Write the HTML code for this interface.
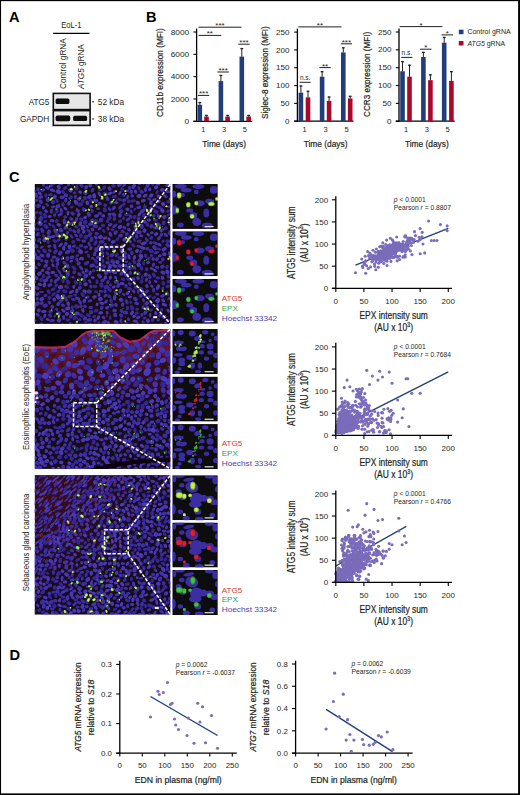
<!DOCTYPE html>
<html><head><meta charset="utf-8"><title>Figure</title><style>
html,body{margin:0;padding:0;background:#fff}
body{width:520px;height:795px;overflow:hidden;position:relative}
svg{position:absolute;left:0;top:0;display:block}
text{font-family:"Liberation Sans",sans-serif}
.hv,.hv text{stroke:#231f20;stroke-width:0.22px}
</style></head><body>
<svg width="520" height="795" viewBox="0 0 520 795">
<g fill="#231f20">
<rect x="0" y="0" width="520" height="1.15" fill="#000" />
<rect x="0" y="0" width="1.05" height="795" fill="#000" />
<rect x="518.1" y="0" width="1.9" height="795" fill="#000" />
<rect x="0" y="793.4" width="520" height="1.6" fill="#000" />
<text x="9" y="21.7" font-size="14.6" fill="#000" font-weight="bold">A</text>
<text x="146" y="21.6" font-size="14.6" fill="#000" font-weight="bold">B</text>
<text x="9" y="182.3" font-size="14.6" fill="#000" font-weight="bold">C</text>
<text x="9.6" y="660.2" font-size="14.6" fill="#000" font-weight="bold">D</text>
<text x="71.3" y="27.8" font-size="9.1" text-anchor="middle" textLength="20.3" lengthAdjust="spacingAndGlyphs">EoL-1</text>
<line x1="53.2" y1="33.3" x2="89.5" y2="33.3" stroke="#000" stroke-width="1.2" />
<text transform="translate(66.1,63.6) rotate(-90)" font-size="9.4" text-anchor="middle" textLength="50.8" lengthAdjust="spacingAndGlyphs">Control gRNA</text>
<text transform="translate(83.6,66.6) rotate(-90)" font-size="9.4" text-anchor="middle" textLength="44.8" lengthAdjust="spacingAndGlyphs"><tspan font-style="italic">ATG5</tspan> gRNA</text>
<rect x="53.3" y="93.4" width="36.8" height="16.2" fill="#e6e6e6" stroke="#111" stroke-width="1.6"/>
<rect x="53.3" y="110.6" width="36.8" height="14.8" fill="#e8e8e8" stroke="#111" stroke-width="1.6"/>
<defs><filter id="bl" x="-20%" y="-50%" width="140%" height="200%"><feGaussianBlur stdDeviation="0.7"/></filter><filter id="bl2" x="-5%" y="-5%" width="110%" height="110%"><feGaussianBlur stdDeviation="0.35"/></filter></defs>
<g filter="url(#bl)">
<rect x="55.6" y="98.4" width="13.8" height="5.6" rx="1.6" fill="#0a0a0a"/>
<rect x="55.6" y="115.6" width="14.6" height="5.6" rx="1.6" fill="#0a0a0a"/>
<rect x="73.1" y="115.8" width="14.0" height="5.2" rx="1.6" fill="#111"/>
</g>
<text x="49.3" y="105.2" font-size="9.3" text-anchor="end" textLength="20.6" lengthAdjust="spacingAndGlyphs">ATG5</text>
<text x="49.3" y="122.3" font-size="9.3" text-anchor="end" textLength="29.4" lengthAdjust="spacingAndGlyphs">GAPDH</text>
<rect x="92.2" y="101.2" width="1.6" height="1.2" fill="#231f20" />
<rect x="92.2" y="118.4" width="1.6" height="1.2" fill="#231f20" />
<text x="97.8" y="105.2" font-size="9.3" textLength="26.2" lengthAdjust="spacingAndGlyphs">52 kDa</text>
<text x="97.8" y="122.3" font-size="9.3" textLength="26.2" lengthAdjust="spacingAndGlyphs">38 kDa</text>
<line x1="196.6" y1="28.6" x2="196.6" y2="121.95" stroke="#000" stroke-width="1.3" />
<line x1="193.4" y1="121.3" x2="252.3" y2="121.3" stroke="#000" stroke-width="1.3" />
<line x1="193.4" y1="121.3" x2="196.6" y2="121.3" stroke="#000" stroke-width="1.1" />
<text x="189.2" y="123.9" font-size="7.4" text-anchor="end" textLength="4.63" lengthAdjust="spacingAndGlyphs">0</text>
<line x1="193.4" y1="98.97" x2="196.6" y2="98.97" stroke="#000" stroke-width="1.1" />
<text x="189.2" y="101.57" font-size="7.4" text-anchor="end" textLength="18.52" lengthAdjust="spacingAndGlyphs">2000</text>
<line x1="193.4" y1="76.65" x2="196.6" y2="76.65" stroke="#000" stroke-width="1.1" />
<text x="189.2" y="79.25" font-size="7.4" text-anchor="end" textLength="18.52" lengthAdjust="spacingAndGlyphs">4000</text>
<line x1="193.4" y1="54.33" x2="196.6" y2="54.33" stroke="#000" stroke-width="1.1" />
<text x="189.2" y="56.93" font-size="7.4" text-anchor="end" textLength="18.52" lengthAdjust="spacingAndGlyphs">6000</text>
<line x1="193.4" y1="32" x2="196.6" y2="32" stroke="#000" stroke-width="1.1" />
<text x="189.2" y="34.6" font-size="7.4" text-anchor="end" textLength="18.52" lengthAdjust="spacingAndGlyphs">8000</text>
<rect x="197.5" y="104.73" width="4.6" height="16.57" fill="#213e79" />
<line x1="199.8" y1="104.73" x2="199.8" y2="102.15" stroke="#231f20" stroke-width="1" />
<line x1="198.4" y1="102.55" x2="201.2" y2="102.55" stroke="#231f20" stroke-width="1.3" />
<rect x="204.2" y="116.61" width="4.6" height="4.69" fill="#a8092b" />
<line x1="206.5" y1="116.61" x2="206.5" y2="115.05" stroke="#231f20" stroke-width="1" />
<line x1="205.1" y1="115.45" x2="207.9" y2="115.45" stroke="#231f20" stroke-width="1.3" />
<rect x="218.6" y="81.1" width="4.6" height="40.2" fill="#213e79" />
<line x1="220.9" y1="81.1" x2="220.9" y2="75.01" stroke="#231f20" stroke-width="1" />
<line x1="219.5" y1="75.41" x2="222.3" y2="75.41" stroke="#231f20" stroke-width="1.3" />
<rect x="225.3" y="116.61" width="4.6" height="4.69" fill="#a8092b" />
<line x1="227.6" y1="116.61" x2="227.6" y2="115.05" stroke="#231f20" stroke-width="1" />
<line x1="226.2" y1="115.45" x2="229" y2="115.45" stroke="#231f20" stroke-width="1.3" />
<rect x="239.5" y="56.56" width="4.6" height="64.74" fill="#213e79" />
<line x1="241.8" y1="56.56" x2="241.8" y2="48.19" stroke="#231f20" stroke-width="1" />
<line x1="240.4" y1="48.59" x2="243.2" y2="48.59" stroke="#231f20" stroke-width="1.3" />
<rect x="246.4" y="116.5" width="4.6" height="4.8" fill="#a8092b" />
<line x1="248.7" y1="116.5" x2="248.7" y2="115.05" stroke="#231f20" stroke-width="1" />
<line x1="247.3" y1="115.45" x2="250.1" y2="115.45" stroke="#231f20" stroke-width="1.3" />
<line x1="198" y1="95.4" x2="209.2" y2="95.4" stroke="#231f20" stroke-width="1" />
<text x="200.5" y="96.4" font-size="8" text-anchor="middle">*</text>
<text x="203.6" y="96.4" font-size="8" text-anchor="middle">*</text>
<text x="206.7" y="96.4" font-size="8" text-anchor="middle">*</text>
<line x1="217.4" y1="72" x2="228.8" y2="72" stroke="#231f20" stroke-width="1" />
<text x="220" y="73" font-size="8" text-anchor="middle">*</text>
<text x="223.1" y="73" font-size="8" text-anchor="middle">*</text>
<text x="226.2" y="73" font-size="8" text-anchor="middle">*</text>
<line x1="238.3" y1="44.2" x2="249.7" y2="44.2" stroke="#231f20" stroke-width="1" />
<text x="240.9" y="45.2" font-size="8" text-anchor="middle">*</text>
<text x="244" y="45.2" font-size="8" text-anchor="middle">*</text>
<text x="247.1" y="45.2" font-size="8" text-anchor="middle">*</text>
<line x1="198.5" y1="35.4" x2="221.2" y2="35.4" stroke="#231f20" stroke-width="1" />
<text x="208.3" y="36.4" font-size="8" text-anchor="middle">*</text>
<text x="211.4" y="36.4" font-size="8" text-anchor="middle">*</text>
<line x1="198.5" y1="27.2" x2="241.5" y2="27.2" stroke="#231f20" stroke-width="1" />
<text x="216.9" y="28.2" font-size="8" text-anchor="middle">*</text>
<text x="220" y="28.2" font-size="8" text-anchor="middle">*</text>
<text x="223.1" y="28.2" font-size="8" text-anchor="middle">*</text>
<text x="203.4" y="132.3" font-size="7.5" text-anchor="middle">1</text>
<text x="224.1" y="132.3" font-size="7.5" text-anchor="middle">3</text>
<text x="244.9" y="132.3" font-size="7.5" text-anchor="middle">5</text>
<text class="hv" x="224.15" y="147.4" font-size="9.9" text-anchor="middle" textLength="43.8" lengthAdjust="spacingAndGlyphs">Time (days)</text>
<text class="hv" transform="translate(162.9,72.6) rotate(-90)" font-size="9.9" text-anchor="middle" textLength="88.7" lengthAdjust="spacingAndGlyphs">CD11b expression (MFI)</text>
<line x1="297.4" y1="28.6" x2="297.4" y2="121.85" stroke="#000" stroke-width="1.3" />
<line x1="294.2" y1="121.2" x2="353.5" y2="121.2" stroke="#000" stroke-width="1.3" />
<line x1="294.2" y1="121.2" x2="297.4" y2="121.2" stroke="#000" stroke-width="1.1" />
<text x="289.4" y="123.8" font-size="7.4" text-anchor="end" textLength="4.5" lengthAdjust="spacingAndGlyphs">0</text>
<line x1="294.2" y1="103.38" x2="297.4" y2="103.38" stroke="#000" stroke-width="1.1" />
<text x="289.4" y="105.98" font-size="7.4" text-anchor="end" textLength="9" lengthAdjust="spacingAndGlyphs">50</text>
<line x1="294.2" y1="85.56" x2="297.4" y2="85.56" stroke="#000" stroke-width="1.1" />
<text x="289.4" y="88.16" font-size="7.4" text-anchor="end" textLength="13.5" lengthAdjust="spacingAndGlyphs">100</text>
<line x1="294.2" y1="67.74" x2="297.4" y2="67.74" stroke="#000" stroke-width="1.1" />
<text x="289.4" y="70.34" font-size="7.4" text-anchor="end" textLength="13.5" lengthAdjust="spacingAndGlyphs">150</text>
<line x1="294.2" y1="49.92" x2="297.4" y2="49.92" stroke="#000" stroke-width="1.1" />
<text x="289.4" y="52.52" font-size="7.4" text-anchor="end" textLength="13.5" lengthAdjust="spacingAndGlyphs">200</text>
<line x1="294.2" y1="32.1" x2="297.4" y2="32.1" stroke="#000" stroke-width="1.1" />
<text x="289.4" y="34.7" font-size="7.4" text-anchor="end" textLength="13.5" lengthAdjust="spacingAndGlyphs">250</text>
<rect x="298.6" y="92.69" width="4.6" height="28.51" fill="#213e79" />
<line x1="300.9" y1="92.69" x2="300.9" y2="85.56" stroke="#231f20" stroke-width="1" />
<line x1="299.5" y1="85.96" x2="302.3" y2="85.96" stroke="#231f20" stroke-width="1.3" />
<rect x="305.7" y="97.32" width="4.6" height="23.88" fill="#a8092b" />
<line x1="308" y1="97.32" x2="308" y2="90.91" stroke="#231f20" stroke-width="1" />
<line x1="306.6" y1="91.31" x2="309.4" y2="91.31" stroke="#231f20" stroke-width="1.3" />
<rect x="319.8" y="76.65" width="4.6" height="44.55" fill="#213e79" />
<line x1="322.1" y1="76.65" x2="322.1" y2="71.3" stroke="#231f20" stroke-width="1" />
<line x1="320.7" y1="71.7" x2="323.5" y2="71.7" stroke="#231f20" stroke-width="1.3" />
<rect x="326.8" y="100.89" width="4.6" height="20.31" fill="#a8092b" />
<line x1="329.1" y1="100.89" x2="329.1" y2="96.61" stroke="#231f20" stroke-width="1" />
<line x1="327.7" y1="97.01" x2="330.5" y2="97.01" stroke="#231f20" stroke-width="1.3" />
<rect x="341" y="52.41" width="4.6" height="68.79" fill="#213e79" />
<line x1="343.3" y1="52.41" x2="343.3" y2="47.43" stroke="#231f20" stroke-width="1" />
<line x1="341.9" y1="47.83" x2="344.7" y2="47.83" stroke="#231f20" stroke-width="1.3" />
<rect x="347.9" y="98.39" width="4.6" height="22.81" fill="#a8092b" />
<line x1="350.2" y1="98.39" x2="350.2" y2="95.9" stroke="#231f20" stroke-width="1" />
<line x1="348.8" y1="96.3" x2="351.6" y2="96.3" stroke="#231f20" stroke-width="1.3" />
<line x1="299.6" y1="82.3" x2="310.7" y2="82.3" stroke="#231f20" stroke-width="1" />
<text x="305.15" y="80.1" font-size="6.8" text-anchor="middle" textLength="10.5" lengthAdjust="spacingAndGlyphs">n.s.</text>
<line x1="319.4" y1="67.6" x2="330.8" y2="67.6" stroke="#231f20" stroke-width="1" />
<text x="323.55" y="68.6" font-size="8" text-anchor="middle">*</text>
<text x="326.65" y="68.6" font-size="8" text-anchor="middle">*</text>
<line x1="340.8" y1="43.8" x2="352" y2="43.8" stroke="#231f20" stroke-width="1" />
<text x="343.3" y="44.8" font-size="8" text-anchor="middle">*</text>
<text x="346.4" y="44.8" font-size="8" text-anchor="middle">*</text>
<text x="349.5" y="44.8" font-size="8" text-anchor="middle">*</text>
<line x1="298.3" y1="26.9" x2="341.5" y2="26.9" stroke="#231f20" stroke-width="1" />
<text x="318.35" y="27.9" font-size="8" text-anchor="middle">*</text>
<text x="321.45" y="27.9" font-size="8" text-anchor="middle">*</text>
<text x="304.6" y="132.3" font-size="7.5" text-anchor="middle">1</text>
<text x="325.6" y="132.3" font-size="7.5" text-anchor="middle">3</text>
<text x="346.6" y="132.3" font-size="7.5" text-anchor="middle">5</text>
<text class="hv" x="325.6" y="147.4" font-size="9.9" text-anchor="middle" textLength="43.8" lengthAdjust="spacingAndGlyphs">Time (days)</text>
<text class="hv" transform="translate(268,72.6) rotate(-90)" font-size="9.9" text-anchor="middle" textLength="92.8" lengthAdjust="spacingAndGlyphs">Siglec-8 expression (MFI)</text>
<line x1="399" y1="28.6" x2="399" y2="121.85" stroke="#000" stroke-width="1.3" />
<line x1="395.8" y1="121.2" x2="454.7" y2="121.2" stroke="#000" stroke-width="1.3" />
<line x1="395.8" y1="121.2" x2="399" y2="121.2" stroke="#000" stroke-width="1.1" />
<text x="391.4" y="123.8" font-size="7.4" text-anchor="end" textLength="4.5" lengthAdjust="spacingAndGlyphs">0</text>
<line x1="395.8" y1="103.36" x2="399" y2="103.36" stroke="#000" stroke-width="1.1" />
<text x="391.4" y="105.96" font-size="7.4" text-anchor="end" textLength="9" lengthAdjust="spacingAndGlyphs">50</text>
<line x1="395.8" y1="85.52" x2="399" y2="85.52" stroke="#000" stroke-width="1.1" />
<text x="391.4" y="88.12" font-size="7.4" text-anchor="end" textLength="13.5" lengthAdjust="spacingAndGlyphs">100</text>
<line x1="395.8" y1="67.68" x2="399" y2="67.68" stroke="#000" stroke-width="1.1" />
<text x="391.4" y="70.28" font-size="7.4" text-anchor="end" textLength="13.5" lengthAdjust="spacingAndGlyphs">150</text>
<line x1="395.8" y1="49.84" x2="399" y2="49.84" stroke="#000" stroke-width="1.1" />
<text x="391.4" y="52.44" font-size="7.4" text-anchor="end" textLength="13.5" lengthAdjust="spacingAndGlyphs">200</text>
<line x1="395.8" y1="32" x2="399" y2="32" stroke="#000" stroke-width="1.1" />
<text x="391.4" y="34.6" font-size="7.4" text-anchor="end" textLength="13.5" lengthAdjust="spacingAndGlyphs">250</text>
<rect x="400.2" y="71.25" width="4.6" height="49.95" fill="#213e79" />
<line x1="402.5" y1="71.25" x2="402.5" y2="61.26" stroke="#231f20" stroke-width="1" />
<line x1="401.1" y1="61.66" x2="403.9" y2="61.66" stroke="#231f20" stroke-width="1.3" />
<rect x="407.2" y="76.6" width="4.6" height="44.6" fill="#a8092b" />
<line x1="409.5" y1="76.6" x2="409.5" y2="64.83" stroke="#231f20" stroke-width="1" />
<line x1="408.1" y1="65.23" x2="410.9" y2="65.23" stroke="#231f20" stroke-width="1.3" />
<rect x="421.1" y="56.98" width="4.6" height="64.22" fill="#213e79" />
<line x1="423.4" y1="56.98" x2="423.4" y2="51.98" stroke="#231f20" stroke-width="1" />
<line x1="422" y1="52.38" x2="424.8" y2="52.38" stroke="#231f20" stroke-width="1.3" />
<rect x="428.1" y="80.17" width="4.6" height="41.03" fill="#a8092b" />
<line x1="430.4" y1="80.17" x2="430.4" y2="74.46" stroke="#231f20" stroke-width="1" />
<line x1="429" y1="74.86" x2="431.8" y2="74.86" stroke="#231f20" stroke-width="1.3" />
<rect x="441.9" y="42.7" width="4.6" height="78.5" fill="#213e79" />
<line x1="444.2" y1="42.7" x2="444.2" y2="37" stroke="#231f20" stroke-width="1" />
<line x1="442.8" y1="37.4" x2="445.6" y2="37.4" stroke="#231f20" stroke-width="1.3" />
<rect x="449.1" y="80.88" width="4.6" height="40.32" fill="#a8092b" />
<line x1="451.4" y1="80.88" x2="451.4" y2="71.25" stroke="#231f20" stroke-width="1" />
<line x1="450" y1="71.65" x2="452.8" y2="71.65" stroke="#231f20" stroke-width="1.3" />
<line x1="401.2" y1="57.4" x2="412.4" y2="57.4" stroke="#231f20" stroke-width="1" />
<text x="406.8" y="55.2" font-size="6.8" text-anchor="middle" textLength="10.5" lengthAdjust="spacingAndGlyphs">n.s.</text>
<line x1="420" y1="49.2" x2="431.5" y2="49.2" stroke="#231f20" stroke-width="1" />
<text x="425.75" y="50.2" font-size="8" text-anchor="middle">*</text>
<line x1="441.5" y1="34.9" x2="453" y2="34.9" stroke="#231f20" stroke-width="1" />
<text x="447.25" y="35.9" font-size="8" text-anchor="middle">*</text>
<line x1="399.6" y1="26.6" x2="442.4" y2="26.6" stroke="#231f20" stroke-width="1" />
<text x="421" y="27.6" font-size="8" text-anchor="middle">*</text>
<text x="406" y="132.3" font-size="7.5" text-anchor="middle">1</text>
<text x="426.9" y="132.3" font-size="7.5" text-anchor="middle">3</text>
<text x="447.6" y="132.3" font-size="7.5" text-anchor="middle">5</text>
<text class="hv" x="426.8" y="147.4" font-size="9.9" text-anchor="middle" textLength="43.8" lengthAdjust="spacingAndGlyphs">Time (days)</text>
<text class="hv" transform="translate(369.9,74.4) rotate(-90)" font-size="9.9" text-anchor="middle" textLength="85" lengthAdjust="spacingAndGlyphs">CCR3 expression (MFI)</text>
<rect x="458.8" y="29.7" width="4.7" height="4.5" fill="#213e79" />
<rect x="458.8" y="41" width="4.7" height="4.5" fill="#a8092b" />
<text x="467.4" y="34.2" font-size="7.1" textLength="43.3" lengthAdjust="spacingAndGlyphs">Control gRNA</text>
<text x="467.4" y="45.6" font-size="7.1" textLength="37.7" lengthAdjust="spacingAndGlyphs"><tspan font-style="italic">ATG5</tspan> gRNA</text>
<line x1="355.48" y1="265.2" x2="448.28" y2="228.3" stroke="#1f3f78" stroke-width="1.3" />
<g fill="#7a6cbb"><circle cx="386.06" cy="250.2" r="1.55"/><circle cx="386.43" cy="254.07" r="1.55"/><circle cx="377.72" cy="257.14" r="1.55"/><circle cx="402.99" cy="243.7" r="1.55"/><circle cx="402.06" cy="244.94" r="1.55"/><circle cx="394.11" cy="248.5" r="1.55"/><circle cx="368.61" cy="255.67" r="1.55"/><circle cx="395.49" cy="246.4" r="1.55"/><circle cx="368.3" cy="268.45" r="1.55"/><circle cx="378.22" cy="258.18" r="1.55"/><circle cx="393.01" cy="250.07" r="1.55"/><circle cx="395.67" cy="251.88" r="1.55"/><circle cx="393.05" cy="247.91" r="1.55"/><circle cx="381.05" cy="246.38" r="1.55"/><circle cx="396.11" cy="242.75" r="1.55"/><circle cx="381.55" cy="258.14" r="1.55"/><circle cx="384.97" cy="253.66" r="1.55"/><circle cx="397.05" cy="246.99" r="1.55"/><circle cx="383.69" cy="258.32" r="1.55"/><circle cx="382.79" cy="248.09" r="1.55"/><circle cx="379.23" cy="254.29" r="1.55"/><circle cx="394.51" cy="256.49" r="1.55"/><circle cx="389.83" cy="244.79" r="1.55"/><circle cx="364.3" cy="263.16" r="1.55"/><circle cx="387.91" cy="255.91" r="1.55"/><circle cx="395.38" cy="249.18" r="1.55"/><circle cx="371.11" cy="254.78" r="1.55"/><circle cx="397.51" cy="243.4" r="1.55"/><circle cx="407.05" cy="242.34" r="1.55"/><circle cx="390.7" cy="257.12" r="1.55"/><circle cx="396.84" cy="251.26" r="1.55"/><circle cx="383.63" cy="259.84" r="1.55"/><circle cx="377.26" cy="258.88" r="1.55"/><circle cx="405.17" cy="254.76" r="1.55"/><circle cx="371.19" cy="257.61" r="1.55"/><circle cx="407.09" cy="241.27" r="1.55"/><circle cx="365.72" cy="273.27" r="1.55"/><circle cx="393.65" cy="253.17" r="1.55"/><circle cx="375.37" cy="252.31" r="1.55"/><circle cx="402.86" cy="245.05" r="1.55"/><circle cx="392.27" cy="248.04" r="1.55"/><circle cx="408.95" cy="240.31" r="1.55"/><circle cx="395.65" cy="246.1" r="1.55"/><circle cx="369.82" cy="253.1" r="1.55"/><circle cx="401.05" cy="243.98" r="1.55"/><circle cx="364.81" cy="264.47" r="1.55"/><circle cx="399.65" cy="255.95" r="1.55"/><circle cx="386.95" cy="247.36" r="1.55"/><circle cx="373" cy="250.2" r="1.55"/><circle cx="396.06" cy="249.33" r="1.55"/><circle cx="393.25" cy="246.59" r="1.55"/><circle cx="390.72" cy="245.21" r="1.55"/><circle cx="381.04" cy="256.76" r="1.55"/><circle cx="402.12" cy="245.99" r="1.55"/><circle cx="378.33" cy="251.25" r="1.55"/><circle cx="407.36" cy="246.14" r="1.55"/><circle cx="372.15" cy="259.04" r="1.55"/><circle cx="387.38" cy="253.6" r="1.55"/><circle cx="406.61" cy="249.28" r="1.55"/><circle cx="404.82" cy="251.19" r="1.55"/><circle cx="379.49" cy="252.31" r="1.55"/><circle cx="403.19" cy="241.5" r="1.55"/><circle cx="393.5" cy="248.95" r="1.55"/><circle cx="391.11" cy="247.82" r="1.55"/><circle cx="387.05" cy="250.94" r="1.55"/><circle cx="396.31" cy="248.49" r="1.55"/><circle cx="398.68" cy="244.77" r="1.55"/><circle cx="414.11" cy="239.64" r="1.55"/><circle cx="383.94" cy="255.37" r="1.55"/><circle cx="389.07" cy="246.97" r="1.55"/><circle cx="385.06" cy="251.22" r="1.55"/><circle cx="411.96" cy="254.58" r="1.55"/><circle cx="375.32" cy="255.9" r="1.55"/><circle cx="394.16" cy="248.22" r="1.55"/><circle cx="383.89" cy="250.39" r="1.55"/><circle cx="392.72" cy="252.51" r="1.55"/><circle cx="419.29" cy="237.37" r="1.55"/><circle cx="382.37" cy="254.69" r="1.55"/><circle cx="386.44" cy="252.84" r="1.55"/><circle cx="408" cy="246.08" r="1.55"/><circle cx="386.04" cy="256.27" r="1.55"/><circle cx="384.22" cy="251.26" r="1.55"/><circle cx="391.32" cy="256.48" r="1.55"/><circle cx="391.24" cy="254.85" r="1.55"/><circle cx="393.04" cy="241.07" r="1.55"/><circle cx="413.33" cy="242.43" r="1.55"/><circle cx="397.11" cy="256.61" r="1.55"/><circle cx="388.66" cy="255.11" r="1.55"/><circle cx="377.7" cy="256.62" r="1.55"/><circle cx="392.12" cy="250" r="1.55"/><circle cx="387.47" cy="248.41" r="1.55"/><circle cx="378.28" cy="267.28" r="1.55"/><circle cx="361.72" cy="258.93" r="1.55"/><circle cx="419.95" cy="239.73" r="1.55"/><circle cx="383.47" cy="251.17" r="1.55"/><circle cx="390.42" cy="247.72" r="1.55"/><circle cx="394.12" cy="242.86" r="1.55"/><circle cx="408.43" cy="249" r="1.55"/><circle cx="371.38" cy="257.79" r="1.55"/><circle cx="390.83" cy="252.69" r="1.55"/><circle cx="374.77" cy="266.35" r="1.55"/><circle cx="393.38" cy="257.64" r="1.55"/><circle cx="381.54" cy="254.12" r="1.55"/><circle cx="391.94" cy="254.53" r="1.55"/><circle cx="399.6" cy="259.49" r="1.55"/><circle cx="379.28" cy="252.46" r="1.55"/><circle cx="408" cy="246.28" r="1.55"/><circle cx="392.34" cy="247.9" r="1.55"/><circle cx="404.84" cy="236.42" r="1.55"/><circle cx="391.65" cy="252.97" r="1.55"/><circle cx="405.26" cy="256.93" r="1.55"/><circle cx="382.9" cy="257.76" r="1.55"/><circle cx="382.98" cy="254.73" r="1.55"/><circle cx="422" cy="236.83" r="1.55"/><circle cx="380.31" cy="259.85" r="1.55"/><circle cx="401.29" cy="248.56" r="1.55"/><circle cx="405.26" cy="251.41" r="1.55"/><circle cx="391.51" cy="246.86" r="1.55"/><circle cx="386.78" cy="248.92" r="1.55"/><circle cx="381.02" cy="256.7" r="1.55"/><circle cx="383.5" cy="252.48" r="1.55"/><circle cx="398.99" cy="249.84" r="1.55"/><circle cx="373.42" cy="256.19" r="1.55"/><circle cx="399.89" cy="249.91" r="1.55"/><circle cx="401.92" cy="249.04" r="1.55"/><circle cx="374.46" cy="258.61" r="1.55"/><circle cx="402.46" cy="245.37" r="1.55"/><circle cx="389.68" cy="250.82" r="1.55"/><circle cx="391.54" cy="253.3" r="1.55"/><circle cx="369.62" cy="258.12" r="1.55"/><circle cx="378.92" cy="257.11" r="1.55"/><circle cx="373.58" cy="258.51" r="1.55"/><circle cx="390.48" cy="253.14" r="1.55"/><circle cx="380.54" cy="256.31" r="1.55"/><circle cx="385.65" cy="244.61" r="1.55"/><circle cx="373.35" cy="258.19" r="1.55"/><circle cx="390.94" cy="261.42" r="1.55"/><circle cx="373.26" cy="255.59" r="1.55"/><circle cx="374.41" cy="257.66" r="1.55"/><circle cx="384.45" cy="258.35" r="1.55"/><circle cx="375.43" cy="258.19" r="1.55"/><circle cx="407.13" cy="246.78" r="1.55"/><circle cx="410.32" cy="250.91" r="1.55"/><circle cx="388.27" cy="245.56" r="1.55"/><circle cx="411.43" cy="245.57" r="1.55"/><circle cx="393.33" cy="247.84" r="1.55"/><circle cx="384.74" cy="252.56" r="1.55"/><circle cx="389.51" cy="249.39" r="1.55"/><circle cx="378.73" cy="263.14" r="1.55"/><circle cx="394.95" cy="250.76" r="1.55"/><circle cx="385.39" cy="259.96" r="1.55"/><circle cx="405.19" cy="236.98" r="1.55"/><circle cx="397.76" cy="248.6" r="1.55"/><circle cx="401.15" cy="247.96" r="1.55"/><circle cx="406.53" cy="243.14" r="1.55"/><circle cx="396.17" cy="244.16" r="1.55"/><circle cx="378.02" cy="256.41" r="1.55"/><circle cx="392.85" cy="245.9" r="1.55"/><circle cx="388.8" cy="252.52" r="1.55"/><circle cx="376.66" cy="258.29" r="1.55"/><circle cx="400.26" cy="246.39" r="1.55"/><circle cx="378.67" cy="259.81" r="1.55"/><circle cx="422.22" cy="232.35" r="1.55"/><circle cx="397.11" cy="260.79" r="1.55"/><circle cx="396.92" cy="245.91" r="1.55"/><circle cx="410.06" cy="240.79" r="1.55"/><circle cx="388.39" cy="249.19" r="1.55"/><circle cx="365.17" cy="256.21" r="1.55"/><circle cx="393.25" cy="253.17" r="1.55"/><circle cx="405.63" cy="235.88" r="1.55"/><circle cx="371.88" cy="261.74" r="1.55"/><circle cx="392.83" cy="249.03" r="1.55"/><circle cx="384.3" cy="258.15" r="1.55"/><circle cx="415.46" cy="235.61" r="1.55"/><circle cx="374.45" cy="263.99" r="1.55"/><circle cx="410.3" cy="237.96" r="1.55"/><circle cx="411.76" cy="238.23" r="1.55"/><circle cx="378.44" cy="254.54" r="1.55"/><circle cx="362.5" cy="265.97" r="1.55"/><circle cx="388.5" cy="249.15" r="1.55"/><circle cx="380.23" cy="255.68" r="1.55"/><circle cx="394.9" cy="247.24" r="1.55"/><circle cx="397.12" cy="247.15" r="1.55"/><circle cx="385.22" cy="249.19" r="1.55"/><circle cx="389.84" cy="255.17" r="1.55"/><circle cx="381.48" cy="254.57" r="1.55"/><circle cx="387.87" cy="251.19" r="1.55"/><circle cx="389.22" cy="250.54" r="1.55"/><circle cx="387.57" cy="258.2" r="1.55"/><circle cx="394.44" cy="244.13" r="1.55"/><circle cx="394.61" cy="250.12" r="1.55"/><circle cx="394.75" cy="253.84" r="1.55"/><circle cx="365.77" cy="260.7" r="1.55"/><circle cx="377.72" cy="252.5" r="1.55"/><circle cx="375.81" cy="269.68" r="1.55"/><circle cx="376.37" cy="248.98" r="1.55"/><circle cx="384.5" cy="259.99" r="1.55"/><circle cx="379.78" cy="252.72" r="1.55"/><circle cx="395.38" cy="248.02" r="1.55"/><circle cx="407.59" cy="240.44" r="1.55"/><circle cx="388.97" cy="248.6" r="1.55"/><circle cx="409.7" cy="238.29" r="1.55"/><circle cx="401.89" cy="251.48" r="1.55"/><circle cx="387.39" cy="248.59" r="1.55"/><circle cx="385.56" cy="247.69" r="1.55"/><circle cx="396.61" cy="243.96" r="1.55"/><circle cx="386.6" cy="240.08" r="1.55"/><circle cx="404.57" cy="246.17" r="1.55"/><circle cx="390.35" cy="238.3" r="1.55"/><circle cx="384.98" cy="248.88" r="1.55"/><circle cx="401.36" cy="246.4" r="1.55"/><circle cx="374.79" cy="256.39" r="1.55"/><circle cx="393.67" cy="244.08" r="1.55"/><circle cx="398.91" cy="247.31" r="1.55"/><circle cx="399.79" cy="244.45" r="1.55"/><circle cx="391.78" cy="250.08" r="1.55"/><circle cx="386.22" cy="249.29" r="1.55"/><circle cx="376.18" cy="259.79" r="1.55"/><circle cx="389.29" cy="258.5" r="1.55"/><circle cx="383.83" cy="263.38" r="1.55"/><circle cx="380.78" cy="252.09" r="1.55"/><circle cx="396.24" cy="248.79" r="1.55"/><circle cx="386.36" cy="259.47" r="1.55"/><circle cx="411.84" cy="239.63" r="1.55"/><circle cx="402.76" cy="250.15" r="1.55"/><circle cx="386.94" cy="261.19" r="1.55"/><circle cx="398.88" cy="242.89" r="1.55"/><circle cx="365.75" cy="261.25" r="1.55"/><circle cx="397.03" cy="256.78" r="1.55"/><circle cx="366.64" cy="265.82" r="1.55"/><circle cx="381.44" cy="261.41" r="1.55"/><circle cx="389.62" cy="250.02" r="1.55"/><circle cx="397.07" cy="244.77" r="1.55"/><circle cx="407.82" cy="238.12" r="1.55"/><circle cx="373" cy="260.5" r="1.55"/><circle cx="376.11" cy="262" r="1.55"/><circle cx="388.22" cy="251.78" r="1.55"/><circle cx="395.3" cy="256.64" r="1.55"/><circle cx="373.91" cy="257.77" r="1.55"/><circle cx="386.76" cy="253.92" r="1.55"/><circle cx="388.45" cy="255.41" r="1.55"/><circle cx="397.9" cy="246.12" r="1.55"/><circle cx="388.14" cy="255.11" r="1.55"/><circle cx="387.07" cy="265.52" r="1.55"/><circle cx="377.09" cy="256.18" r="1.55"/><circle cx="370.62" cy="258.04" r="1.55"/><circle cx="391.05" cy="257.35" r="1.55"/><circle cx="386.13" cy="254.19" r="1.55"/><circle cx="394.92" cy="246.09" r="1.55"/><circle cx="388.78" cy="255.72" r="1.55"/><circle cx="387.44" cy="252.44" r="1.55"/><circle cx="398.32" cy="246.24" r="1.55"/><circle cx="380.29" cy="261.65" r="1.55"/><circle cx="384.61" cy="256.89" r="1.55"/><circle cx="375.47" cy="257.59" r="1.55"/><circle cx="383.15" cy="253.37" r="1.55"/><circle cx="395.7" cy="250.76" r="1.55"/><circle cx="417.99" cy="241.19" r="1.55"/><circle cx="402.86" cy="245.23" r="1.55"/><circle cx="403.04" cy="257.31" r="1.55"/><circle cx="379.93" cy="254" r="1.55"/><circle cx="396.68" cy="236.97" r="1.55"/><circle cx="393.22" cy="243.53" r="1.55"/><circle cx="398.71" cy="242.9" r="1.55"/><circle cx="395.54" cy="249.57" r="1.55"/><circle cx="395.53" cy="254.07" r="1.55"/><circle cx="403.84" cy="250.37" r="1.55"/><circle cx="392.31" cy="239.81" r="1.55"/><circle cx="386.46" cy="252.43" r="1.55"/><circle cx="403.62" cy="245.38" r="1.55"/><circle cx="379.24" cy="254.23" r="1.55"/><circle cx="396.43" cy="244.99" r="1.55"/><circle cx="379.67" cy="246.78" r="1.55"/><circle cx="409.85" cy="242.87" r="1.55"/><circle cx="392.55" cy="252.12" r="1.55"/><circle cx="406.72" cy="247.67" r="1.55"/><circle cx="397.57" cy="250.32" r="1.55"/><circle cx="380.64" cy="251.41" r="1.55"/><circle cx="405.73" cy="244.69" r="1.55"/><circle cx="380.85" cy="250.87" r="1.55"/><circle cx="388.62" cy="250.13" r="1.55"/><circle cx="408.07" cy="238.18" r="1.55"/><circle cx="382.8" cy="242.91" r="1.55"/><circle cx="389.27" cy="247.55" r="1.55"/><circle cx="381.22" cy="254.89" r="1.55"/><circle cx="367.58" cy="251.56" r="1.55"/><circle cx="406.13" cy="250.4" r="1.55"/><circle cx="370.6" cy="266.91" r="1.55"/><circle cx="403.78" cy="247.68" r="1.55"/><circle cx="388.48" cy="253.22" r="1.55"/><circle cx="387.73" cy="257.31" r="1.55"/><circle cx="389.53" cy="258.27" r="1.55"/><circle cx="388.34" cy="250.25" r="1.55"/><circle cx="395.01" cy="250.16" r="1.55"/><circle cx="378.05" cy="255.19" r="1.55"/><circle cx="383.23" cy="246.23" r="1.55"/><circle cx="398.73" cy="248.07" r="1.55"/><circle cx="383.4" cy="257.2" r="1.55"/><circle cx="377.63" cy="257.86" r="1.55"/><circle cx="392.88" cy="247.39" r="1.55"/><circle cx="355.48" cy="272.81" r="1.55"/><circle cx="362.8" cy="267.5" r="1.55"/><circle cx="428.6" cy="221.04" r="1.55"/><circle cx="440.41" cy="224.58" r="1.55"/><circle cx="447.16" cy="225.91" r="1.55"/><circle cx="447.16" cy="230.78" r="1.55"/><circle cx="434.22" cy="240.51" r="1.55"/><circle cx="437.03" cy="240.51" r="1.55"/><circle cx="431.41" cy="240.51" r="1.55"/><circle cx="420.16" cy="228.56" r="1.55"/><circle cx="414.54" cy="231.66" r="1.55"/><circle cx="422.97" cy="244.05" r="1.55"/><circle cx="424.66" cy="252.9" r="1.55"/><circle cx="420.16" cy="253.79" r="1.55"/><circle cx="403.29" cy="256.44" r="1.55"/><circle cx="397.66" cy="257.32" r="1.55"/></g>
<line x1="335.8" y1="196.2" x2="335.8" y2="288.9" stroke="#000" stroke-width="1.3" />
<line x1="331.9" y1="288.3" x2="452" y2="288.3" stroke="#000" stroke-width="1.3" />
<line x1="331.9" y1="288.3" x2="335.8" y2="288.3" stroke="#000" stroke-width="1.1" />
<text x="328.2" y="291.05" font-size="8" text-anchor="end">0</text>
<line x1="335.8" y1="288.3" x2="335.8" y2="291.9" stroke="#000" stroke-width="1.1" />
<text x="335.8" y="303.6" font-size="8" text-anchor="middle">0</text>
<line x1="331.9" y1="266.18" x2="335.8" y2="266.18" stroke="#000" stroke-width="1.1" />
<text x="328.2" y="268.93" font-size="8" text-anchor="end">50</text>
<line x1="363.92" y1="288.3" x2="363.92" y2="291.9" stroke="#000" stroke-width="1.1" />
<text x="363.92" y="303.6" font-size="8" text-anchor="middle">50</text>
<line x1="331.9" y1="244.05" x2="335.8" y2="244.05" stroke="#000" stroke-width="1.1" />
<text x="328.2" y="246.8" font-size="8" text-anchor="end">100</text>
<line x1="392.04" y1="288.3" x2="392.04" y2="291.9" stroke="#000" stroke-width="1.1" />
<text x="392.04" y="303.6" font-size="8" text-anchor="middle">100</text>
<line x1="331.9" y1="221.93" x2="335.8" y2="221.93" stroke="#000" stroke-width="1.1" />
<text x="328.2" y="224.68" font-size="8" text-anchor="end">150</text>
<line x1="420.16" y1="288.3" x2="420.16" y2="291.9" stroke="#000" stroke-width="1.1" />
<text x="420.16" y="303.6" font-size="8" text-anchor="middle">150</text>
<line x1="331.9" y1="199.8" x2="335.8" y2="199.8" stroke="#000" stroke-width="1.1" />
<text x="328.2" y="202.55" font-size="8" text-anchor="end">200</text>
<line x1="448.28" y1="288.3" x2="448.28" y2="291.9" stroke="#000" stroke-width="1.1" />
<text x="448.28" y="303.6" font-size="8" text-anchor="middle">200</text>
<text class="hv" x="393.7" y="318.6" font-size="10.6" text-anchor="middle" textLength="68.4" lengthAdjust="spacingAndGlyphs">EPX intensity sum</text>
<g transform="translate(393.7,330.9) scale(0.80,1)" class="hv"><text x="-24.3" y="0" font-size="10.6">(AU x 10</text><text x="16.9" y="-4.2" font-size="6.6">3</text><text x="20.6" y="0" font-size="10.6">)</text></g>
<text class="hv" transform="translate(294.6,242.75) rotate(-90)" font-size="11.4" text-anchor="middle" textLength="72.7" lengthAdjust="spacingAndGlyphs">ATG5 intensity sum</text>
<g transform="translate(307.6,242.75) rotate(-90) scale(0.80,1)" class="hv"><text x="-24.3" y="0" font-size="10.6">(AU x 10</text><text x="16.9" y="-4.2" font-size="6.6">3</text><text x="20.6" y="0" font-size="10.6">)</text></g>
<text x="393.8" y="202" font-size="6.7"><tspan font-style="italic">p</tspan> &lt; 0.0001</text>
<text x="393.8" y="209.5" font-size="6.7">Pearson <tspan font-style="italic">r</tspan> = 0.8807</text>
<line x1="335.8" y1="428.9" x2="448.28" y2="371.86" stroke="#1f3f78" stroke-width="1.3" />
<g fill="#7a6cbb"><circle cx="343.75" cy="414.05" r="1.55"/><circle cx="364.8" cy="410.52" r="1.55"/><circle cx="339.01" cy="430.67" r="1.55"/><circle cx="339.19" cy="425.28" r="1.55"/><circle cx="337.92" cy="424.29" r="1.55"/><circle cx="342.33" cy="427.25" r="1.55"/><circle cx="343.21" cy="430.76" r="1.55"/><circle cx="341.51" cy="428.48" r="1.55"/><circle cx="349.02" cy="423.84" r="1.55"/><circle cx="337.36" cy="431.75" r="1.55"/><circle cx="347.36" cy="426.11" r="1.55"/><circle cx="356.96" cy="414.55" r="1.55"/><circle cx="343.47" cy="431.72" r="1.55"/><circle cx="354.9" cy="426.35" r="1.55"/><circle cx="347.89" cy="418.57" r="1.55"/><circle cx="353.16" cy="424.38" r="1.55"/><circle cx="341.41" cy="427.22" r="1.55"/><circle cx="346.07" cy="422.03" r="1.55"/><circle cx="350.26" cy="429.03" r="1.55"/><circle cx="338.44" cy="432.69" r="1.55"/><circle cx="353.57" cy="426" r="1.55"/><circle cx="341.35" cy="425.36" r="1.55"/><circle cx="339.03" cy="430.98" r="1.55"/><circle cx="345.64" cy="426.95" r="1.55"/><circle cx="337.88" cy="431.41" r="1.55"/><circle cx="342.45" cy="426.25" r="1.55"/><circle cx="347.19" cy="431.25" r="1.55"/><circle cx="339.87" cy="426.46" r="1.55"/><circle cx="344.87" cy="411.46" r="1.55"/><circle cx="340.82" cy="422.43" r="1.55"/><circle cx="342.67" cy="423.88" r="1.55"/><circle cx="338.06" cy="431.49" r="1.55"/><circle cx="355.41" cy="416.39" r="1.55"/><circle cx="344.51" cy="427.22" r="1.55"/><circle cx="339.22" cy="431.2" r="1.55"/><circle cx="342.68" cy="427.84" r="1.55"/><circle cx="342.29" cy="425.19" r="1.55"/><circle cx="343.96" cy="429.63" r="1.55"/><circle cx="340.5" cy="424.38" r="1.55"/><circle cx="351.73" cy="415.8" r="1.55"/><circle cx="339.77" cy="430.83" r="1.55"/><circle cx="336.26" cy="432.57" r="1.55"/><circle cx="346.04" cy="426.91" r="1.55"/><circle cx="344.69" cy="425.33" r="1.55"/><circle cx="338.56" cy="419.89" r="1.55"/><circle cx="356.48" cy="427.67" r="1.55"/><circle cx="338.97" cy="432.58" r="1.55"/><circle cx="360.61" cy="422.01" r="1.55"/><circle cx="350.59" cy="426.44" r="1.55"/><circle cx="345.04" cy="417.09" r="1.55"/><circle cx="344.08" cy="427.24" r="1.55"/><circle cx="337.58" cy="429.39" r="1.55"/><circle cx="336.03" cy="430.63" r="1.55"/><circle cx="352.55" cy="406.13" r="1.55"/><circle cx="336.66" cy="430.15" r="1.55"/><circle cx="339.59" cy="423.92" r="1.55"/><circle cx="350" cy="420.15" r="1.55"/><circle cx="342.54" cy="428.9" r="1.55"/><circle cx="347.97" cy="428.03" r="1.55"/><circle cx="336.69" cy="426.17" r="1.55"/><circle cx="345.3" cy="426.44" r="1.55"/><circle cx="346.82" cy="430.34" r="1.55"/><circle cx="342.64" cy="431.11" r="1.55"/><circle cx="347.42" cy="414.89" r="1.55"/><circle cx="345.26" cy="427.34" r="1.55"/><circle cx="348.54" cy="427.07" r="1.55"/><circle cx="341.62" cy="418.2" r="1.55"/><circle cx="347.85" cy="424.11" r="1.55"/><circle cx="341.16" cy="427.69" r="1.55"/><circle cx="339.59" cy="428.62" r="1.55"/><circle cx="340.04" cy="428.59" r="1.55"/><circle cx="339.5" cy="423.41" r="1.55"/><circle cx="348.6" cy="424.79" r="1.55"/><circle cx="345.48" cy="420.29" r="1.55"/><circle cx="345.76" cy="410.67" r="1.55"/><circle cx="346.36" cy="422.66" r="1.55"/><circle cx="343.64" cy="428.27" r="1.55"/><circle cx="358.52" cy="426.26" r="1.55"/><circle cx="354.59" cy="419.61" r="1.55"/><circle cx="351.1" cy="427.73" r="1.55"/><circle cx="348.98" cy="423.88" r="1.55"/><circle cx="343.19" cy="425.18" r="1.55"/><circle cx="348.48" cy="422.85" r="1.55"/><circle cx="342.19" cy="426.69" r="1.55"/><circle cx="343.64" cy="431.89" r="1.55"/><circle cx="350.94" cy="423.83" r="1.55"/><circle cx="339.36" cy="426.06" r="1.55"/><circle cx="339.81" cy="428.29" r="1.55"/><circle cx="345.77" cy="431.02" r="1.55"/><circle cx="339.21" cy="414.32" r="1.55"/><circle cx="340.17" cy="431.42" r="1.55"/><circle cx="348.77" cy="424.47" r="1.55"/><circle cx="349.03" cy="424.38" r="1.55"/><circle cx="345.62" cy="427.93" r="1.55"/><circle cx="346.65" cy="429.91" r="1.55"/><circle cx="344.01" cy="431.41" r="1.55"/><circle cx="343.28" cy="425.38" r="1.55"/><circle cx="341.77" cy="433.37" r="1.55"/><circle cx="340.11" cy="418.81" r="1.55"/><circle cx="349.92" cy="430.94" r="1.55"/><circle cx="359.36" cy="403.68" r="1.55"/><circle cx="347.66" cy="406.11" r="1.55"/><circle cx="344.75" cy="427.79" r="1.55"/><circle cx="347.77" cy="428.39" r="1.55"/><circle cx="346.03" cy="427.91" r="1.55"/><circle cx="358.34" cy="428.22" r="1.55"/><circle cx="344.36" cy="432.27" r="1.55"/><circle cx="351.12" cy="411.18" r="1.55"/><circle cx="344.57" cy="418.04" r="1.55"/><circle cx="346.13" cy="424.77" r="1.55"/><circle cx="353.67" cy="419.02" r="1.55"/><circle cx="346.4" cy="425.33" r="1.55"/><circle cx="350.15" cy="428.73" r="1.55"/><circle cx="345.14" cy="430.74" r="1.55"/><circle cx="342.14" cy="424.91" r="1.55"/><circle cx="349.49" cy="424.91" r="1.55"/><circle cx="344.23" cy="430.87" r="1.55"/><circle cx="356.73" cy="427.54" r="1.55"/><circle cx="336.97" cy="432.59" r="1.55"/><circle cx="343.99" cy="426.44" r="1.55"/><circle cx="344.43" cy="428.59" r="1.55"/><circle cx="351.91" cy="415" r="1.55"/><circle cx="351.45" cy="421.87" r="1.55"/><circle cx="341.97" cy="427.98" r="1.55"/><circle cx="347.28" cy="427.92" r="1.55"/><circle cx="351.41" cy="423.17" r="1.55"/><circle cx="349.18" cy="428.11" r="1.55"/><circle cx="351.37" cy="424.14" r="1.55"/><circle cx="341.75" cy="430.37" r="1.55"/><circle cx="353.6" cy="429.48" r="1.55"/><circle cx="338.99" cy="425.2" r="1.55"/><circle cx="338.95" cy="418.56" r="1.55"/><circle cx="339.88" cy="423.18" r="1.55"/><circle cx="337.65" cy="430.66" r="1.55"/><circle cx="347.46" cy="417.29" r="1.55"/><circle cx="340.4" cy="426.22" r="1.55"/><circle cx="339.93" cy="422.1" r="1.55"/><circle cx="346.78" cy="430.99" r="1.55"/><circle cx="340.02" cy="425.25" r="1.55"/><circle cx="340.46" cy="425.37" r="1.55"/><circle cx="340.41" cy="413.02" r="1.55"/><circle cx="351.67" cy="407.61" r="1.55"/><circle cx="344.11" cy="414.65" r="1.55"/><circle cx="344.29" cy="428.16" r="1.55"/><circle cx="355.09" cy="420.88" r="1.55"/><circle cx="354.78" cy="417.15" r="1.55"/><circle cx="342.05" cy="431.53" r="1.55"/><circle cx="341.24" cy="418.67" r="1.55"/><circle cx="351.48" cy="416.36" r="1.55"/><circle cx="358.03" cy="419.6" r="1.55"/><circle cx="341.44" cy="430.01" r="1.55"/><circle cx="349.08" cy="416.33" r="1.55"/><circle cx="341.64" cy="428.17" r="1.55"/><circle cx="337.71" cy="427.76" r="1.55"/><circle cx="344.53" cy="430.2" r="1.55"/><circle cx="346.36" cy="425.41" r="1.55"/><circle cx="343.85" cy="422.21" r="1.55"/><circle cx="352.73" cy="422.94" r="1.55"/><circle cx="346.66" cy="430.71" r="1.55"/><circle cx="338.29" cy="429.28" r="1.55"/><circle cx="337.84" cy="409.17" r="1.55"/><circle cx="353.78" cy="428.29" r="1.55"/><circle cx="347.47" cy="415.99" r="1.55"/><circle cx="340.74" cy="426.7" r="1.55"/><circle cx="346.69" cy="422.29" r="1.55"/><circle cx="344.46" cy="417.36" r="1.55"/><circle cx="348.1" cy="426.63" r="1.55"/><circle cx="338.49" cy="432.67" r="1.55"/><circle cx="346.89" cy="423.93" r="1.55"/><circle cx="339.59" cy="422.57" r="1.55"/><circle cx="337.82" cy="421.22" r="1.55"/><circle cx="349.46" cy="415.56" r="1.55"/><circle cx="344.69" cy="423.09" r="1.55"/><circle cx="347.76" cy="424.46" r="1.55"/><circle cx="342.27" cy="424.38" r="1.55"/><circle cx="340.19" cy="429.07" r="1.55"/><circle cx="343.07" cy="432.17" r="1.55"/><circle cx="351.57" cy="426.28" r="1.55"/><circle cx="348.34" cy="424.64" r="1.55"/><circle cx="337.86" cy="423.73" r="1.55"/><circle cx="342.86" cy="429.62" r="1.55"/><circle cx="352.93" cy="420.07" r="1.55"/><circle cx="343.7" cy="424.32" r="1.55"/><circle cx="353.38" cy="421.22" r="1.55"/><circle cx="352.14" cy="423.7" r="1.55"/><circle cx="343.14" cy="413.57" r="1.55"/><circle cx="347.7" cy="420.24" r="1.55"/><circle cx="341.48" cy="421.23" r="1.55"/><circle cx="342.04" cy="419.32" r="1.55"/><circle cx="348.29" cy="426.37" r="1.55"/><circle cx="346.71" cy="412.45" r="1.55"/><circle cx="339.95" cy="423.03" r="1.55"/><circle cx="348.24" cy="427.27" r="1.55"/><circle cx="347.09" cy="426.86" r="1.55"/><circle cx="353.09" cy="425.36" r="1.55"/><circle cx="343.41" cy="421.34" r="1.55"/><circle cx="341.39" cy="418.82" r="1.55"/><circle cx="357.43" cy="411.53" r="1.55"/><circle cx="337.34" cy="425.03" r="1.55"/><circle cx="350.58" cy="424.07" r="1.55"/><circle cx="343.07" cy="417.63" r="1.55"/><circle cx="341.12" cy="417.76" r="1.55"/><circle cx="351.28" cy="418.33" r="1.55"/><circle cx="349" cy="427.02" r="1.55"/><circle cx="348.18" cy="419.75" r="1.55"/><circle cx="346.4" cy="430.68" r="1.55"/><circle cx="344.6" cy="425.1" r="1.55"/><circle cx="343.16" cy="428.13" r="1.55"/><circle cx="352.51" cy="429.91" r="1.55"/><circle cx="341.46" cy="422.57" r="1.55"/><circle cx="345.4" cy="423.42" r="1.55"/><circle cx="357.18" cy="421.6" r="1.55"/><circle cx="350.47" cy="418.43" r="1.55"/><circle cx="362.6" cy="425.79" r="1.55"/><circle cx="341.25" cy="428.91" r="1.55"/><circle cx="343.51" cy="426.99" r="1.55"/><circle cx="348.81" cy="413.53" r="1.55"/><circle cx="349.72" cy="413" r="1.55"/><circle cx="343.26" cy="418.52" r="1.55"/><circle cx="356.95" cy="421.98" r="1.55"/><circle cx="338.82" cy="429.59" r="1.55"/><circle cx="343.51" cy="430.94" r="1.55"/><circle cx="354.31" cy="423.73" r="1.55"/><circle cx="351.21" cy="426.65" r="1.55"/><circle cx="347.7" cy="425.4" r="1.55"/><circle cx="344.8" cy="421.76" r="1.55"/><circle cx="346.57" cy="411.15" r="1.55"/><circle cx="351.33" cy="430.35" r="1.55"/><circle cx="340.17" cy="419.75" r="1.55"/><circle cx="345.69" cy="423.15" r="1.55"/><circle cx="340.43" cy="423.48" r="1.55"/><circle cx="343.68" cy="425.63" r="1.55"/><circle cx="345.97" cy="429.84" r="1.55"/><circle cx="347.04" cy="418.52" r="1.55"/><circle cx="342.88" cy="420.17" r="1.55"/><circle cx="355.11" cy="425.1" r="1.55"/><circle cx="343.52" cy="430.47" r="1.55"/><circle cx="350.66" cy="423.47" r="1.55"/><circle cx="350.02" cy="423.29" r="1.55"/><circle cx="343.5" cy="421.46" r="1.55"/><circle cx="344.93" cy="424.12" r="1.55"/><circle cx="340.82" cy="429.38" r="1.55"/><circle cx="345.09" cy="423.71" r="1.55"/><circle cx="344.16" cy="429.38" r="1.55"/><circle cx="343.28" cy="422.32" r="1.55"/><circle cx="347.66" cy="427.96" r="1.55"/><circle cx="345.08" cy="420.9" r="1.55"/><circle cx="348.22" cy="428.71" r="1.55"/><circle cx="348.67" cy="430.37" r="1.55"/><circle cx="340.63" cy="429.21" r="1.55"/><circle cx="350.92" cy="428.27" r="1.55"/><circle cx="352.87" cy="421.26" r="1.55"/><circle cx="340.88" cy="427.03" r="1.55"/><circle cx="355.09" cy="423.09" r="1.55"/><circle cx="339.49" cy="428.82" r="1.55"/><circle cx="358.6" cy="421.53" r="1.55"/><circle cx="336.17" cy="432.26" r="1.55"/><circle cx="338.97" cy="429.3" r="1.55"/><circle cx="347.83" cy="416.74" r="1.55"/><circle cx="346.44" cy="422.11" r="1.55"/><circle cx="348.12" cy="417.81" r="1.55"/><circle cx="344.58" cy="424.2" r="1.55"/><circle cx="354.43" cy="424.23" r="1.55"/><circle cx="363.33" cy="416.73" r="1.55"/><circle cx="347.18" cy="419.55" r="1.55"/><circle cx="344.58" cy="426.11" r="1.55"/><circle cx="349.23" cy="419.91" r="1.55"/><circle cx="338.57" cy="427.18" r="1.55"/><circle cx="351.16" cy="423.31" r="1.55"/><circle cx="357.37" cy="422.76" r="1.55"/><circle cx="346.99" cy="427.08" r="1.55"/><circle cx="346.01" cy="414.4" r="1.55"/><circle cx="352.94" cy="423.46" r="1.55"/><circle cx="345.22" cy="428.32" r="1.55"/><circle cx="343.44" cy="430" r="1.55"/><circle cx="338.99" cy="422.89" r="1.55"/><circle cx="339.7" cy="425.56" r="1.55"/><circle cx="346.93" cy="423.67" r="1.55"/><circle cx="339.05" cy="427.28" r="1.55"/><circle cx="345.86" cy="422.59" r="1.55"/><circle cx="342.56" cy="430.39" r="1.55"/><circle cx="350.42" cy="423.21" r="1.55"/><circle cx="345.63" cy="427.97" r="1.55"/><circle cx="368.68" cy="419.4" r="1.55"/><circle cx="346.54" cy="428.49" r="1.55"/><circle cx="355.36" cy="422.47" r="1.55"/><circle cx="336.88" cy="432.16" r="1.55"/><circle cx="341.3" cy="430.14" r="1.55"/><circle cx="362.8" cy="422.23" r="1.55"/><circle cx="344.26" cy="425.38" r="1.55"/><circle cx="339.6" cy="420.42" r="1.55"/><circle cx="342.69" cy="425.34" r="1.55"/><circle cx="365.84" cy="421.18" r="1.55"/><circle cx="340.7" cy="423.41" r="1.55"/><circle cx="341.33" cy="429.65" r="1.55"/><circle cx="352.89" cy="409.81" r="1.55"/><circle cx="339.93" cy="412.52" r="1.55"/><circle cx="349.85" cy="422.57" r="1.55"/><circle cx="338.45" cy="429.67" r="1.55"/><circle cx="339.62" cy="429.41" r="1.55"/><circle cx="337.27" cy="426.82" r="1.55"/><circle cx="344.29" cy="410.42" r="1.55"/><circle cx="342.94" cy="423.55" r="1.55"/><circle cx="345.46" cy="421.42" r="1.55"/><circle cx="343.81" cy="423.78" r="1.55"/><circle cx="339.99" cy="429.8" r="1.55"/><circle cx="349.03" cy="416.54" r="1.55"/><circle cx="344.3" cy="426.33" r="1.55"/><circle cx="342.9" cy="422.1" r="1.55"/><circle cx="356.07" cy="411.31" r="1.55"/><circle cx="341.45" cy="427.77" r="1.55"/><circle cx="337.96" cy="426.24" r="1.55"/><circle cx="358.06" cy="428.26" r="1.55"/><circle cx="342.09" cy="431.04" r="1.55"/><circle cx="341.59" cy="432.69" r="1.55"/><circle cx="340.39" cy="432.31" r="1.55"/><circle cx="344.43" cy="423.74" r="1.55"/><circle cx="341.41" cy="429.72" r="1.55"/><circle cx="337.71" cy="428.95" r="1.55"/><circle cx="345.87" cy="425.55" r="1.55"/><circle cx="351.32" cy="420.57" r="1.55"/><circle cx="340.55" cy="429.89" r="1.55"/><circle cx="340.47" cy="430.28" r="1.55"/><circle cx="348.73" cy="416.97" r="1.55"/><circle cx="349.41" cy="425.56" r="1.55"/><circle cx="344.72" cy="417.14" r="1.55"/><circle cx="344.69" cy="422.96" r="1.55"/><circle cx="347.26" cy="426.79" r="1.55"/><circle cx="345.2" cy="414.72" r="1.55"/><circle cx="347.83" cy="419.76" r="1.55"/><circle cx="349.11" cy="427.38" r="1.55"/><circle cx="342.6" cy="432.51" r="1.55"/><circle cx="338.9" cy="428.62" r="1.55"/><circle cx="343.57" cy="431.99" r="1.55"/><circle cx="351.57" cy="428.34" r="1.55"/><circle cx="341.51" cy="427.98" r="1.55"/><circle cx="343" cy="430.82" r="1.55"/><circle cx="338.76" cy="429.79" r="1.55"/><circle cx="352.47" cy="419.7" r="1.55"/><circle cx="340.1" cy="426.42" r="1.55"/><circle cx="347.69" cy="424.78" r="1.55"/><circle cx="357.78" cy="415.6" r="1.55"/><circle cx="338.53" cy="424.06" r="1.55"/><circle cx="347" cy="411.65" r="1.55"/><circle cx="351.54" cy="425.06" r="1.55"/><circle cx="339.05" cy="424.27" r="1.55"/><circle cx="341.55" cy="431.83" r="1.55"/><circle cx="345.9" cy="429.92" r="1.55"/><circle cx="352.39" cy="423.65" r="1.55"/><circle cx="340.94" cy="431.73" r="1.55"/><circle cx="341.87" cy="424.9" r="1.55"/><circle cx="343.69" cy="427.44" r="1.55"/><circle cx="344.85" cy="428.98" r="1.55"/><circle cx="349.98" cy="421.97" r="1.55"/><circle cx="339.74" cy="424.07" r="1.55"/><circle cx="340.9" cy="429.62" r="1.55"/><circle cx="337.95" cy="426.94" r="1.55"/><circle cx="345.7" cy="420.68" r="1.55"/><circle cx="342.68" cy="418.77" r="1.55"/><circle cx="345.54" cy="425.59" r="1.55"/><circle cx="339.77" cy="422.31" r="1.55"/><circle cx="349.05" cy="430.5" r="1.55"/><circle cx="347.66" cy="425.93" r="1.55"/><circle cx="341.24" cy="419.12" r="1.55"/><circle cx="343.22" cy="425.43" r="1.55"/><circle cx="350.85" cy="425.34" r="1.55"/><circle cx="351.74" cy="426.45" r="1.55"/><circle cx="347.53" cy="419.3" r="1.55"/><circle cx="344.53" cy="421.38" r="1.55"/><circle cx="340.43" cy="422.21" r="1.55"/><circle cx="344.5" cy="430.64" r="1.55"/><circle cx="339.57" cy="420.11" r="1.55"/><circle cx="348.71" cy="425.5" r="1.55"/><circle cx="345.39" cy="426.15" r="1.55"/><circle cx="339.12" cy="425.75" r="1.55"/><circle cx="346.09" cy="425.13" r="1.55"/><circle cx="347.09" cy="431.46" r="1.55"/><circle cx="346.41" cy="423.09" r="1.55"/><circle cx="347.49" cy="426.19" r="1.55"/><circle cx="344.21" cy="429.13" r="1.55"/><circle cx="341.63" cy="432.29" r="1.55"/><circle cx="352.98" cy="420.7" r="1.55"/><circle cx="350.74" cy="429.08" r="1.55"/><circle cx="345.62" cy="420.9" r="1.55"/><circle cx="341.5" cy="423.17" r="1.55"/><circle cx="348.68" cy="422.89" r="1.55"/><circle cx="348.8" cy="427.9" r="1.55"/><circle cx="347.25" cy="429.88" r="1.55"/><circle cx="344.75" cy="423.94" r="1.55"/><circle cx="344.94" cy="430.71" r="1.55"/><circle cx="352.78" cy="405.28" r="1.55"/><circle cx="342.78" cy="426.04" r="1.55"/><circle cx="341.29" cy="427.09" r="1.55"/><circle cx="357.41" cy="406.86" r="1.55"/><circle cx="351.64" cy="420.97" r="1.55"/><circle cx="348.21" cy="430.24" r="1.55"/><circle cx="341.43" cy="427.28" r="1.55"/><circle cx="339.88" cy="418.93" r="1.55"/><circle cx="345.2" cy="428.29" r="1.55"/><circle cx="336.58" cy="430.54" r="1.55"/><circle cx="356.52" cy="425.23" r="1.55"/><circle cx="341.1" cy="432.55" r="1.55"/><circle cx="338.58" cy="425.85" r="1.55"/><circle cx="355.53" cy="417.84" r="1.55"/><circle cx="345.05" cy="427.78" r="1.55"/><circle cx="359.05" cy="416.22" r="1.55"/><circle cx="340.52" cy="429.18" r="1.55"/><circle cx="348.03" cy="413.83" r="1.55"/><circle cx="357.7" cy="413.36" r="1.55"/><circle cx="339.86" cy="424.91" r="1.55"/><circle cx="345.34" cy="413.84" r="1.55"/><circle cx="337.86" cy="428.88" r="1.55"/><circle cx="346.44" cy="430.86" r="1.55"/><circle cx="347.07" cy="430.29" r="1.55"/><circle cx="350.35" cy="419.17" r="1.55"/><circle cx="339.82" cy="427.46" r="1.55"/><circle cx="341.07" cy="425.13" r="1.55"/><circle cx="346.36" cy="428.3" r="1.55"/><circle cx="356.92" cy="423.29" r="1.55"/><circle cx="346.93" cy="418.48" r="1.55"/><circle cx="345.05" cy="401.09" r="1.55"/><circle cx="354.23" cy="417.1" r="1.55"/><circle cx="352.61" cy="419.23" r="1.55"/><circle cx="360.46" cy="416.36" r="1.55"/><circle cx="366.44" cy="409.13" r="1.55"/><circle cx="349.99" cy="416.68" r="1.55"/><circle cx="357.42" cy="417.42" r="1.55"/><circle cx="365.6" cy="419.41" r="1.55"/><circle cx="354.48" cy="410.12" r="1.55"/><circle cx="346.98" cy="405.05" r="1.55"/><circle cx="350.52" cy="407.58" r="1.55"/><circle cx="356.17" cy="415.25" r="1.55"/><circle cx="350.67" cy="420.22" r="1.55"/><circle cx="344.09" cy="403.3" r="1.55"/><circle cx="348.54" cy="407.46" r="1.55"/><circle cx="341.98" cy="409.69" r="1.55"/><circle cx="349.79" cy="411.05" r="1.55"/><circle cx="347.8" cy="420.67" r="1.55"/><circle cx="348.24" cy="417.12" r="1.55"/><circle cx="342.51" cy="406.27" r="1.55"/><circle cx="347.35" cy="413.2" r="1.55"/><circle cx="366.73" cy="404.98" r="1.55"/><circle cx="365.92" cy="403.07" r="1.55"/><circle cx="342.7" cy="416.01" r="1.55"/><circle cx="339.53" cy="407.09" r="1.55"/><circle cx="359.14" cy="414.35" r="1.55"/><circle cx="351.37" cy="407.54" r="1.55"/><circle cx="360.24" cy="416.63" r="1.55"/><circle cx="364.8" cy="414.33" r="1.55"/><circle cx="358.06" cy="418.11" r="1.55"/><circle cx="342.18" cy="401.93" r="1.55"/><circle cx="361.32" cy="406.36" r="1.55"/><circle cx="339.86" cy="421.24" r="1.55"/><circle cx="343.62" cy="417.74" r="1.55"/><circle cx="347.99" cy="413.7" r="1.55"/><circle cx="339.83" cy="415.25" r="1.55"/><circle cx="358.36" cy="418.15" r="1.55"/><circle cx="364.58" cy="409.51" r="1.55"/><circle cx="360.78" cy="416.49" r="1.55"/><circle cx="352.07" cy="406.98" r="1.55"/><circle cx="349.41" cy="422.1" r="1.55"/><circle cx="364.42" cy="404.95" r="1.55"/><circle cx="347.47" cy="421.17" r="1.55"/><circle cx="365.03" cy="408.69" r="1.55"/><circle cx="340.08" cy="416.72" r="1.55"/><circle cx="342.05" cy="404.61" r="1.55"/><circle cx="345.11" cy="401.89" r="1.55"/><circle cx="361.8" cy="420.22" r="1.55"/><circle cx="360.1" cy="413.42" r="1.55"/><circle cx="361.74" cy="403.79" r="1.55"/><circle cx="347.31" cy="420.14" r="1.55"/><circle cx="367.88" cy="412.74" r="1.55"/><circle cx="367.39" cy="406.82" r="1.55"/><circle cx="361.46" cy="403.76" r="1.55"/><circle cx="358.04" cy="412.11" r="1.55"/><circle cx="340.29" cy="406.68" r="1.55"/><circle cx="351.86" cy="410.8" r="1.55"/><circle cx="367.32" cy="419.3" r="1.55"/><circle cx="362.18" cy="421.16" r="1.55"/><circle cx="360.35" cy="404.3" r="1.55"/><circle cx="346.69" cy="410.04" r="1.55"/><circle cx="368.6" cy="408.02" r="1.55"/><circle cx="355.44" cy="416.6" r="1.55"/><circle cx="340.45" cy="414.21" r="1.55"/><circle cx="351.34" cy="417.67" r="1.55"/><circle cx="348.22" cy="419.1" r="1.55"/><circle cx="360.48" cy="407.29" r="1.55"/><circle cx="345.97" cy="416.78" r="1.55"/><circle cx="354.55" cy="412.28" r="1.55"/><circle cx="367.56" cy="414.35" r="1.55"/><circle cx="347.87" cy="402.55" r="1.55"/><circle cx="343" cy="409.66" r="1.55"/><circle cx="348.93" cy="404.08" r="1.55"/><circle cx="355.57" cy="405.3" r="1.55"/><circle cx="343.85" cy="407.38" r="1.55"/><circle cx="357.13" cy="411.92" r="1.55"/><circle cx="362.31" cy="403.74" r="1.55"/><circle cx="342.15" cy="415.72" r="1.55"/><circle cx="349.76" cy="417.56" r="1.55"/><circle cx="340.48" cy="415.91" r="1.55"/><circle cx="344.71" cy="406.6" r="1.55"/><circle cx="352.47" cy="419.63" r="1.55"/><circle cx="348.65" cy="411.76" r="1.55"/><circle cx="349.84" cy="418.41" r="1.55"/><circle cx="340.83" cy="421.89" r="1.55"/><circle cx="369.3" cy="405.52" r="1.55"/><circle cx="341.21" cy="406.26" r="1.55"/><circle cx="368.93" cy="409.65" r="1.55"/><circle cx="341.98" cy="411.31" r="1.55"/><circle cx="352.04" cy="417.93" r="1.55"/><circle cx="359.63" cy="394.83" r="1.55"/><circle cx="363.52" cy="397.46" r="1.55"/><circle cx="355.41" cy="401.39" r="1.55"/><circle cx="358.75" cy="397.17" r="1.55"/><circle cx="360.02" cy="392.51" r="1.55"/><circle cx="364.76" cy="393.5" r="1.55"/><circle cx="361.24" cy="397.51" r="1.55"/><circle cx="361.56" cy="389.47" r="1.55"/><circle cx="363.62" cy="402.2" r="1.55"/><circle cx="362.4" cy="388.61" r="1.55"/><circle cx="362.22" cy="400.43" r="1.55"/><circle cx="359.15" cy="392.44" r="1.55"/><circle cx="361.11" cy="397.8" r="1.55"/><circle cx="357.57" cy="390.98" r="1.55"/><circle cx="356.37" cy="389.19" r="1.55"/><circle cx="360.04" cy="393.54" r="1.55"/><circle cx="356.37" cy="396.98" r="1.55"/><circle cx="361.85" cy="400.33" r="1.55"/><circle cx="365.59" cy="400.07" r="1.55"/><circle cx="356.68" cy="394.52" r="1.55"/><circle cx="361.29" cy="391.88" r="1.55"/><circle cx="358.98" cy="395.48" r="1.55"/><circle cx="359.34" cy="396.89" r="1.55"/><circle cx="353.01" cy="391.01" r="1.55"/><circle cx="360.66" cy="394.08" r="1.55"/><circle cx="358.28" cy="393.73" r="1.55"/><circle cx="359.95" cy="394.98" r="1.55"/><circle cx="362.97" cy="401.28" r="1.55"/><circle cx="360.66" cy="398.77" r="1.55"/><circle cx="359.12" cy="388.95" r="1.55"/><circle cx="377.03" cy="423.08" r="1.55"/><circle cx="371.58" cy="422.62" r="1.55"/><circle cx="381.71" cy="412.51" r="1.55"/><circle cx="389.07" cy="429.78" r="1.55"/><circle cx="370.26" cy="422.5" r="1.55"/><circle cx="378.53" cy="424.98" r="1.55"/><circle cx="367.15" cy="431.85" r="1.55"/><circle cx="371.12" cy="422.05" r="1.55"/><circle cx="391.15" cy="410.35" r="1.55"/><circle cx="387.88" cy="408.63" r="1.55"/><circle cx="390.86" cy="417.89" r="1.55"/><circle cx="386.2" cy="432.51" r="1.55"/><circle cx="382.03" cy="418.17" r="1.55"/><circle cx="370.3" cy="419.16" r="1.55"/><circle cx="390.58" cy="421.52" r="1.55"/><circle cx="381.13" cy="426.26" r="1.55"/><circle cx="371.73" cy="410.96" r="1.55"/><circle cx="361.97" cy="429.14" r="1.55"/><circle cx="382.1" cy="422.39" r="1.55"/><circle cx="363.74" cy="416.83" r="1.55"/><circle cx="372.62" cy="418.91" r="1.55"/><circle cx="373.99" cy="420.24" r="1.55"/><circle cx="378.58" cy="423.72" r="1.55"/><circle cx="364.64" cy="429.36" r="1.55"/><circle cx="388.64" cy="419.76" r="1.55"/><circle cx="364.58" cy="411.56" r="1.55"/><circle cx="368.95" cy="431.59" r="1.55"/><circle cx="377.53" cy="427.51" r="1.55"/><circle cx="376.24" cy="419.61" r="1.55"/><circle cx="368.12" cy="419.12" r="1.55"/><circle cx="364.6" cy="420.67" r="1.55"/><circle cx="379.31" cy="431.98" r="1.55"/><circle cx="373.73" cy="432.15" r="1.55"/><circle cx="374.7" cy="411.53" r="1.55"/><circle cx="378.14" cy="415.42" r="1.55"/><circle cx="384.52" cy="431.08" r="1.55"/><circle cx="391.75" cy="415.23" r="1.55"/><circle cx="364.27" cy="412.4" r="1.55"/><circle cx="373.23" cy="429.6" r="1.55"/><circle cx="390.8" cy="419.37" r="1.55"/><circle cx="385.08" cy="430.5" r="1.55"/><circle cx="385.12" cy="432.57" r="1.55"/><circle cx="368.44" cy="424.35" r="1.55"/><circle cx="361.58" cy="418.56" r="1.55"/><circle cx="367.7" cy="426.24" r="1.55"/><circle cx="382.99" cy="422.95" r="1.55"/><circle cx="388.6" cy="417.86" r="1.55"/><circle cx="388.08" cy="419.38" r="1.55"/><circle cx="389.49" cy="411.34" r="1.55"/><circle cx="366.3" cy="414.61" r="1.55"/><circle cx="371.67" cy="414.14" r="1.55"/><circle cx="382.16" cy="412.52" r="1.55"/><circle cx="364.9" cy="424.33" r="1.55"/><circle cx="383.91" cy="409.32" r="1.55"/><circle cx="383.43" cy="432.94" r="1.55"/><circle cx="379.78" cy="431.47" r="1.55"/><circle cx="378.08" cy="413.11" r="1.55"/><circle cx="364.6" cy="409.91" r="1.55"/><circle cx="381.99" cy="427.43" r="1.55"/><circle cx="367.08" cy="422.41" r="1.55"/><circle cx="387.03" cy="418.89" r="1.55"/><circle cx="364.62" cy="433.53" r="1.55"/><circle cx="364.52" cy="413.17" r="1.55"/><circle cx="366.84" cy="419.6" r="1.55"/><circle cx="370.08" cy="416.13" r="1.55"/><circle cx="372.89" cy="430.31" r="1.55"/><circle cx="388.19" cy="420.02" r="1.55"/><circle cx="382.44" cy="412.97" r="1.55"/><circle cx="390.46" cy="433.71" r="1.55"/><circle cx="371.7" cy="430.13" r="1.55"/><circle cx="366.73" cy="370.35" r="1.55"/><circle cx="379.67" cy="371.24" r="1.55"/><circle cx="389.23" cy="372.12" r="1.55"/><circle cx="377.98" cy="380.09" r="1.55"/><circle cx="372.36" cy="376.1" r="1.55"/><circle cx="382.48" cy="376.99" r="1.55"/><circle cx="392.04" cy="383.18" r="1.55"/><circle cx="369.54" cy="384.51" r="1.55"/><circle cx="411.72" cy="393.36" r="1.55"/><circle cx="420.16" cy="393.36" r="1.55"/><circle cx="406.1" cy="378.76" r="1.55"/><circle cx="407.79" cy="378.76" r="1.55"/><circle cx="347.05" cy="380.09" r="1.55"/><circle cx="349.86" cy="386.72" r="1.55"/><circle cx="344.24" cy="387.61" r="1.55"/><circle cx="341.42" cy="398.23" r="1.55"/><circle cx="397.66" cy="400" r="1.55"/><circle cx="403.29" cy="408.85" r="1.55"/><circle cx="408.91" cy="426.55" r="1.55"/><circle cx="397.66" cy="422.12" r="1.55"/><circle cx="383.6" cy="426.55" r="1.55"/><circle cx="386.42" cy="430.97" r="1.55"/><circle cx="402.16" cy="417.7" r="1.55"/><circle cx="393.16" cy="413.27" r="1.55"/></g>
<line x1="335.8" y1="342.7" x2="335.8" y2="436" stroke="#000" stroke-width="1.3" />
<line x1="331.9" y1="435.4" x2="452" y2="435.4" stroke="#000" stroke-width="1.3" />
<line x1="331.9" y1="435.4" x2="335.8" y2="435.4" stroke="#000" stroke-width="1.1" />
<text x="328.2" y="438.15" font-size="8" text-anchor="end">0</text>
<line x1="335.8" y1="435.4" x2="335.8" y2="439" stroke="#000" stroke-width="1.1" />
<text x="335.8" y="450.7" font-size="8" text-anchor="middle">0</text>
<line x1="331.9" y1="413.27" x2="335.8" y2="413.27" stroke="#000" stroke-width="1.1" />
<text x="328.2" y="416.02" font-size="8" text-anchor="end">50</text>
<line x1="363.92" y1="435.4" x2="363.92" y2="439" stroke="#000" stroke-width="1.1" />
<text x="363.92" y="450.7" font-size="8" text-anchor="middle">50</text>
<line x1="331.9" y1="391.15" x2="335.8" y2="391.15" stroke="#000" stroke-width="1.1" />
<text x="328.2" y="393.9" font-size="8" text-anchor="end">100</text>
<line x1="392.04" y1="435.4" x2="392.04" y2="439" stroke="#000" stroke-width="1.1" />
<text x="392.04" y="450.7" font-size="8" text-anchor="middle">100</text>
<line x1="331.9" y1="369.02" x2="335.8" y2="369.02" stroke="#000" stroke-width="1.1" />
<text x="328.2" y="371.77" font-size="8" text-anchor="end">150</text>
<line x1="420.16" y1="435.4" x2="420.16" y2="439" stroke="#000" stroke-width="1.1" />
<text x="420.16" y="450.7" font-size="8" text-anchor="middle">150</text>
<line x1="331.9" y1="346.9" x2="335.8" y2="346.9" stroke="#000" stroke-width="1.1" />
<text x="328.2" y="349.65" font-size="8" text-anchor="end">200</text>
<line x1="448.28" y1="435.4" x2="448.28" y2="439" stroke="#000" stroke-width="1.1" />
<text x="448.28" y="450.7" font-size="8" text-anchor="middle">200</text>
<text class="hv" x="393.7" y="465.7" font-size="10.6" text-anchor="middle" textLength="68.4" lengthAdjust="spacingAndGlyphs">EPX intensity sum</text>
<g transform="translate(393.7,478) scale(0.80,1)" class="hv"><text x="-24.3" y="0" font-size="10.6">(AU x 10</text><text x="16.9" y="-4.2" font-size="6.6">3</text><text x="20.6" y="0" font-size="10.6">)</text></g>
<text class="hv" transform="translate(294.6,389.55) rotate(-90)" font-size="11.4" text-anchor="middle" textLength="72.7" lengthAdjust="spacingAndGlyphs">ATG5 intensity sum</text>
<g transform="translate(307.6,389.55) rotate(-90) scale(0.80,1)" class="hv"><text x="-24.3" y="0" font-size="10.6">(AU x 10</text><text x="16.9" y="-4.2" font-size="6.6">3</text><text x="20.6" y="0" font-size="10.6">)</text></g>
<text x="393.8" y="348.8" font-size="6.7"><tspan font-style="italic">p</tspan> &lt; 0.0001</text>
<text x="393.8" y="356.5" font-size="6.7">Pearson <tspan font-style="italic">r</tspan> = 0.7684</text>
<line x1="335.8" y1="566.03" x2="406.27" y2="526.34" stroke="#1f3f78" stroke-width="1.3" />
<g fill="#7a6cbb"><circle cx="352.16" cy="555.71" r="1.55"/><circle cx="339.96" cy="581.51" r="1.55"/><circle cx="345.22" cy="566.77" r="1.55"/><circle cx="349.76" cy="577.48" r="1.55"/><circle cx="351.56" cy="557.82" r="1.55"/><circle cx="349.78" cy="555.32" r="1.55"/><circle cx="363.55" cy="558.68" r="1.55"/><circle cx="348.47" cy="570.24" r="1.55"/><circle cx="346.06" cy="563.08" r="1.55"/><circle cx="340.41" cy="580.24" r="1.55"/><circle cx="344.89" cy="576.27" r="1.55"/><circle cx="353.97" cy="557.05" r="1.55"/><circle cx="349.66" cy="567.9" r="1.55"/><circle cx="354.02" cy="563.12" r="1.55"/><circle cx="348.56" cy="560.34" r="1.55"/><circle cx="371.37" cy="548.06" r="1.55"/><circle cx="340.5" cy="569.25" r="1.55"/><circle cx="347.32" cy="560.93" r="1.55"/><circle cx="347.34" cy="574.87" r="1.55"/><circle cx="353.77" cy="564.02" r="1.55"/><circle cx="352.77" cy="541.56" r="1.55"/><circle cx="339.88" cy="580.68" r="1.55"/><circle cx="353.56" cy="562.1" r="1.55"/><circle cx="359.68" cy="576.37" r="1.55"/><circle cx="355.42" cy="567.73" r="1.55"/><circle cx="347.51" cy="574.26" r="1.55"/><circle cx="360.42" cy="544.26" r="1.55"/><circle cx="356.77" cy="575.47" r="1.55"/><circle cx="347.97" cy="567.82" r="1.55"/><circle cx="352.32" cy="577.8" r="1.55"/><circle cx="355.48" cy="568.63" r="1.55"/><circle cx="350.04" cy="559.5" r="1.55"/><circle cx="341.23" cy="577.32" r="1.55"/><circle cx="371.66" cy="541.7" r="1.55"/><circle cx="351.69" cy="569.56" r="1.55"/><circle cx="346.49" cy="566.14" r="1.55"/><circle cx="348.87" cy="567.48" r="1.55"/><circle cx="363.46" cy="555.19" r="1.55"/><circle cx="351.06" cy="575.48" r="1.55"/><circle cx="347.94" cy="565.71" r="1.55"/><circle cx="344.87" cy="566.08" r="1.55"/><circle cx="348.06" cy="566.26" r="1.55"/><circle cx="358.12" cy="579.15" r="1.55"/><circle cx="348.69" cy="573.63" r="1.55"/><circle cx="366.02" cy="557.19" r="1.55"/><circle cx="345.13" cy="572.55" r="1.55"/><circle cx="354.05" cy="556.37" r="1.55"/><circle cx="359.69" cy="559.76" r="1.55"/><circle cx="350.52" cy="564.8" r="1.55"/><circle cx="351.76" cy="567.78" r="1.55"/><circle cx="364.81" cy="556.04" r="1.55"/><circle cx="339.15" cy="571.41" r="1.55"/><circle cx="344.75" cy="572.67" r="1.55"/><circle cx="346.11" cy="559.53" r="1.55"/><circle cx="349.91" cy="564.11" r="1.55"/><circle cx="363.15" cy="544.65" r="1.55"/><circle cx="355.83" cy="557.97" r="1.55"/><circle cx="368.91" cy="536.66" r="1.55"/><circle cx="354.58" cy="550.6" r="1.55"/><circle cx="363.67" cy="547.97" r="1.55"/><circle cx="348.71" cy="565.13" r="1.55"/><circle cx="352.98" cy="560.86" r="1.55"/><circle cx="363.66" cy="568.9" r="1.55"/><circle cx="345.97" cy="581.51" r="1.55"/><circle cx="348.42" cy="568.48" r="1.55"/><circle cx="350.03" cy="577.86" r="1.55"/><circle cx="356.7" cy="563.08" r="1.55"/><circle cx="350.22" cy="564.76" r="1.55"/><circle cx="340.51" cy="578.96" r="1.55"/><circle cx="351.99" cy="570.42" r="1.55"/><circle cx="354.49" cy="563.81" r="1.55"/><circle cx="338.37" cy="569.98" r="1.55"/><circle cx="366.26" cy="579.16" r="1.55"/><circle cx="341.02" cy="581.51" r="1.55"/><circle cx="354.91" cy="564.23" r="1.55"/><circle cx="342.55" cy="579.06" r="1.55"/><circle cx="344.52" cy="564.42" r="1.55"/><circle cx="342.42" cy="564.68" r="1.55"/><circle cx="361.11" cy="567.58" r="1.55"/><circle cx="354.26" cy="559.04" r="1.55"/><circle cx="353.42" cy="570.14" r="1.55"/><circle cx="348.5" cy="576.58" r="1.55"/><circle cx="358.58" cy="560.69" r="1.55"/><circle cx="359.31" cy="546.01" r="1.55"/><circle cx="359.74" cy="564.45" r="1.55"/><circle cx="370.27" cy="534.64" r="1.55"/><circle cx="351.06" cy="567.88" r="1.55"/><circle cx="367.25" cy="541.54" r="1.55"/><circle cx="343.81" cy="564.64" r="1.55"/><circle cx="356.03" cy="561.62" r="1.55"/><circle cx="359.68" cy="575.94" r="1.55"/><circle cx="346.34" cy="554.09" r="1.55"/><circle cx="359.08" cy="557.91" r="1.55"/><circle cx="343.88" cy="571.33" r="1.55"/><circle cx="341.21" cy="581.51" r="1.55"/><circle cx="345.21" cy="571.19" r="1.55"/><circle cx="367.17" cy="556.52" r="1.55"/><circle cx="345.1" cy="568.27" r="1.55"/><circle cx="358.47" cy="555.71" r="1.55"/><circle cx="339.56" cy="577.5" r="1.55"/><circle cx="359.81" cy="557.89" r="1.55"/><circle cx="352.09" cy="543.62" r="1.55"/><circle cx="355.5" cy="570.68" r="1.55"/><circle cx="351.21" cy="554.84" r="1.55"/><circle cx="348.36" cy="565.64" r="1.55"/><circle cx="358.34" cy="562.53" r="1.55"/><circle cx="341.45" cy="578.17" r="1.55"/><circle cx="363.15" cy="563.48" r="1.55"/><circle cx="341.21" cy="580.43" r="1.55"/><circle cx="365.9" cy="557.75" r="1.55"/><circle cx="367.52" cy="557.37" r="1.55"/><circle cx="346.88" cy="573.31" r="1.55"/><circle cx="347.1" cy="574.22" r="1.55"/><circle cx="345.75" cy="568.61" r="1.55"/><circle cx="359.17" cy="564.03" r="1.55"/><circle cx="372.71" cy="555.02" r="1.55"/><circle cx="346.07" cy="574.06" r="1.55"/><circle cx="363.1" cy="558.52" r="1.55"/><circle cx="363.38" cy="557.7" r="1.55"/><circle cx="361.45" cy="543.11" r="1.55"/><circle cx="347.53" cy="573.2" r="1.55"/><circle cx="364.4" cy="546.06" r="1.55"/><circle cx="344.67" cy="575.29" r="1.55"/><circle cx="351.06" cy="575.55" r="1.55"/><circle cx="354.02" cy="559.79" r="1.55"/><circle cx="364.04" cy="559.71" r="1.55"/><circle cx="349.1" cy="565.16" r="1.55"/><circle cx="345.22" cy="581.51" r="1.55"/><circle cx="363.14" cy="548.73" r="1.55"/><circle cx="339.25" cy="576.18" r="1.55"/><circle cx="343.17" cy="571.87" r="1.55"/><circle cx="365.48" cy="554.55" r="1.55"/><circle cx="344.37" cy="572.05" r="1.55"/><circle cx="344.87" cy="574.45" r="1.55"/><circle cx="356.81" cy="555.18" r="1.55"/><circle cx="365.86" cy="549.48" r="1.55"/><circle cx="357.81" cy="543.5" r="1.55"/><circle cx="339.8" cy="581.51" r="1.55"/><circle cx="346.49" cy="567.22" r="1.55"/><circle cx="340.1" cy="581.51" r="1.55"/><circle cx="352.23" cy="564.35" r="1.55"/><circle cx="342.95" cy="566" r="1.55"/><circle cx="338.92" cy="570.96" r="1.55"/><circle cx="363.81" cy="556.18" r="1.55"/><circle cx="343.46" cy="576.12" r="1.55"/><circle cx="350.52" cy="566.38" r="1.55"/><circle cx="345.14" cy="572.68" r="1.55"/><circle cx="358.49" cy="564.5" r="1.55"/><circle cx="352.13" cy="559.91" r="1.55"/><circle cx="352.03" cy="560.8" r="1.55"/><circle cx="365.87" cy="557.8" r="1.55"/><circle cx="369.29" cy="545.71" r="1.55"/><circle cx="364.02" cy="556.39" r="1.55"/><circle cx="345.09" cy="576.62" r="1.55"/><circle cx="347.15" cy="567.57" r="1.55"/><circle cx="352.32" cy="564.25" r="1.55"/><circle cx="350.09" cy="573.67" r="1.55"/><circle cx="338.07" cy="578.97" r="1.55"/><circle cx="356.96" cy="567.29" r="1.55"/><circle cx="353.27" cy="572.46" r="1.55"/><circle cx="357.03" cy="544.62" r="1.55"/><circle cx="357.85" cy="562.53" r="1.55"/><circle cx="349.9" cy="570.43" r="1.55"/><circle cx="369.8" cy="541.51" r="1.55"/><circle cx="349.65" cy="573.13" r="1.55"/><circle cx="344.15" cy="567.4" r="1.55"/><circle cx="373.85" cy="533.42" r="1.55"/><circle cx="366.32" cy="553.23" r="1.55"/><circle cx="346.94" cy="574.93" r="1.55"/><circle cx="346.63" cy="574.3" r="1.55"/><circle cx="345.63" cy="560.82" r="1.55"/><circle cx="360.02" cy="547.8" r="1.55"/><circle cx="365.31" cy="540.95" r="1.55"/><circle cx="348.37" cy="565.06" r="1.55"/><circle cx="355.78" cy="569.09" r="1.55"/><circle cx="369.68" cy="553.44" r="1.55"/><circle cx="336.47" cy="578.58" r="1.55"/><circle cx="352.35" cy="580.28" r="1.55"/><circle cx="354.35" cy="557.73" r="1.55"/><circle cx="355.33" cy="562.92" r="1.55"/><circle cx="358.65" cy="569.64" r="1.55"/><circle cx="349.78" cy="559.25" r="1.55"/><circle cx="352.73" cy="573.72" r="1.55"/><circle cx="348.33" cy="575.59" r="1.55"/><circle cx="355.31" cy="568.26" r="1.55"/><circle cx="354.88" cy="564.62" r="1.55"/><circle cx="347.16" cy="562.73" r="1.55"/><circle cx="357.97" cy="565.69" r="1.55"/><circle cx="352.63" cy="570.37" r="1.55"/><circle cx="344.12" cy="571.29" r="1.55"/><circle cx="366.38" cy="564.82" r="1.55"/><circle cx="352.76" cy="566.55" r="1.55"/><circle cx="361.08" cy="557.59" r="1.55"/><circle cx="361.41" cy="552.32" r="1.55"/><circle cx="351.22" cy="575.13" r="1.55"/><circle cx="364.56" cy="568.35" r="1.55"/><circle cx="363.31" cy="547.63" r="1.55"/><circle cx="361.81" cy="555.05" r="1.55"/><circle cx="361.25" cy="554.21" r="1.55"/><circle cx="346.87" cy="566.87" r="1.55"/><circle cx="342.88" cy="580.39" r="1.55"/><circle cx="352.61" cy="554.04" r="1.55"/><circle cx="351.05" cy="559.81" r="1.55"/><circle cx="373.37" cy="542.45" r="1.55"/><circle cx="357.16" cy="570.17" r="1.55"/><circle cx="360.53" cy="555.34" r="1.55"/><circle cx="359.16" cy="552" r="1.55"/><circle cx="349.23" cy="558.81" r="1.55"/><circle cx="352.6" cy="564.4" r="1.55"/><circle cx="348.69" cy="561.23" r="1.55"/><circle cx="349.52" cy="562.62" r="1.55"/><circle cx="353.8" cy="563.4" r="1.55"/><circle cx="341.1" cy="570.07" r="1.55"/><circle cx="347.37" cy="559.1" r="1.55"/><circle cx="348.36" cy="567.78" r="1.55"/><circle cx="342.47" cy="560.97" r="1.55"/><circle cx="355.5" cy="559.16" r="1.55"/><circle cx="350.41" cy="570.68" r="1.55"/><circle cx="360.31" cy="564.76" r="1.55"/><circle cx="340.42" cy="579.14" r="1.55"/><circle cx="350.83" cy="574.42" r="1.55"/><circle cx="347.79" cy="560.57" r="1.55"/><circle cx="350.08" cy="575.16" r="1.55"/><circle cx="348.93" cy="578.7" r="1.55"/><circle cx="349.61" cy="581.51" r="1.55"/><circle cx="345.46" cy="578.32" r="1.55"/><circle cx="369.65" cy="553.12" r="1.55"/><circle cx="356.32" cy="569.57" r="1.55"/><circle cx="348.47" cy="557.4" r="1.55"/><circle cx="349.49" cy="562.23" r="1.55"/><circle cx="352.72" cy="581.51" r="1.55"/><circle cx="359.1" cy="559.22" r="1.55"/><circle cx="339.33" cy="581.51" r="1.55"/><circle cx="351.26" cy="570.74" r="1.55"/><circle cx="362.11" cy="565.76" r="1.55"/><circle cx="364.37" cy="549.99" r="1.55"/><circle cx="350.77" cy="575.48" r="1.55"/><circle cx="361.52" cy="557.04" r="1.55"/><circle cx="356.45" cy="562.3" r="1.55"/><circle cx="340.25" cy="581.51" r="1.55"/><circle cx="356.72" cy="574.86" r="1.55"/><circle cx="359.53" cy="564.12" r="1.55"/><circle cx="343.39" cy="572.11" r="1.55"/><circle cx="361.24" cy="554.39" r="1.55"/><circle cx="342.84" cy="563.68" r="1.55"/><circle cx="353.65" cy="557.19" r="1.55"/><circle cx="340.98" cy="578.8" r="1.55"/><circle cx="351.72" cy="576.62" r="1.55"/><circle cx="340.97" cy="576.99" r="1.55"/><circle cx="354.14" cy="571.39" r="1.55"/><circle cx="373.74" cy="539.05" r="1.55"/><circle cx="344.22" cy="581.51" r="1.55"/><circle cx="348.57" cy="569.1" r="1.55"/><circle cx="371.7" cy="549.33" r="1.55"/><circle cx="347.37" cy="569.78" r="1.55"/><circle cx="346.95" cy="563.55" r="1.55"/><circle cx="362.92" cy="566.51" r="1.55"/><circle cx="350.35" cy="569.91" r="1.55"/><circle cx="340.79" cy="579.01" r="1.55"/><circle cx="360.66" cy="541.89" r="1.55"/><circle cx="362.82" cy="556.8" r="1.55"/><circle cx="340.84" cy="570.44" r="1.55"/><circle cx="352.98" cy="570.76" r="1.55"/><circle cx="351.86" cy="559.5" r="1.55"/><circle cx="354.14" cy="573.17" r="1.55"/><circle cx="345.68" cy="561.41" r="1.55"/><circle cx="365.91" cy="556.81" r="1.55"/><circle cx="348.17" cy="569.45" r="1.55"/><circle cx="352.89" cy="573.17" r="1.55"/><circle cx="348.36" cy="563.43" r="1.55"/><circle cx="347.34" cy="567.64" r="1.55"/><circle cx="357.63" cy="567.45" r="1.55"/><circle cx="360.68" cy="566.32" r="1.55"/><circle cx="366.85" cy="558.88" r="1.55"/><circle cx="350.88" cy="564.53" r="1.55"/><circle cx="350.64" cy="568.4" r="1.55"/><circle cx="355.59" cy="547.15" r="1.55"/><circle cx="341.72" cy="570.08" r="1.55"/><circle cx="354.45" cy="555.81" r="1.55"/><circle cx="353.57" cy="548.11" r="1.55"/><circle cx="360.61" cy="571.35" r="1.55"/><circle cx="356.58" cy="561.55" r="1.55"/><circle cx="347.78" cy="565.64" r="1.55"/><circle cx="344.23" cy="559.4" r="1.55"/><circle cx="365.82" cy="552.91" r="1.55"/><circle cx="342.61" cy="570.32" r="1.55"/><circle cx="360.03" cy="550.35" r="1.55"/><circle cx="356.13" cy="564.63" r="1.55"/><circle cx="347" cy="560.67" r="1.55"/><circle cx="344.48" cy="577.44" r="1.55"/><circle cx="341.05" cy="575.14" r="1.55"/><circle cx="361.97" cy="559.67" r="1.55"/><circle cx="347.76" cy="567.95" r="1.55"/><circle cx="348.26" cy="559.08" r="1.55"/><circle cx="353.56" cy="554.37" r="1.55"/><circle cx="348.37" cy="555.34" r="1.55"/><circle cx="362.18" cy="547.88" r="1.55"/><circle cx="370.57" cy="535.72" r="1.55"/><circle cx="349.74" cy="560.27" r="1.55"/><circle cx="355.63" cy="560.85" r="1.55"/><circle cx="346.23" cy="573.21" r="1.55"/><circle cx="351.31" cy="567" r="1.55"/><circle cx="358.17" cy="571.82" r="1.55"/><circle cx="343.26" cy="568.43" r="1.55"/><circle cx="361.67" cy="543.13" r="1.55"/><circle cx="373.14" cy="532.03" r="1.55"/><circle cx="367.14" cy="560.69" r="1.55"/><circle cx="348.84" cy="569.08" r="1.55"/><circle cx="358.88" cy="579.33" r="1.55"/><circle cx="342.53" cy="572.97" r="1.55"/><circle cx="351.77" cy="558.9" r="1.55"/><circle cx="353.07" cy="572.52" r="1.55"/><circle cx="342.36" cy="570.12" r="1.55"/><circle cx="364.51" cy="549.55" r="1.55"/><circle cx="362.35" cy="554.04" r="1.55"/><circle cx="339.77" cy="561.58" r="1.55"/><circle cx="354.52" cy="556.23" r="1.55"/><circle cx="367.48" cy="554.46" r="1.55"/><circle cx="356.06" cy="555.15" r="1.55"/><circle cx="350.98" cy="564.22" r="1.55"/><circle cx="346.78" cy="570" r="1.55"/><circle cx="360.15" cy="564.15" r="1.55"/><circle cx="347.85" cy="560.58" r="1.55"/><circle cx="342.63" cy="569.67" r="1.55"/><circle cx="353.34" cy="561.88" r="1.55"/><circle cx="351.24" cy="576.01" r="1.55"/><circle cx="339.85" cy="578.32" r="1.55"/><circle cx="355.79" cy="562.65" r="1.55"/><circle cx="343.82" cy="577.75" r="1.55"/><circle cx="349.39" cy="570.86" r="1.55"/><circle cx="356.25" cy="559.4" r="1.55"/><circle cx="367.29" cy="547.9" r="1.55"/><circle cx="348.52" cy="560.27" r="1.55"/><circle cx="351.67" cy="578.72" r="1.55"/><circle cx="344.32" cy="560.28" r="1.55"/><circle cx="343.35" cy="565.02" r="1.55"/><circle cx="352.03" cy="569.19" r="1.55"/><circle cx="351.39" cy="566.83" r="1.55"/><circle cx="344.74" cy="579.37" r="1.55"/><circle cx="349.23" cy="569.69" r="1.55"/><circle cx="345.61" cy="574.59" r="1.55"/><circle cx="343.67" cy="569.8" r="1.55"/><circle cx="346.61" cy="564.19" r="1.55"/><circle cx="364.39" cy="563.03" r="1.55"/><circle cx="338.51" cy="570.03" r="1.55"/><circle cx="360.27" cy="562.14" r="1.55"/><circle cx="353.8" cy="566.12" r="1.55"/><circle cx="358.87" cy="565.47" r="1.55"/><circle cx="344.45" cy="571.86" r="1.55"/><circle cx="349.78" cy="565.47" r="1.55"/><circle cx="352.54" cy="569.27" r="1.55"/><circle cx="342.21" cy="560.35" r="1.55"/><circle cx="354" cy="562.75" r="1.55"/><circle cx="360.02" cy="547.33" r="1.55"/><circle cx="357.64" cy="555.03" r="1.55"/><circle cx="354.53" cy="561.11" r="1.55"/><circle cx="370.91" cy="536.58" r="1.55"/><circle cx="357.07" cy="558.35" r="1.55"/><circle cx="361.13" cy="566.65" r="1.55"/><circle cx="351.25" cy="554.52" r="1.55"/><circle cx="366" cy="531.84" r="1.55"/><circle cx="350.17" cy="565.79" r="1.55"/><circle cx="350.07" cy="562.33" r="1.55"/><circle cx="358.35" cy="556.92" r="1.55"/><circle cx="356.69" cy="557.21" r="1.55"/><circle cx="344.07" cy="567" r="1.55"/><circle cx="345.63" cy="569.57" r="1.55"/><circle cx="370.12" cy="541.88" r="1.55"/><circle cx="373.47" cy="544.73" r="1.55"/><circle cx="352.05" cy="573.9" r="1.55"/><circle cx="359.85" cy="546.98" r="1.55"/><circle cx="355.51" cy="569.94" r="1.55"/><circle cx="345.65" cy="580.17" r="1.55"/><circle cx="360.11" cy="570.58" r="1.55"/><circle cx="342.51" cy="574.55" r="1.55"/><circle cx="344.69" cy="577.69" r="1.55"/><circle cx="369.13" cy="558.8" r="1.55"/><circle cx="343.91" cy="581.51" r="1.55"/><circle cx="361.66" cy="539.87" r="1.55"/><circle cx="358.7" cy="566.99" r="1.55"/><circle cx="361.82" cy="553.56" r="1.55"/><circle cx="350.67" cy="576.07" r="1.55"/><circle cx="361.54" cy="553.78" r="1.55"/><circle cx="347.87" cy="581.51" r="1.55"/><circle cx="368.72" cy="574.48" r="1.55"/><circle cx="343.31" cy="575.82" r="1.55"/><circle cx="369.38" cy="549.39" r="1.55"/><circle cx="362.06" cy="563.72" r="1.55"/><circle cx="346.43" cy="567.59" r="1.55"/><circle cx="346.54" cy="562.63" r="1.55"/><circle cx="351.95" cy="555.76" r="1.55"/><circle cx="357.62" cy="567.74" r="1.55"/><circle cx="349.75" cy="564.56" r="1.55"/><circle cx="356.81" cy="575.8" r="1.55"/><circle cx="367.3" cy="548.41" r="1.55"/><circle cx="342.31" cy="579.4" r="1.55"/><circle cx="355.95" cy="558.39" r="1.55"/><circle cx="354.42" cy="569.68" r="1.55"/><circle cx="361.98" cy="557.01" r="1.55"/><circle cx="351.87" cy="566.29" r="1.55"/><circle cx="338.62" cy="567.98" r="1.55"/><circle cx="350.31" cy="558.13" r="1.55"/><circle cx="354.67" cy="570.23" r="1.55"/><circle cx="346" cy="568.77" r="1.55"/><circle cx="348.96" cy="562.31" r="1.55"/><circle cx="347.73" cy="577.25" r="1.55"/><circle cx="342.35" cy="574.79" r="1.55"/><circle cx="350.82" cy="554.86" r="1.55"/><circle cx="356.19" cy="560.56" r="1.55"/><circle cx="356.81" cy="565.41" r="1.55"/><circle cx="340.3" cy="573.37" r="1.55"/><circle cx="347.3" cy="573.43" r="1.55"/><circle cx="368.46" cy="556.32" r="1.55"/><circle cx="364.35" cy="550.33" r="1.55"/><circle cx="354.82" cy="556.86" r="1.55"/><circle cx="352.11" cy="570.14" r="1.55"/><circle cx="368.31" cy="580.65" r="1.55"/><circle cx="345.41" cy="571.8" r="1.55"/><circle cx="361.75" cy="551.77" r="1.55"/><circle cx="336.21" cy="572.47" r="1.55"/><circle cx="345.04" cy="564.14" r="1.55"/><circle cx="360.94" cy="561.35" r="1.55"/><circle cx="346.85" cy="571.68" r="1.55"/><circle cx="353.36" cy="561.46" r="1.55"/><circle cx="363.07" cy="565.02" r="1.55"/><circle cx="366.46" cy="554.33" r="1.55"/><circle cx="364.54" cy="556.94" r="1.55"/><circle cx="355.18" cy="565.61" r="1.55"/><circle cx="350.86" cy="559.53" r="1.55"/><circle cx="356.19" cy="564.04" r="1.55"/><circle cx="353.86" cy="552.01" r="1.55"/><circle cx="351.7" cy="543.63" r="1.55"/><circle cx="359.28" cy="548.6" r="1.55"/><circle cx="348.58" cy="535.27" r="1.55"/><circle cx="342.55" cy="539.21" r="1.55"/><circle cx="354.88" cy="546.95" r="1.55"/><circle cx="350.24" cy="541.55" r="1.55"/><circle cx="358.96" cy="542.17" r="1.55"/><circle cx="356.18" cy="561.51" r="1.55"/><circle cx="347.83" cy="558.67" r="1.55"/><circle cx="360.18" cy="537.64" r="1.55"/><circle cx="344.27" cy="546.11" r="1.55"/><circle cx="352.78" cy="561.19" r="1.55"/><circle cx="349.14" cy="541.65" r="1.55"/><circle cx="354.05" cy="554.66" r="1.55"/><circle cx="356.43" cy="554.37" r="1.55"/><circle cx="352.14" cy="550.76" r="1.55"/><circle cx="360.68" cy="544.4" r="1.55"/><circle cx="357.27" cy="543.63" r="1.55"/><circle cx="348.91" cy="535.64" r="1.55"/><circle cx="355.39" cy="543.23" r="1.55"/><circle cx="346.89" cy="557.97" r="1.55"/><circle cx="352.75" cy="539.46" r="1.55"/><circle cx="357.05" cy="552.81" r="1.55"/><circle cx="344.18" cy="548.1" r="1.55"/><circle cx="358.69" cy="557.97" r="1.55"/><circle cx="355.96" cy="557.73" r="1.55"/><circle cx="347.56" cy="561" r="1.55"/><circle cx="347.28" cy="551.81" r="1.55"/><circle cx="360.46" cy="535.67" r="1.55"/><circle cx="345.11" cy="553.86" r="1.55"/><circle cx="360" cy="556.99" r="1.55"/><circle cx="347.74" cy="550.27" r="1.55"/><circle cx="343.56" cy="555.23" r="1.55"/><circle cx="349.18" cy="551.74" r="1.55"/><circle cx="360.39" cy="555.05" r="1.55"/><circle cx="345.44" cy="537.15" r="1.55"/><circle cx="350.29" cy="539.15" r="1.55"/><circle cx="353.96" cy="540.78" r="1.55"/><circle cx="347.62" cy="558.25" r="1.55"/><circle cx="356.33" cy="549.38" r="1.55"/><circle cx="352.42" cy="543.79" r="1.55"/><circle cx="356.24" cy="554.81" r="1.55"/><circle cx="348.56" cy="536.91" r="1.55"/><circle cx="351.84" cy="554.45" r="1.55"/><circle cx="353.83" cy="555.25" r="1.55"/><circle cx="356.61" cy="561.34" r="1.55"/><circle cx="357.7" cy="546.7" r="1.55"/><circle cx="348.39" cy="536.28" r="1.55"/><circle cx="346.65" cy="555.7" r="1.55"/><circle cx="342.8" cy="547.2" r="1.55"/><circle cx="356.26" cy="543.58" r="1.55"/><circle cx="349.55" cy="539.97" r="1.55"/><circle cx="343.61" cy="553.93" r="1.55"/><circle cx="354.12" cy="535.52" r="1.55"/><circle cx="353.9" cy="543.2" r="1.55"/><circle cx="356.67" cy="551.49" r="1.55"/><circle cx="359.93" cy="541.79" r="1.55"/><circle cx="348.15" cy="551.54" r="1.55"/><circle cx="357.28" cy="552.74" r="1.55"/><circle cx="345.08" cy="538.19" r="1.55"/><circle cx="351.89" cy="547.96" r="1.55"/><circle cx="354.6" cy="537.36" r="1.55"/><circle cx="344.05" cy="553.04" r="1.55"/><circle cx="342.72" cy="550.97" r="1.55"/><circle cx="351.31" cy="538.74" r="1.55"/><circle cx="354.57" cy="546.38" r="1.55"/><circle cx="349.37" cy="546.49" r="1.55"/><circle cx="346.81" cy="538.94" r="1.55"/><circle cx="356.94" cy="539.11" r="1.55"/><circle cx="344.4" cy="543.77" r="1.55"/><circle cx="356.27" cy="548.53" r="1.55"/><circle cx="359.11" cy="537.43" r="1.55"/><circle cx="356.05" cy="539.6" r="1.55"/><circle cx="354.2" cy="537.99" r="1.55"/><circle cx="344.01" cy="542.86" r="1.55"/><circle cx="355.28" cy="545.42" r="1.55"/><circle cx="346.84" cy="560.61" r="1.55"/><circle cx="353.3" cy="539.51" r="1.55"/><circle cx="346.8" cy="556.55" r="1.55"/><circle cx="345.83" cy="559.87" r="1.55"/><circle cx="354.73" cy="535.31" r="1.55"/><circle cx="357.21" cy="552.46" r="1.55"/><circle cx="355.19" cy="560.48" r="1.55"/><circle cx="357.93" cy="553.42" r="1.55"/><circle cx="341.49" cy="544.95" r="1.55"/><circle cx="344.16" cy="554.82" r="1.55"/><circle cx="342.59" cy="550.06" r="1.55"/><circle cx="352.35" cy="539.98" r="1.55"/><circle cx="342.2" cy="539.42" r="1.55"/><circle cx="343.6" cy="556.23" r="1.55"/><circle cx="353.81" cy="553.01" r="1.55"/><circle cx="347.94" cy="546.64" r="1.55"/><circle cx="345.71" cy="540.37" r="1.55"/><circle cx="345.54" cy="539.09" r="1.55"/><circle cx="357.34" cy="547.52" r="1.55"/><circle cx="342.02" cy="540.8" r="1.55"/><circle cx="341.98" cy="548.42" r="1.55"/><circle cx="349.77" cy="560.73" r="1.55"/><circle cx="353.83" cy="542.29" r="1.55"/><circle cx="352.94" cy="551.33" r="1.55"/><circle cx="351.5" cy="546.07" r="1.55"/><circle cx="345.88" cy="538.3" r="1.55"/><circle cx="361.02" cy="540.07" r="1.55"/><circle cx="360.35" cy="553.3" r="1.55"/><circle cx="360.84" cy="560.5" r="1.55"/><circle cx="350.83" cy="558.76" r="1.55"/><circle cx="350.36" cy="543.46" r="1.55"/><circle cx="355.37" cy="549.81" r="1.55"/><circle cx="348.15" cy="557.19" r="1.55"/><circle cx="368.49" cy="561.19" r="1.55"/><circle cx="376.92" cy="551.77" r="1.55"/><circle cx="371.36" cy="561.61" r="1.55"/><circle cx="376.11" cy="554.23" r="1.55"/><circle cx="363.27" cy="564.64" r="1.55"/><circle cx="376.04" cy="549.28" r="1.55"/><circle cx="382.92" cy="551.06" r="1.55"/><circle cx="381.58" cy="563.63" r="1.55"/><circle cx="376.58" cy="555.46" r="1.55"/><circle cx="363.5" cy="565.59" r="1.55"/><circle cx="358.63" cy="562.04" r="1.55"/><circle cx="374.24" cy="562.58" r="1.55"/><circle cx="364.97" cy="564.68" r="1.55"/><circle cx="374.3" cy="554.36" r="1.55"/><circle cx="383.39" cy="551.08" r="1.55"/><circle cx="362.73" cy="563.01" r="1.55"/><circle cx="367.29" cy="554.26" r="1.55"/><circle cx="369.81" cy="564.87" r="1.55"/><circle cx="360.88" cy="563.42" r="1.55"/><circle cx="377.97" cy="552.45" r="1.55"/><circle cx="370.22" cy="548.67" r="1.55"/><circle cx="378.41" cy="554.54" r="1.55"/><circle cx="370.35" cy="558.18" r="1.55"/><circle cx="361.05" cy="567.81" r="1.55"/><circle cx="372.55" cy="561.15" r="1.55"/><circle cx="364.67" cy="563.26" r="1.55"/><circle cx="358.83" cy="560.56" r="1.55"/><circle cx="382.22" cy="555.51" r="1.55"/><circle cx="383.11" cy="558.05" r="1.55"/><circle cx="368.02" cy="557.79" r="1.55"/><circle cx="378.84" cy="552.2" r="1.55"/><circle cx="358.62" cy="569.33" r="1.55"/><circle cx="363.71" cy="567.82" r="1.55"/><circle cx="358.53" cy="569.63" r="1.55"/><circle cx="379.31" cy="552.08" r="1.55"/><circle cx="359.39" cy="571.92" r="1.55"/><circle cx="380.8" cy="554.13" r="1.55"/><circle cx="366.48" cy="562.28" r="1.55"/><circle cx="374.1" cy="552.57" r="1.55"/><circle cx="374.48" cy="560.23" r="1.55"/><circle cx="363.5" cy="563.44" r="1.55"/><circle cx="367.98" cy="550.31" r="1.55"/><circle cx="360.93" cy="567.72" r="1.55"/><circle cx="363.36" cy="565.34" r="1.55"/><circle cx="369.85" cy="565.58" r="1.55"/><circle cx="376.19" cy="558.93" r="1.55"/><circle cx="369.42" cy="552.79" r="1.55"/><circle cx="359.66" cy="563.23" r="1.55"/><circle cx="370.21" cy="565.28" r="1.55"/><circle cx="376.36" cy="551.01" r="1.55"/><circle cx="364.36" cy="567.71" r="1.55"/><circle cx="370.23" cy="565.4" r="1.55"/><circle cx="361.88" cy="559.42" r="1.55"/><circle cx="359.88" cy="569.85" r="1.55"/><circle cx="364.33" cy="559.82" r="1.55"/><circle cx="368.22" cy="561" r="1.55"/><circle cx="378.24" cy="550.93" r="1.55"/><circle cx="377.06" cy="560.97" r="1.55"/><circle cx="359.27" cy="555.65" r="1.55"/><circle cx="378.61" cy="546.37" r="1.55"/><circle cx="335.97" cy="581.08" r="1.55"/><circle cx="336.88" cy="573.28" r="1.55"/><circle cx="336.79" cy="575.57" r="1.55"/><circle cx="339.99" cy="575.86" r="1.55"/><circle cx="339.94" cy="579.19" r="1.55"/><circle cx="336.49" cy="581.35" r="1.55"/><circle cx="339.21" cy="580.6" r="1.55"/><circle cx="340.18" cy="575.23" r="1.55"/><circle cx="336.64" cy="574.37" r="1.55"/><circle cx="336.53" cy="576.98" r="1.55"/><circle cx="336.28" cy="574.55" r="1.55"/><circle cx="339.8" cy="573.41" r="1.55"/><circle cx="335.81" cy="573.98" r="1.55"/><circle cx="338.3" cy="574.25" r="1.55"/><circle cx="338.06" cy="576.03" r="1.55"/><circle cx="338.48" cy="574.44" r="1.55"/><circle cx="336.15" cy="581.03" r="1.55"/><circle cx="338.25" cy="578.94" r="1.55"/><circle cx="337.59" cy="581.45" r="1.55"/><circle cx="339.15" cy="581.3" r="1.55"/><circle cx="339.53" cy="574.33" r="1.55"/><circle cx="337.86" cy="580.43" r="1.55"/><circle cx="338.72" cy="579.68" r="1.55"/><circle cx="337.73" cy="580.54" r="1.55"/><circle cx="340.19" cy="576.68" r="1.55"/><circle cx="337.39" cy="580.68" r="1.55"/><circle cx="339.09" cy="573.99" r="1.55"/><circle cx="339.62" cy="580.62" r="1.55"/><circle cx="337.45" cy="578.84" r="1.55"/><circle cx="339.23" cy="580.21" r="1.55"/><circle cx="338.53" cy="572.85" r="1.55"/><circle cx="339.26" cy="581.45" r="1.55"/><circle cx="336.14" cy="580.51" r="1.55"/><circle cx="338.92" cy="576.22" r="1.55"/><circle cx="338.14" cy="577.48" r="1.55"/><circle cx="366.73" cy="503.63" r="1.55"/><circle cx="348.17" cy="510.27" r="1.55"/><circle cx="374.04" cy="509.39" r="1.55"/><circle cx="365.04" cy="515.14" r="1.55"/><circle cx="382.48" cy="519.56" r="1.55"/><circle cx="377.98" cy="520.45" r="1.55"/><circle cx="358.3" cy="524.88" r="1.55"/><circle cx="357.17" cy="526.64" r="1.55"/><circle cx="352.67" cy="527.09" r="1.55"/><circle cx="362.8" cy="529.3" r="1.55"/><circle cx="369.54" cy="530.18" r="1.55"/><circle cx="377.98" cy="531.51" r="1.55"/><circle cx="363.92" cy="532.84" r="1.55"/><circle cx="398.79" cy="531.07" r="1.55"/><circle cx="402.16" cy="544.79" r="1.55"/><circle cx="406.1" cy="542.57" r="1.55"/><circle cx="389.23" cy="543.46" r="1.55"/><circle cx="392.04" cy="544.79" r="1.55"/><circle cx="386.42" cy="551.42" r="1.55"/><circle cx="376.29" cy="560.27" r="1.55"/><circle cx="383.6" cy="558.06" r="1.55"/><circle cx="404.41" cy="535.94" r="1.55"/><circle cx="398.79" cy="518.24" r="1.55"/><circle cx="389.23" cy="549.21" r="1.55"/><circle cx="385.29" cy="555.85" r="1.55"/></g>
<line x1="335.8" y1="490.4" x2="335.8" y2="583" stroke="#000" stroke-width="1.3" />
<line x1="331.9" y1="582.4" x2="452" y2="582.4" stroke="#000" stroke-width="1.3" />
<line x1="331.9" y1="582.4" x2="335.8" y2="582.4" stroke="#000" stroke-width="1.1" />
<text x="328.2" y="585.15" font-size="8" text-anchor="end">0</text>
<line x1="335.8" y1="582.4" x2="335.8" y2="586" stroke="#000" stroke-width="1.1" />
<text x="335.8" y="597.7" font-size="8" text-anchor="middle">0</text>
<line x1="331.9" y1="560.27" x2="335.8" y2="560.27" stroke="#000" stroke-width="1.1" />
<text x="328.2" y="563.02" font-size="8" text-anchor="end">50</text>
<line x1="363.92" y1="582.4" x2="363.92" y2="586" stroke="#000" stroke-width="1.1" />
<text x="363.92" y="597.7" font-size="8" text-anchor="middle">50</text>
<line x1="331.9" y1="538.15" x2="335.8" y2="538.15" stroke="#000" stroke-width="1.1" />
<text x="328.2" y="540.9" font-size="8" text-anchor="end">100</text>
<line x1="392.04" y1="582.4" x2="392.04" y2="586" stroke="#000" stroke-width="1.1" />
<text x="392.04" y="597.7" font-size="8" text-anchor="middle">100</text>
<line x1="331.9" y1="516.02" x2="335.8" y2="516.02" stroke="#000" stroke-width="1.1" />
<text x="328.2" y="518.77" font-size="8" text-anchor="end">150</text>
<line x1="420.16" y1="582.4" x2="420.16" y2="586" stroke="#000" stroke-width="1.1" />
<text x="420.16" y="597.7" font-size="8" text-anchor="middle">150</text>
<line x1="331.9" y1="493.9" x2="335.8" y2="493.9" stroke="#000" stroke-width="1.1" />
<text x="328.2" y="496.65" font-size="8" text-anchor="end">200</text>
<line x1="448.28" y1="582.4" x2="448.28" y2="586" stroke="#000" stroke-width="1.1" />
<text x="448.28" y="597.7" font-size="8" text-anchor="middle">200</text>
<text class="hv" x="393.7" y="612.7" font-size="10.6" text-anchor="middle" textLength="68.4" lengthAdjust="spacingAndGlyphs">EPX intensity sum</text>
<g transform="translate(393.7,625) scale(0.80,1)" class="hv"><text x="-24.3" y="0" font-size="10.6">(AU x 10</text><text x="16.9" y="-4.2" font-size="6.6">3</text><text x="20.6" y="0" font-size="10.6">)</text></g>
<text class="hv" transform="translate(294.6,536.9) rotate(-90)" font-size="11.4" text-anchor="middle" textLength="72.7" lengthAdjust="spacingAndGlyphs">ATG5 intensity sum</text>
<g transform="translate(307.6,536.9) rotate(-90) scale(0.80,1)" class="hv"><text x="-24.3" y="0" font-size="10.6">(AU x 10</text><text x="16.9" y="-4.2" font-size="6.6">3</text><text x="20.6" y="0" font-size="10.6">)</text></g>
<text x="393.8" y="495.7" font-size="6.7"><tspan font-style="italic">p</tspan> &lt; 0.0001</text>
<text x="393.8" y="503.8" font-size="6.7">Pearson <tspan font-style="italic">r</tspan> = 0.4766</text>
<line x1="119.8" y1="660.7" x2="119.8" y2="753.8" stroke="#000" stroke-width="1.3" />
<line x1="116.2" y1="753.2" x2="236.8" y2="753.2" stroke="#000" stroke-width="1.3" />
<line x1="116.2" y1="753.2" x2="119.8" y2="753.2" stroke="#000" stroke-width="1.1" />
<text x="112" y="756" font-size="7.9" text-anchor="end">0.0</text>
<line x1="116.2" y1="723.6" x2="119.8" y2="723.6" stroke="#000" stroke-width="1.1" />
<text x="112" y="726.4" font-size="7.9" text-anchor="end">0.1</text>
<line x1="116.2" y1="694" x2="119.8" y2="694" stroke="#000" stroke-width="1.1" />
<text x="112" y="696.8" font-size="7.9" text-anchor="end">0.2</text>
<line x1="116.2" y1="664.4" x2="119.8" y2="664.4" stroke="#000" stroke-width="1.1" />
<text x="112" y="667.2" font-size="7.9" text-anchor="end">0.3</text>
<line x1="119.8" y1="753.2" x2="119.8" y2="756.6" stroke="#000" stroke-width="1.1" />
<text x="119.8" y="767.8" font-size="7.9" text-anchor="middle">0</text>
<line x1="142.3" y1="753.2" x2="142.3" y2="756.6" stroke="#000" stroke-width="1.1" />
<text x="142.3" y="767.8" font-size="7.9" text-anchor="middle">50</text>
<line x1="164.8" y1="753.2" x2="164.8" y2="756.6" stroke="#000" stroke-width="1.1" />
<text x="164.8" y="767.8" font-size="7.9" text-anchor="middle">100</text>
<line x1="187.3" y1="753.2" x2="187.3" y2="756.6" stroke="#000" stroke-width="1.1" />
<text x="187.3" y="767.8" font-size="7.9" text-anchor="middle">150</text>
<line x1="209.8" y1="753.2" x2="209.8" y2="756.6" stroke="#000" stroke-width="1.1" />
<text x="209.8" y="767.8" font-size="7.9" text-anchor="middle">200</text>
<line x1="232.3" y1="753.2" x2="232.3" y2="756.6" stroke="#000" stroke-width="1.1" />
<text x="232.3" y="767.8" font-size="7.9" text-anchor="middle">250</text>
<line x1="150.5" y1="696.5" x2="217.5" y2="735.5" stroke="#1f3f78" stroke-width="1.4" />
<g fill="#7a6cbb"><circle cx="150.5" cy="717" r="1.6"/><circle cx="158" cy="691.25" r="1.6"/><circle cx="159.25" cy="694.5" r="1.6"/><circle cx="163.25" cy="692.5" r="1.6"/><circle cx="167.5" cy="682.5" r="1.6"/><circle cx="170.5" cy="704.5" r="1.6"/><circle cx="172" cy="703.25" r="1.6"/><circle cx="174.5" cy="719" r="1.6"/><circle cx="175.75" cy="725" r="1.6"/><circle cx="178.5" cy="729.5" r="1.6"/><circle cx="187" cy="735.5" r="1.6"/><circle cx="188.25" cy="718" r="1.6"/><circle cx="194" cy="743.25" r="1.6"/><circle cx="197.75" cy="703.25" r="1.6"/><circle cx="200" cy="722" r="1.6"/><circle cx="202.5" cy="706.75" r="1.6"/><circle cx="205.5" cy="742.75" r="1.6"/><circle cx="211.5" cy="715.5" r="1.6"/><circle cx="217.5" cy="748.25" r="1.6"/></g>
<text x="175.7" y="666.8" font-size="6.7"><tspan font-style="italic">p</tspan> = 0.0062</text>
<text x="175.7" y="675.2" font-size="6.7">Pearson <tspan font-style="italic">r</tspan> = -0.6037</text>
<text class="hv" transform="translate(80.7,707) rotate(-90)" font-size="9.9" text-anchor="middle" textLength="89.2" lengthAdjust="spacingAndGlyphs"><tspan font-style="italic">ATG5</tspan> mRNA expression</text>
<text class="hv" transform="translate(94.2,707.5) rotate(-90)" font-size="9.9" text-anchor="middle" textLength="55.7" lengthAdjust="spacingAndGlyphs">relative to <tspan font-style="italic">S18</tspan></text>
<text class="hv" x="134.8" y="782.7" font-size="9.3" textLength="86.9" lengthAdjust="spacingAndGlyphs">EDN in plasma (ng/ml)</text>
<line x1="295.6" y1="660.7" x2="295.6" y2="753.7" stroke="#000" stroke-width="1.3" />
<line x1="292" y1="753.1" x2="412.6" y2="753.1" stroke="#000" stroke-width="1.3" />
<line x1="292" y1="753.1" x2="295.6" y2="753.1" stroke="#000" stroke-width="1.1" />
<text x="287.8" y="755.9" font-size="7.9" text-anchor="end">0.0</text>
<line x1="292" y1="730.83" x2="295.6" y2="730.83" stroke="#000" stroke-width="1.1" />
<text x="287.8" y="733.62" font-size="7.9" text-anchor="end">0.2</text>
<line x1="292" y1="708.55" x2="295.6" y2="708.55" stroke="#000" stroke-width="1.1" />
<text x="287.8" y="711.35" font-size="7.9" text-anchor="end">0.4</text>
<line x1="292" y1="686.27" x2="295.6" y2="686.27" stroke="#000" stroke-width="1.1" />
<text x="287.8" y="689.07" font-size="7.9" text-anchor="end">0.6</text>
<line x1="292" y1="664" x2="295.6" y2="664" stroke="#000" stroke-width="1.1" />
<text x="287.8" y="666.8" font-size="7.9" text-anchor="end">0.8</text>
<line x1="295.6" y1="753.1" x2="295.6" y2="756.5" stroke="#000" stroke-width="1.1" />
<text x="295.6" y="767.7" font-size="7.9" text-anchor="middle">0</text>
<line x1="318.1" y1="753.1" x2="318.1" y2="756.5" stroke="#000" stroke-width="1.1" />
<text x="318.1" y="767.7" font-size="7.9" text-anchor="middle">50</text>
<line x1="340.6" y1="753.1" x2="340.6" y2="756.5" stroke="#000" stroke-width="1.1" />
<text x="340.6" y="767.7" font-size="7.9" text-anchor="middle">100</text>
<line x1="363.1" y1="753.1" x2="363.1" y2="756.5" stroke="#000" stroke-width="1.1" />
<text x="363.1" y="767.7" font-size="7.9" text-anchor="middle">150</text>
<line x1="385.6" y1="753.1" x2="385.6" y2="756.5" stroke="#000" stroke-width="1.1" />
<text x="385.6" y="767.7" font-size="7.9" text-anchor="middle">200</text>
<line x1="408.1" y1="753.1" x2="408.1" y2="756.5" stroke="#000" stroke-width="1.1" />
<text x="408.1" y="767.7" font-size="7.9" text-anchor="middle">250</text>
<line x1="326.1" y1="709.3" x2="392.5" y2="751.6" stroke="#1f3f78" stroke-width="1.4" />
<g fill="#7a6cbb"><circle cx="334.6" cy="673.2" r="1.6"/><circle cx="343.3" cy="694.2" r="1.6"/><circle cx="333.4" cy="701.5" r="1.6"/><circle cx="339.2" cy="716.5" r="1.6"/><circle cx="347.6" cy="719.7" r="1.6"/><circle cx="326.1" cy="729" r="1.6"/><circle cx="349.9" cy="734.5" r="1.6"/><circle cx="346.2" cy="740.1" r="1.6"/><circle cx="353.9" cy="740.1" r="1.6"/><circle cx="362.4" cy="739.5" r="1.6"/><circle cx="363.7" cy="744.6" r="1.6"/><circle cx="369.2" cy="745.2" r="1.6"/><circle cx="373.3" cy="744.3" r="1.6"/><circle cx="375.2" cy="742.3" r="1.6"/><circle cx="378.5" cy="735.6" r="1.6"/><circle cx="381.3" cy="736.9" r="1.6"/><circle cx="387.2" cy="732" r="1.6"/><circle cx="351.3" cy="751.3" r="1.6"/><circle cx="392.9" cy="749.7" r="1.6"/></g>
<text x="351.5" y="665.7" font-size="6.7"><tspan font-style="italic">p</tspan> = 0.0062</text>
<text x="351.5" y="674.1" font-size="6.7">Pearson <tspan font-style="italic">r</tspan> = -0.6039</text>
<text class="hv" transform="translate(256.3,707) rotate(-90)" font-size="9.9" text-anchor="middle" textLength="89.2" lengthAdjust="spacingAndGlyphs"><tspan font-style="italic">ATG7</tspan> mRNA expression</text>
<text class="hv" transform="translate(269.4,707.5) rotate(-90)" font-size="9.9" text-anchor="middle" textLength="55.7" lengthAdjust="spacingAndGlyphs">relative to <tspan font-style="italic">S18</tspan></text>
<text class="hv" x="310.4" y="782.7" font-size="9.3" textLength="86.5" lengthAdjust="spacingAndGlyphs">EDN in plasma (ng/ml)</text>
<defs>
<filter id="soft" x="0" y="0" width="100%" height="100%"><feGaussianBlur stdDeviation="0.4"/></filter>
<filter id="soft3" x="-5%" y="-5%" width="110%" height="110%"><feGaussianBlur stdDeviation="0.8"/></filter>
<filter id="soft2" x="0" y="0" width="100%" height="100%"><feGaussianBlur stdDeviation="0.55"/></filter>
<clipPath id="cm0"><rect x="34.6" y="183.9" width="135.9" height="140"/></clipPath>
<clipPath id="ci00"><rect x="172.3" y="183.9" width="45.5" height="45"/></clipPath>
<clipPath id="ci01"><rect x="172.3" y="231.2" width="45.5" height="45"/></clipPath>
<clipPath id="ci02"><rect x="172.3" y="278.8" width="45.5" height="45"/></clipPath>
<clipPath id="cm1"><rect x="34.6" y="328.9" width="135.9" height="140"/></clipPath>
<clipPath id="ci10"><rect x="172.3" y="329" width="45.5" height="45"/></clipPath>
<clipPath id="ci11"><rect x="172.3" y="376.6" width="45.5" height="45"/></clipPath>
<clipPath id="ci12"><rect x="172.3" y="424.1" width="45.5" height="45"/></clipPath>
<clipPath id="cm2"><rect x="34.6" y="475.1" width="135.9" height="139.6"/></clipPath>
<clipPath id="ci20"><rect x="172.3" y="475.2" width="45.5" height="45"/></clipPath>
<clipPath id="ci21"><rect x="172.3" y="522.5" width="45.5" height="45"/></clipPath>
<clipPath id="ci22"><rect x="172.3" y="570" width="45.5" height="45"/></clipPath>
</defs>
<g clip-path="url(#cm0)"><g filter="url(#soft)">
<rect x="34.6" y="183.9" width="135.9" height="140" fill="#170812" />
<path fill="#4232ae" d="M56.7 279.1a2.4 1.4 115 1 0 -2.1 4.3a2.4 1.4 115 1 0 2.1 -4.3zM120.6 248.4a2.6 1.5 71 1 0 1.6 4.9a2.6 1.5 71 1 0 -1.6 -4.9zM164 233.3a2.5 1.5 42 1 0 3.7 3.4a2.5 1.5 42 1 0 -3.7 -3.4zM94 236a2.3 1.5 40 1 0 3.5 3a2.3 1.5 40 1 0 -3.5 -3zM36.2 192.6a2.7 1.6 86 1 0 0.3 5.4a2.7 1.6 86 1 0 -0.3 -5.4zM100.1 251.2a2.4 1.7 37 1 0 3.8 3a2.4 1.7 37 1 0 -3.8 -3zM60.1 205.2a2.6 1.7 152 1 0 -4.5 2.3a2.6 1.7 152 1 0 4.5 -2.3zM79.4 265.7a2.8 1.5 52 1 0 3.4 4.5a2.8 1.5 52 1 0 -3.4 -4.5zM71.2 223.5a2.5 1.8 176 1 0 -5.1 0.3a2.5 1.8 176 1 0 5.1 -0.3zM94.7 264.6a2.7 1.6 159 1 0 -5 1.9a2.7 1.6 159 1 0 5 -1.9zM34.4 265.9a2.1 1.3 44 1 0 3 3a2.1 1.3 44 1 0 -3 -3zM123.5 302.5a2.2 1.7 112 1 0 -1.7 4.1a2.2 1.7 112 1 0 1.7 -4.1zM91.8 319.4a2.6 1.4 167 1 0 -5 1.1a2.6 1.4 167 1 0 5 -1.1zM53.9 306a1.8 1.6 154 1 0 -3.2 1.5a1.8 1.6 154 1 0 3.2 -1.5zM126.2 199.5a2 1.7 162 1 0 -3.9 1.2a2 1.7 162 1 0 3.9 -1.2zM108.4 186.5a2.4 1.5 61 1 0 2.3 4.1a2.4 1.5 61 1 0 -2.3 -4.1zM142.4 294.6a1.9 1.6 143 1 0 -3 2.3a1.9 1.6 143 1 0 3 -2.3zM156.2 222.7a2.9 1.6 35 1 0 4.8 3.4a2.9 1.6 35 1 0 -4.8 -3.4zM163.1 194.8a2.5 1.5 30 1 0 4.4 2.6a2.5 1.5 30 1 0 -4.4 -2.6zM122 183.4a2.8 1.6 150 1 0 -4.8 2.7a2.8 1.6 150 1 0 4.8 -2.7zM107.6 237.7a2.6 1.6 173 1 0 -5.2 0.6a2.6 1.6 173 1 0 5.2 -0.6zM88 211.9a2.6 1.7 71 1 0 1.6 4.9a2.6 1.7 71 1 0 -1.6 -4.9zM145.8 284.3a2.1 1.5 58 1 0 2.2 3.6a2.1 1.5 58 1 0 -2.2 -3.6zM98.9 215.6a2.5 1.8 171 1 0 -5 0.7a2.5 1.8 171 1 0 5 -0.7zM155.4 293.9a1.8 1.4 7 1 0 3.6 0.5a1.8 1.4 7 1 0 -3.6 -0.5zM121.2 288.5a2.7 1.6 110 1 0 -1.9 5.2a2.7 1.6 110 1 0 1.9 -5.2zM129.9 209.7a2.2 1.2 56 1 0 2.5 3.7a2.2 1.2 56 1 0 -2.5 -3.7zM77.9 272.6a2.4 1.6 46 1 0 3.3 3.5a2.4 1.6 46 1 0 -3.3 -3.5zM129.9 218a2.4 1.3 142 1 0 -3.8 2.9a2.4 1.3 142 1 0 3.8 -2.9zM37.2 296.7a1.9 1.4 84 1 0 0.3 3.8a1.9 1.4 84 1 0 -0.3 -3.8zM33.8 252.3a2.3 1.3 51 1 0 2.8 3.6a2.3 1.3 51 1 0 -2.8 -3.6zM39.6 254.3a2.7 1.6 27 1 0 4.9 2.5a2.7 1.6 27 1 0 -4.9 -2.5zM88.5 279.4a2.3 1.4 58 1 0 2.4 4a2.3 1.4 58 1 0 -2.4 -4zM146.9 310.3a2.6 1.7 124 1 0 -2.9 4.3a2.6 1.7 124 1 0 2.9 -4.3zM106.9 310.7a2 1.3 81 1 0 0.6 4a2 1.3 81 1 0 -0.6 -4zM58.7 257.6a2.4 1.7 120 1 0 -2.4 4.1a2.4 1.7 120 1 0 2.4 -4.1zM52.9 185.1a2.1 1.6 161 1 0 -4 1.3a2.1 1.6 161 1 0 4 -1.3zM34.7 275.6a2.7 1.5 53 1 0 3.2 4.3a2.7 1.5 53 1 0 -3.2 -4.3zM64.7 197a2.6 1.5 172 1 0 -5.1 0.6a2.6 1.5 172 1 0 5.1 -0.6zM62.5 213.2a2.8 1.6 148 1 0 -4.8 2.9a2.8 1.6 148 1 0 4.8 -2.9zM133.4 297.2a2.6 1.8 41 1 0 3.9 3.4a2.6 1.8 41 1 0 -3.9 -3.4zM101.1 246.7a2.2 1.6 49 1 0 2.9 3.3a2.2 1.6 49 1 0 -2.9 -3.3zM118.6 281.1a2.4 1.7 166 1 0 -4.6 1.1a2.4 1.7 166 1 0 4.6 -1.1zM128.8 222.5a2.1 1.5 109 1 0 -1.4 4a2.1 1.5 109 1 0 1.4 -4zM95.1 251.9a2.2 1.4 101 1 0 -0.9 4.2a2.2 1.4 101 1 0 0.9 -4.2zM123.3 271.9a2.3 1.6 136 1 0 -3.4 3.2a2.3 1.6 136 1 0 3.4 -3.2zM115.5 206.3a2.5 1.6 133 1 0 -3.5 3.7a2.5 1.6 133 1 0 3.5 -3.7zM54.3 228.5a2.8 1.8 63 1 0 2.5 5a2.8 1.8 63 1 0 -2.5 -5zM109.4 231.9a2.6 1.7 66 1 0 2 4.8a2.6 1.7 66 1 0 -2 -4.8zM61.9 251a2.6 1.9 126 1 0 -3.2 4.2a2.6 1.9 126 1 0 3.2 -4.2zM143.4 305.6a1.9 1.3 100 1 0 -0.7 3.7a1.9 1.3 100 1 0 0.7 -3.7zM48.4 253a2.4 1.7 94 1 0 -0.4 4.7a2.4 1.7 94 1 0 0.4 -4.7zM75.9 245.5a2 1.4 161 1 0 -3.9 1.3a2 1.4 161 1 0 3.9 -1.3zM49.9 229.5a2.9 1.9 112 1 0 -2.2 5.4a2.9 1.9 112 1 0 2.2 -5.4zM173.3 191.7a2.6 1.8 120 1 0 -2.7 4.5a2.6 1.8 120 1 0 2.7 -4.5zM108.5 280.3a2 1.6 109 1 0 -1.3 3.8a2 1.6 109 1 0 1.3 -3.8zM66.6 242.1a2 1.6 116 1 0 -1.7 3.6a2 1.6 116 1 0 1.7 -3.6zM160.4 271.7a2.7 1.9 18 1 0 5.1 1.8a2.7 1.9 18 1 0 -5.1 -1.8zM112.5 310.3a2.2 1.6 7 1 0 4.3 0.6a2.2 1.6 7 1 0 -4.3 -0.6zM131.6 278.9a1.9 1.5 2 1 0 3.7 0.2a1.9 1.5 2 1 0 -3.7 -0.2zM81.1 196.4a2.5 1.6 123 1 0 -2.8 4.2a2.5 1.6 123 1 0 2.8 -4.2zM88.1 274.8a2.5 1.7 154 1 0 -4.4 2.1a2.5 1.7 154 1 0 4.4 -2.1zM95.6 318.4a2.1 1.6 106 1 0 -1.2 4a2.1 1.6 106 1 0 1.2 -4zM64.1 218.8a2.9 1.6 84 1 0 0.6 5.7a2.9 1.6 84 1 0 -0.6 -5.7zM47.6 264.3a2.5 1.7 143 1 0 -4 3a2.5 1.7 143 1 0 4 -3zM70.3 321.9a2.3 1.6 90 1 0 0 4.6a2.3 1.6 90 1 0 0 -4.6zM97.6 274a2.8 1.8 47 1 0 3.8 4.1a2.8 1.8 47 1 0 -3.8 -4.1zM70.2 250.3a2.9 1.8 148 1 0 -5 3.1a2.9 1.8 148 1 0 5 -3.1zM107.5 299.9a2.3 1.5 129 1 0 -3 3.6a2.3 1.5 129 1 0 3 -3.6zM106.6 243.2a2 1.3 133 1 0 -2.7 2.9a2 1.3 133 1 0 2.7 -2.9zM106.4 320.6a2.8 1.7 140 1 0 -4.3 3.5a2.8 1.7 140 1 0 4.3 -3.5zM107.2 294.2a2.3 1.5 139 1 0 -3.5 3a2.3 1.5 139 1 0 3.5 -3zM51.3 278.7a2 1.4 91 1 0 -0.1 4a2 1.4 91 1 0 0.1 -4zM51.3 245.7a2.1 1.6 165 1 0 -4.1 1.1a2.1 1.6 165 1 0 4.1 -1.1zM101.4 227.3a2.2 1.5 142 1 0 -3.5 2.7a2.2 1.5 142 1 0 3.5 -2.7zM92.2 300a2.3 1.4 158 1 0 -4.3 1.7a2.3 1.4 158 1 0 4.3 -1.7zM34.8 305a2.2 1.5 117 1 0 -2 3.8a2.2 1.5 117 1 0 2 -3.8zM107.5 321.1a2.1 1.6 62 1 0 1.9 3.8a2.1 1.6 62 1 0 -1.9 -3.8zM132.1 248.7a2.4 1.5 169 1 0 -4.7 0.9a2.4 1.5 169 1 0 4.7 -0.9zM172 297.5a2.2 1.6 161 1 0 -4.3 1.4a2.2 1.6 161 1 0 4.3 -1.4zM68.1 230.9a2 1.4 108 1 0 -1.3 3.8a2 1.4 108 1 0 1.3 -3.8zM73.7 309.6a2.4 1.7 132 1 0 -3.2 3.5a2.4 1.7 132 1 0 3.2 -3.5zM114.8 312.9a2.2 1.8 81 1 0 0.6 4.3a2.2 1.8 81 1 0 -0.6 -4.3zM59 229a2.4 1.8 30 1 0 4.1 2.4a2.4 1.8 30 1 0 -4.1 -2.4zM148.8 182.7a2.7 1.6 115 1 0 -2.3 4.8a2.7 1.6 115 1 0 2.3 -4.8zM39.4 200.1a2.2 1.7 48 1 0 3 3.3a2.2 1.7 48 1 0 -3 -3.3zM130.9 194.6a1.8 1.6 43 1 0 2.7 2.5a1.8 1.6 43 1 0 -2.7 -2.5zM93.1 200a2.7 1.9 11 1 0 5.3 1.1a2.7 1.9 11 1 0 -5.3 -1.1zM154.9 266.8a2.2 1.3 14 1 0 4.4 1.1a2.2 1.3 14 1 0 -4.4 -1.1zM153.3 257.3a1.8 1.4 94 1 0 -0.3 3.5a1.8 1.4 94 1 0 0.3 -3.5zM154 262.8a2 1.6 106 1 0 -1.1 3.9a2 1.6 106 1 0 1.1 -3.9zM130.8 204.5a1.9 1.6 68 1 0 1.4 3.5a1.9 1.6 68 1 0 -1.4 -3.5zM57.8 269.8a2.5 1.3 53 1 0 3 4a2.5 1.3 53 1 0 -3 -4zM74.7 182.2a2.4 1.4 23 1 0 4.4 1.9a2.4 1.4 23 1 0 -4.4 -1.9zM37.2 309.4a1.9 1.6 32 1 0 3.1 2a1.9 1.6 32 1 0 -3.1 -2zM149.5 280a2.1 1.3 82 1 0 0.5 4.2a2.1 1.3 82 1 0 -0.5 -4.2zM56.5 257a2.3 1.6 176 1 0 -4.7 0.3a2.3 1.6 176 1 0 4.7 -0.3zM121.2 190.8a2.4 1.3 121 1 0 -2.5 4.1a2.4 1.3 121 1 0 2.5 -4.1zM170.5 185.7a2.6 1.7 62 1 0 2.4 4.6a2.6 1.7 62 1 0 -2.4 -4.6zM148.4 301.7a2.4 1.7 134 1 0 -3.3 3.4a2.4 1.7 134 1 0 3.3 -3.4zM117.1 268.3a2.1 1.4 64 1 0 1.8 3.8a2.1 1.4 64 1 0 -1.8 -3.8zM133.3 289.3a2.1 1.5 76 1 0 1 4.1a2.1 1.5 76 1 0 -1 -4.1zM162 275.8a2.1 1.8 77 1 0 0.9 4.1a2.1 1.8 77 1 0 -0.9 -4.1zM169.9 317.5a2.2 1.5 1 1 0 4.4 0.1a2.2 1.5 1 1 0 -4.4 -0.1zM165.4 191.6a2.4 1.5 2 1 0 4.9 0.2a2.4 1.5 2 1 0 -4.9 -0.2zM35.2 237.9a2.1 1.8 114 1 0 -1.8 3.9a2.1 1.8 114 1 0 1.8 -3.9zM124.7 190.8a2.2 1.5 0 1 0 4.4 0a2.2 1.5 0 1 0 -4.4 0zM52.2 284a2.5 1.6 155 1 0 -4.6 2.1a2.5 1.6 155 1 0 4.6 -2.1zM54.2 244a2.6 1.4 75 1 0 1.3 5a2.6 1.4 75 1 0 -1.3 -5zM75.7 209.4a2.2 1.5 28 1 0 3.8 2.1a2.2 1.5 28 1 0 -3.8 -2.1zM150.6 312.9a2.3 1.3 101 1 0 -0.9 4.6a2.3 1.3 101 1 0 0.9 -4.6zM74.3 256.9a2.4 1.5 170 1 0 -4.7 0.8a2.4 1.5 170 1 0 4.7 -0.8zM69.2 181.9a2.3 1.6 105 1 0 -1.2 4.5a2.3 1.6 105 1 0 1.2 -4.5zM35.1 311.8a2.1 1.4 175 1 0 -4.3 0.3a2.1 1.4 175 1 0 4.3 -0.3zM160 189.4a2.4 1.9 12 1 0 4.7 1.1a2.4 1.9 12 1 0 -4.7 -1.1zM76.6 257.6a2.1 1.5 83 1 0 0.5 4.2a2.1 1.5 83 1 0 -0.5 -4.2zM62.6 261.5a2 1.6 35 1 0 3.3 2.3a2 1.6 35 1 0 -3.3 -2.3zM160 236.5a2.2 1.6 118 1 0 -2.1 3.9a2.2 1.6 118 1 0 2.1 -3.9zM63.5 315.1a2.5 1.5 87 1 0 0.2 5a2.5 1.5 87 1 0 -0.2 -5zM143.2 219.8a2.4 1.6 49 1 0 3.1 3.7a2.4 1.6 49 1 0 -3.1 -3.7zM145.7 187.3a2.4 1.5 97 1 0 -0.6 4.8a2.4 1.5 97 1 0 0.6 -4.8zM154.3 280.2a1.8 1.3 40 1 0 2.7 2.3a1.8 1.3 40 1 0 -2.7 -2.3zM85.6 316.4a2.2 1.7 104 1 0 -1.1 4.2a2.2 1.7 104 1 0 1.1 -4.2zM127.3 228.4a2.1 1.4 40 1 0 3.2 2.7a2.1 1.4 40 1 0 -3.2 -2.7zM59.9 274.4a2 1.3 39 1 0 3.1 2.5a2 1.3 39 1 0 -3.1 -2.5zM122.7 235.4a2.3 1.5 171 1 0 -4.5 0.6a2.3 1.5 171 1 0 4.5 -0.6zM160.5 182.3a2.5 1.3 2 1 0 5 0.2a2.5 1.3 2 1 0 -5 -0.2zM46.2 198.7a2.1 1.8 35 1 0 3.4 2.4a2.1 1.8 35 1 0 -3.4 -2.4zM140.9 258.3a2.5 1.6 126 1 0 -3 4.1a2.5 1.6 126 1 0 3 -4.1zM132.1 190.3a1.9 1.4 120 1 0 -1.9 3.2a1.9 1.4 120 1 0 1.9 -3.2zM157.8 214.1a2.5 1.6 69 1 0 1.7 4.7a2.5 1.6 69 1 0 -1.7 -4.7zM119.3 283.2a2.5 1.6 115 1 0 -2.1 4.5a2.5 1.6 115 1 0 2.1 -4.5zM36 182.1a2.5 1.6 2 1 0 5.1 0.3a2.5 1.6 2 1 0 -5.1 -0.3zM115.5 302.9a2 1.4 76 1 0 0.9 3.8a2 1.4 76 1 0 -0.9 -3.8zM39.4 302.2a2.7 2 144 1 0 -4.4 3.1a2.7 2 144 1 0 4.4 -3.1zM96.8 247.2a2.6 1.8 98 1 0 -0.7 5a2.6 1.8 98 1 0 0.7 -5zM150 232.6a1.9 1.5 2 1 0 3.8 0.1a1.9 1.5 2 1 0 -3.8 -0.1zM122.2 293.1a1.9 1.2 43 1 0 2.8 2.7a1.9 1.2 43 1 0 -2.8 -2.7zM163.8 228.6a2.5 1.4 136 1 0 -3.6 3.4a2.5 1.4 136 1 0 3.6 -3.4zM30.6 189.4a2.8 1.5 22 1 0 5.1 2.2a2.8 1.5 22 1 0 -5.1 -2.2zM49.9 220.4a2.3 1.6 8 1 0 4.5 0.7a2.3 1.6 8 1 0 -4.5 -0.7zM141.1 206.8a2.4 1.4 166 1 0 -4.6 1.1a2.4 1.4 166 1 0 4.6 -1.1zM39.3 232.2a2.5 1.6 126 1 0 -3 4a2.5 1.6 126 1 0 3 -4zM87.1 185.1a2.2 1.8 114 1 0 -1.8 4.1a2.2 1.8 114 1 0 1.8 -4.1zM78.6 299.7a2.6 1.6 59 1 0 2.6 4.5a2.6 1.6 59 1 0 -2.6 -4.5zM165.2 294.5a2.7 1.6 154 1 0 -4.9 2.4a2.7 1.6 154 1 0 4.9 -2.4zM67.3 270.5a2.9 1.8 81 1 0 0.8 5.7a2.9 1.8 81 1 0 -0.8 -5.7zM54.8 324.3a2 1.7 151 1 0 -3.6 1.9a2 1.7 151 1 0 3.6 -1.9zM35.5 257.5a2.7 1.8 12 1 0 5.2 1.2a2.7 1.8 12 1 0 -5.2 -1.2zM44.7 260a2.3 1.8 42 1 0 3.4 3.1a2.3 1.8 42 1 0 -3.4 -3.1zM63.9 194.4a2.2 1.5 19 1 0 4.1 1.4a2.2 1.5 19 1 0 -4.1 -1.4zM124.9 251a2.2 1.4 80 1 0 0.7 4.3a2.2 1.4 80 1 0 -0.7 -4.3zM45.6 186.7a2.2 1.4 33 1 0 3.6 2.4a2.2 1.4 33 1 0 -3.6 -2.4zM152.8 245.8a2.8 1.6 46 1 0 3.8 4a2.8 1.6 46 1 0 -3.8 -4zM55 206.5a2 1.4 166 1 0 -3.9 0.9a2 1.4 166 1 0 3.9 -0.9zM134.2 302.9a2.5 1.6 10 1 0 5 0.9a2.5 1.6 10 1 0 -5 -0.9zM112.9 212.6a2.4 1.6 62 1 0 2.2 4.2a2.4 1.6 62 1 0 -2.2 -4.2zM35.8 323.7a2.3 1.6 70 1 0 1.6 4.3a2.3 1.6 70 1 0 -1.6 -4.3zM136.8 276.6a2 1.4 47 1 0 2.6 2.9a2 1.4 47 1 0 -2.6 -2.9zM112.2 223.8a2.3 1.5 156 1 0 -4.2 1.8a2.3 1.5 156 1 0 4.2 -1.8zM79.9 261.7a2.2 1.6 126 1 0 -2.6 3.5a2.2 1.6 126 1 0 2.6 -3.5zM50.2 182.1a2.8 1.8 169 1 0 -5.5 1.1a2.8 1.8 169 1 0 5.5 -1.1zM173.9 270.8a2.2 1.4 171 1 0 -4.4 0.7a2.2 1.4 171 1 0 4.4 -0.7zM101.9 316.3a2.1 1.6 38 1 0 3.3 2.6a2.1 1.6 38 1 0 -3.3 -2.6zM81.5 240.8a2.2 1.6 8 1 0 4.4 0.6a2.2 1.6 8 1 0 -4.4 -0.6zM108 270.5a2.6 1.9 128 1 0 -3.3 4.1a2.6 1.9 128 1 0 3.3 -4.1zM136.1 232a2.8 1.6 2 1 0 5.5 0.3a2.8 1.6 2 1 0 -5.5 -0.3zM101.7 203.2a2.1 1.6 167 1 0 -4.1 0.9a2.1 1.6 167 1 0 4.1 -0.9zM128.2 194.9a2.4 1.2 105 1 0 -1.3 4.6a2.4 1.2 105 1 0 1.3 -4.6zM122.7 226.4a2.1 1.5 36 1 0 3.4 2.5a2.1 1.5 36 1 0 -3.4 -2.5zM67.7 226.5a2.2 1.7 149 1 0 -3.8 2.2a2.2 1.7 149 1 0 3.8 -2.2zM69.4 218a2.1 1.7 28 1 0 3.7 2a2.1 1.7 28 1 0 -3.7 -2zM149.8 207.1a2.4 1.6 33 1 0 4 2.7a2.4 1.6 33 1 0 -4 -2.7zM58.2 261.7a2.2 1.6 104 1 0 -1.1 4.3a2.2 1.6 104 1 0 1.1 -4.3zM174.8 202.9a2.3 1.4 174 1 0 -4.6 0.5a2.3 1.4 174 1 0 4.6 -0.5zM162.1 298.7a2.1 1.4 61 1 0 2 3.6a2.1 1.4 61 1 0 -2 -3.6zM117 230.7a2.4 1.6 127 1 0 -2.9 3.8a2.4 1.6 127 1 0 2.9 -3.8zM109.9 262.7a2.3 1.7 178 1 0 -4.6 0.1a2.3 1.7 178 1 0 4.6 -0.1zM70.6 181.9a2.2 1.5 33 1 0 3.7 2.5a2.2 1.5 33 1 0 -3.7 -2.5zM59.1 276.5a2.2 1.5 102 1 0 -0.9 4.3a2.2 1.5 102 1 0 0.9 -4.3zM75.2 297.5a2.6 1.5 22 1 0 4.8 1.9a2.6 1.5 22 1 0 -4.8 -1.9zM55.4 236.1a2.3 1.3 170 1 0 -4.4 0.8a2.3 1.3 170 1 0 4.4 -0.8zM91.4 227.7a2 1.7 61 1 0 2 3.6a2 1.7 61 1 0 -2 -3.6zM60.6 208.1a2.5 1.5 72 1 0 1.5 4.9a2.5 1.5 72 1 0 -1.5 -4.9zM138.8 216.7a2 1.6 97 1 0 -0.5 4a2 1.6 97 1 0 0.5 -4zM93.4 223.7a2.7 1.8 172 1 0 -5.4 0.7a2.7 1.8 172 1 0 5.4 -0.7zM172.7 274.2a2.2 1.4 99 1 0 -0.7 4.3a2.2 1.4 99 1 0 0.7 -4.3zM45.5 271.7a2.5 1.5 26 1 0 4.4 2.2a2.5 1.5 26 1 0 -4.4 -2.2zM123.9 274.3a2.5 1.7 13 1 0 4.8 1.2a2.5 1.7 13 1 0 -4.8 -1.2zM163.9 323.2a1.7 1.5 9 1 0 3.4 0.6a1.7 1.5 9 1 0 -3.4 -0.6zM81.8 271.3a1.8 1.5 39 1 0 2.8 2.3a1.8 1.5 39 1 0 -2.8 -2.3zM66.3 197.8a2.4 1.4 103 1 0 -1.1 4.7a2.4 1.4 103 1 0 1.1 -4.7zM99.3 256a1.9 1.3 139 1 0 -2.8 2.4a1.9 1.3 139 1 0 2.8 -2.4zM74.7 234.1a2 1.5 43 1 0 2.9 2.8a2 1.5 43 1 0 -2.9 -2.8zM32.9 208a2.2 1.5 89 1 0 0.1 4.3a2.2 1.5 89 1 0 -0.1 -4.3zM162.6 232.9a2.2 1.3 121 1 0 -2.3 3.7a2.2 1.3 121 1 0 2.3 -3.7zM43.3 301.7a2 1.3 137 1 0 -2.9 2.7a2 1.3 137 1 0 2.9 -2.7zM144.7 209.4a2.9 1.7 144 1 0 -4.7 3.3a2.9 1.7 144 1 0 4.7 -3.3zM47.9 279.3a2.7 1.5 152 1 0 -4.7 2.5a2.7 1.5 152 1 0 4.7 -2.5zM91.6 195.6a2.5 1.7 149 1 0 -4.3 2.5a2.5 1.7 149 1 0 4.3 -2.5zM158.3 257.6a2.1 1.4 129 1 0 -2.6 3.2a2.1 1.4 129 1 0 2.6 -3.2zM95 266a2 1.3 34 1 0 3.3 2.2a2 1.3 34 1 0 -3.3 -2.2zM146.9 277.5a2.3 1.4 101 1 0 -0.9 4.5a2.3 1.4 101 1 0 0.9 -4.5zM171.7 290.8a2 1.5 84 1 0 0.4 4a2 1.5 84 1 0 -0.4 -4z"/>
<path fill="#3b2da2" d="M35.3 234.3a2.4 1.5 155 1 0 -4.4 2a2.4 1.5 155 1 0 4.4 -2zM66.9 186.6a2.2 1.5 141 1 0 -3.5 2.8a2.2 1.5 141 1 0 3.5 -2.8zM104.3 198.3a2.1 1.3 172 1 0 -4.2 0.6a2.1 1.3 172 1 0 4.2 -0.6zM155.7 215.6a2 1.5 176 1 0 -4 0.2a2 1.5 176 1 0 4 -0.2zM138.1 289.4a2.3 1.4 87 1 0 0.2 4.6a2.3 1.4 87 1 0 -0.2 -4.6zM48.5 249.2a1.9 1.4 46 1 0 2.6 2.7a1.9 1.4 46 1 0 -2.6 -2.7zM91.3 232.3a2.6 1.6 121 1 0 -2.7 4.4a2.6 1.6 121 1 0 2.7 -4.4zM111.2 269.9a1.8 1.6 115 1 0 -1.6 3.3a1.8 1.6 115 1 0 1.6 -3.3zM76.3 194.7a2.2 1.5 112 1 0 -1.7 4.1a2.2 1.5 112 1 0 1.7 -4.1zM159.9 319a1.8 1.4 149 1 0 -3.1 1.8a1.8 1.4 149 1 0 3.1 -1.8zM158.9 251.8a2.8 1.5 163 1 0 -5.4 1.7a2.8 1.5 163 1 0 5.4 -1.7zM41.1 228.1a2.8 1.6 64 1 0 2.4 5a2.8 1.6 64 1 0 -2.4 -5zM152.5 224.3a2.2 1.8 120 1 0 -2.2 3.8a2.2 1.8 120 1 0 2.2 -3.8zM128.4 317.2a2 1.5 86 1 0 0.2 4.1a2 1.5 86 1 0 -0.2 -4.1zM115.3 217a2.1 1.6 116 1 0 -1.9 3.8a2.1 1.6 116 1 0 1.9 -3.8zM34.5 244.5a2.4 1.7 45 1 0 3.3 3.4a2.4 1.7 45 1 0 -3.3 -3.4zM107.5 226.6a2 1.5 76 1 0 0.9 4a2 1.5 76 1 0 -0.9 -4zM39.1 291.9a2.4 1.3 0 1 0 4.8 0.1a2.4 1.3 0 1 0 -4.8 -0.1zM85.5 224.9a2.2 1.4 46 1 0 3.1 3.2a2.2 1.4 46 1 0 -3.1 -3.2zM75 323.5a2.5 1.6 34 1 0 4.2 2.8a2.5 1.6 34 1 0 -4.2 -2.8zM136.5 245.7a2.5 1.6 17 1 0 4.9 1.5a2.5 1.6 17 1 0 -4.9 -1.5zM88.4 251.3a2 1.4 160 1 0 -3.8 1.4a2 1.4 160 1 0 3.8 -1.4zM121.1 318.3a2.3 1.3 93 1 0 -0.3 4.5a2.3 1.3 93 1 0 0.3 -4.5zM85.2 268.8a2.2 1.4 50 1 0 2.8 3.3a2.2 1.4 50 1 0 -2.8 -3.3zM78.6 226.6a2.3 1.4 174 1 0 -4.6 0.5a2.3 1.4 174 1 0 4.6 -0.5zM70 234.4a2.5 1.4 54 1 0 2.9 4.1a2.5 1.4 54 1 0 -2.9 -4.1zM129.5 214.8a2.1 1.4 56 1 0 2.3 3.4a2.1 1.4 56 1 0 -2.3 -3.4zM35.8 259.8a2.1 1.4 167 1 0 -4.2 0.9a2.1 1.4 167 1 0 4.2 -0.9zM142.6 298.2a2.2 1.5 69 1 0 1.6 4.1a2.2 1.5 69 1 0 -1.6 -4.1zM60.3 238.7a1.9 1.4 141 1 0 -3 2.4a1.9 1.4 141 1 0 3 -2.4zM146.7 267.3a2 1.6 90 1 0 0 4a2 1.6 90 1 0 0 -4zM74.4 270.3a1.9 1.5 94 1 0 -0.3 3.7a1.9 1.5 94 1 0 0.3 -3.7zM162.3 257.5a2 1.4 75 1 0 1 3.8a2 1.4 75 1 0 -1 -3.8zM122.4 204.8a2.9 1.5 131 1 0 -3.9 4.4a2.9 1.5 131 1 0 3.9 -4.4zM131.8 250.7a2.3 1.8 87 1 0 0.2 4.6a2.3 1.8 87 1 0 -0.2 -4.6zM174.3 260.7a2.3 1.8 151 1 0 -4.1 2.2a2.3 1.8 151 1 0 4.1 -2.2zM101 218a2.2 1.8 87 1 0 0.2 4.3a2.2 1.8 87 1 0 -0.2 -4.3zM106.7 246.1a2.1 1.7 58 1 0 2.2 3.6a2.1 1.7 58 1 0 -2.2 -3.6zM134.2 286a1.9 1.5 37 1 0 3 2.3a1.9 1.5 37 1 0 -3 -2.3zM86 181.3a2.1 1.3 34 1 0 3.4 2.3a2.1 1.3 34 1 0 -3.4 -2.3zM98.1 189.7a2 1.4 2 1 0 4 0.2a2 1.4 2 1 0 -4 -0.2zM153.7 287.4a2.7 1.6 92 1 0 -0.2 5.4a2.7 1.6 92 1 0 0.2 -5.4zM82 208.5a2.5 1.7 29 1 0 4.3 2.4a2.5 1.7 29 1 0 -4.3 -2.4zM132.5 265.8a2.3 1.8 47 1 0 3.1 3.4a2.3 1.8 47 1 0 -3.1 -3.4zM106.1 196.2a2.7 1.5 61 1 0 2.5 4.7a2.7 1.5 61 1 0 -2.5 -4.7zM86.9 290.7a2.5 1.8 17 1 0 4.7 1.5a2.5 1.8 17 1 0 -4.7 -1.5zM35.1 222.9a2.8 1.5 115 1 0 -2.5 5.1a2.8 1.5 115 1 0 2.5 -5.1zM89.3 296.4a2.4 1.3 159 1 0 -4.4 1.7a2.4 1.3 159 1 0 4.4 -1.7zM50.6 275.9a2.6 1.5 149 1 0 -4.5 2.7a2.6 1.5 149 1 0 4.5 -2.7zM83.4 305.4a1.9 1.4 34 1 0 3.1 2.1a1.9 1.4 34 1 0 -3.1 -2.1zM56.5 312.9a2.3 1.8 12 1 0 4.4 1a2.3 1.8 12 1 0 -4.4 -1zM91.5 208.7a2.1 1.5 73 1 0 1.2 4.1a2.1 1.5 73 1 0 -1.2 -4.1zM110.5 260.4a2.7 1.9 28 1 0 4.7 2.5a2.7 1.9 28 1 0 -4.7 -2.5zM165.9 243.8a2.4 1.5 41 1 0 3.5 3.1a2.4 1.5 41 1 0 -3.5 -3.1zM77.2 216.7a2.9 1.6 104 1 0 -1.5 5.7a2.9 1.6 104 1 0 1.5 -5.7zM148.9 274.2a2.6 1.7 73 1 0 1.5 5a2.6 1.7 73 1 0 -1.5 -5zM119.5 313.9a2.3 1.7 44 1 0 3.3 3.2a2.3 1.7 44 1 0 -3.3 -3.2zM93.7 188a2.5 1.7 119 1 0 -2.4 4.4a2.5 1.7 119 1 0 2.4 -4.4zM145.5 248.6a2 1.4 2 1 0 3.9 0.2a2 1.4 2 1 0 -3.9 -0.2zM40.7 204.7a2.5 1.7 154 1 0 -4.4 2.1a2.5 1.7 154 1 0 4.4 -2.1zM148.9 290.4a2.5 1.6 150 1 0 -4.4 2.4a2.5 1.6 150 1 0 4.4 -2.4zM142.3 313.1a1.9 1.4 102 1 0 -0.8 3.7a1.9 1.4 102 1 0 0.8 -3.7zM122.9 312.3a2.7 1.7 5 1 0 5.3 0.5a2.7 1.7 5 1 0 -5.3 -0.5zM141.8 320.6a1.9 1.3 43 1 0 2.8 2.7a1.9 1.3 43 1 0 -2.8 -2.7zM50.9 258.8a2.1 1.5 55 1 0 2.4 3.6a2.1 1.5 55 1 0 -2.4 -3.6zM104.4 241.7a2.8 1.6 177 1 0 -5.5 0.2a2.8 1.6 177 1 0 5.5 -0.2zM90 220.1a2.3 1.6 0 1 0 4.6 0.1a2.3 1.6 0 1 0 -4.6 -0.1zM135.9 229.6a2.4 1.5 127 1 0 -2.9 3.8a2.4 1.5 127 1 0 2.9 -3.8zM103.6 269.3a2.4 1.3 170 1 0 -4.7 0.8a2.4 1.3 170 1 0 4.7 -0.8zM83.3 192.2a2.1 1.8 20 1 0 4 1.5a2.1 1.8 20 1 0 -4 -1.5zM121.5 230a2 1.4 49 1 0 2.6 3a2 1.4 49 1 0 -2.6 -3zM142.4 223.9a2.7 1.7 100 1 0 -1 5.3a2.7 1.7 100 1 0 1 -5.3zM52.8 310.4a2.3 1.4 155 1 0 -4.1 1.9a2.3 1.4 155 1 0 4.1 -1.9zM47.8 304.9a2.7 1.8 164 1 0 -5.2 1.4a2.7 1.8 164 1 0 5.2 -1.4zM79 245.6a2.2 1.6 5 1 0 4.4 0.4a2.2 1.6 5 1 0 -4.4 -0.4zM118.5 245.2a2.1 1.6 153 1 0 -3.8 1.9a2.1 1.6 153 1 0 3.8 -1.9zM113.4 201.5a2.3 1.5 149 1 0 -3.9 2.3a2.3 1.5 149 1 0 3.9 -2.3zM52 209.1a2.3 1.5 103 1 0 -1.1 4.4a2.3 1.5 103 1 0 1.1 -4.4zM54.9 320.2a2.8 1.6 170 1 0 -5.6 1a2.8 1.6 170 1 0 5.6 -1zM113.7 304.6a2.3 1.7 158 1 0 -4.2 1.7a2.3 1.7 158 1 0 4.2 -1.7zM114.5 290.9a1.8 1.5 63 1 0 1.6 3.2a1.8 1.5 63 1 0 -1.6 -3.2zM59.1 233.3a2.3 1.3 127 1 0 -2.8 3.7a2.3 1.3 127 1 0 2.8 -3.7zM170.5 221.5a2.2 1.5 108 1 0 -1.4 4.2a2.2 1.5 108 1 0 1.4 -4.2zM127.7 285.7a1.8 1.5 175 1 0 -3.5 0.3a1.8 1.5 175 1 0 3.5 -0.3zM31.9 183.8a2.2 1.6 70 1 0 1.5 4.1a2.2 1.6 70 1 0 -1.5 -4.1zM38.6 199.7a2.2 1.5 166 1 0 -4.3 1a2.2 1.5 166 1 0 4.3 -1zM117.2 224.1a2.9 1.6 144 1 0 -4.8 3.4a2.9 1.6 144 1 0 4.8 -3.4zM88.6 241.6a2.5 1.5 75 1 0 1.2 4.9a2.5 1.5 75 1 0 -1.2 -4.9zM50.5 267.9a1.9 1.6 155 1 0 -3.4 1.6a1.9 1.6 155 1 0 3.4 -1.6zM33.7 294.7a2.7 1.4 94 1 0 -0.4 5.4a2.7 1.4 94 1 0 0.4 -5.4zM60.9 304.1a2.2 1.8 30 1 0 3.9 2.3a2.2 1.8 30 1 0 -3.9 -2.3zM155.6 277.4a2.2 1.5 12 1 0 4.4 1a2.2 1.5 12 1 0 -4.4 -1zM45.1 189.3a2.3 1.5 160 1 0 -4.3 1.6a2.3 1.5 160 1 0 4.3 -1.6zM152.7 241.9a2.9 1.5 25 1 0 5.3 2.5a2.9 1.5 25 1 0 -5.3 -2.5zM96.2 208.3a1.9 1.4 9 1 0 3.8 0.7a1.9 1.4 9 1 0 -3.8 -0.7zM45.7 203.3a2.2 1.3 48 1 0 3 3.3a2.2 1.3 48 1 0 -3 -3.3zM34.8 287.3a2.3 1.5 17 1 0 4.3 1.4a2.3 1.5 17 1 0 -4.3 -1.4zM152.2 241.4a1.9 1.6 136 1 0 -2.8 2.7a1.9 1.6 136 1 0 2.8 -2.7zM43.8 246.2a2.2 1.3 152 1 0 -4 2.1a2.2 1.3 152 1 0 4 -2.1zM103.4 204.2a2 1.5 28 1 0 3.5 1.9a2 1.5 28 1 0 -3.5 -1.9zM71 211.9a2.3 1.6 44 1 0 3.2 3.2a2.3 1.6 44 1 0 -3.2 -3.2zM89.3 261.7a2.9 1.6 151 1 0 -5.1 2.7a2.9 1.6 151 1 0 5.1 -2.7zM162.6 286.6a2.3 1.4 86 1 0 0.3 4.6a2.3 1.4 86 1 0 -0.3 -4.6zM90.7 310.4a1.9 1.6 78 1 0 0.7 3.6a1.9 1.6 78 1 0 -0.7 -3.6zM172.2 206a2.2 1.2 165 1 0 -4.2 1.1a2.2 1.2 165 1 0 4.2 -1.1zM157.9 262.3a2.1 1.3 1 1 0 4.3 0.1a2.1 1.3 1 1 0 -4.3 -0.1zM117.7 265.5a2.6 1.5 11 1 0 5 1a2.6 1.5 11 1 0 -5 -1zM114.5 253.7a2.6 1.9 151 1 0 -4.6 2.5a2.6 1.9 151 1 0 4.6 -2.5zM93 307.2a2.3 1.8 172 1 0 -4.6 0.6a2.3 1.8 172 1 0 4.6 -0.6zM125.4 299.4a2.7 1.5 61 1 0 2.6 4.7a2.7 1.5 61 1 0 -2.6 -4.7zM147.3 197.9a2.3 1.3 31 1 0 3.9 2.4a2.3 1.3 31 1 0 -3.9 -2.4zM142.8 323.5a2.4 1.5 119 1 0 -2.3 4.2a2.4 1.5 119 1 0 2.3 -4.2zM80.8 285.9a2.2 1.7 117 1 0 -2 3.9a2.2 1.7 117 1 0 2 -3.9zM128.3 261.7a1.9 1.3 178 1 0 -3.8 0.1a1.9 1.3 178 1 0 3.8 -0.1zM129.6 185.7a2.3 1.6 91 1 0 -0.1 4.6a2.3 1.6 91 1 0 0.1 -4.6zM48.4 222.8a2 1.3 46 1 0 2.8 2.9a2 1.3 46 1 0 -2.8 -2.9zM79.8 183.7a2.4 1.7 47 1 0 3.3 3.6a2.4 1.7 47 1 0 -3.3 -3.6zM98.6 291.2a2.3 1.5 2 1 0 4.6 0.2a2.3 1.5 2 1 0 -4.6 -0.2zM169.4 198.1a1.8 1.5 4 1 0 3.6 0.3a1.8 1.5 4 1 0 -3.6 -0.3zM126.9 267.1a2.7 1.5 23 1 0 4.9 2.1a2.7 1.5 23 1 0 -4.9 -2.1zM71.1 276.7a2 1.3 14 1 0 3.9 1a2 1.3 14 1 0 -3.9 -1zM92.8 225.3a2.7 1.7 16 1 0 5.1 1.5a2.7 1.7 16 1 0 -5.1 -1.5zM42.5 216.5a2.6 1.9 129 1 0 -3.2 4a2.6 1.9 129 1 0 3.2 -4zM55.2 213a2 1.5 108 1 0 -1.3 3.8a2 1.5 108 1 0 1.3 -3.8zM108.3 207.2a2.3 1.5 55 1 0 2.6 3.8a2.3 1.5 55 1 0 -2.6 -3.8zM55.7 308a1.8 1.4 55 1 0 2 3a1.8 1.4 55 1 0 -2 -3zM124.1 193.2a1.8 1.5 104 1 0 -0.9 3.4a1.8 1.5 104 1 0 0.9 -3.4zM91.1 257.7a1.9 1.3 21 1 0 3.5 1.4a1.9 1.3 21 1 0 -3.5 -1.4zM84.3 195.9a2.1 1.6 69 1 0 1.5 3.9a2.1 1.6 69 1 0 -1.5 -3.9zM171.1 240.4a2.5 1.4 62 1 0 2.3 4.5a2.5 1.4 62 1 0 -2.3 -4.5zM102.5 265a2.2 1.5 36 1 0 3.5 2.6a2.2 1.5 36 1 0 -3.5 -2.6zM133.6 235.6a3 1.6 160 1 0 -5.6 2a3 1.6 160 1 0 5.6 -2zM52.7 194.4a2.3 1.3 171 1 0 -4.5 0.7a2.3 1.3 171 1 0 4.5 -0.7zM94.6 233a2.1 1.5 16 1 0 4 1.2a2.1 1.5 16 1 0 -4 -1.2zM80.7 304.3a2 1.5 80 1 0 0.7 3.9a2 1.5 80 1 0 -0.7 -3.9zM76.1 238.6a2.4 1.4 26 1 0 4.4 2.1a2.4 1.4 26 1 0 -4.4 -2.1zM138.1 186.3a2 1.2 71 1 0 1.2 3.8a2 1.2 71 1 0 -1.2 -3.8zM164.4 265.8a2.3 1.5 156 1 0 -4.1 1.8a2.3 1.5 156 1 0 4.1 -1.8zM63.4 216.3a1.9 1.4 22 1 0 3.5 1.4a1.9 1.4 22 1 0 -3.5 -1.4zM57.4 249.6a2.8 1.7 131 1 0 -3.7 4.2a2.8 1.7 131 1 0 3.7 -4.2zM47.2 294.6a2 1.4 152 1 0 -3.5 1.9a2 1.4 152 1 0 3.5 -1.9zM105 289.3a2.1 1.6 87 1 0 0.2 4.2a2.1 1.6 87 1 0 -0.2 -4.2zM71.4 298.6a2.3 1.6 27 1 0 4.1 2.1a2.3 1.6 27 1 0 -4.1 -2.1zM139.7 190.6a2.3 1.7 31 1 0 4 2.5a2.3 1.7 31 1 0 -4 -2.5zM39.4 293.4a2 1.4 156 1 0 -3.6 1.5a2 1.4 156 1 0 3.6 -1.5zM99.8 244a2.4 1.2 122 1 0 -2.6 4.1a2.4 1.2 122 1 0 2.6 -4.1zM92.2 236.9a2.7 1.5 105 1 0 -1.5 5.1a2.7 1.5 105 1 0 1.5 -5.1zM48.6 300.8a1.9 1.3 66 1 0 1.5 3.4a1.9 1.3 66 1 0 -1.5 -3.4zM169.5 324.6a2 1.6 11 1 0 4 0.8a2 1.6 11 1 0 -4 -0.8zM63.3 255.7a2.4 1.2 110 1 0 -1.7 4.5a2.4 1.2 110 1 0 1.7 -4.5zM120.5 308.9a2.1 1.7 67 1 0 1.7 3.9a2.1 1.7 67 1 0 -1.7 -3.9zM78.9 254.6a2 1.2 147 1 0 -3.4 2.2a2 1.2 147 1 0 3.4 -2.2zM122.9 210.1a2.1 1.6 142 1 0 -3.3 2.5a2.1 1.6 142 1 0 3.3 -2.5zM168.8 230.9a2.3 1.6 64 1 0 1.9 4.1a2.3 1.6 64 1 0 -1.9 -4.1zM138.3 181.1a2.3 1.6 155 1 0 -4.3 1.9a2.3 1.6 155 1 0 4.3 -1.9zM72.8 230.1a2.1 1.3 38 1 0 3.2 2.5a2.1 1.3 38 1 0 -3.2 -2.5zM42.7 195.7a2.6 1.6 144 1 0 -4.2 3a2.6 1.6 144 1 0 4.2 -3zM37.4 262.9a2 1.5 41 1 0 3.1 2.7a2 1.5 41 1 0 -3.1 -2.7zM145.3 237.5a2.6 1.5 56 1 0 2.9 4.4a2.6 1.5 56 1 0 -2.9 -4.4zM128.9 233.7a2.1 1.7 170 1 0 -4.2 0.7a2.1 1.7 170 1 0 4.2 -0.7zM67.7 323.9a2.1 1.6 135 1 0 -3 3a2.1 1.6 135 1 0 3 -3zM174.5 210.8a2.5 1.3 154 1 0 -4.4 2.2a2.5 1.3 154 1 0 4.4 -2.2zM68.2 256.2a2.4 1.9 111 1 0 -1.8 4.5a2.4 1.9 111 1 0 1.8 -4.5zM161.9 313a2.5 1.4 128 1 0 -3.1 3.8a2.5 1.4 128 1 0 3.1 -3.8zM54.3 274.6a2.1 1.6 25 1 0 3.8 1.9a2.1 1.6 25 1 0 -3.8 -1.9zM50.8 201.8a2.2 1.7 5 1 0 4.3 0.4a2.2 1.7 5 1 0 -4.3 -0.4zM76.1 192.1a1.7 1.3 158 1 0 -3.2 1.3a1.7 1.3 158 1 0 3.2 -1.3zM38 187a2.2 1.7 89 1 0 0 4.4a2.2 1.7 89 1 0 0 -4.4zM79.1 228.1a2.8 1.7 98 1 0 -0.9 5.6a2.8 1.7 98 1 0 0.9 -5.6zM71.9 314.6a2.1 1.5 119 1 0 -2 3.6a2.1 1.5 119 1 0 2 -3.6zM102.6 305.7a2.3 1.7 113 1 0 -1.9 4.3a2.3 1.7 113 1 0 1.9 -4.3zM149.7 255.2a1.8 1.4 12 1 0 3.6 0.8a1.8 1.4 12 1 0 -3.6 -0.8zM40.8 259a1.8 1.4 57 1 0 1.9 3a1.8 1.4 57 1 0 -1.9 -3zM65.5 296.4a2.7 1.6 76 1 0 1.3 5.3a2.7 1.6 76 1 0 -1.3 -5.3zM128.1 282.8a2.1 1.4 33 1 0 3.5 2.3a2.1 1.4 33 1 0 -3.5 -2.3zM34.1 248.9a2.4 1.5 127 1 0 -2.9 3.8a2.4 1.5 127 1 0 2.9 -3.8zM146.4 317.5a1.9 1.3 162 1 0 -3.6 1.1a1.9 1.3 162 1 0 3.6 -1.1zM104.5 278.9a2.4 1.6 142 1 0 -3.8 2.9a2.4 1.6 142 1 0 3.8 -2.9zM136.4 234.1a2.4 1.5 82 1 0 0.6 4.7a2.4 1.5 82 1 0 -0.6 -4.7zM63.3 298.9a2.6 1.8 140 1 0 -4.1 3.4a2.6 1.8 140 1 0 4.1 -3.4zM78.9 324.6a2.6 1.6 23 1 0 4.8 2.1a2.6 1.6 23 1 0 -4.8 -2.1zM88.1 246.5a2.4 1.5 164 1 0 -4.7 1.3a2.4 1.5 164 1 0 4.7 -1.3zM90.4 284.5a2 1.6 75 1 0 1 3.9a2 1.6 75 1 0 -1 -3.9zM98.2 212.5a2 1.6 30 1 0 3.4 2a2 1.6 30 1 0 -3.4 -2zM170.1 265.1a2.3 1.5 34 1 0 3.7 2.6a2.3 1.5 34 1 0 -3.7 -2.6zM32.1 273.5a1.7 1.4 62 1 0 1.6 3.1a1.7 1.4 62 1 0 -1.6 -3.1z"/>
<path fill="#4a39b8" d="M65.1 295.2a2.4 1.7 158 1 0 -4.5 1.7a2.4 1.7 158 1 0 4.5 -1.7zM101.3 215.7a2 1.7 5 1 0 4 0.4a2 1.7 5 1 0 -4 -0.4zM116.1 190.3a2.2 1.3 135 1 0 -3.2 3.1a2.2 1.3 135 1 0 3.2 -3.1zM153.4 269.1a2.2 1.3 43 1 0 3.2 3a2.2 1.3 43 1 0 -3.2 -3zM54.2 297.5a2.1 1.8 89 1 0 0 4.2a2.1 1.8 89 1 0 0 -4.2zM78.7 250a2.5 1.9 42 1 0 3.7 3.3a2.5 1.9 42 1 0 -3.7 -3.3zM57.4 185.2a2.4 1.5 56 1 0 2.6 4a2.4 1.5 56 1 0 -2.6 -4zM167.2 308.8a2.1 1.3 63 1 0 1.9 3.7a2.1 1.3 63 1 0 -1.9 -3.7zM115.6 286.1a2 1.5 153 1 0 -3.6 1.8a2 1.5 153 1 0 3.6 -1.8zM63.1 267.1a2.5 1.3 77 1 0 1.1 5a2.5 1.3 77 1 0 -1.1 -5zM43.7 297.7a2.4 1.6 145 1 0 -3.9 2.7a2.4 1.6 145 1 0 3.9 -2.7zM139.6 235a1.9 1.4 26 1 0 3.4 1.7a1.9 1.4 26 1 0 -3.4 -1.7zM91.6 323.7a2.2 1.5 164 1 0 -4.2 1.2a2.2 1.5 164 1 0 4.2 -1.2zM87.1 216.7a2.1 1.5 158 1 0 -3.9 1.6a2.1 1.5 158 1 0 3.9 -1.6zM149.9 187.4a2 1.6 94 1 0 -0.3 4a2 1.6 94 1 0 0.3 -4zM92.6 205a1.9 1.8 131 1 0 -2.6 2.9a1.9 1.8 131 1 0 2.6 -2.9zM138.3 249.3a2.1 1.6 130 1 0 -2.7 3.2a2.1 1.6 130 1 0 2.7 -3.2zM142 182.2a2.2 1.3 148 1 0 -3.7 2.3a2.2 1.3 148 1 0 3.7 -2.3zM159.2 199.2a1.9 1.4 87 1 0 0.1 3.9a1.9 1.4 87 1 0 -0.1 -3.9zM87.6 284.1a2.2 1.6 177 1 0 -4.3 0.2a2.2 1.6 177 1 0 4.3 -0.2zM133 320.7a2.4 1.5 11 1 0 4.7 1a2.4 1.5 11 1 0 -4.7 -1zM125 245.5a2.2 1.4 176 1 0 -4.4 0.3a2.2 1.4 176 1 0 4.4 -0.3zM68.6 312.4a2.2 1.7 138 1 0 -3.3 2.9a2.2 1.7 138 1 0 3.3 -2.9zM147 319a2 1.6 60 1 0 1.9 3.4a2 1.6 60 1 0 -1.9 -3.4zM173.3 182.8a2.4 1.8 179 1 0 -4.7 0.1a2.4 1.8 179 1 0 4.7 -0.1zM87 200.6a2.2 1.8 81 1 0 0.6 4.4a2.2 1.8 81 1 0 -0.6 -4.4zM112.2 192.3a2.5 1.3 154 1 0 -4.4 2.2a2.5 1.3 154 1 0 4.4 -2.2zM46 318.7a1.9 1.4 26 1 0 3.5 1.7a1.9 1.4 26 1 0 -3.5 -1.7zM67.7 301.4a2.3 1.7 77 1 0 1 4.5a2.3 1.7 77 1 0 -1 -4.5zM166.4 247.9a2.6 1.6 150 1 0 -4.5 2.5a2.6 1.6 150 1 0 4.5 -2.5zM60 318.3a2.2 1.7 117 1 0 -2 3.8a2.2 1.7 117 1 0 2 -3.8zM111.9 214.3a2.1 1.5 178 1 0 -4.2 0.1a2.1 1.5 178 1 0 4.2 -0.1zM46.8 311.3a3 1.5 177 1 0 -6 0.2a3 1.5 177 1 0 6 -0.2zM145.7 228.9a2.1 1.5 123 1 0 -2.3 3.4a2.1 1.5 123 1 0 2.3 -3.4zM125.3 209a2.1 1.8 5 1 0 4.2 0.4a2.1 1.8 5 1 0 -4.2 -0.4zM69 188.8a2.1 1.6 49 1 0 2.7 3.1a2.1 1.6 49 1 0 -2.7 -3.1zM55.9 194.9a2.3 1.6 121 1 0 -2.3 3.9a2.3 1.6 121 1 0 2.3 -3.9zM135.1 255.1a2.5 1.6 106 1 0 -1.5 4.8a2.5 1.6 106 1 0 1.5 -4.8zM79.7 258.2a2.2 1.6 10 1 0 4.3 0.8a2.2 1.6 10 1 0 -4.3 -0.8zM166.7 316.8a2.4 1.6 179 1 0 -4.7 0a2.4 1.6 179 1 0 4.7 0zM139.1 287.8a2.1 1.2 17 1 0 4.1 1.3a2.1 1.2 17 1 0 -4.1 -1.3zM157.7 232.7a2.1 1.5 138 1 0 -3.1 2.8a2.1 1.5 138 1 0 3.1 -2.8zM43.1 238.6a2.1 1.5 58 1 0 2.2 3.5a2.1 1.5 58 1 0 -2.2 -3.5zM51.8 216.4a2 1.5 177 1 0 -4.1 0.2a2 1.5 177 1 0 4.1 -0.2zM115 294.6a2.9 1.7 97 1 0 -0.7 5.8a2.9 1.7 97 1 0 0.7 -5.8zM127.5 265.2a2 1.7 167 1 0 -3.9 0.9a2 1.7 167 1 0 3.9 -0.9zM85.4 298.7a2.4 1.7 115 1 0 -2 4.4a2.4 1.7 115 1 0 2 -4.4zM161.1 208.3a2.6 1.9 59 1 0 2.6 4.5a2.6 1.9 59 1 0 -2.6 -4.5zM146.7 219.8a2.2 1.6 5 1 0 4.4 0.5a2.2 1.6 5 1 0 -4.4 -0.5zM49.6 189.3a2.9 1.5 19 1 0 5.5 1.9a2.9 1.5 19 1 0 -5.5 -1.9zM128.6 239.8a2.1 1.4 49 1 0 2.8 3.2a2.1 1.4 49 1 0 -2.8 -3.2zM125.7 183.2a2.3 1.3 130 1 0 -3 3.6a2.3 1.3 130 1 0 3 -3.6zM84.6 229.8a2.1 1.6 112 1 0 -1.6 3.9a2.1 1.6 112 1 0 1.6 -3.9zM112.2 264.7a2.7 1.6 25 1 0 5 2.4a2.7 1.6 25 1 0 -5 -2.4zM44.8 209.6a2 1.5 52 1 0 2.5 3.2a2 1.5 52 1 0 -2.5 -3.2zM105.6 275.3a2.1 1.5 96 1 0 -0.5 4.3a2.1 1.5 96 1 0 0.5 -4.3zM79.5 313.4a2.4 1.6 179 1 0 -4.7 0a2.4 1.6 179 1 0 4.7 0zM38 221.6a2.7 1.9 39 1 0 4.1 3.4a2.7 1.9 39 1 0 -4.1 -3.4zM151.4 200.6a2.3 1.8 99 1 0 -0.8 4.6a2.3 1.8 99 1 0 0.8 -4.6zM129.3 291.5a2.3 1.5 137 1 0 -3.4 3.1a2.3 1.5 137 1 0 3.4 -3.1zM159 298.3a2.6 1.9 121 1 0 -2.7 4.4a2.6 1.9 121 1 0 2.7 -4.4zM169.3 251.4a2.4 1.2 84 1 0 0.4 4.7a2.4 1.2 84 1 0 -0.4 -4.7zM91 276.9a1.9 1.5 19 1 0 3.6 1.3a1.9 1.5 19 1 0 -3.6 -1.3zM41.6 272.4a2.5 1.8 150 1 0 -4.3 2.5a2.5 1.8 150 1 0 4.3 -2.5zM171.2 217.1a2.4 1.6 129 1 0 -3.1 3.8a2.4 1.6 129 1 0 3.1 -3.8zM121.8 225.3a2.4 1.8 137 1 0 -3.6 3.3a2.4 1.8 137 1 0 3.6 -3.3zM119.2 298.6a2.2 1.6 31 1 0 3.7 2.2a2.2 1.6 31 1 0 -3.7 -2.2zM35.5 230.7a2.4 1.5 174 1 0 -4.9 0.4a2.4 1.5 174 1 0 4.9 -0.4zM141.5 195.6a2.5 1.8 172 1 0 -4.9 0.7a2.5 1.8 172 1 0 4.9 -0.7zM68.3 210.4a2.7 1.4 97 1 0 -0.7 5.4a2.7 1.4 97 1 0 0.7 -5.4zM155.3 311.1a2.1 1.5 77 1 0 0.9 4.2a2.1 1.5 77 1 0 -0.9 -4.2zM45.1 282.3a2.6 1.5 104 1 0 -1.3 5a2.6 1.5 104 1 0 1.3 -5zM102.9 312.4a2.3 1.5 170 1 0 -4.5 0.8a2.3 1.5 170 1 0 4.5 -0.8zM135.1 184a2.8 1.6 120 1 0 -2.8 4.8a2.8 1.6 120 1 0 2.8 -4.8zM74.5 200.1a2.6 1.8 55 1 0 2.9 4.3a2.6 1.8 55 1 0 -2.9 -4.3zM56.5 223.9a2.4 1.7 23 1 0 4.5 1.9a2.4 1.7 23 1 0 -4.5 -1.9zM140.9 212.7a2.2 1.5 132 1 0 -3 3.2a2.2 1.5 132 1 0 3 -3.2zM38 191.9a2.2 1.5 38 1 0 3.5 2.8a2.2 1.5 38 1 0 -3.5 -2.8zM80.6 221.4a2.5 1.5 95 1 0 -0.4 4.9a2.5 1.5 95 1 0 0.4 -4.9zM63.6 207.3a2.2 1.4 37 1 0 3.5 2.7a2.2 1.4 37 1 0 -3.5 -2.7zM98.3 191.5a2.7 1.4 67 1 0 2.1 5a2.7 1.4 67 1 0 -2.1 -5zM146.6 242.3a3 1.6 159 1 0 -5.6 2.1a3 1.6 159 1 0 5.6 -2.1zM79.8 212.6a2.3 1.6 118 1 0 -2.2 4.1a2.3 1.6 118 1 0 2.2 -4.1zM135.9 202.6a2 1.6 6 1 0 3.9 0.4a2 1.6 6 1 0 -3.9 -0.4zM102.3 235.8a2.3 1.8 146 1 0 -3.8 2.5a2.3 1.8 146 1 0 3.8 -2.5zM110.5 264.1a2.8 1.8 103 1 0 -1.3 5.4a2.8 1.8 103 1 0 1.3 -5.4zM133.4 310.9a2.5 1.7 124 1 0 -2.9 4.2a2.5 1.7 124 1 0 2.9 -4.2zM99.3 292.8a2 1.5 98 1 0 -0.6 4a2 1.5 98 1 0 0.6 -4zM161.8 303.8a2.8 1.5 21 1 0 5.2 2a2.8 1.5 21 1 0 -5.2 -2zM59.5 302.3a2.1 1.7 125 1 0 -2.5 3.4a2.1 1.7 125 1 0 2.5 -3.4zM35.2 215.6a1.9 1.3 93 1 0 -0.2 3.8a1.9 1.3 93 1 0 0.2 -3.8zM102.4 298a2.3 1.7 155 1 0 -4.1 1.9a2.3 1.7 155 1 0 4.1 -1.9zM43.9 268.9a1.9 1.5 131 1 0 -2.6 2.9a1.9 1.5 131 1 0 2.6 -2.9zM43.4 181.9a2.4 1.4 89 1 0 0.1 4.8a2.4 1.4 89 1 0 -0.1 -4.8zM63.1 287a2.6 1.8 175 1 0 -5.1 0.4a2.6 1.8 175 1 0 5.1 -0.4zM73 260.3a1.9 1.3 153 1 0 -3.4 1.7a1.9 1.3 153 1 0 3.4 -1.7zM166.1 216.3a2 1.6 157 1 0 -3.6 1.5a2 1.6 157 1 0 3.6 -1.5zM145.5 200.3a2.3 1.3 169 1 0 -4.4 0.8a2.3 1.3 169 1 0 4.4 -0.8zM120.4 213.2a2.3 1.6 100 1 0 -0.9 4.5a2.3 1.6 100 1 0 0.9 -4.5zM125.1 255.6a2.2 1.5 97 1 0 -0.6 4.3a2.2 1.5 97 1 0 0.6 -4.3zM169.2 184.5a2.1 1.3 157 1 0 -3.9 1.6a2.1 1.3 157 1 0 3.9 -1.6zM62.5 243a2.7 1.5 134 1 0 -3.8 3.9a2.7 1.5 134 1 0 3.8 -3.9zM97.7 302.7a1.8 1.4 110 1 0 -1.3 3.4a1.8 1.4 110 1 0 1.3 -3.4zM140 316.3a2.2 1.3 146 1 0 -3.6 2.4a2.2 1.3 146 1 0 3.6 -2.4zM132.1 296.9a2.2 1.5 177 1 0 -4.5 0.2a2.2 1.5 177 1 0 4.5 -0.2zM156.4 195.4a2.5 1.6 21 1 0 4.8 1.8a2.5 1.6 21 1 0 -4.8 -1.8zM159.4 324a2.4 1.5 24 1 0 4.4 2a2.4 1.5 24 1 0 -4.4 -2zM91.9 246.5a1.9 1.5 120 1 0 -1.9 3.3a1.9 1.5 120 1 0 1.9 -3.3zM126.4 237.9a2.3 1.8 140 1 0 -3.6 3a2.3 1.8 140 1 0 3.6 -3zM96.8 296.8a2.3 1.5 178 1 0 -4.7 0.1a2.3 1.5 178 1 0 4.7 -0.1zM110.9 275.6a2.1 1.4 104 1 0 -1.1 4.2a2.1 1.4 104 1 0 1.1 -4.2zM74.2 284.8a2 1.3 101 1 0 -0.8 3.9a2 1.3 101 1 0 0.8 -3.9zM44.2 205.9a1.9 1.5 113 1 0 -1.5 3.5a1.9 1.5 113 1 0 1.5 -3.5zM115.6 261.4a2 1.7 21 1 0 3.7 1.4a2 1.7 21 1 0 -3.7 -1.4zM63.3 183.2a2.5 1.5 176 1 0 -4.9 0.3a2.5 1.5 176 1 0 4.9 -0.3zM35.6 280.5a2.3 1.5 123 1 0 -2.6 3.9a2.3 1.5 123 1 0 2.6 -3.9zM106.2 181.2a2.5 1.6 153 1 0 -4.4 2.2a2.5 1.6 153 1 0 4.4 -2.2zM147.3 273.2a2.1 1.7 137 1 0 -3.1 2.8a2.1 1.7 137 1 0 3.1 -2.8zM158 243.4a2 1.3 38 1 0 3.1 2.5a2 1.3 38 1 0 -3.1 -2.5zM47.1 236.2a2.3 1.5 25 1 0 4.1 1.9a2.3 1.5 25 1 0 -4.1 -1.9zM109.2 307a2.1 1.4 159 1 0 -3.9 1.4a2.1 1.4 159 1 0 3.9 -1.4zM39.4 323.9a2.2 1.7 7 1 0 4.4 0.6a2.2 1.7 7 1 0 -4.4 -0.6zM152.9 193.6a2.5 1.8 130 1 0 -3.3 3.8a2.5 1.8 130 1 0 3.3 -3.8zM78.5 190.9a2 1.6 35 1 0 3.2 2.4a2 1.6 35 1 0 -3.2 -2.4zM159.1 284.4a2.9 1.7 112 1 0 -2.2 5.4a2.9 1.7 112 1 0 2.2 -5.4zM48.1 323.7a2.2 1.7 97 1 0 -0.6 4.3a2.2 1.7 97 1 0 0.6 -4.3zM155.8 182.6a2.3 1.6 32 1 0 4 2.5a2.3 1.6 32 1 0 -4 -2.5zM36 313a2.4 1.5 46 1 0 3.3 3.5a2.4 1.5 46 1 0 -3.3 -3.5zM30.6 268.8a2.8 1.8 33 1 0 4.8 3.1a2.8 1.8 33 1 0 -4.8 -3.1zM93.7 193.2a2.6 1.7 81 1 0 0.8 5.1a2.6 1.7 81 1 0 -0.8 -5.1zM147.4 194.2a2.6 1.6 145 1 0 -4.3 3a2.6 1.6 145 1 0 4.3 -3zM119.7 283.4a2.4 1.4 7 1 0 4.7 0.6a2.4 1.4 7 1 0 -4.7 -0.6zM50.4 272.4a2.4 1.6 0 1 0 4.9 0.1a2.4 1.6 0 1 0 -4.9 -0.1zM98.3 181.4a2.4 1.5 122 1 0 -2.6 4.1a2.4 1.5 122 1 0 2.6 -4.1zM149.8 268a1.9 1.4 14 1 0 3.7 1a1.9 1.4 14 1 0 -3.7 -1zM99.4 302.5a2.5 1.6 17 1 0 4.8 1.5a2.5 1.6 17 1 0 -4.8 -1.5zM115.2 241.1a2.2 1.7 156 1 0 -4.1 1.7a2.2 1.7 156 1 0 4.1 -1.7zM120.6 324.2a2 1.4 47 1 0 2.7 2.9a2 1.4 47 1 0 -2.7 -2.9zM66.5 263.5a2.7 1.6 65 1 0 2.2 4.9a2.7 1.6 65 1 0 -2.2 -4.9zM51.9 263.5a2.1 1.3 58 1 0 2.2 3.6a2.1 1.3 58 1 0 -2.2 -3.6zM73.9 290.8a2.7 1.5 155 1 0 -5 2.3a2.7 1.5 155 1 0 5 -2.3zM114.4 320.5a2.5 1.6 43 1 0 3.5 3.4a2.5 1.6 43 1 0 -3.5 -3.4zM90.4 183.6a1.9 1.4 94 1 0 -0.3 3.7a1.9 1.4 94 1 0 0.3 -3.7zM161.6 255.4a1.9 1.5 166 1 0 -3.7 0.9a1.9 1.5 166 1 0 3.7 -0.9zM82 308.4a2.3 1.6 67 1 0 1.7 4.3a2.3 1.6 67 1 0 -1.7 -4.3zM157.2 303.7a2.5 1.6 85 1 0 0.4 5a2.5 1.6 85 1 0 -0.4 -5zM136.2 315.8a2.1 1.4 161 1 0 -4 1.3a2.1 1.4 161 1 0 4 -1.3zM69.9 201.1a2.3 1.6 114 1 0 -1.9 4.2a2.3 1.6 114 1 0 1.9 -4.2zM134.8 189.6a2.1 1.6 67 1 0 1.6 3.9a2.1 1.6 67 1 0 -1.6 -3.9zM61.6 309a2.4 1.5 43 1 0 3.5 3.3a2.4 1.5 43 1 0 -3.5 -3.3zM113.9 202.6a2.3 1.4 1 1 0 4.7 0.1a2.3 1.4 1 1 0 -4.7 -0.1zM114.5 275.9a2 1.3 55 1 0 2.3 3.3a2 1.3 55 1 0 -2.3 -3.3zM162.1 202.2a2.2 1.8 63 1 0 2 3.9a2.2 1.8 63 1 0 -2 -3.9zM153.2 227.5a2.6 1.5 8 1 0 5.2 0.8a2.6 1.5 8 1 0 -5.2 -0.8zM150.6 284.7a1.8 1.2 49 1 0 2.4 2.8a1.8 1.2 49 1 0 -2.4 -2.8zM55.8 190.8a2.8 1.9 19 1 0 5.2 1.9a2.8 1.9 19 1 0 -5.2 -1.9zM137.5 262.9a2.2 1.8 56 1 0 2.4 3.6a2.2 1.8 56 1 0 -2.4 -3.6zM133.6 226a2.2 1.7 33 1 0 3.7 2.5a2.2 1.7 33 1 0 -3.7 -2.5zM45.6 313.6a2.3 1.3 109 1 0 -1.6 4.4a2.3 1.3 109 1 0 1.6 -4.4zM37.7 284a2.4 1.6 12 1 0 4.7 1.1a2.4 1.6 12 1 0 -4.7 -1.1zM171 247.1a2.2 1.6 64 1 0 1.9 4a2.2 1.6 64 1 0 -1.9 -4zM139.1 323.3a2.3 1.5 140 1 0 -3.6 3a2.3 1.5 140 1 0 3.6 -3zM83.6 225.1a2.6 1.8 104 1 0 -1.3 5a2.6 1.8 104 1 0 1.3 -5zM99.1 315.5a2.3 1.5 110 1 0 -1.6 4.3a2.3 1.5 110 1 0 1.6 -4.3zM162 253.9a2.3 1.8 7 1 0 4.6 0.6a2.3 1.8 7 1 0 -4.6 -0.6zM70.4 307.9a2.7 1.6 168 1 0 -5.2 1a2.7 1.6 168 1 0 5.2 -1zM139.2 254.4a2.6 1.8 44 1 0 3.6 3.6a2.6 1.8 44 1 0 -3.6 -3.6zM35.6 291.2a2.8 1.9 146 1 0 -4.8 3.1a2.8 1.9 146 1 0 4.8 -3.1zM56.2 294.7a2.8 1.8 49 1 0 3.6 4.2a2.8 1.8 49 1 0 -3.6 -4.2zM82.8 290.1a2.1 1.5 31 1 0 3.6 2.1a2.1 1.5 31 1 0 -3.6 -2.1zM150 262.3a1.9 1.5 170 1 0 -3.8 0.6a1.9 1.5 170 1 0 3.8 -0.6zM128.4 254.3a2.6 1.3 76 1 0 1.2 5a2.6 1.3 76 1 0 -1.2 -5zM140.4 247.2a2.7 1.5 16 1 0 5.2 1.6a2.7 1.5 16 1 0 -5.2 -1.6zM146.8 233.5a1.8 1.3 35 1 0 2.9 2.1a1.8 1.3 35 1 0 -2.9 -2.1zM157.2 185.8a2 1.6 125 1 0 -2.3 3.2a2 1.6 125 1 0 2.3 -3.2zM77.4 288.7a2.4 1.3 103 1 0 -1.1 4.6a2.4 1.3 103 1 0 1.1 -4.6zM63.9 245.4a2.6 1.6 92 1 0 -0.3 5.3a2.6 1.6 92 1 0 0.3 -5.3zM156.4 198.8a2.2 1.3 163 1 0 -4.2 1.3a2.2 1.3 163 1 0 4.2 -1.3zM108.4 237.3a2 1.4 70 1 0 1.4 3.8a2 1.4 70 1 0 -1.4 -3.8zM95 323.6a2.2 1.5 117 1 0 -2.1 3.9a2.2 1.5 117 1 0 2.1 -3.9zM142.3 289.8a2.4 1.3 84 1 0 0.5 4.8a2.4 1.3 84 1 0 -0.5 -4.8zM69.4 244.7a2.2 1.6 87 1 0 0.2 4.3a2.2 1.6 87 1 0 -0.2 -4.3zM148 306.1a2.1 1.3 119 1 0 -2 3.6a2.1 1.3 119 1 0 2 -3.6zM90.9 270.6a2.5 1.4 110 1 0 -1.7 4.7a2.5 1.4 110 1 0 1.7 -4.7zM112 272.2a2.6 1.4 8 1 0 5.2 0.8a2.6 1.4 8 1 0 -5.2 -0.8zM145.1 180.4a2.3 1.4 116 1 0 -2.1 4.2a2.3 1.4 116 1 0 2.1 -4.2zM166.6 269.6a2.4 1.8 70 1 0 1.7 4.6a2.4 1.8 70 1 0 -1.7 -4.6z"/>
<path fill="#352896" d="M145 253.4a2.3 1.7 75 1 0 1.2 4.5a2.3 1.7 75 1 0 -1.2 -4.5zM145 213.1a2.6 1.4 121 1 0 -2.7 4.4a2.6 1.4 121 1 0 2.7 -4.4zM172.3 285.6a2.7 1.7 92 1 0 -0.3 5.4a2.7 1.7 92 1 0 0.3 -5.4zM35.1 228.5a2.4 1.5 19 1 0 4.5 1.6a2.4 1.5 19 1 0 -4.5 -1.6zM49.1 313.5a2.3 1.6 63 1 0 2 4a2.3 1.6 63 1 0 -2 -4zM94.7 259a2.7 1.6 60 1 0 2.6 4.7a2.7 1.6 60 1 0 -2.6 -4.7zM150.5 209.9a2.4 1.4 156 1 0 -4.3 1.9a2.4 1.4 156 1 0 4.3 -1.9zM161.8 307.7a2 1.6 91 1 0 -0.1 4.1a2 1.6 91 1 0 0.1 -4.1zM171 235.3a2.4 1.7 69 1 0 1.7 4.5a2.4 1.7 69 1 0 -1.7 -4.5zM132.1 322.9a2.2 1.6 64 1 0 1.9 4a2.2 1.6 64 1 0 -1.9 -4zM108.1 287.3a2.8 1.6 58 1 0 2.9 4.7a2.8 1.6 58 1 0 -2.9 -4.7zM78.9 314.3a2.7 1.5 23 1 0 4.9 2.1a2.7 1.5 23 1 0 -4.9 -2.1zM126.6 277.5a2.4 1.4 47 1 0 3.2 3.5a2.4 1.4 47 1 0 -3.2 -3.5zM168 265.2a2 1.4 116 1 0 -1.8 3.5a2 1.4 116 1 0 1.8 -3.5zM153.6 203.5a2.4 1.6 47 1 0 3.2 3.5a2.4 1.6 47 1 0 -3.2 -3.5zM142.5 250a2.1 1.5 137 1 0 -3.2 2.9a2.1 1.5 137 1 0 3.2 -2.9zM65.6 319.8a2.3 1.8 3 1 0 4.6 0.3a2.3 1.8 3 1 0 -4.6 -0.3zM108.5 285.7a2.6 1.9 155 1 0 -4.7 2.2a2.6 1.9 155 1 0 4.7 -2.2zM38.5 211.6a2.1 1.6 155 1 0 -3.9 1.8a2.1 1.6 155 1 0 3.9 -1.8zM151.4 295.6a1.8 1.2 152 1 0 -3.1 1.6a1.8 1.2 152 1 0 3.1 -1.6zM106.1 220.4a1.8 1.3 44 1 0 2.6 2.6a1.8 1.3 44 1 0 -2.6 -2.6zM45.5 193.4a2.1 1.4 79 1 0 0.8 4.1a2.1 1.4 79 1 0 -0.8 -4.1zM131 305.1a2.8 1.9 68 1 0 2 5.3a2.8 1.9 68 1 0 -2 -5.3zM67.5 279.7a2.6 1.7 80 1 0 0.9 5.1a2.6 1.7 80 1 0 -0.9 -5.1zM76.9 185.5a2.5 1.7 100 1 0 -0.9 4.8a2.5 1.7 100 1 0 0.9 -4.8zM103.1 258.6a2.4 1.4 91 1 0 -0.2 4.9a2.4 1.4 91 1 0 0.2 -4.9zM118.2 253.2a2.4 1.7 129 1 0 -3.1 3.8a2.4 1.7 129 1 0 3.1 -3.8zM74.3 280.7a2.5 1.6 49 1 0 3.3 3.8a2.5 1.6 49 1 0 -3.3 -3.8zM42.9 249a2.6 1.7 50 1 0 3.3 4a2.6 1.7 50 1 0 -3.3 -4zM100.7 282.8a2.5 1.7 73 1 0 1.4 4.7a2.5 1.7 73 1 0 -1.4 -4.7zM76.5 315.5a2.8 1.8 124 1 0 -3.2 4.6a2.8 1.8 124 1 0 3.2 -4.6zM166.9 226.7a2 1.6 127 1 0 -2.4 3.1a2 1.6 127 1 0 2.4 -3.1zM95.6 270.7a1.8 1.6 178 1 0 -3.7 0.1a1.8 1.6 178 1 0 3.7 -0.1zM73.6 206.1a2 1.3 153 1 0 -3.6 1.8a2 1.3 153 1 0 3.6 -1.8zM162.1 281.7a2.1 1.5 53 1 0 2.5 3.3a2.1 1.5 53 1 0 -2.5 -3.3zM43.9 224.4a2.8 1.7 46 1 0 3.8 4a2.8 1.7 46 1 0 -3.8 -4zM98.5 309.7a2.6 1.7 157 1 0 -4.8 2a2.6 1.7 157 1 0 4.8 -2zM158.4 190.2a2.3 1.4 123 1 0 -2.6 3.8a2.3 1.4 123 1 0 2.6 -3.8zM153.6 210.9a2.5 1.7 18 1 0 4.7 1.6a2.5 1.7 18 1 0 -4.7 -1.6zM124.1 216.4a1.9 1.4 102 1 0 -0.9 3.8a1.9 1.4 102 1 0 0.9 -3.8zM115.7 324.5a2.7 1.5 156 1 0 -4.9 2.1a2.7 1.5 156 1 0 4.9 -2.1zM152.8 308.7a2.1 1.4 137 1 0 -3.2 2.9a2.1 1.4 137 1 0 3.2 -2.9zM63 278.7a2.1 1.4 88 1 0 0.1 4.1a2.1 1.4 88 1 0 -0.1 -4.1zM135.8 272a2.9 1.6 30 1 0 4.9 2.9a2.9 1.6 30 1 0 -4.9 -2.9zM81.5 292.7a2.5 1.4 61 1 0 2.3 4.3a2.5 1.4 61 1 0 -2.3 -4.3zM166.7 291.2a2.6 1.5 70 1 0 1.8 4.9a2.6 1.5 70 1 0 -1.8 -4.9zM52.4 224.4a2.2 1.4 59 1 0 2.2 3.8a2.2 1.4 59 1 0 -2.2 -3.8zM87.2 221a2.4 1.9 149 1 0 -4.1 2.4a2.4 1.9 149 1 0 4.1 -2.4zM170.5 227.2a2.4 1.3 50 1 0 3 3.7a2.4 1.3 50 1 0 -3 -3.7zM87.5 321.2a2.1 1.4 143 1 0 -3.4 2.5a2.1 1.4 143 1 0 3.4 -2.5zM122 220.2a2.1 1.7 151 1 0 -3.7 2a2.1 1.7 151 1 0 3.7 -2zM72.7 295.7a2.8 1.5 167 1 0 -5.5 1.2a2.8 1.5 167 1 0 5.5 -1.2zM167.5 274.2a2.2 1.4 70 1 0 1.5 4.1a2.2 1.4 70 1 0 -1.5 -4.1zM94.2 291.3a2 1.4 15 1 0 3.9 1.1a2 1.4 15 1 0 -3.9 -1.1zM130 300.6a1.7 1.2 64 1 0 1.5 3.2a1.7 1.2 64 1 0 -1.5 -3.2zM145 204.8a2.1 1.9 92 1 0 -0.2 4.2a2.1 1.9 92 1 0 0.2 -4.2zM150.7 302.2a1.8 1.4 66 1 0 1.5 3.3a1.8 1.4 66 1 0 -1.5 -3.3zM135.5 215.1a2.2 1.5 114 1 0 -1.8 3.9a2.2 1.5 114 1 0 1.8 -3.9zM97.1 279.2a2.5 1.6 90 1 0 -0.1 5a2.5 1.6 90 1 0 0.1 -5zM50.9 296.4a2 1.6 136 1 0 -2.9 2.7a2 1.6 136 1 0 2.9 -2.7zM40.1 316.5a2.7 1.4 60 1 0 2.6 4.6a2.7 1.4 60 1 0 -2.6 -4.6zM119 237.6a2.3 1.5 133 1 0 -3.2 3.4a2.3 1.5 133 1 0 3.2 -3.4zM52.6 240.1a2.5 1.7 23 1 0 4.6 2a2.5 1.7 23 1 0 -4.6 -2zM169.6 255.9a2 1.6 100 1 0 -0.7 4a2 1.6 100 1 0 0.7 -4zM169.2 209.6a1.9 1.6 127 1 0 -2.4 3a1.9 1.6 127 1 0 2.4 -3zM126 322.2a2.6 1.7 81 1 0 0.8 5.1a2.6 1.7 81 1 0 -0.8 -5.1zM56.5 265.3a2.3 1.3 83 1 0 0.6 4.6a2.3 1.3 83 1 0 -0.6 -4.6zM148.9 249.9a2.7 1.7 27 1 0 4.7 2.4a2.7 1.7 27 1 0 -4.7 -2.4zM107.7 295.1a2.2 1.5 38 1 0 3.4 2.7a2.2 1.5 38 1 0 -3.4 -2.7zM133.4 237.6a2.4 1.3 65 1 0 2 4.4a2.4 1.3 65 1 0 -2 -4.4zM138.4 220.2a2.5 1.7 88 1 0 0.1 4.9a2.5 1.7 88 1 0 -0.1 -4.9zM47.2 220.8a2.1 1.5 164 1 0 -4.1 1.1a2.1 1.5 164 1 0 4.1 -1.1zM117.8 257.8a2.8 1.7 8 1 0 5.5 0.8a2.8 1.7 8 1 0 -5.5 -0.8zM169.8 319.4a2.1 1.3 145 1 0 -3.4 2.4a2.1 1.3 145 1 0 3.4 -2.4zM81.3 233.5a2.3 1.7 100 1 0 -0.9 4.5a2.3 1.7 100 1 0 0.9 -4.5zM135.8 200.4a2.6 1.7 168 1 0 -5.1 1.1a2.6 1.7 168 1 0 5.1 -1.1zM152.1 236.1a2 1.5 115 1 0 -1.7 3.5a2 1.5 115 1 0 1.7 -3.5zM68.1 275.5a2.6 1.5 122 1 0 -2.8 4.4a2.6 1.5 122 1 0 2.8 -4.4zM63.2 202a2.5 1.8 94 1 0 -0.4 5a2.5 1.8 94 1 0 0.4 -5zM74.8 305a2.3 1.8 40 1 0 3.4 2.9a2.3 1.8 40 1 0 -3.4 -2.9zM152.9 219.8a2.4 1.6 11 1 0 4.7 1a2.4 1.6 11 1 0 -4.7 -1zM36.9 249.8a2.2 1.4 41 1 0 3.3 2.9a2.2 1.4 41 1 0 -3.3 -2.9zM164 220.5a2.4 1.7 98 1 0 -0.7 4.7a2.4 1.7 98 1 0 0.7 -4.7zM98.6 321.1a2 1.5 83 1 0 0.5 4a2 1.5 83 1 0 -0.5 -4zM42.3 234.7a2.3 1.3 45 1 0 3.2 3.3a2.3 1.3 45 1 0 -3.2 -3.3zM47.5 289.5a2.6 1.5 63 1 0 2.3 4.6a2.6 1.5 63 1 0 -2.3 -4.6zM57.6 284a2.1 1.5 135 1 0 -3 3a2.1 1.5 135 1 0 3 -3zM68.2 229.1a2.2 1.7 14 1 0 4.3 1.1a2.2 1.7 14 1 0 -4.3 -1.1zM153.5 318.4a2 1.6 115 1 0 -1.7 3.6a2 1.6 115 1 0 1.7 -3.6zM143.6 261.1a2.1 1.5 87 1 0 0.2 4.2a2.1 1.5 87 1 0 -0.2 -4.2zM32 320.3a2.4 1.4 3 1 0 4.8 0.3a2.4 1.4 3 1 0 -4.8 -0.3zM92.4 286.2a2.5 1.7 6 1 0 5 0.6a2.5 1.7 6 1 0 -5 -0.6zM110.2 315.5a2.4 1.3 87 1 0 0.2 4.8a2.4 1.3 87 1 0 -0.2 -4.8zM130.6 270.8a2.2 1.8 98 1 0 -0.6 4.4a2.2 1.8 98 1 0 0.6 -4.4zM61.8 190.2a2.2 1.3 53 1 0 2.6 3.5a2.2 1.3 53 1 0 -2.6 -3.5zM131.8 243.7a2.4 1.3 48 1 0 3.1 3.6a2.4 1.3 48 1 0 -3.1 -3.6zM169.9 280.1a2 1.6 135 1 0 -2.9 2.8a2 1.6 135 1 0 2.9 -2.8zM67.1 235.6a2.7 1.7 104 1 0 -1.3 5.3a2.7 1.7 104 1 0 1.3 -5.3zM48 238.8a2.6 1.6 88 1 0 0.2 5.2a2.6 1.6 88 1 0 -0.2 -5.2zM157 323.5a2 1.5 109 1 0 -1.3 3.8a2 1.5 109 1 0 1.3 -3.8zM141.6 265.8a2.5 1.6 89 1 0 0 5a2.5 1.6 89 1 0 0 -5zM57.4 218.9a2.1 1.8 110 1 0 -1.5 4a2.1 1.8 110 1 0 1.5 -4zM94.6 219.6a2.6 1.7 46 1 0 3.6 3.7a2.6 1.7 46 1 0 -3.6 -3.7zM143 280.6a1.8 1.4 143 1 0 -2.8 2.1a1.8 1.4 143 1 0 2.8 -2.1zM83.4 199.4a1.8 1.3 113 1 0 -1.4 3.2a1.8 1.3 113 1 0 1.4 -3.2zM103.7 256.8a1.9 1.6 174 1 0 -3.9 0.4a1.9 1.6 174 1 0 3.9 -0.4zM102.3 229.3a2.1 1.4 50 1 0 2.7 3.3a2.1 1.4 50 1 0 -2.7 -3.3zM150.5 257.9a2 1.5 159 1 0 -3.7 1.4a2 1.5 159 1 0 3.7 -1.4zM110.3 229.6a2.2 1.4 6 1 0 4.4 0.5a2.2 1.4 6 1 0 -4.4 -0.5zM170.4 302a2.5 1.5 90 1 0 -0.1 5a2.5 1.5 90 1 0 0.1 -5zM40.8 238a2.7 1.6 130 1 0 -3.5 4.1a2.7 1.6 130 1 0 3.5 -4.1zM106.2 251.8a2.1 1.6 59 1 0 2.2 3.7a2.1 1.6 59 1 0 -2.2 -3.7zM121 278.4a2.1 1.6 22 1 0 3.9 1.7a2.1 1.6 22 1 0 -3.9 -1.7zM144.3 293.7a2.2 1.4 65 1 0 1.8 3.9a2.2 1.4 65 1 0 -1.8 -3.9zM75.1 241.3a2 1.5 163 1 0 -3.8 1.1a2 1.5 163 1 0 3.8 -1.1zM133 260.1a2.3 1.7 54 1 0 2.7 3.8a2.3 1.7 54 1 0 -2.7 -3.8zM71.5 266.2a2.9 1.7 34 1 0 4.9 3.3a2.9 1.7 34 1 0 -4.9 -3.3zM72.4 195.7a2.6 1.7 134 1 0 -3.7 3.8a2.6 1.7 134 1 0 3.7 -3.8zM98.1 265a2.2 1.7 6 1 0 4.3 0.5a2.2 1.7 6 1 0 -4.3 -0.5zM87.7 253.6a2.4 1.5 68 1 0 1.8 4.5a2.4 1.5 68 1 0 -1.8 -4.5zM43 278.3a2.2 1.6 136 1 0 -3.2 3a2.2 1.6 136 1 0 3.2 -3zM56.6 181.8a2.4 1.6 144 1 0 -3.9 2.8a2.4 1.6 144 1 0 3.9 -2.8zM126.4 181.9a2.5 1.6 18 1 0 4.8 1.6a2.5 1.6 18 1 0 -4.8 -1.6zM133.9 220.5a2.2 1.7 123 1 0 -2.4 3.8a2.2 1.7 123 1 0 2.4 -3.8zM141.6 240.2a2.5 1.5 159 1 0 -4.8 1.7a2.5 1.5 159 1 0 4.8 -1.7zM147.2 222.6a2.1 1.6 82 1 0 0.5 4.1a2.1 1.6 82 1 0 -0.5 -4.1zM104.8 207.3a2.5 1.7 87 1 0 0.2 4.9a2.5 1.7 87 1 0 -0.2 -4.9zM112 248.5a2 1.4 37 1 0 3.2 2.4a2 1.4 37 1 0 -3.2 -2.4zM139.1 308.9a1.9 1.6 176 1 0 -3.9 0.3a1.9 1.6 176 1 0 3.9 -0.3zM120.3 188.8a1.9 1.5 5 1 0 3.7 0.4a1.9 1.5 5 1 0 -3.7 -0.4zM77.5 319.2a2 1.5 11 1 0 3.9 0.8a2 1.5 11 1 0 -3.9 -0.8zM169.8 286a2.2 1.5 170 1 0 -4.3 0.7a2.2 1.5 170 1 0 4.3 -0.7zM86.1 313.9a2.6 1.8 33 1 0 4.4 2.9a2.6 1.8 33 1 0 -4.4 -2.9zM156.5 248.2a2.4 1.2 21 1 0 4.4 1.8a2.4 1.2 21 1 0 -4.4 -1.8zM80.6 281.1a2.1 1.4 95 1 0 -0.4 4.1a2.1 1.4 95 1 0 0.4 -4.1zM164 239.8a1.8 1.4 121 1 0 -1.9 3.1a1.8 1.4 121 1 0 1.9 -3.1zM39.6 211.4a2.3 1.6 58 1 0 2.4 3.9a2.3 1.6 58 1 0 -2.4 -3.9zM60.3 289.9a2.4 1.5 141 1 0 -3.8 3a2.4 1.5 141 1 0 3.8 -3zM117.1 196.1a2.7 1.5 170 1 0 -5.3 0.9a2.7 1.5 170 1 0 5.3 -0.9zM44.4 274.4a1.9 1.4 118 1 0 -1.8 3.3a1.9 1.4 118 1 0 1.8 -3.3zM111.8 184.4a2.2 1.8 41 1 0 3.3 2.9a2.2 1.8 41 1 0 -3.3 -2.9zM69.6 249.3a2.8 1.8 25 1 0 5 2.4a2.8 1.8 25 1 0 -5 -2.4zM55.8 198.6a2.3 1.4 61 1 0 2.3 4.1a2.3 1.4 61 1 0 -2.3 -4.1zM151 181.4a2.6 1.5 57 1 0 2.8 4.4a2.6 1.5 57 1 0 -2.8 -4.4zM165.5 241a2.4 1.6 5 1 0 4.7 0.5a2.4 1.6 5 1 0 -4.7 -0.5zM134.4 280.8a2.1 1.4 89 1 0 0 4.3a2.1 1.4 89 1 0 0 -4.3zM135.7 207.8a1.8 1.2 121 1 0 -1.9 3.1a1.8 1.2 121 1 0 1.9 -3.1zM35.8 204.5a2.4 1.5 141 1 0 -3.8 3a2.4 1.5 141 1 0 3.8 -3zM105.5 185.6a2.5 1.7 123 1 0 -2.8 4.2a2.5 1.7 123 1 0 2.8 -4.2zM82.8 203.9a2.8 1.7 165 1 0 -5.3 1.4a2.8 1.7 165 1 0 5.3 -1.4zM110.7 298.6a2.2 1.6 79 1 0 0.8 4.3a2.2 1.6 79 1 0 -0.8 -4.3zM62.1 290.3a2.7 1.6 20 1 0 5 1.9a2.7 1.6 20 1 0 -5 -1.9zM111.3 216.5a2.6 1.7 138 1 0 -3.9 3.4a2.6 1.7 138 1 0 3.9 -3.4zM73.1 294.9a1.9 1.6 4 1 0 3.9 0.3a1.9 1.6 4 1 0 -3.9 -0.3zM110.9 180.3a1.8 1.5 90 1 0 0 3.6a1.8 1.5 90 1 0 0 -3.6zM170.6 201.6a2.1 1.6 175 1 0 -4.3 0.3a2.1 1.6 175 1 0 4.3 -0.3zM117.3 198.6a2.6 1.4 19 1 0 4.9 1.7a2.6 1.4 19 1 0 -4.9 -1.7zM125.4 202.9a2.1 1.6 136 1 0 -3.1 2.9a2.1 1.6 136 1 0 3.1 -2.9zM96.1 315.6a2 1.5 158 1 0 -3.8 1.5a2 1.5 158 1 0 3.8 -1.5zM55.4 288.3a2.5 1.5 157 1 0 -4.6 1.9a2.5 1.5 157 1 0 4.6 -1.9zM89.1 200a2.2 1.3 14 1 0 4.3 1.1a2.2 1.3 14 1 0 -4.3 -1.1zM64.5 285.5a2.6 1.6 34 1 0 4.3 2.9a2.6 1.6 34 1 0 -4.3 -2.9zM97 240.5a2.8 1.5 122 1 0 -2.9 4.7a2.8 1.5 122 1 0 2.9 -4.7zM86.6 229.1a2.4 1.4 40 1 0 3.7 3.1a2.4 1.4 40 1 0 -3.7 -3.1zM127.2 287.8a2.7 1.9 21 1 0 5.1 2a2.7 1.9 21 1 0 -5.1 -2zM142.1 275.1a2.4 1.2 86 1 0 0.3 4.8a2.4 1.2 86 1 0 -0.3 -4.8zM55.6 292.4a2.7 1.4 139 1 0 -4.1 3.6a2.7 1.4 139 1 0 4.1 -3.6zM148.9 212.7a2.2 1.5 79 1 0 0.8 4.4a2.2 1.5 79 1 0 -0.8 -4.4zM103.4 192.3a2.5 1.6 37 1 0 3.9 3a2.5 1.6 37 1 0 -3.9 -3zM44.2 213.1a2.8 1.8 69 1 0 2 5.3a2.8 1.8 69 1 0 -2 -5.3zM55.1 314.2a1.8 1.2 94 1 0 -0.3 3.6a1.8 1.2 94 1 0 0.3 -3.6zM83.1 278a2.1 1.6 65 1 0 1.7 3.8a2.1 1.6 65 1 0 -1.7 -3.8zM107.1 256.6a2 1.3 67 1 0 1.5 3.8a2 1.3 67 1 0 -1.5 -3.8zM155.8 296.4a2.2 1.4 146 1 0 -3.7 2.5a2.2 1.4 146 1 0 3.7 -2.5zM64.3 323.8a2.7 1.8 154 1 0 -5 2.3a2.7 1.8 154 1 0 5 -2.3zM124.4 268.7a2 1.3 48 1 0 2.6 2.9a2 1.3 48 1 0 -2.6 -2.9zM172.4 308.1a2.5 1.6 89 1 0 0 5a2.5 1.6 89 1 0 0 -5zM127.8 305.9a2.1 1.4 98 1 0 -0.6 4.1a2.1 1.4 98 1 0 0.6 -4.1zM76.1 222.9a2.6 1.6 177 1 0 -5.1 0.3a2.6 1.6 177 1 0 5.1 -0.3zM124.1 214.4a2.5 1.8 2 1 0 5 0.2a2.5 1.8 2 1 0 -5 -0.2zM62.6 233.1a2.5 1.6 103 1 0 -1.1 5a2.5 1.6 103 1 0 1.1 -5zM147.3 323.2a2.5 1.4 48 1 0 3.3 3.8a2.5 1.4 48 1 0 -3.3 -3.8zM101 225a2 1.4 13 1 0 3.8 0.9a2 1.4 13 1 0 -3.8 -0.9zM79.2 218.1a2.3 1.7 27 1 0 4.1 2.1a2.3 1.7 27 1 0 -4.1 -2.1zM129.4 199.5a1.9 1.5 109 1 0 -1.2 3.5a1.9 1.5 109 1 0 1.2 -3.5zM56.9 208.8a2.4 1.7 89 1 0 0.1 4.9a2.4 1.7 89 1 0 -0.1 -4.9zM152.8 272.7a2.5 1.7 65 1 0 2.1 4.6a2.5 1.7 65 1 0 -2.1 -4.6zM77.7 277.9a1.8 1.3 48 1 0 2.4 2.7a1.8 1.3 48 1 0 -2.4 -2.7zM72.3 305.3a1.8 1.6 88 1 0 0.1 3.6a1.8 1.6 88 1 0 -0.1 -3.6zM111 283.2a1.7 1.5 101 1 0 -0.7 3.4a1.7 1.5 101 1 0 0.7 -3.4zM156.9 207a2.4 1.4 11 1 0 4.8 1a2.4 1.4 11 1 0 -4.8 -1zM87.3 235.4a2.3 2 128 1 0 -2.8 3.6a2.3 2 128 1 0 2.8 -3.6zM130.5 262.4a1.8 1.4 115 1 0 -1.5 3.2a1.8 1.4 115 1 0 1.5 -3.2zM169.9 213.7a2.1 1.2 141 1 0 -3.3 2.6a2.1 1.2 141 1 0 3.3 -2.6zM138.5 312.2a2.1 1.4 150 1 0 -3.6 2a2.1 1.4 150 1 0 3.6 -2zM110.1 244.7a1.8 1.5 42 1 0 2.6 2.4a1.8 1.5 42 1 0 -2.6 -2.4zM75.5 247.6a2.3 1.4 11 1 0 4.6 0.9a2.3 1.4 11 1 0 -4.6 -0.9z"/>
<path fill="#c83030" opacity="0.7" d="M136.5 321.8a1 0.5 44 1 0 1.4 1.3a1 0.5 44 1 0 -1.4 -1.3zM107.7 316a0.8 0.7 174 1 0 -1.5 0.2a0.8 0.7 174 1 0 1.5 -0.2zM79.3 306.2a1 0.5 121 1 0 -1 1.6a1 0.5 121 1 0 1 -1.6zM107.9 228.8a0.7 0.6 18 1 0 1.4 0.5a0.7 0.6 18 1 0 -1.4 -0.5zM120.4 295.4a0.8 0.4 168 1 0 -1.5 0.3a0.8 0.4 168 1 0 1.5 -0.3zM82.1 252.7a0.5 0.4 64 1 0 0.5 1a0.5 0.4 64 1 0 -0.5 -1zM132 294a0.7 0.6 131 1 0 -1 1.1a0.7 0.6 131 1 0 1 -1.1zM109.7 256.4a0.8 0.5 164 1 0 -1.6 0.4a0.8 0.5 164 1 0 1.6 -0.4zM40.4 235.3a0.6 0.4 135 1 0 -0.8 0.8a0.6 0.4 135 1 0 0.8 -0.8zM105 238.1a1 0.7 149 1 0 -1.7 1a1 0.7 149 1 0 1.7 -1zM137.7 251.8a0.4 0.3 108 1 0 -0.3 0.8a0.4 0.3 108 1 0 0.3 -0.8zM76.1 208.5a0.8 0.6 2 1 0 1.6 0.1a0.8 0.6 2 1 0 -1.6 -0.1zM139 288.6a0.9 0.4 128 1 0 -1.1 1.4a0.9 0.4 128 1 0 1.1 -1.4zM55.8 233.8a0.9 0.5 81 1 0 0.3 1.7a0.9 0.5 81 1 0 -0.3 -1.7zM120.4 268a0.8 0.4 0 1 0 1.6 0a0.8 0.4 0 1 0 -1.6 0zM77 197.9a0.9 0.6 54 1 0 1 1.4a0.9 0.6 54 1 0 -1 -1.4zM41.7 196.8a0.8 0.6 57 1 0 0.9 1.4a0.8 0.6 57 1 0 -0.9 -1.4zM140.3 242a0.9 0.6 76 1 0 0.4 1.8a0.9 0.6 76 1 0 -0.4 -1.8zM87.7 235.4a0.7 0.6 173 1 0 -1.4 0.2a0.7 0.6 173 1 0 1.4 -0.2zM143.2 303.4a0.7 0.4 88 1 0 0 1.4a0.7 0.4 88 1 0 0 -1.4zM69.6 270.5a1 0.5 111 1 0 -0.7 1.8a1 0.5 111 1 0 0.7 -1.8zM143.4 321.5a0.6 0.3 174 1 0 -1.3 0.1a0.6 0.3 174 1 0 1.3 -0.1zM42.1 246.7a0.6 0.3 2 1 0 1.2 0a0.6 0.3 2 1 0 -1.2 0zM52 309.1a0.6 0.4 117 1 0 -0.6 1.1a0.6 0.4 117 1 0 0.6 -1.1zM62.3 286.2a0.6 0.4 61 1 0 0.6 1a0.6 0.4 61 1 0 -0.6 -1zM125.2 316.3a0.7 0.6 92 1 0 -0.1 1.5a0.7 0.6 92 1 0 0.1 -1.5zM52.4 319.2a0.7 0.4 115 1 0 -0.6 1.2a0.7 0.4 115 1 0 0.6 -1.2zM94.8 298.5a0.8 0.4 151 1 0 -1.3 0.7a0.8 0.4 151 1 0 1.3 -0.7zM170.5 277.5a0.7 0.5 162 1 0 -1.3 0.4a0.7 0.5 162 1 0 1.3 -0.4zM168.4 299.7a0.7 0.5 163 1 0 -1.4 0.4a0.7 0.5 163 1 0 1.4 -0.4zM132.1 321.2a0.6 0.4 7 1 0 1.2 0.2a0.6 0.4 7 1 0 -1.2 -0.2zM115.3 198.4a0.5 0.3 4 1 0 1 0.1a0.5 0.3 4 1 0 -1 -0.1zM120.8 232.2a0.7 0.4 127 1 0 -0.8 1.1a0.7 0.4 127 1 0 0.8 -1.1zM77.1 317.4a0.8 0.4 78 1 0 0.3 1.5a0.8 0.4 78 1 0 -0.3 -1.5zM71.2 298.3a0.5 0.4 48 1 0 0.7 0.8a0.5 0.4 48 1 0 -0.7 -0.8zM86.6 293.1a0.9 0.6 174 1 0 -1.8 0.2a0.9 0.6 174 1 0 1.8 -0.2zM89.9 220.6a0.6 0.3 62 1 0 0.5 1a0.6 0.3 62 1 0 -0.5 -1zM40.3 288.6a0.6 0.3 123 1 0 -0.6 0.9a0.6 0.3 123 1 0 0.6 -0.9zM82.8 307.9a0.8 0.5 52 1 0 1 1.3a0.8 0.5 52 1 0 -1 -1.3zM170.6 282.2a0.7 0.5 124 1 0 -0.8 1.2a0.7 0.5 124 1 0 0.8 -1.2z"/>
<path fill="#5cc83a" d="M72.9 223.5a1.3 0.6 109 1 0 -0.9 2.5a1.3 0.6 109 1 0 0.9 -2.5zM76.1 222a1.4 0.9 164 1 0 -2.8 0.8a1.4 0.9 164 1 0 2.8 -0.8zM74 223.3a0.8 0.6 60 1 0 0.8 1.4a0.8 0.6 60 1 0 -0.8 -1.4zM52.8 197.3a1.4 0.9 131 1 0 -1.9 2.2a1.4 0.9 131 1 0 1.9 -2.2zM48.3 197a0.8 0.5 88 1 0 0 1.6a0.8 0.5 88 1 0 0 -1.6zM52.1 198.2a1.7 0.9 135 1 0 -2.4 2.4a1.7 0.9 135 1 0 2.4 -2.4zM86.4 190.3a1.4 0.7 106 1 0 -0.8 2.6a1.4 0.7 106 1 0 0.8 -2.6zM87.2 190.1a1.6 0.8 144 1 0 -2.6 1.8a1.6 0.8 144 1 0 2.6 -1.8zM67.8 223.9a1.6 1 120 1 0 -1.7 2.8a1.6 1 120 1 0 1.7 -2.8zM68.7 221.6a1 0.7 135 1 0 -1.4 1.3a1 0.7 135 1 0 1.4 -1.3zM68.1 220.9a1.2 0.7 66 1 0 0.9 2.1a1.2 0.7 66 1 0 -0.9 -2.1zM124.2 190.9a1.1 0.7 14 1 0 2.1 0.5a1.1 0.7 14 1 0 -2.1 -0.5zM126.3 192.9a1 0.7 127 1 0 -1.2 1.6a1 0.7 127 1 0 1.2 -1.6zM135.3 225a1.4 1 56 1 0 1.5 2.3a1.4 1 56 1 0 -1.5 -2.3zM138.5 221a1.6 0.9 91 1 0 -0.1 3.3a1.6 0.9 91 1 0 0.1 -3.3zM135.1 222.6a1.3 0.7 63 1 0 1.2 2.4a1.3 0.7 63 1 0 -1.2 -2.4zM131.8 265.3a0.9 0.6 50 1 0 1.2 1.4a0.9 0.6 50 1 0 -1.2 -1.4zM130.2 266.3a0.9 0.6 144 1 0 -1.4 1a0.9 0.6 144 1 0 1.4 -1zM41.9 189.3a0.7 0.5 161 1 0 -1.4 0.5a0.7 0.5 161 1 0 1.4 -0.5zM63.6 257.3a1.1 0.5 100 1 0 -0.4 2.1a1.1 0.5 100 1 0 0.4 -2.1zM114.4 199a1.1 0.6 139 1 0 -1.6 1.4a1.1 0.6 139 1 0 1.6 -1.4zM113.4 201.1a1.5 0.9 154 1 0 -2.8 1.3a1.5 0.9 154 1 0 2.8 -1.3zM170.4 217.7a1.1 0.7 164 1 0 -2.1 0.6a1.1 0.7 164 1 0 2.1 -0.6zM172.5 215.3a1.5 0.8 131 1 0 -2 2.3a1.5 0.8 131 1 0 2 -2.3zM171.9 215.6a0.9 0.5 42 1 0 1.3 1.2a0.9 0.5 42 1 0 -1.3 -1.2zM77.2 279.3a1.1 0.7 51 1 0 1.4 1.7a1.1 0.7 51 1 0 -1.4 -1.7zM82.4 278.2a1.5 0.9 118 1 0 -1.4 2.6a1.5 0.9 118 1 0 1.4 -2.6zM101 195.9a1 0.6 49 1 0 1.3 1.4a1 0.6 49 1 0 -1.3 -1.4zM102.4 195.9a1.8 0.9 95 1 0 -0.3 3.5a1.8 0.9 95 1 0 0.3 -3.5zM106.5 193.7a1.5 1 144 1 0 -2.5 1.8a1.5 1 144 1 0 2.5 -1.8zM75.9 321.5a1.1 0.8 17 1 0 2 0.6a1.1 0.8 17 1 0 -2 -0.6zM65.5 265.3a1.3 0.9 103 1 0 -0.6 2.5a1.3 0.9 103 1 0 0.6 -2.5zM66.7 269.7a1.2 0.6 110 1 0 -0.8 2.3a1.2 0.6 110 1 0 0.8 -2.3zM60.6 235.6a1.4 0.9 141 1 0 -2.2 1.7a1.4 0.9 141 1 0 2.2 -1.7zM58.5 235.5a1.1 0.9 15 1 0 2.1 0.6a1.1 0.9 15 1 0 -2.1 -0.6zM71.2 188.8a0.9 0.7 37 1 0 1.5 1.1a0.9 0.7 37 1 0 -1.5 -1.1zM72 188.1a1.4 0.8 138 1 0 -2.1 1.9a1.4 0.8 138 1 0 2.1 -1.9zM74.3 185.8a1 0.6 76 1 0 0.5 1.9a1 0.6 76 1 0 -0.5 -1.9zM114.3 251a1.2 0.7 163 1 0 -2.2 0.7a1.2 0.7 163 1 0 2.2 -0.7zM115.9 249.8a1.7 1.1 137 1 0 -2.6 2.3a1.7 1.1 137 1 0 2.6 -2.3zM114.7 250.8a1.2 0.6 115 1 0 -1.1 2.2a1.2 0.6 115 1 0 1.1 -2.2zM98.2 185.8a1.7 1 62 1 0 1.5 2.9a1.7 1 62 1 0 -1.5 -2.9zM169.6 222a1.1 0.7 163 1 0 -2 0.6a1.1 0.7 163 1 0 2 -0.6zM115.1 191.1a1 0.8 4 1 0 2 0.2a1 0.8 4 1 0 -2 -0.2zM103.5 255.3a0.8 0.6 97 1 0 -0.2 1.6a0.8 0.6 97 1 0 0.2 -1.6zM101.3 253.3a1.2 0.9 159 1 0 -2.2 0.8a1.2 0.9 159 1 0 2.2 -0.8zM143.7 308a1.4 0.9 32 1 0 2.3 1.5a1.4 0.9 32 1 0 -2.3 -1.5zM148 307.7a1.5 0.8 78 1 0 0.6 2.9a1.5 0.8 78 1 0 -0.6 -2.9zM135.7 271.3a1.7 1 120 1 0 -1.7 3a1.7 1 120 1 0 1.7 -3zM136.7 273.2a1.2 0.8 36 1 0 1.9 1.4a1.2 0.8 36 1 0 -1.9 -1.4zM167.7 206.2a1.2 0.9 171 1 0 -2.4 0.4a1.2 0.9 171 1 0 2.4 -0.4zM125 320.2a1.1 0.6 80 1 0 0.4 2.1a1.1 0.6 80 1 0 -0.4 -2.1zM121.2 251.2a1.1 0.6 49 1 0 1.5 1.7a1.1 0.6 49 1 0 -1.5 -1.7zM155.2 222.8a1.5 1 65 1 0 1.2 2.8a1.5 1 65 1 0 -1.2 -2.8zM156 226a0.9 0.6 10 1 0 1.8 0.3a0.9 0.6 10 1 0 -1.8 -0.3zM160.1 226.3a1.8 1 102 1 0 -0.8 3.6a1.8 1 102 1 0 0.8 -3.6zM151.4 214.3a1.2 0.7 124 1 0 -1.3 1.9a1.2 0.7 124 1 0 1.3 -1.9zM161.3 215.1a1.3 0.9 126 1 0 -1.5 2.1a1.3 0.9 126 1 0 1.5 -2.1zM126.1 236.6a1.2 0.7 88 1 0 0.1 2.4a1.2 0.7 88 1 0 -0.1 -2.4zM128.3 237.8a1.5 1.1 86 1 0 0.2 2.9a1.5 1.1 86 1 0 -0.2 -2.9zM94 201.8a1.2 0.8 157 1 0 -2.2 0.9a1.2 0.8 157 1 0 2.2 -0.9zM95.3 204.4a1.3 0.9 26 1 0 2.3 1.2a1.3 0.9 26 1 0 -2.3 -1.2zM97.1 204.7a1.4 0.6 121 1 0 -1.4 2.3a1.4 0.6 121 1 0 1.4 -2.3zM96.9 222.7a1.5 0.8 164 1 0 -2.9 0.8a1.5 0.8 164 1 0 2.9 -0.8zM91 221.6a1.3 0.7 10 1 0 2.6 0.5a1.3 0.7 10 1 0 -2.6 -0.5zM64 235.5a1.2 0.7 14 1 0 2.4 0.6a1.2 0.7 14 1 0 -2.4 -0.6zM62.9 234.2a1.4 1.1 34 1 0 2.3 1.5a1.4 1.1 34 1 0 -2.3 -1.5zM68 236.2a1.9 1.2 138 1 0 -2.8 2.5a1.9 1.2 138 1 0 2.8 -2.5zM86.4 209.4a1 0.6 119 1 0 -1 1.7a1 0.6 119 1 0 1 -1.7zM88.2 208.7a1.3 1 52 1 0 1.6 2.1a1.3 1 52 1 0 -1.6 -2.1zM166.8 292.6a1.4 1 115 1 0 -1.2 2.6a1.4 1 115 1 0 1.2 -2.6zM162.4 290.1a1 0.6 70 1 0 0.7 2a1 0.6 70 1 0 -0.7 -2zM167 293.3a0.9 0.6 178 1 0 -1.7 0.1a0.9 0.6 178 1 0 1.7 -0.1zM44.7 237.4a1.6 1.1 40 1 0 2.5 2.1a1.6 1.1 40 1 0 -2.5 -2.1zM47.5 237.8a1.1 0.6 63 1 0 0.9 1.9a1.1 0.6 63 1 0 -0.9 -1.9zM57 228.9a0.9 0.6 81 1 0 0.3 1.8a0.9 0.6 81 1 0 -0.3 -1.8zM151.6 209.8a1.6 1 120 1 0 -1.6 2.8a1.6 1 120 1 0 1.6 -2.8zM146.2 208.8a1.8 1 63 1 0 1.6 3.2a1.8 1 63 1 0 -1.6 -3.2zM64.8 276.1a1.3 0.7 158 1 0 -2.4 1a1.3 0.7 158 1 0 2.4 -1zM63.3 276.5a1.2 0.6 108 1 0 -0.7 2.2a1.2 0.6 108 1 0 0.7 -2.2zM63.4 276.4a1.3 0.8 44 1 0 1.8 1.7a1.3 0.8 44 1 0 -1.8 -1.7zM117.8 290.1a1.3 0.9 170 1 0 -2.6 0.4a1.3 0.9 170 1 0 2.6 -0.4zM118.1 294a1.1 0.6 179 1 0 -2.3 0a1.1 0.6 179 1 0 2.3 0zM58.5 313.8a1.3 0.9 178 1 0 -2.5 0.1a1.3 0.9 178 1 0 2.5 -0.1zM58.9 315.1a1.4 0.8 96 1 0 -0.3 2.7a1.4 0.8 96 1 0 0.3 -2.7zM71.7 312.1a1.1 0.6 51 1 0 1.4 1.7a1.1 0.6 51 1 0 -1.4 -1.7zM74.3 313.5a1 0.7 112 1 0 -0.8 1.9a1 0.7 112 1 0 0.8 -1.9zM64.3 298.1a1.6 0.9 179 1 0 -3.1 0a1.6 0.9 179 1 0 3.1 0zM61.3 295a1.3 0.7 72 1 0 0.8 2.5a1.3 0.7 72 1 0 -0.8 -2.5zM170 255.7a0.8 0.5 116 1 0 -0.7 1.5a0.8 0.5 116 1 0 0.7 -1.5zM168.4 257.8a1.1 0.9 98 1 0 -0.3 2.2a1.1 0.9 98 1 0 0.3 -2.2zM170 256.7a1.5 0.9 69 1 0 1 2.7a1.5 0.9 69 1 0 -1 -2.7z"/>
<path fill="#e6ee3c" d="M72.7 223.9a0.9 0.4 109 1 0 -0.6 1.8a0.9 0.4 109 1 0 0.6 -1.8zM75.7 222.2a1 0.7 164 1 0 -2 0.6a1 0.7 164 1 0 2 -0.6zM74.1 223.5a0.6 0.4 60 1 0 0.6 1a0.6 0.4 60 1 0 -0.6 -1zM52.5 197.6a1 0.7 131 1 0 -1.4 1.5a1 0.7 131 1 0 1.4 -1.5zM48.3 197.3a0.6 0.3 88 1 0 0 1.2a0.6 0.3 88 1 0 0 -1.2zM51.8 198.5a1.2 0.6 135 1 0 -1.7 1.7a1.2 0.6 135 1 0 1.7 -1.7zM86.3 190.7a1 0.5 106 1 0 -0.6 1.9a1 0.5 106 1 0 0.6 -1.9zM86.9 190.3a1.1 0.6 144 1 0 -1.9 1.3a1.1 0.6 144 1 0 1.9 -1.3zM67.6 224.3a1.2 0.7 120 1 0 -1.2 2a1.2 0.7 120 1 0 1.2 -2zM68.5 221.8a0.7 0.5 135 1 0 -1 1a0.7 0.5 135 1 0 1 -1zM68.2 221.2a0.8 0.5 66 1 0 0.7 1.5a0.8 0.5 66 1 0 -0.7 -1.5zM124.5 191a0.8 0.5 14 1 0 1.5 0.4a0.8 0.5 14 1 0 -1.5 -0.4zM126.1 193.1a0.7 0.5 127 1 0 -0.9 1.1a0.7 0.5 127 1 0 0.9 -1.1zM135.5 225.4a1 0.7 56 1 0 1.1 1.7a1 0.7 56 1 0 -1.1 -1.7zM138.5 221.4a1.2 0.6 91 1 0 -0.1 2.4a1.2 0.6 91 1 0 0.1 -2.4zM135.2 222.9a1 0.5 63 1 0 0.9 1.7a1 0.5 63 1 0 -0.9 -1.7zM132 265.5a0.7 0.4 50 1 0 0.8 1a0.7 0.4 50 1 0 -0.8 -1zM130 266.5a0.6 0.4 144 1 0 -1 0.7a0.6 0.4 144 1 0 1 -0.7zM41.7 189.4a0.5 0.4 161 1 0 -1 0.3a0.5 0.4 161 1 0 1 -0.3zM63.6 257.6a0.8 0.4 100 1 0 -0.3 1.5a0.8 0.4 100 1 0 0.3 -1.5zM114.2 199.2a0.8 0.5 139 1 0 -1.2 1a0.8 0.5 139 1 0 1.2 -1zM113 201.3a1.1 0.6 154 1 0 -2 0.9a1.1 0.6 154 1 0 2 -0.9zM170.1 217.8a0.8 0.5 164 1 0 -1.5 0.4a0.8 0.5 164 1 0 1.5 -0.4zM172.2 215.6a1.1 0.6 131 1 0 -1.5 1.7a1.1 0.6 131 1 0 1.5 -1.7zM172.1 215.7a0.6 0.3 42 1 0 0.9 0.8a0.6 0.3 42 1 0 -0.9 -0.8zM77.4 279.5a0.8 0.5 51 1 0 1 1.2a0.8 0.5 51 1 0 -1 -1.2zM82.2 278.6a1 0.7 118 1 0 -1 1.8a1 0.7 118 1 0 1 -1.8zM101.2 196.1a0.7 0.4 49 1 0 0.9 1a0.7 0.4 49 1 0 -0.9 -1zM102.4 196.4a1.3 0.6 95 1 0 -0.2 2.5a1.3 0.6 95 1 0 0.2 -2.5zM106.2 194a1.1 0.7 144 1 0 -1.8 1.3a1.1 0.7 144 1 0 1.8 -1.3zM76.2 321.6a0.8 0.5 17 1 0 1.5 0.5a0.8 0.5 17 1 0 -1.5 -0.5zM65.4 265.7a0.9 0.6 103 1 0 -0.4 1.8a0.9 0.6 103 1 0 0.4 -1.8zM66.6 270.1a0.9 0.4 110 1 0 -0.6 1.6a0.9 0.4 110 1 0 0.6 -1.6zM60.3 235.9a1 0.7 141 1 0 -1.5 1.2a1 0.7 141 1 0 1.5 -1.2zM58.8 235.5a0.8 0.7 15 1 0 1.5 0.4a0.8 0.7 15 1 0 -1.5 -0.4zM71.4 189a0.7 0.5 37 1 0 1 0.8a0.7 0.5 37 1 0 -1 -0.8zM71.7 188.4a1 0.6 138 1 0 -1.5 1.3a1 0.6 138 1 0 1.5 -1.3zM74.3 186.1a0.7 0.4 76 1 0 0.3 1.4a0.7 0.4 76 1 0 -0.3 -1.4zM114 251.1a0.8 0.5 163 1 0 -1.6 0.5a0.8 0.5 163 1 0 1.6 -0.5zM115.5 250.2a1.2 0.8 137 1 0 -1.8 1.7a1.2 0.8 137 1 0 1.8 -1.7zM114.6 251.1a0.9 0.4 115 1 0 -0.8 1.6a0.9 0.4 115 1 0 0.8 -1.6zM98.4 186.2a1.2 0.7 62 1 0 1.1 2.1a1.2 0.7 62 1 0 -1.1 -2.1zM169.3 222.1a0.8 0.5 163 1 0 -1.4 0.4a0.8 0.5 163 1 0 1.4 -0.4zM115.4 191.1a0.7 0.6 4 1 0 1.5 0.1a0.7 0.6 4 1 0 -1.5 -0.1zM103.5 255.6a0.6 0.4 97 1 0 -0.1 1.2a0.6 0.4 97 1 0 0.1 -1.2zM101 253.4a0.9 0.7 159 1 0 -1.6 0.6a0.9 0.7 159 1 0 1.6 -0.6zM144.1 308.2a1 0.6 32 1 0 1.6 1.1a1 0.6 32 1 0 -1.6 -1.1zM148.1 308.1a1 0.6 78 1 0 0.4 2a1 0.6 78 1 0 -0.4 -2zM135.5 271.8a1.2 0.7 120 1 0 -1.2 2.1a1.2 0.7 120 1 0 1.2 -2.1zM137 273.4a0.8 0.5 36 1 0 1.4 1a0.8 0.5 36 1 0 -1.4 -1zM167.3 206.2a0.9 0.6 171 1 0 -1.7 0.3a0.9 0.6 171 1 0 1.7 -0.3zM125.1 320.6a0.8 0.4 80 1 0 0.3 1.5a0.8 0.4 80 1 0 -0.3 -1.5zM121.4 251.4a0.8 0.4 49 1 0 1 1.2a0.8 0.4 49 1 0 -1 -1.2zM155.3 223.2a1.1 0.7 65 1 0 0.9 2a1.1 0.7 65 1 0 -0.9 -2zM156.3 226a0.6 0.5 10 1 0 1.3 0.2a0.6 0.5 10 1 0 -1.3 -0.2zM160 226.8a1.3 0.7 102 1 0 -0.6 2.6a1.3 0.7 102 1 0 0.6 -2.6zM151.2 214.6a0.8 0.5 124 1 0 -1 1.4a0.8 0.5 124 1 0 1 -1.4zM161.1 215.4a0.9 0.6 126 1 0 -1.1 1.5a0.9 0.6 126 1 0 1.1 -1.5zM126.2 236.9a0.9 0.5 88 1 0 0 1.7a0.9 0.5 88 1 0 0 -1.7zM128.3 238.2a1 0.8 86 1 0 0.1 2.1a1 0.8 86 1 0 -0.1 -2.1zM93.7 201.9a0.9 0.6 157 1 0 -1.6 0.7a0.9 0.6 157 1 0 1.6 -0.7zM95.6 204.5a0.9 0.7 26 1 0 1.7 0.8a0.9 0.7 26 1 0 -1.7 -0.8zM96.9 205a1 0.4 121 1 0 -1 1.7a1 0.4 121 1 0 1 -1.7zM96.5 222.8a1.1 0.6 164 1 0 -2.1 0.6a1.1 0.6 164 1 0 2.1 -0.6zM91.3 221.7a1 0.5 10 1 0 1.9 0.3a1 0.5 10 1 0 -1.9 -0.3zM64.4 235.6a0.9 0.5 14 1 0 1.7 0.4a0.9 0.5 14 1 0 -1.7 -0.4zM63.2 234.4a1 0.8 34 1 0 1.6 1.1a1 0.8 34 1 0 -1.6 -1.1zM67.6 236.5a1.3 0.8 138 1 0 -2 1.8a1.3 0.8 138 1 0 2 -1.8zM86.3 209.6a0.7 0.4 119 1 0 -0.7 1.2a0.7 0.4 119 1 0 0.7 -1.2zM88.4 209a0.9 0.7 52 1 0 1.1 1.5a0.9 0.7 52 1 0 -1.1 -1.5zM166.6 293a1 0.7 115 1 0 -0.9 1.8a1 0.7 115 1 0 0.9 -1.8zM162.5 290.4a0.7 0.4 70 1 0 0.5 1.4a0.7 0.4 70 1 0 -0.5 -1.4zM166.8 293.3a0.6 0.4 178 1 0 -1.2 0a0.6 0.4 178 1 0 1.2 0zM45 237.7a1.2 0.8 40 1 0 1.8 1.5a1.2 0.8 40 1 0 -1.8 -1.5zM47.6 238.1a0.8 0.4 63 1 0 0.7 1.3a0.8 0.4 63 1 0 -0.7 -1.3zM57.1 229.2a0.6 0.4 81 1 0 0.2 1.3a0.6 0.4 81 1 0 -0.2 -1.3zM151.4 210.2a1.2 0.7 120 1 0 -1.2 2a1.2 0.7 120 1 0 1.2 -2zM146.4 209.3a1.3 0.7 63 1 0 1.1 2.3a1.3 0.7 63 1 0 -1.1 -2.3zM64.5 276.2a0.9 0.5 158 1 0 -1.7 0.7a0.9 0.5 158 1 0 1.7 -0.7zM63.2 276.8a0.8 0.4 108 1 0 -0.5 1.6a0.8 0.4 108 1 0 0.5 -1.6zM63.7 276.7a0.9 0.6 44 1 0 1.3 1.2a0.9 0.6 44 1 0 -1.3 -1.2zM117.4 290.1a1 0.6 170 1 0 -1.9 0.3a1 0.6 170 1 0 1.9 -0.3zM117.8 294a0.8 0.4 179 1 0 -1.6 0a0.8 0.4 179 1 0 1.6 0zM58.1 313.8a0.9 0.6 178 1 0 -1.8 0a0.9 0.6 178 1 0 1.8 0zM58.9 315.5a1 0.5 96 1 0 -0.2 1.9a1 0.5 96 1 0 0.2 -1.9zM71.9 312.3a0.8 0.5 51 1 0 1 1.2a0.8 0.5 51 1 0 -1 -1.2zM74.2 313.8a0.7 0.5 112 1 0 -0.5 1.3a0.7 0.5 112 1 0 0.5 -1.3zM63.8 298.1a1.1 0.6 179 1 0 -2.2 0a1.1 0.6 179 1 0 2.2 0zM61.4 295.3a0.9 0.5 72 1 0 0.5 1.8a0.9 0.5 72 1 0 -0.5 -1.8zM169.9 255.9a0.6 0.3 116 1 0 -0.5 1.1a0.6 0.3 116 1 0 0.5 -1.1zM168.4 258.1a0.8 0.6 98 1 0 -0.2 1.6a0.8 0.6 98 1 0 0.2 -1.6zM170.2 257.1a1 0.6 69 1 0 0.7 2a1 0.6 69 1 0 -0.7 -2z"/>
<path fill="#50c040" d="M153.2 217.9a1.1 0.7 25 1 0 2 1a1.1 0.7 25 1 0 -2 -1zM49 186.2a0.7 0.4 60 1 0 0.7 1.2a0.7 0.4 60 1 0 -0.7 -1.2zM123 308a0.6 0.5 91 1 0 0 1.2a0.6 0.5 91 1 0 0 -1.2zM71.6 225.1a0.9 0.5 9 1 0 1.9 0.3a0.9 0.5 9 1 0 -1.9 -0.3zM64.4 267.4a1 0.5 140 1 0 -1.5 1.3a1 0.5 140 1 0 1.5 -1.3zM40.4 241.4a1.2 0.7 79 1 0 0.4 2.4a1.2 0.7 79 1 0 -0.4 -2.4zM170 198.5a0.7 0.5 127 1 0 -0.8 1a0.7 0.5 127 1 0 0.8 -1zM79.3 258.5a0.6 0.4 66 1 0 0.5 1.2a0.6 0.4 66 1 0 -0.5 -1.2zM127 212.7a0.7 0.5 135 1 0 -1 0.9a0.7 0.5 135 1 0 1 -0.9zM33.8 307.4a1 0.6 33 1 0 1.7 1.1a1 0.6 33 1 0 -1.7 -1.1zM84.9 271.8a0.8 0.4 2 1 0 1.6 0.1a0.8 0.4 2 1 0 -1.6 -0.1zM122.8 259.6a1.1 0.7 100 1 0 -0.4 2.2a1.1 0.7 100 1 0 0.4 -2.2zM116.5 199.4a0.8 0.4 112 1 0 -0.6 1.5a0.8 0.4 112 1 0 0.6 -1.5zM128.3 291.3a0.9 0.4 20 1 0 1.6 0.6a0.9 0.4 20 1 0 -1.6 -0.6zM98.5 269.9a1.1 0.6 158 1 0 -2 0.8a1.1 0.6 158 1 0 2 -0.8zM115.9 279.9a0.9 0.6 32 1 0 1.5 0.9a0.9 0.6 32 1 0 -1.5 -0.9zM144 204a0.6 0.3 25 1 0 1.1 0.5a0.6 0.3 25 1 0 -1.1 -0.5zM109.2 303.9a0.9 0.5 42 1 0 1.3 1.2a0.9 0.5 42 1 0 -1.3 -1.2zM79.3 197.7a0.8 0.5 35 1 0 1.3 0.9a0.8 0.5 35 1 0 -1.3 -0.9zM124 271.9a0.6 0.4 163 1 0 -1.1 0.3a0.6 0.4 163 1 0 1.1 -0.3zM143.9 260.4a0.9 0.5 5 1 0 1.8 0.2a0.9 0.5 5 1 0 -1.8 -0.2zM146 259.5a0.6 0.5 35 1 0 1 0.7a0.6 0.5 35 1 0 -1 -0.7zM162.4 225.9a0.7 0.4 96 1 0 -0.2 1.4a0.7 0.4 96 1 0 0.2 -1.4zM71.1 200.3a0.5 0.4 159 1 0 -1 0.4a0.5 0.4 159 1 0 1 -0.4zM159 217.4a0.9 0.5 72 1 0 0.5 1.7a0.9 0.5 72 1 0 -0.5 -1.7zM56 208.2a0.8 0.7 85 1 0 0.1 1.7a0.8 0.7 85 1 0 -0.1 -1.7zM143 290.7a1 0.6 73 1 0 0.5 1.8a1 0.6 73 1 0 -0.5 -1.8zM52.3 309.7a0.8 0.7 150 1 0 -1.4 0.8a0.8 0.7 150 1 0 1.4 -0.8zM85.7 297a0.7 0.5 33 1 0 1.1 0.8a0.7 0.5 33 1 0 -1.1 -0.8zM39.7 221.6a1 0.6 86 1 0 0.1 1.9a1 0.6 86 1 0 -0.1 -1.9z"/>
</g></g>
<g clip-path="url(#cm1)"><g filter="url(#soft)">
<defs><linearGradient id="g2" x1="0" y1="0" x2="0" y2="1"><stop offset="0" stop-color="#300a1c"/><stop offset="0.35" stop-color="#220818"/><stop offset="0.55" stop-color="#180714"/><stop offset="1" stop-color="#120714"/></linearGradient></defs>
<rect x="34.6" y="328.9" width="135.9" height="140" fill="url(#g2)" />
<path fill="none" stroke="#c02a38" stroke-width="1.4" opacity="0.55" filter="url(#soft3)" d="M159.9 338.3a5.1 4.5 104 1 0 -2.5 9.8a5.1 4.5 104 1 0 2.5 -9.8zM140.7 345.3a4.7 3.6 102 1 0 -2 9.1a4.7 3.6 102 1 0 2 -9.1zM116.5 341.7a4.2 3.7 53 1 0 5 6.8a4.2 3.7 53 1 0 -5 -6.8zM56.9 357a5.1 4 10 1 0 10 1.8a5.1 4 10 1 0 -10 -1.8zM84.8 345.9a5.2 4 108 1 0 -3.3 9.9a5.2 4 108 1 0 3.3 -9.9zM165 327.6a4.8 3.8 33 1 0 8.1 5.3a4.8 3.8 33 1 0 -8.1 -5.3zM32.2 329a4.9 4 70 1 0 3.3 9.2a4.9 4 70 1 0 -3.3 -9.2zM80.9 351.5a4.1 3.8 166 1 0 -8 1.9a4.1 3.8 166 1 0 8 -1.9zM38.7 347a5 4.3 15 1 0 9.7 2.7a5 4.3 15 1 0 -9.7 -2.7zM150 341a4.7 3.8 90 1 0 -0.1 9.5a4.7 3.8 90 1 0 0.1 -9.5zM85 346.5a4.4 3.7 20 1 0 8.2 3.1a4.4 3.7 20 1 0 -8.2 -3.1zM40.2 365.8a4.9 4.2 3 1 0 9.7 0.6a4.9 4.2 3 1 0 -9.7 -0.6zM41 347.6a5.1 4 152 1 0 -9.1 4.6a5.1 4 152 1 0 9.1 -4.6zM69.2 367.4a5.1 3.5 163 1 0 -9.9 2.9a5.1 3.5 163 1 0 9.9 -2.9zM146.5 361.9a4.5 4 174 1 0 -8.9 0.8a4.5 4 174 1 0 8.9 -0.8zM71.2 344.8a4.6 3.8 104 1 0 -2.2 8.8a4.6 3.8 104 1 0 2.2 -8.8zM133.1 340a5.3 4 48 1 0 7.1 7.9a5.3 4 48 1 0 -7.1 -7.9zM155.9 353.7a4.4 3.4 159 1 0 -8.3 3.1a4.4 3.4 159 1 0 8.3 -3.1zM143.6 333.1a4.4 3.5 54 1 0 5.1 7.2a4.4 3.5 54 1 0 -5.1 -7.2zM101.2 343.2a4.8 3.9 39 1 0 7.4 6a4.8 3.9 39 1 0 -7.4 -6zM97.3 336.2a5.1 4.3 85 1 0 0.9 10.1a5.1 4.3 85 1 0 -0.9 -10.1zM49.7 349.8a4.5 4 0 1 0 9 0a4.5 4 0 1 0 -9 0zM51.3 365.2a4.9 3.8 37 1 0 7.8 6a4.9 3.8 37 1 0 -7.8 -6zM51.8 358.7a4.6 4 37 1 0 7.3 5.6a4.6 4 37 1 0 -7.3 -5.6zM90.7 328.4a5 4 97 1 0 -1.3 9.9a5 4 97 1 0 1.3 -9.9zM159.4 332.9a4.5 4.2 23 1 0 8.2 3.6a4.5 4.2 23 1 0 -8.2 -3.6zM81.8 337.2a5 4 51 1 0 6.2 7.9a5 4 51 1 0 -6.2 -7.9zM68.6 352.2a4.6 4 53 1 0 5.5 7.4a4.6 4 53 1 0 -5.5 -7.4zM80.5 364.3a5.2 3.7 167 1 0 -10.2 2.2a5.2 3.7 167 1 0 10.2 -2.2zM170.1 349.4a5 4.3 116 1 0 -4.5 9a5 4.3 116 1 0 4.5 -9zM46.1 350.1a4.7 3.7 83 1 0 1.1 9.4a4.7 3.7 83 1 0 -1.1 -9.4zM70.2 340.4a5.1 4.1 40 1 0 7.7 6.6a5.1 4.1 40 1 0 -7.7 -6.6zM108.7 332.3a4.4 3.6 149 1 0 -7.6 4.5a4.4 3.6 149 1 0 7.6 -4.5zM122.7 340.7a5.1 3.9 51 1 0 6.4 8a5.1 3.9 51 1 0 -6.4 -8zM149.6 332a4.9 3.4 7 1 0 9.8 1.3a4.9 3.4 7 1 0 -9.8 -1.3zM160.8 342.9a4.6 3.7 0 1 0 9.1 0a4.6 3.7 0 1 0 -9.1 0zM127.8 350.2a4.6 3.7 155 1 0 -8.4 3.8a4.6 3.7 155 1 0 8.4 -3.8zM129.6 362.9a4.6 4 19 1 0 8.6 3.1a4.6 4 19 1 0 -8.6 -3.1zM122.5 355.1a4.8 4.3 86 1 0 0.6 9.6a4.8 4.3 86 1 0 -0.6 -9.6zM125.6 355.4a4.3 3.6 38 1 0 6.8 5.4a4.3 3.6 38 1 0 -6.8 -5.4zM99.1 353.4a4.5 4.3 167 1 0 -8.9 2a4.5 4.3 167 1 0 8.9 -2zM38.6 355.3a5 4.2 63 1 0 4.4 8.9a5 4.2 63 1 0 -4.4 -8.9zM170.8 340.5a5.3 4 75 1 0 2.6 10.3a5.3 4 75 1 0 -2.6 -10.3zM35.4 340.2a4.8 3.5 126 1 0 -5.6 7.7a4.8 3.5 126 1 0 5.6 -7.7zM118 335.2a4.6 4.3 51 1 0 5.7 7.3a4.6 4.3 51 1 0 -5.7 -7.3zM109.2 347.3a5.1 4.2 77 1 0 2.2 10a5.1 4.2 77 1 0 -2.2 -10zM136.1 347a5.2 4.2 157 1 0 -9.6 3.9a5.2 4.2 157 1 0 9.6 -3.9zM118.3 331.9a5 4.1 140 1 0 -7.7 6.4a5 4.1 140 1 0 7.7 -6.4zM99 353.7a4.6 4.4 12 1 0 9 2a4.6 4.4 12 1 0 -9 -2zM176.7 336.9a4.9 4.1 164 1 0 -9.4 2.7a4.9 4.1 164 1 0 9.4 -2.7zM96.1 328.3a4.9 4.3 84 1 0 1 9.7a4.9 4.3 84 1 0 -1 -9.7zM53.3 369a4.4 3.7 143 1 0 -7 5.2a4.4 3.7 143 1 0 7 -5.2zM108.3 339.5a4.9 3.7 32 1 0 8.3 5.3a4.9 3.7 32 1 0 -8.3 -5.3zM158.5 347.4a4.6 3.6 35 1 0 7.5 5.3a4.6 3.6 35 1 0 -7.5 -5.3zM63.3 344.6a5.1 4.2 89 1 0 0.1 10.3a5.1 4.2 89 1 0 -0.1 -10.3zM120.2 350.6a4.4 3.5 139 1 0 -6.7 5.8a4.4 3.5 139 1 0 6.7 -5.8zM69.4 359.7a4.3 3.7 100 1 0 -1.6 8.5a4.3 3.7 100 1 0 1.6 -8.5zM131.1 355.5a5 3.8 10 1 0 9.8 1.8a5 3.8 10 1 0 -9.8 -1.8zM34.3 360a4.9 4.2 68 1 0 3.5 9.1a4.9 4.2 68 1 0 -3.5 -9.1zM95.6 344.3a4.9 4.2 49 1 0 6.3 7.4a4.9 4.2 49 1 0 -6.3 -7.4zM94.4 337.5a5 4.1 127 1 0 -6.1 8a5 4.1 127 1 0 6.1 -8zM80.3 330.7a4.7 3.6 63 1 0 4.2 8.4a4.7 3.6 63 1 0 -4.2 -8.4zM146 339.5a4.4 3.6 121 1 0 -4.7 7.5a4.4 3.6 121 1 0 4.7 -7.5zM146.7 349.2a5.5 3.8 111 1 0 -4.1 10.2a5.5 3.8 111 1 0 4.1 -10.2zM156.8 336.7a4.9 4.2 148 1 0 -8.4 5.1a4.9 4.2 148 1 0 8.4 -5.1z"/>
<path fill="none" stroke="#a01e34" stroke-width="1.2" opacity="0.22" filter="url(#soft3)" d="M96.9 358a4.6 3.6 72 1 0 2.7 8.7a4.6 3.6 72 1 0 -2.7 -8.7zM39 357.1a4.7 3.8 167 1 0 -9.2 2.1a4.7 3.8 167 1 0 9.2 -2.1zM161.9 369.8a4.3 3.9 178 1 0 -8.6 0.3a4.3 3.9 178 1 0 8.6 -0.3zM76.2 369.2a4.4 3.6 32 1 0 7.4 4.7a4.4 3.6 32 1 0 -7.4 -4.7zM84.7 377.7a4 3.4 175 1 0 -7.9 0.6a4 3.4 175 1 0 7.9 -0.6zM47.7 372.2a4.5 4 121 1 0 -4.7 7.6a4.5 4 121 1 0 4.7 -7.6zM106.3 367.8a4.8 3.6 58 1 0 5 8.2a4.8 3.6 58 1 0 -5 -8.2zM86.1 357.6a4.8 4 46 1 0 6.6 7a4.8 4 46 1 0 -6.6 -7zM99.8 385.4a4.1 3.3 147 1 0 -7 4.5a4.1 3.3 147 1 0 7 -4.5zM43.3 388.7a4.3 3.5 9 1 0 8.4 1.5a4.3 3.5 9 1 0 -8.4 -1.5zM103.8 365.6a5.3 4 142 1 0 -8.4 6.4a5.3 4 142 1 0 8.4 -6.4zM106.7 375.4a4.2 3.4 176 1 0 -8.4 0.5a4.2 3.4 176 1 0 8.4 -0.5zM129.1 385.1a4.1 3.2 144 1 0 -6.7 4.7a4.1 3.2 144 1 0 6.7 -4.7zM100.8 378.8a4.2 3.4 137 1 0 -6.2 5.7a4.2 3.4 137 1 0 6.2 -5.7zM28.1 384.6a4.6 3.8 7 1 0 9.2 1.3a4.6 3.8 7 1 0 -9.2 -1.3zM71.8 381.4a4.6 3.8 92 1 0 -0.4 9.2a4.6 3.8 92 1 0 0.4 -9.2zM144.1 383.9a4.5 3.2 48 1 0 5.9 6.8a4.5 3.2 48 1 0 -5.9 -6.8zM118 372.5a4.9 3.8 92 1 0 -0.5 9.9a4.9 3.8 92 1 0 0.5 -9.9zM89 387.5a4.1 3.5 158 1 0 -7.6 3.1a4.1 3.5 158 1 0 7.6 -3.1zM172 378.4a4.7 3.8 136 1 0 -6.7 6.4a4.7 3.8 136 1 0 6.7 -6.4zM120.2 362.4a4.7 3.5 156 1 0 -8.6 3.8a4.7 3.5 156 1 0 8.6 -3.8zM93.4 368.3a5.3 4.1 120 1 0 -5.3 9.1a5.3 4.1 120 1 0 5.3 -9.1zM171.6 364.4a4.7 3.7 98 1 0 -1.3 9.4a4.7 3.7 98 1 0 1.3 -9.4zM142.8 367.4a4.7 3.6 143 1 0 -7.6 5.6a4.7 3.6 143 1 0 7.6 -5.6zM88.5 379.1a4.7 3.4 115 1 0 -4 8.4a4.7 3.4 115 1 0 4 -8.4zM51.8 381a4.1 3.2 172 1 0 -8 1a4.1 3.2 172 1 0 8 -1zM67.8 376.7a4.4 3.2 123 1 0 -4.8 7.2a4.4 3.2 123 1 0 4.8 -7.2zM139.1 380.2a4.7 3.6 129 1 0 -5.9 7.3a4.7 3.6 129 1 0 5.9 -7.3zM122.1 386.1a3.8 3.1 137 1 0 -5.7 5.1a3.8 3.1 137 1 0 5.7 -5.1zM150.2 367.4a5.5 4.3 122 1 0 -5.9 9.2a5.5 4.3 122 1 0 5.9 -9.2zM88.7 378.8a3.9 3.3 4 1 0 7.7 0.6a3.9 3.3 4 1 0 -7.7 -0.6zM106.8 377.4a4.6 4 11 1 0 9 1.8a4.6 4 11 1 0 -9 -1.8zM77.7 360.9a4.4 3.9 23 1 0 8.1 3.6a4.4 3.9 23 1 0 -8.1 -3.6zM159.5 350.9a4.8 3.5 101 1 0 -1.9 9.3a4.8 3.5 101 1 0 1.9 -9.3zM54.1 382.2a4.4 3.4 10 1 0 8.6 1.5a4.4 3.4 10 1 0 -8.6 -1.5zM80.4 381.6a4.1 3.2 173 1 0 -8.2 0.9a4.1 3.2 173 1 0 8.2 -0.9zM128.3 368.9a4.8 4.3 27 1 0 8.5 4.4a4.8 4.3 27 1 0 -8.5 -4.4zM71.3 372a4.4 3.6 51 1 0 5.4 6.9a4.4 3.6 51 1 0 -5.4 -6.9zM40 383.1a4.4 3.1 95 1 0 -0.8 8.8a4.4 3.1 95 1 0 0.8 -8.8zM135.8 376.1a4.9 3.7 35 1 0 7.9 5.7a4.9 3.7 35 1 0 -7.9 -5.7zM123.3 376.6a4.3 3.4 99 1 0 -1.4 8.5a4.3 3.4 99 1 0 1.4 -8.5zM39 378a4.5 3.7 103 1 0 -2.1 8.8a4.5 3.7 103 1 0 2.1 -8.8zM107 378.8a4.1 3.3 96 1 0 -0.9 8.1a4.1 3.3 96 1 0 0.9 -8.1zM56.2 376.2a4.4 4 163 1 0 -8.5 2.5a4.4 4 163 1 0 8.5 -2.5zM156.5 386.5a3.7 3.2 109 1 0 -2.5 7a3.7 3.2 109 1 0 2.5 -7zM165.8 367.6a4.4 3.5 105 1 0 -2.4 8.5a4.4 3.5 105 1 0 2.4 -8.5zM127 371.6a4.2 3.5 88 1 0 0.3 8.4a4.2 3.5 88 1 0 -0.3 -8.4zM154 377.3a4.4 3.8 149 1 0 -7.6 4.6a4.4 3.8 149 1 0 7.6 -4.6zM57.7 387.5a4.3 3.5 171 1 0 -8.6 1.3a4.3 3.5 171 1 0 8.6 -1.3zM162.4 380.7a4.2 3.7 82 1 0 1.1 8.3a4.2 3.7 82 1 0 -1.1 -8.3zM32.9 365.9a5 4 76 1 0 2.4 9.7a5 4 76 1 0 -2.4 -9.7zM108.2 360.8a5.4 4 116 1 0 -4.7 9.6a5.4 4 116 1 0 4.7 -9.6zM100.2 384.1a3.9 3.2 62 1 0 3.6 7a3.9 3.2 62 1 0 -3.6 -7zM173.7 356.5a4.8 3.8 135 1 0 -6.7 6.7a4.8 3.8 135 1 0 6.7 -6.7zM123.8 381.5a4.4 3.6 14 1 0 8.6 2.3a4.4 3.6 14 1 0 -8.6 -2.3zM172.2 371.5a4.4 3.4 103 1 0 -2 8.5a4.4 3.4 103 1 0 2 -8.5zM106.9 385a4 2.9 60 1 0 4 7a4 2.9 60 1 0 -4 -7zM160.8 360.7a4.4 3.9 152 1 0 -7.8 4.1a4.4 3.9 152 1 0 7.8 -4.1zM129.1 361.8a5.4 3.7 120 1 0 -5.4 9.3a5.4 3.7 120 1 0 5.4 -9.3zM161.9 386.2a4.2 3.6 71 1 0 2.7 8a4.2 3.6 71 1 0 -2.7 -8zM93.2 384.5a4.1 3.3 137 1 0 -6.1 5.6a4.1 3.3 137 1 0 6.1 -5.6zM63.5 383.3a4.1 3.3 109 1 0 -2.7 7.8a4.1 3.3 109 1 0 2.7 -7.8zM32.9 374.8a5.3 3.9 12 1 0 10.4 2.4a5.3 3.9 12 1 0 -10.4 -2.4zM135 375.7a4.1 3.5 121 1 0 -4.3 7a4.1 3.5 121 1 0 4.3 -7zM61.8 370a4.9 3.7 125 1 0 -5.7 7.9a4.9 3.7 125 1 0 5.7 -7.9zM151.4 361.9a4.7 3.7 130 1 0 -6.1 7.2a4.7 3.7 130 1 0 6.1 -7.2zM159.5 376.9a4.6 3.5 23 1 0 8.4 3.6a4.6 3.5 23 1 0 -8.4 -3.6zM76.6 383.1a4.6 3.7 28 1 0 8 4.3a4.6 3.7 28 1 0 -8 -4.3zM140.4 382.3a4.4 3.1 83 1 0 1 8.8a4.4 3.1 83 1 0 -1 -8.8zM167.1 358.7a4.5 3.7 158 1 0 -8.4 3.4a4.5 3.7 158 1 0 8.4 -3.4zM119.4 369.3a4.6 3.8 154 1 0 -8.3 3.9a4.6 3.8 154 1 0 8.3 -3.9zM82.3 365.8a5.2 4 18 1 0 9.8 3.3a5.2 4 18 1 0 -9.8 -3.3zM172.8 384.8a3.7 3.5 145 1 0 -6.1 4.2a3.7 3.5 145 1 0 6.1 -4.2zM161.2 374.3a4.7 3.7 140 1 0 -7.2 6a4.7 3.7 140 1 0 7.2 -6zM152.7 381a4.1 3.6 53 1 0 4.9 6.5a4.1 3.6 53 1 0 -4.9 -6.5zM28.2 377.2a4.6 3.8 15 1 0 8.9 2.5a4.6 3.8 15 1 0 -8.9 -2.5zM109.8 383.5a4.1 3.1 28 1 0 7.3 3.9a4.1 3.1 28 1 0 -7.3 -3.9zM118.2 368.7a4.9 3.6 35 1 0 8 5.7a4.9 3.6 35 1 0 -8 -5.7zM111 354.9a5.2 4.1 100 1 0 -1.9 10.2a5.2 4.1 100 1 0 1.9 -10.2zM71.7 371.4a4.6 3.9 141 1 0 -7.1 5.8a4.6 3.9 141 1 0 7.1 -5.8z"/>
<path fill="#4232ae" d="M58.1 357.3a3.9 2.8 10 1 0 7.6 1.4a3.9 2.8 10 1 0 -7.6 -1.4zM160.7 369.8a3.1 2.7 178 1 0 -6.2 0.2a3.1 2.7 178 1 0 6.2 -0.2zM32.6 330.2a3.7 2.8 70 1 0 2.5 6.9a3.7 2.8 70 1 0 -2.5 -6.9zM149.9 342.2a3.5 2.6 90 1 0 -0.1 7.1a3.5 2.6 90 1 0 0.1 -7.1zM86.1 346.9a3.2 2.5 20 1 0 5.9 2.2a3.2 2.5 20 1 0 -5.9 -2.2zM39.9 348.2a3.9 2.8 152 1 0 -6.9 3.6a3.9 2.8 152 1 0 6.9 -3.6zM144.9 384.8a3.3 2 48 1 0 4.4 5a3.3 2 48 1 0 -4.4 -5zM87.9 388a2.9 2.3 158 1 0 -5.4 2.2a2.9 2.3 158 1 0 5.4 -2.2zM70.9 345.9a3.4 2.6 104 1 0 -1.7 6.5a3.4 2.6 104 1 0 1.7 -6.5zM171.4 365.6a3.5 2.5 98 1 0 -1 7a3.5 2.5 98 1 0 1 -7zM133.9 340.9a4.1 2.8 48 1 0 5.5 6.1a4.1 2.8 48 1 0 -5.5 -6.1zM141.8 368.1a3.5 2.4 143 1 0 -5.6 4.2a3.5 2.4 143 1 0 5.6 -4.2zM121.2 386.9a2.6 1.9 137 1 0 -3.9 3.5a2.6 1.9 137 1 0 3.9 -3.5zM97.4 337.4a3.9 3.1 85 1 0 0.7 7.7a3.9 3.1 85 1 0 -0.7 -7.7zM50.9 349.8a3.3 2.8 0 1 0 6.6 0a3.3 2.8 0 1 0 -6.6 0zM90.5 329.6a3.8 2.8 97 1 0 -1 7.5a3.8 2.8 97 1 0 1 -7.5zM78.8 361.3a3.2 2.7 23 1 0 5.9 2.6a3.2 2.7 23 1 0 -5.9 -2.6zM159.3 352.1a3.6 2.3 101 1 0 -1.4 7a3.6 2.3 101 1 0 1.4 -7zM79.3 364.6a4 2.5 167 1 0 -7.9 1.7a4 2.5 167 1 0 7.9 -1.7zM123.1 377.8a3.1 2.2 99 1 0 -1 6.1a3.1 2.2 99 1 0 1 -6.1zM150.8 332.1a3.7 2.2 7 1 0 7.4 1a3.7 2.2 7 1 0 -7.4 -1zM130.7 363.3a3.4 2.8 19 1 0 6.3 2.3a3.4 2.8 19 1 0 -6.3 -2.3zM122.6 356.3a3.6 3.1 86 1 0 0.4 7.2a3.6 3.1 86 1 0 -0.4 -7.2zM56.5 387.7a3.1 2.3 171 1 0 -6.2 0.9a3.1 2.3 171 1 0 6.2 -0.9zM33.2 367.1a3.8 2.8 76 1 0 1.8 7.3a3.8 2.8 76 1 0 -1.8 -7.3zM171.9 372.7a3.2 2.2 103 1 0 -1.5 6.2a3.2 2.2 103 1 0 1.5 -6.2zM107.5 386a2.8 1.7 60 1 0 2.8 4.9a2.8 1.7 60 1 0 -2.8 -4.9zM109.5 348.5a3.9 3 77 1 0 1.7 7.6a3.9 3 77 1 0 -1.7 -7.6zM175.6 337.3a3.7 2.9 164 1 0 -7.1 2a3.7 2.9 164 1 0 7.1 -2zM96.2 329.5a3.7 3.1 84 1 0 0.7 7.3a3.7 3.1 84 1 0 -0.7 -7.3zM159.4 348.1a3.4 2.4 35 1 0 5.5 3.9a3.4 2.4 35 1 0 -5.5 -3.9zM150.6 362.8a3.5 2.5 130 1 0 -4.6 5.4a3.5 2.5 130 1 0 4.6 -5.4zM132.2 355.7a3.8 2.6 10 1 0 7.5 1.4a3.8 2.6 10 1 0 -7.5 -1.4zM153.5 382a2.9 2.4 53 1 0 3.4 4.6a2.9 2.4 53 1 0 -3.4 -4.6zM96.4 345.2a3.7 3 49 1 0 4.7 5.6a3.7 3 49 1 0 -4.7 -5.6zM119.2 369.4a3.7 2.4 35 1 0 6.1 4.3a3.7 2.4 35 1 0 -6.1 -4.3zM146.3 350.3a4.3 2.6 111 1 0 -3.2 8a4.3 2.6 111 1 0 3.2 -8zM110.8 356.1a4 2.9 100 1 0 -1.4 7.9a4 2.9 100 1 0 1.4 -7.9zM70.7 372.2a3.4 2.7 141 1 0 -5.3 4.2a3.4 2.7 141 1 0 5.3 -4.2zM38 391.8a2.5 1.9 122 1 0 -2.6 4.2a2.5 1.9 122 1 0 2.6 -4.2zM34.9 452.2a2 1.5 173 1 0 -4 0.5a2 1.5 173 1 0 4 -0.5zM149.4 395.3a2.4 1.8 159 1 0 -4.6 1.7a2.4 1.8 159 1 0 4.6 -1.7zM135.8 447.1a2.3 1.4 41 1 0 3.4 3a2.3 1.4 41 1 0 -3.4 -3zM86 409.9a2.2 1.5 171 1 0 -4.3 0.7a2.2 1.5 171 1 0 4.3 -0.7zM61 433.9a2.1 1.6 115 1 0 -1.8 3.7a2.1 1.6 115 1 0 1.8 -3.7zM103.9 437.8a2.3 1.6 20 1 0 4.3 1.6a2.3 1.6 20 1 0 -4.3 -1.6zM146 448.9a2.6 1.6 135 1 0 -3.7 3.6a2.6 1.6 135 1 0 3.7 -3.6zM82.4 459.2a2.3 1.7 160 1 0 -4.4 1.6a2.3 1.7 160 1 0 4.4 -1.6zM131 470.2a2 1.7 172 1 0 -4 0.5a2 1.7 172 1 0 4 -0.5zM116.9 443.9a2.4 1.7 121 1 0 -2.4 4a2.4 1.7 121 1 0 2.4 -4zM136.6 462.1a2.3 1.4 134 1 0 -3.2 3.2a2.3 1.4 134 1 0 3.2 -3.2zM102.4 430.5a2.1 1.8 137 1 0 -3.1 2.8a2.1 1.8 137 1 0 3.1 -2.8zM141.8 424.9a2.1 1.6 111 1 0 -1.5 4a2.1 1.6 111 1 0 1.5 -4zM127 434.4a2.4 1.6 128 1 0 -3 3.9a2.4 1.6 128 1 0 3 -3.9zM69.5 422.7a2 1.6 152 1 0 -3.6 1.9a2 1.6 152 1 0 3.6 -1.9zM82.1 417.5a2.3 1.7 111 1 0 -1.7 4.4a2.3 1.7 111 1 0 1.7 -4.4zM143.5 409.3a2.2 1.6 144 1 0 -3.5 2.5a2.2 1.6 144 1 0 3.5 -2.5zM120.4 411.8a2.2 1.7 178 1 0 -4.4 0.1a2.2 1.7 178 1 0 4.4 -0.1zM46.5 446.3a2.3 1.6 8 1 0 4.5 0.6a2.3 1.6 8 1 0 -4.5 -0.6zM114.7 462.9a2.1 1.5 112 1 0 -1.6 3.9a2.1 1.5 112 1 0 1.6 -3.9zM46.5 406.3a2.4 1.8 59 1 0 2.4 4.2a2.4 1.8 59 1 0 -2.4 -4.2zM167.7 456.3a2.3 1.7 106 1 0 -1.3 4.3a2.3 1.7 106 1 0 1.3 -4.3zM138.9 411.1a2.2 1.8 156 1 0 -4.1 1.8a2.2 1.8 156 1 0 4.1 -1.8zM158.6 404.1a2.3 1.8 142 1 0 -3.6 2.8a2.3 1.8 142 1 0 3.6 -2.8zM44.4 446.9a2.6 1.7 169 1 0 -5.1 0.9a2.6 1.7 169 1 0 5.1 -0.9zM66.2 443.6a1.9 1.7 137 1 0 -2.8 2.6a1.9 1.7 137 1 0 2.8 -2.6zM67.9 432.7a2.2 1.9 84 1 0 0.4 4.5a2.2 1.9 84 1 0 -0.4 -4.5zM163.9 423.7a2.2 1.8 33 1 0 3.7 2.5a2.2 1.8 33 1 0 -3.7 -2.5zM81.7 461.6a2.5 1.9 7 1 0 5 0.7a2.5 1.9 7 1 0 -5 -0.7zM96.5 462.9a2.1 1.6 2 1 0 4.2 0.2a2.1 1.6 2 1 0 -4.2 -0.2zM48.5 421.3a2 1.8 73 1 0 1.1 3.8a2 1.8 73 1 0 -1.1 -3.8zM108.6 467.5a2 1.5 68 1 0 1.5 3.8a2 1.5 68 1 0 -1.5 -3.8zM59.5 398.5a2.5 2 137 1 0 -3.7 3.4a2.5 2 137 1 0 3.7 -3.4zM90.3 401a2.7 1.9 120 1 0 -2.8 4.7a2.7 1.9 120 1 0 2.8 -4.7zM87.1 415.3a2.4 1.7 137 1 0 -3.5 3.3a2.4 1.7 137 1 0 3.5 -3.3zM129.3 389.5a3.1 2 33 1 0 5.1 3.4a3.1 2 33 1 0 -5.1 -3.4zM153.5 415.8a2 1.6 177 1 0 -3.9 0.2a2 1.6 177 1 0 3.9 -0.2zM140.1 421.9a2.5 1.9 144 1 0 -4.2 2.9a2.5 1.9 144 1 0 4.2 -2.9zM146.1 458.6a2 1.6 3 1 0 4.1 0.3a2 1.6 3 1 0 -4.1 -0.3zM93.7 465.6a2.4 1.7 146 1 0 -4 2.6a2.4 1.7 146 1 0 4 -2.6zM149.9 463.6a2.1 1.6 130 1 0 -2.8 3.2a2.1 1.6 130 1 0 2.8 -3.2zM163.4 468.1a2.3 1.8 28 1 0 4.1 2.2a2.3 1.8 28 1 0 -4.1 -2.2zM59 391.4a2.7 2.2 18 1 0 5.2 1.7a2.7 2.2 18 1 0 -5.2 -1.7zM42.1 417.4a2.1 1.8 85 1 0 0.3 4.1a2.1 1.8 85 1 0 -0.3 -4.1zM137.1 399.7a2.2 1.7 42 1 0 3.2 3a2.2 1.7 42 1 0 -3.2 -3zM148 410.1a2.8 1.6 13 1 0 5.4 1.3a2.8 1.6 13 1 0 -5.4 -1.3zM158.4 397a2.8 2.1 98 1 0 -0.8 5.6a2.8 2.1 98 1 0 0.8 -5.6zM45.7 399.5a2.3 1.8 28 1 0 4 2.2a2.3 1.8 28 1 0 -4 -2.2zM121 448.5a2.5 1.5 133 1 0 -3.5 3.7a2.5 1.5 133 1 0 3.5 -3.7zM82.1 411.9a2.4 1.8 173 1 0 -4.8 0.5a2.4 1.8 173 1 0 4.8 -0.5zM157.3 459.2a2.5 1.8 177 1 0 -5 0.2a2.5 1.8 177 1 0 5 -0.2zM154.6 422a2.6 1.6 176 1 0 -5.2 0.3a2.6 1.6 176 1 0 5.2 -0.3zM94 436.1a2.8 1.9 30 1 0 4.8 2.8a2.8 1.9 30 1 0 -4.8 -2.8zM125.3 419.5a2.2 1.5 99 1 0 -0.7 4.4a2.2 1.5 99 1 0 0.7 -4.4zM46.1 448.9a2.1 1.7 83 1 0 0.5 4.3a2.1 1.7 83 1 0 -0.5 -4.3zM79.9 423.6a2.5 1.6 123 1 0 -2.8 4.2a2.5 1.6 123 1 0 2.8 -4.2zM66.5 415.3a2 1.5 24 1 0 3.6 1.6a2 1.5 24 1 0 -3.6 -1.6zM77.6 407.4a2.7 1.8 177 1 0 -5.5 0.3a2.7 1.8 177 1 0 5.5 -0.3zM134.8 435a2.4 1.5 119 1 0 -2.3 4.1a2.4 1.5 119 1 0 2.3 -4.1zM74.6 427.9a2 1.6 126 1 0 -2.4 3.3a2 1.6 126 1 0 2.4 -3.3zM99 439.6a2.4 1.5 5 1 0 4.8 0.5a2.4 1.5 5 1 0 -4.8 -0.5zM125.2 394.8a2.6 1.9 5 1 0 5.1 0.5a2.6 1.9 5 1 0 -5.1 -0.5zM116.2 413a2.1 1.7 176 1 0 -4.2 0.2a2.1 1.7 176 1 0 4.2 -0.2zM157 412.6a2.1 1.8 69 1 0 1.4 3.9a2.1 1.8 69 1 0 -1.4 -3.9zM82 453.2a2.1 1.6 125 1 0 -2.4 3.3a2.1 1.6 125 1 0 2.4 -3.3zM59.2 440.6a2.2 1.5 120 1 0 -2.2 3.8a2.2 1.5 120 1 0 2.2 -3.8zM156 447.3a2.2 1.9 90 1 0 0 4.4a2.2 1.9 90 1 0 0 -4.4zM136.4 432.7a2.6 1.8 67 1 0 2 4.8a2.6 1.8 67 1 0 -2 -4.8zM158.4 469a2.2 1.8 141 1 0 -3.4 2.8a2.2 1.8 141 1 0 3.4 -2.8zM35.7 417.6a2.2 1.6 50 1 0 2.8 3.4a2.2 1.6 50 1 0 -2.8 -3.4zM33.9 465.5a2.4 1.6 41 1 0 3.7 3.2a2.4 1.6 41 1 0 -3.7 -3.2zM118.1 427.5a2.4 2 163 1 0 -4.6 1.4a2.4 2 163 1 0 4.6 -1.4zM54.7 403.4a2.2 1.6 97 1 0 -0.5 4.4a2.2 1.6 97 1 0 0.5 -4.4zM66.8 437.7a2.4 1.6 105 1 0 -1.3 4.6a2.4 1.6 105 1 0 1.3 -4.6zM110.7 440.4a2.2 1.5 57 1 0 2.3 3.7a2.2 1.5 57 1 0 -2.3 -3.7zM90.2 434a2.1 1.5 158 1 0 -4 1.6a2.1 1.5 158 1 0 4 -1.6zM130.3 438.3a2.4 1.7 109 1 0 -1.6 4.4a2.4 1.7 109 1 0 1.6 -4.4zM52.6 452.8a2.2 1.9 172 1 0 -4.4 0.5a2.2 1.9 172 1 0 4.4 -0.5zM35 397.1a2.4 1.8 88 1 0 0.2 4.8a2.4 1.8 88 1 0 -0.2 -4.8zM131.8 424.2a2 1.6 69 1 0 1.4 3.7a2 1.6 69 1 0 -1.4 -3.7zM88.1 428.8a2.3 1.8 36 1 0 3.8 2.8a2.3 1.8 36 1 0 -3.8 -2.8zM138.9 389.4a2.5 1.7 141 1 0 -3.9 3.1a2.5 1.7 141 1 0 3.9 -3.1zM115.5 437.7a2.2 1.8 75 1 0 1.1 4.3a2.2 1.8 75 1 0 -1.1 -4.3zM111.9 390.1a3 2.2 92 1 0 -0.3 5.9a3 2.2 92 1 0 0.3 -5.9zM173.5 455.4a2.3 1.5 125 1 0 -2.7 3.8a2.3 1.5 125 1 0 2.7 -3.8zM44.2 441.3a2.2 1.9 132 1 0 -3 3.2a2.2 1.9 132 1 0 3 -3.2zM40.1 431.8a2.4 1.4 108 1 0 -1.5 4.6a2.4 1.4 108 1 0 1.5 -4.6zM162.7 456.3a2.2 1.6 138 1 0 -3.3 2.9a2.2 1.6 138 1 0 3.3 -2.9zM57.1 467.2a2.1 1.7 37 1 0 3.3 2.6a2.1 1.7 37 1 0 -3.3 -2.6zM100.4 448.1a2.3 1.4 76 1 0 1 4.4a2.3 1.4 76 1 0 -1 -4.4zM152.1 452.6a2.6 1.7 80 1 0 0.8 5a2.6 1.7 80 1 0 -0.8 -5zM97.9 417a2.3 1.9 54 1 0 2.7 3.8a2.3 1.9 54 1 0 -2.7 -3.8zM107.7 469.4a2.6 2 156 1 0 -4.9 2.1a2.6 2 156 1 0 4.9 -2.1zM158.6 469.4a2.8 1.8 31 1 0 4.7 2.9a2.8 1.8 31 1 0 -4.7 -2.9zM58.9 430.2a2.2 1.9 121 1 0 -2.3 3.8a2.2 1.9 121 1 0 2.3 -3.8zM169.4 443.6a2.4 1.9 153 1 0 -4.3 2.1a2.4 1.9 153 1 0 4.3 -2.1zM86.9 394.8a2.9 1.9 7 1 0 5.8 0.8a2.9 1.9 7 1 0 -5.8 -0.8zM99.8 391.1a2.5 2.2 59 1 0 2.5 4.2a2.5 2.2 59 1 0 -2.5 -4.2zM123.3 453.9a2 1.5 23 1 0 3.7 1.6a2 1.5 23 1 0 -3.7 -1.6zM100.6 467.8a2.3 1.6 100 1 0 -0.8 4.4a2.3 1.6 100 1 0 0.8 -4.4zM81.3 467.5a2.1 1.8 98 1 0 -0.6 4.1a2.1 1.8 98 1 0 0.6 -4.1zM121.4 466.1a2.5 1.9 166 1 0 -4.9 1.2a2.5 1.9 166 1 0 4.9 -1.2zM52.3 420.1a2.3 1.6 60 1 0 2.3 4a2.3 1.6 60 1 0 -2.3 -4zM104.6 426.8a2.2 1.7 98 1 0 -0.7 4.3a2.2 1.7 98 1 0 0.7 -4.3zM152 404.6a2.3 1.4 77 1 0 1 4.5a2.3 1.4 77 1 0 -1 -4.5zM69.5 410.7a2.7 1.8 171 1 0 -5.3 0.8a2.7 1.8 171 1 0 5.3 -0.8zM118.4 399.1a2.3 1.7 72 1 0 1.4 4.4a2.3 1.7 72 1 0 -1.4 -4.4zM38.7 400.4a2.3 1.7 107 1 0 -1.4 4.4a2.3 1.7 107 1 0 1.4 -4.4zM72.9 467.6a2.7 1.7 104 1 0 -1.3 5.2a2.7 1.7 104 1 0 1.3 -5.2zM152 388.7a3.2 2.3 124 1 0 -3.6 5.3a3.2 2.3 124 1 0 3.6 -5.3zM90.9 435.3a2.1 1.8 60 1 0 2 3.6a2.1 1.8 60 1 0 -2 -3.6zM109.9 406.6a2.1 1.6 2 1 0 4.1 0.1a2.1 1.6 2 1 0 -4.1 -0.1zM79.1 420a2.5 1.6 141 1 0 -3.9 3.1a2.5 1.6 141 1 0 3.9 -3.1zM71.2 417.4a2.9 1.8 113 1 0 -2.2 5.2a2.9 1.8 113 1 0 2.2 -5.2z"/>
<path fill="#3b2da2" d="M159.6 339.4a3.9 3.3 104 1 0 -1.9 7.5a3.9 3.3 104 1 0 1.9 -7.5zM140.5 346.5a3.5 2.4 102 1 0 -1.5 6.8a3.5 2.4 102 1 0 1.5 -6.8zM79.7 351.8a2.9 2.6 166 1 0 -5.6 1.3a2.9 2.6 166 1 0 5.6 -1.3zM44.5 388.9a3.1 2.3 9 1 0 6 1.1a3.1 2.3 9 1 0 -6 -1.1zM102.9 366.4a4.1 2.8 142 1 0 -6.5 4.9a4.1 2.8 142 1 0 6.5 -4.9zM119.1 362.9a3.5 2.3 156 1 0 -6.4 2.8a3.5 2.3 156 1 0 6.4 -2.8zM145.3 362a3.3 2.8 174 1 0 -6.6 0.6a3.3 2.8 174 1 0 6.6 -0.6zM88 380.2a3.5 2.2 115 1 0 -3 6.2a3.5 2.2 115 1 0 3 -6.2zM67.1 377.7a3.2 2 123 1 0 -3.5 5.2a3.2 2 123 1 0 3.5 -5.2zM52.3 365.9a3.7 2.6 37 1 0 5.9 4.6a3.7 2.6 37 1 0 -5.9 -4.6zM160.5 333.3a3.3 3 23 1 0 6 2.6a3.3 3 23 1 0 -6 -2.6zM82.5 338.1a3.8 2.8 51 1 0 4.7 6a3.8 2.8 51 1 0 -4.7 -6zM89.9 378.9a2.7 2.1 4 1 0 5.3 0.4a2.7 2.1 4 1 0 -5.3 -0.4zM108 377.7a3.4 2.8 11 1 0 6.6 1.3a3.4 2.8 11 1 0 -6.6 -1.3zM129.4 369.4a3.6 3.1 27 1 0 6.3 3.3a3.6 3.1 27 1 0 -6.3 -3.3zM169.5 350.4a3.8 3.1 116 1 0 -3.4 6.8a3.8 3.1 116 1 0 3.4 -6.8zM46.3 351.3a3.5 2.5 83 1 0 0.9 7a3.5 2.5 83 1 0 -0.9 -7zM72 372.9a3.2 2.4 51 1 0 4 5a3.2 2.4 51 1 0 -4 -5zM126.7 350.7a3.4 2.5 155 1 0 -6.2 2.8a3.4 2.5 155 1 0 6.2 -2.8zM165.5 368.8a3.2 2.3 105 1 0 -1.7 6.2a3.2 2.3 105 1 0 1.7 -6.2zM127 372.8a3 2.3 88 1 0 0.2 6a3 2.3 88 1 0 -0.2 -6zM97.9 353.6a3.3 3.1 167 1 0 -6.5 1.5a3.3 3.1 167 1 0 6.5 -1.5zM39.1 356.4a3.8 3 63 1 0 3.3 6.8a3.8 3 63 1 0 -3.3 -6.8zM100.8 385.2a2.7 2 62 1 0 2.5 4.9a2.7 2 62 1 0 -2.5 -4.9zM135 347.4a4 3 157 1 0 -7.3 3a4 3 157 1 0 7.3 -3zM159.7 361.2a3.2 2.7 152 1 0 -5.6 3a3.2 2.7 152 1 0 5.6 -3zM117.4 332.6a3.8 2.9 140 1 0 -5.8 4.8a3.8 2.9 140 1 0 5.8 -4.8zM162.3 387.4a3 2.4 71 1 0 1.9 5.8a3 2.4 71 1 0 -1.9 -5.8zM63.1 384.4a2.9 2.1 109 1 0 -1.9 5.5a2.9 2.1 109 1 0 1.9 -5.5zM52.3 369.7a3.2 2.5 143 1 0 -5.1 3.8a3.2 2.5 143 1 0 5.1 -3.8zM109.3 340.1a3.7 2.5 32 1 0 6.3 4a3.7 2.5 32 1 0 -6.3 -4zM63.4 345.8a3.9 3 89 1 0 0.1 7.9a3.9 3 89 1 0 -0.1 -7.9zM119.3 351.3a3.2 2.3 139 1 0 -4.9 4.2a3.2 2.3 139 1 0 4.9 -4.2zM171.8 385.5a2.5 2.3 145 1 0 -4.1 2.8a2.5 2.3 145 1 0 4.1 -2.8zM160.3 375a3.5 2.5 140 1 0 -5.4 4.5a3.5 2.5 140 1 0 5.4 -4.5zM145.3 340.5a3.2 2.4 121 1 0 -3.4 5.5a3.2 2.4 121 1 0 3.4 -5.5zM134.1 458.5a2.4 1.6 30 1 0 4.1 2.4a2.4 1.6 30 1 0 -4.1 -2.4zM162.6 419.6a2.1 1.8 19 1 0 4 1.4a2.1 1.8 19 1 0 -4 -1.4zM35.6 461.8a2.5 1.8 30 1 0 4.3 2.5a2.5 1.8 30 1 0 -4.3 -2.5zM118.1 456.8a2.3 1.7 91 1 0 -0.1 4.7a2.3 1.7 91 1 0 0.1 -4.7zM52 446.7a2.4 1.5 52 1 0 2.9 3.7a2.4 1.5 52 1 0 -2.9 -3.7zM84.1 426.2a2.2 1.5 107 1 0 -1.3 4.3a2.2 1.5 107 1 0 1.3 -4.3zM74 394.8a2.9 1.9 135 1 0 -4.1 4a2.9 1.9 135 1 0 4.1 -4zM35.9 404.3a2.2 1.7 141 1 0 -3.5 2.8a2.2 1.7 141 1 0 3.5 -2.8zM168.7 462.2a2.5 1.9 80 1 0 0.9 4.9a2.5 1.9 80 1 0 -0.9 -4.9zM61.8 423.7a2.4 2.1 54 1 0 2.8 4a2.4 2.1 54 1 0 -2.8 -4zM122.4 454a2.1 1.8 145 1 0 -3.5 2.4a2.1 1.8 145 1 0 3.5 -2.4zM118.9 393.2a2.3 1.8 120 1 0 -2.4 4a2.3 1.8 120 1 0 2.4 -4zM74.7 401.1a2.2 1.8 106 1 0 -1.2 4.3a2.2 1.8 106 1 0 1.2 -4.3zM72.2 445.8a2 1.6 19 1 0 3.8 1.3a2 1.6 19 1 0 -3.8 -1.3zM52 409.6a2.7 1.7 38 1 0 4.2 3.4a2.7 1.7 38 1 0 -4.2 -3.4zM35 429.2a2.1 1.8 56 1 0 2.4 3.6a2.1 1.8 56 1 0 -2.4 -3.6zM125.3 462.7a2.7 2 150 1 0 -4.8 2.7a2.7 2 150 1 0 4.8 -2.7zM113.7 431.8a2.1 1.6 107 1 0 -1.3 3.9a2.1 1.6 107 1 0 1.3 -3.9zM54.6 415.9a2.1 1.6 114 1 0 -1.7 3.8a2.1 1.6 114 1 0 1.7 -3.8zM111.8 415.3a1.9 1.7 147 1 0 -3.2 2.1a1.9 1.7 147 1 0 3.2 -2.1zM71 404.2a2.6 1.8 127 1 0 -3.2 4.2a2.6 1.8 127 1 0 3.2 -4.2zM42.1 422.8a2.4 1.8 5 1 0 4.9 0.5a2.4 1.8 5 1 0 -4.9 -0.5zM163.7 412.6a2.3 2 167 1 0 -4.5 1a2.3 2 167 1 0 4.5 -1zM37.7 466.9a2.4 1.8 20 1 0 4.4 1.7a2.4 1.8 20 1 0 -4.4 -1.7zM36.7 407.8a2.3 1.6 77 1 0 1 4.4a2.3 1.6 77 1 0 -1 -4.4zM113.2 418.8a2.8 1.8 23 1 0 5.2 2.3a2.8 1.8 23 1 0 -5.2 -2.3zM143.6 427.6a2.4 1.6 53 1 0 2.8 3.9a2.4 1.6 53 1 0 -2.8 -3.9zM47.3 393.5a2.5 1.9 119 1 0 -2.5 4.3a2.5 1.9 119 1 0 2.5 -4.3zM62.8 464.5a2.7 1.9 82 1 0 0.7 5.4a2.7 1.9 82 1 0 -0.7 -5.4zM91.8 450.8a2.4 1.8 126 1 0 -2.9 3.9a2.4 1.8 126 1 0 2.9 -3.9zM51 438.9a2.3 1.7 10 1 0 4.6 0.8a2.3 1.7 10 1 0 -4.6 -0.8zM160.1 454.4a2 1.7 179 1 0 -3.9 0.1a2 1.7 179 1 0 3.9 -0.1zM167.2 426.2a2.5 1.7 46 1 0 3.5 3.7a2.5 1.7 46 1 0 -3.5 -3.7zM111.4 444.7a2.3 1.7 134 1 0 -3.2 3.3a2.3 1.7 134 1 0 3.2 -3.3zM93.9 415a2.3 1.6 142 1 0 -3.6 2.8a2.3 1.6 142 1 0 3.6 -2.8zM111.2 457a2 1.8 39 1 0 3.1 2.5a2 1.8 39 1 0 -3.1 -2.5zM72.6 431.4a2.7 2 94 1 0 -0.4 5.4a2.7 2 94 1 0 0.4 -5.4zM92.6 445.3a2.5 1.6 116 1 0 -2.3 4.4a2.5 1.6 116 1 0 2.3 -4.4zM145.8 437.3a2.6 1.8 165 1 0 -5.1 1.3a2.6 1.8 165 1 0 5.1 -1.3zM110.1 395.4a2.6 1.7 170 1 0 -5.2 0.8a2.6 1.7 170 1 0 5.2 -0.8zM42.5 412.4a2.1 1.5 145 1 0 -3.5 2.4a2.1 1.5 145 1 0 3.5 -2.4zM35.6 444a2.1 1.7 19 1 0 3.9 1.4a2.1 1.7 19 1 0 -3.9 -1.4zM57 460.1a2.2 1.8 142 1 0 -3.4 2.6a2.2 1.8 142 1 0 3.4 -2.6zM169.1 438.5a2.7 1.9 44 1 0 3.8 3.7a2.7 1.9 44 1 0 -3.8 -3.7zM171.9 431.2a2.3 1.4 91 1 0 -0.1 4.6a2.3 1.4 91 1 0 0.1 -4.6zM158.9 446a2.8 2 25 1 0 5 2.4a2.8 2 25 1 0 -5 -2.4zM130.7 397.5a2.7 1.8 2 1 0 5.3 0.3a2.7 1.8 2 1 0 -5.3 -0.3zM69.7 390.3a2.6 2.1 106 1 0 -1.5 5a2.6 2.1 106 1 0 1.5 -5zM96.4 411.9a2.6 1.6 37 1 0 4.1 3.2a2.6 1.6 37 1 0 -4.1 -3.2zM160.2 427.6a2.3 1.4 33 1 0 3.8 2.5a2.3 1.4 33 1 0 -3.8 -2.5zM90.3 456.9a2.5 1.7 38 1 0 3.9 3a2.5 1.7 38 1 0 -3.9 -3zM162.6 435.2a2.5 1.8 12 1 0 4.8 1.1a2.5 1.8 12 1 0 -4.8 -1.1zM99.1 397.6a2.6 2.1 8 1 0 5.2 0.8a2.6 2.1 8 1 0 -5.2 -0.8zM174.4 415.8a2.4 1.5 166 1 0 -4.7 1.1a2.4 1.5 166 1 0 4.7 -1.1zM153.9 467.8a2.4 1.7 148 1 0 -4 2.5a2.4 1.7 148 1 0 4 -2.5zM30.7 411.4a2.3 1.9 13 1 0 4.5 1.1a2.3 1.9 13 1 0 -4.5 -1.1zM65.9 403.6a2.5 1.8 114 1 0 -2.1 4.5a2.5 1.8 114 1 0 2.1 -4.5zM60.5 408.8a2.1 1.7 40 1 0 3.1 2.7a2.1 1.7 40 1 0 -3.1 -2.7zM81.4 423a2.8 2 10 1 0 5.5 1.1a2.8 2 10 1 0 -5.5 -1.1zM140.1 469.1a2.2 1.9 30 1 0 3.8 2.2a2.2 1.9 30 1 0 -3.8 -2.2zM139.1 413.3a2.1 1.7 43 1 0 3 2.8a2.1 1.7 43 1 0 -3 -2.8zM156 437.7a2 1.6 70 1 0 1.4 3.7a2 1.6 70 1 0 -1.4 -3.7zM59 418.7a2 1.6 143 1 0 -3.2 2.4a2 1.6 143 1 0 3.2 -2.4zM104.8 441.6a2.3 1.6 117 1 0 -2.1 4.1a2.3 1.6 117 1 0 2.1 -4.1zM78.7 429.6a1.9 1.7 76 1 0 0.9 3.7a1.9 1.7 76 1 0 -0.9 -3.7zM94 401.4a2.7 2 45 1 0 3.9 3.9a2.7 2 45 1 0 -3.9 -3.9zM77.5 455.5a2.2 2 172 1 0 -4.3 0.6a2.2 2 172 1 0 4.3 -0.6zM144.9 456.3a2.3 1.4 160 1 0 -4.3 1.5a2.3 1.4 160 1 0 4.3 -1.5zM70.3 428.2a2.7 1.7 140 1 0 -4.3 3.5a2.7 1.7 140 1 0 4.3 -3.5zM167 450.9a2.2 1.7 141 1 0 -3.5 2.7a2.2 1.7 141 1 0 3.5 -2.7zM93.4 448.7a2.3 1.5 0 1 0 4.5 0a2.3 1.5 0 1 0 -4.5 0zM78.9 463.6a2.2 1.8 35 1 0 3.6 2.5a2.2 1.8 35 1 0 -3.6 -2.5zM114 421a2.2 2 120 1 0 -2.2 3.9a2.2 2 120 1 0 2.2 -3.9zM112.7 448.1a2.2 1.5 51 1 0 2.8 3.5a2.2 1.5 51 1 0 -2.8 -3.5zM85.2 452.2a2.5 1.8 94 1 0 -0.4 4.9a2.5 1.8 94 1 0 0.4 -4.9zM110 456.3a2.1 1.6 144 1 0 -3.5 2.5a2.1 1.6 144 1 0 3.5 -2.5zM63.9 430.5a1.9 1.6 167 1 0 -3.8 0.8a1.9 1.6 167 1 0 3.8 -0.8zM106.8 428a2.5 2 33 1 0 4.2 2.8a2.5 2 33 1 0 -4.2 -2.8zM169.9 406.6a2.1 1.5 54 1 0 2.5 3.5a2.1 1.5 54 1 0 -2.5 -3.5zM147.2 429a2.1 1.8 13 1 0 4 1a2.1 1.8 13 1 0 -4 -1zM73.6 415.9a2.3 1.6 77 1 0 1 4.5a2.3 1.6 77 1 0 -1 -4.5zM47.1 465.2a2.1 1.5 167 1 0 -4.1 0.9a2.1 1.5 167 1 0 4.1 -0.9zM89 418.8a2.1 1.5 66 1 0 1.7 3.8a2.1 1.5 66 1 0 -1.7 -3.8zM133.5 419.4a2.6 1.7 77 1 0 1.2 5a2.6 1.7 77 1 0 -1.2 -5zM104.9 419a2.7 1.8 19 1 0 5 1.8a2.7 1.8 19 1 0 -5 -1.8zM87.2 462.6a2.7 1.8 79 1 0 0.9 5.3a2.7 1.8 79 1 0 -0.9 -5.3zM169.7 431.7a2.2 1.7 167 1 0 -4.2 0.9a2.2 1.7 167 1 0 4.2 -0.9zM129.9 411.9a2.1 1.6 7 1 0 4.1 0.6a2.1 1.6 7 1 0 -4.1 -0.6zM116.7 453.4a1.9 1.6 98 1 0 -0.5 3.8a1.9 1.6 98 1 0 0.5 -3.8zM31.6 461.3a2.5 1.9 40 1 0 3.7 3.2a2.5 1.9 40 1 0 -3.7 -3.2zM137.4 450.6a2.5 1.7 140 1 0 -3.9 3.1a2.5 1.7 140 1 0 3.9 -3.1zM167.2 399.2a2.4 1.7 117 1 0 -2.2 4.3a2.4 1.7 117 1 0 2.2 -4.3zM31.3 435.7a2.2 1.8 25 1 0 4 1.9a2.2 1.8 25 1 0 -4 -1.9zM105.2 431.7a2 1.6 49 1 0 2.6 3a2 1.6 49 1 0 -2.6 -3zM150.9 435.8a2.5 1.9 42 1 0 3.8 3.4a2.5 1.9 42 1 0 -3.8 -3.4zM67.4 454.2a2.4 1.6 20 1 0 4.6 1.7a2.4 1.6 20 1 0 -4.6 -1.7zM108.6 436.4a2.3 1.7 37 1 0 3.6 2.8a2.3 1.7 37 1 0 -3.6 -2.8zM90.7 407.5a2.6 1.9 161 1 0 -5 1.7a2.6 1.9 161 1 0 5 -1.7zM150.8 423.8a2.4 1.7 144 1 0 -3.8 2.8a2.4 1.7 144 1 0 3.8 -2.8zM158.7 436.8a2.2 1.7 34 1 0 3.7 2.5a2.2 1.7 34 1 0 -3.7 -2.5zM62.6 437.3a2.8 1.8 119 1 0 -2.8 4.9a2.8 1.8 119 1 0 2.8 -4.9zM74.3 435.9a2.5 1.7 23 1 0 4.6 2a2.5 1.7 23 1 0 -4.6 -2zM37.6 421.1a2.6 2 37 1 0 4.2 3.2a2.6 2 37 1 0 -4.2 -3.2zM87.3 470.4a2.3 1.5 11 1 0 4.5 0.9a2.3 1.5 11 1 0 -4.5 -0.9zM120.9 391.6a2.3 1.8 21 1 0 4.2 1.7a2.3 1.8 21 1 0 -4.2 -1.7zM87.8 421.8a2.8 2 79 1 0 1 5.4a2.8 2 79 1 0 -1 -5.4z"/>
<path fill="#4a39b8" d="M117.2 342.7a3 2.5 53 1 0 3.6 4.9a3 2.5 53 1 0 -3.6 -4.9zM84.4 347a4 2.8 108 1 0 -2.6 7.6a4 2.8 108 1 0 2.6 -7.6zM77.2 369.8a3.2 2.4 32 1 0 5.3 3.4a3.2 2.4 32 1 0 -5.3 -3.4zM83.5 377.8a2.8 2.2 175 1 0 -5.5 0.4a2.8 2.2 175 1 0 5.5 -0.4zM47.1 373.2a3.3 2.8 121 1 0 -3.4 5.5a3.3 2.8 121 1 0 3.4 -5.5zM105.5 375.4a3 2.2 176 1 0 -6.1 0.4a3 2.2 176 1 0 6.1 -0.4zM29.3 384.8a3.4 2.6 7 1 0 6.8 1a3.4 2.6 7 1 0 -6.8 -1zM71.7 382.6a3.4 2.6 92 1 0 -0.3 6.8a3.4 2.6 92 1 0 0.3 -6.8zM117.9 373.7a3.7 2.6 92 1 0 -0.4 7.5a3.7 2.6 92 1 0 0.4 -7.5zM171.1 379.2a3.5 2.6 136 1 0 -5 4.8a3.5 2.6 136 1 0 5 -4.8zM92.8 369.3a4.1 2.9 120 1 0 -4.1 7a4.1 2.9 120 1 0 4.1 -7zM144.3 334.1a3.2 2.3 54 1 0 3.7 5.2a3.2 2.3 54 1 0 -3.7 -5.2zM52.8 359.5a3.4 2.8 37 1 0 5.4 4.2a3.4 2.8 37 1 0 -5.4 -4.2zM149.5 368.4a4.3 3.1 122 1 0 -4.6 7.2a4.3 3.1 122 1 0 4.6 -7.2zM55.3 382.4a3.2 2.2 10 1 0 6.2 1.1a3.2 2.2 10 1 0 -6.2 -1.1zM71.1 341.2a3.9 2.9 40 1 0 5.8 5a3.9 2.9 40 1 0 -5.8 -5zM123.4 341.6a3.9 2.7 51 1 0 4.9 6.1a3.9 2.7 51 1 0 -4.9 -6.1zM38.7 379.2a3.3 2.5 103 1 0 -1.6 6.4a3.3 2.5 103 1 0 1.6 -6.4zM106.9 380a2.9 2.1 96 1 0 -0.6 5.7a2.9 2.1 96 1 0 0.6 -5.7zM156.1 387.7a2.5 2 109 1 0 -1.7 4.8a2.5 2 109 1 0 1.7 -4.8zM107.7 361.9a4.2 2.8 116 1 0 -3.7 7.5a4.2 2.8 116 1 0 3.7 -7.5zM128.4 362.9a4.2 2.5 120 1 0 -4.2 7.2a4.2 2.5 120 1 0 4.2 -7.2zM100.2 354a3.4 3.2 12 1 0 6.7 1.5a3.4 3.2 12 1 0 -6.7 -1.5zM134.4 376.7a2.9 2.3 121 1 0 -3.1 5a2.9 2.3 121 1 0 3.1 -5zM61.1 371a3.7 2.5 125 1 0 -4.3 6a3.7 2.5 125 1 0 4.3 -6zM160.6 377.3a3.4 2.3 23 1 0 6.2 2.7a3.4 2.3 23 1 0 -6.2 -2.7zM140.5 383.5a3.2 1.9 83 1 0 0.7 6.4a3.2 1.9 83 1 0 -0.7 -6.4zM166 359.2a3.3 2.5 158 1 0 -6.2 2.5a3.3 2.5 158 1 0 6.2 -2.5zM69.2 360.9a3.1 2.5 100 1 0 -1.2 6.2a3.1 2.5 100 1 0 1.2 -6.2zM118.3 369.8a3.4 2.6 154 1 0 -6.1 2.9a3.4 2.6 154 1 0 6.1 -2.9zM110.8 384.1a2.9 1.9 28 1 0 5.1 2.7a2.9 1.9 28 1 0 -5.1 -2.7zM93.6 338.4a3.8 2.9 127 1 0 -4.6 6.1a3.8 2.9 127 1 0 4.6 -6.1zM144.7 460.5a2.3 1.5 110 1 0 -1.6 4.2a2.3 1.5 110 1 0 1.6 -4.2zM109.1 407.1a2.5 1.7 101 1 0 -1 4.9a2.5 1.7 101 1 0 1 -4.9zM59.1 461.9a2.2 1.8 12 1 0 4.3 0.9a2.2 1.8 12 1 0 -4.3 -0.9zM131.1 464.6a2.4 1.7 141 1 0 -3.8 2.9a2.4 1.7 141 1 0 3.8 -2.9zM33.2 422.6a1.9 1.7 93 1 0 -0.2 3.8a1.9 1.7 93 1 0 0.2 -3.8zM164.8 461.3a2.5 1.9 149 1 0 -4.3 2.5a2.5 1.9 149 1 0 4.3 -2.5zM42.6 457.7a2.5 1.8 153 1 0 -4.5 2.2a2.5 1.8 153 1 0 4.5 -2.2zM74.6 389.6a2.6 2.1 106 1 0 -1.5 5a2.6 2.1 106 1 0 1.5 -5zM167.6 390a2.7 2.1 54 1 0 3.1 4.3a2.7 2.1 54 1 0 -3.1 -4.3zM84.9 438.8a2.2 1.6 144 1 0 -3.5 2.5a2.2 1.6 144 1 0 3.5 -2.5zM124.3 408.4a2.3 1.7 111 1 0 -1.7 4.2a2.3 1.7 111 1 0 1.7 -4.2zM116.8 406.1a2.2 1.5 113 1 0 -1.7 3.9a2.2 1.5 113 1 0 1.7 -3.9zM50.7 414.3a2.4 1.9 116 1 0 -2.1 4.3a2.4 1.9 116 1 0 2.1 -4.3zM140.3 444.2a2.4 1.7 45 1 0 3.4 3.4a2.4 1.7 45 1 0 -3.4 -3.4zM131.8 415.5a2.4 1.5 91 1 0 -0.2 4.9a2.4 1.5 91 1 0 0.2 -4.9zM72.6 437.1a2.2 1.5 87 1 0 0.2 4.4a2.2 1.5 87 1 0 -0.2 -4.4zM145 421a2.2 1.5 138 1 0 -3.2 2.9a2.2 1.5 138 1 0 3.2 -2.9zM103.8 455.5a2.5 1.7 100 1 0 -0.9 4.9a2.5 1.7 100 1 0 0.9 -4.9zM154.7 393.9a2.2 2 74 1 0 1.2 4.3a2.2 2 74 1 0 -1.2 -4.3zM153.7 399.8a2.6 2 140 1 0 -4 3.3a2.6 2 140 1 0 4 -3.3zM96.5 453.8a2.2 1.7 33 1 0 3.7 2.5a2.2 1.7 33 1 0 -3.7 -2.5zM131.2 423.6a2.4 1.7 171 1 0 -4.8 0.7a2.4 1.7 171 1 0 4.8 -0.7zM74.6 422.4a2 1.7 127 1 0 -2.5 3.2a2 1.7 127 1 0 2.5 -3.2zM163.7 439.3a2.1 1.6 84 1 0 0.4 4.1a2.1 1.6 84 1 0 -0.4 -4.1zM48.1 429a2.1 1.6 144 1 0 -3.4 2.5a2.1 1.6 144 1 0 3.4 -2.5zM101.6 411.1a2.6 1.9 5 1 0 5.1 0.5a2.6 1.9 5 1 0 -5.1 -0.5zM38.9 395.4a2.6 1.7 29 1 0 4.6 2.6a2.6 1.7 29 1 0 -4.6 -2.6zM90 438.4a2.5 1.8 165 1 0 -4.8 1.3a2.5 1.8 165 1 0 4.8 -1.3zM140.4 455a2 1.7 170 1 0 -4 0.7a2 1.7 170 1 0 4 -0.7zM82.6 401.9a2.3 1.7 35 1 0 3.7 2.6a2.3 1.7 35 1 0 -3.7 -2.6zM93.5 432.3a2 1.6 18 1 0 3.8 1.3a2 1.6 18 1 0 -3.8 -1.3zM67.4 462.7a2.1 1.9 15 1 0 4.1 1.1a2.1 1.9 15 1 0 -4.1 -1.1zM53.9 396.1a2.5 1.8 140 1 0 -3.8 3.1a2.5 1.8 140 1 0 3.8 -3.1zM122 417.2a2.4 1.8 125 1 0 -2.7 3.9a2.4 1.8 125 1 0 2.7 -3.9zM44.3 470.4a2.7 1.9 4 1 0 5.4 0.4a2.7 1.9 4 1 0 -5.4 -0.4zM108.7 462.5a2.4 1.7 69 1 0 1.7 4.6a2.4 1.7 69 1 0 -1.7 -4.6zM136 395.3a2.5 1.8 7 1 0 5 0.7a2.5 1.8 7 1 0 -5 -0.7zM44.5 402.9a2.4 1.6 145 1 0 -3.9 2.7a2.4 1.6 145 1 0 3.9 -2.7zM78.7 399.1a2.5 1.9 18 1 0 4.8 1.6a2.5 1.9 18 1 0 -4.8 -1.6zM151.7 433.9a2 1.4 174 1 0 -4 0.4a2 1.4 174 1 0 4 -0.4zM122.5 424.6a2.6 1.8 136 1 0 -3.8 3.5a2.6 1.8 136 1 0 3.8 -3.5zM103.5 447.6a2.2 1.9 1 1 0 4.3 0.1a2.2 1.9 1 1 0 -4.3 -0.1zM101.6 420.8a2.2 1.8 41 1 0 3.3 2.9a2.2 1.8 41 1 0 -3.3 -2.9zM37.2 453.7a2.2 1.7 33 1 0 3.6 2.4a2.2 1.7 33 1 0 -3.6 -2.4zM50 461.4a2.4 1.7 55 1 0 2.7 4a2.4 1.7 55 1 0 -2.7 -4zM72.9 412.2a2.1 1.9 171 1 0 -4.2 0.7a2.1 1.9 171 1 0 4.2 -0.7zM76 466a2.3 2 69 1 0 1.6 4.4a2.3 2 69 1 0 -1.6 -4.4zM115.8 468.9a2.2 1.7 59 1 0 2.3 3.9a2.2 1.7 59 1 0 -2.3 -3.9zM144.3 391a2.5 2 117 1 0 -2.3 4.4a2.5 2 117 1 0 2.3 -4.4zM150.6 407a2.4 1.8 173 1 0 -4.8 0.6a2.4 1.8 173 1 0 4.8 -0.6zM52 432.1a2.1 1.5 72 1 0 1.3 4.1a2.1 1.5 72 1 0 -1.3 -4.1zM85.4 457.3a2.3 1.4 24 1 0 4.1 1.9a2.3 1.4 24 1 0 -4.1 -1.9zM126.1 442.6a2.4 1.7 81 1 0 0.7 4.7a2.4 1.7 81 1 0 -0.7 -4.7zM129.5 413.8a2.1 1.8 126 1 0 -2.5 3.4a2.1 1.8 126 1 0 2.5 -3.4zM93.8 467.9a2.2 1.6 61 1 0 2.1 3.8a2.2 1.6 61 1 0 -2.1 -3.8zM161.2 400.2a2.6 1.7 71 1 0 1.6 4.9a2.6 1.7 71 1 0 -1.6 -4.9zM132.5 446.3a2.3 1.8 100 1 0 -0.8 4.5a2.3 1.8 100 1 0 0.8 -4.5zM64 447.1a2.3 1.7 136 1 0 -3.3 3.1a2.3 1.7 136 1 0 3.3 -3.1zM106.5 400.5a2.8 1.8 20 1 0 5.2 1.9a2.8 1.8 20 1 0 -5.2 -1.9zM46.5 437.1a2.4 1.9 85 1 0 0.4 4.8a2.4 1.9 85 1 0 -0.4 -4.8zM66.5 466.4a2.2 1.7 27 1 0 3.9 2a2.2 1.7 27 1 0 -3.9 -2zM92.9 451.8a2.3 2 44 1 0 3.3 3.2a2.3 2 44 1 0 -3.3 -3.2zM51.7 467.5a1.9 1.7 35 1 0 3.1 2.2a1.9 1.7 35 1 0 -3.1 -2.2zM155.3 444a2.3 1.6 31 1 0 4 2.5a2.3 1.6 31 1 0 -4 -2.5zM149 441.8a2.6 1.7 3 1 0 5.1 0.3a2.6 1.7 3 1 0 -5.1 -0.3zM61.3 414.3a2.3 1.8 168 1 0 -4.6 0.9a2.3 1.8 168 1 0 4.6 -0.9zM137.1 467.2a2.3 1.8 129 1 0 -2.9 3.5a2.3 1.8 129 1 0 2.9 -3.5zM35.8 456.6a2 1.7 125 1 0 -2.3 3.2a2 1.7 125 1 0 2.3 -3.2zM42.8 455.1a2.4 1.8 36 1 0 3.9 2.9a2.4 1.8 36 1 0 -3.9 -2.9zM130 454.1a2 1.5 74 1 0 1.1 3.9a2 1.5 74 1 0 -1.1 -3.9zM120 445.4a2.4 1.7 41 1 0 3.5 3.1a2.4 1.7 41 1 0 -3.5 -3.1zM141.6 463.6a2.4 1.5 106 1 0 -1.4 4.6a2.4 1.5 106 1 0 1.4 -4.6zM164.9 413.7a2.3 1.7 87 1 0 0.2 4.5a2.3 1.7 87 1 0 -0.2 -4.5zM159.8 423.5a2 1.7 17 1 0 3.9 1.2a2 1.7 17 1 0 -3.9 -1.2zM48.5 429.2a2.4 1.6 27 1 0 4.3 2.3a2.4 1.6 27 1 0 -4.3 -2.3zM41 460.5a2.5 1.9 63 1 0 2.2 4.4a2.5 1.9 63 1 0 -2.2 -4.4zM104.9 458.9a2.8 1.8 59 1 0 2.8 4.8a2.8 1.8 59 1 0 -2.8 -4.8zM133 402.5a2 1.5 104 1 0 -1 3.8a2 1.5 104 1 0 1 -3.8zM144.8 413.7a1.9 1.6 19 1 0 3.6 1.2a1.9 1.6 19 1 0 -3.6 -1.2zM44.9 431a2.7 1.9 122 1 0 -2.9 4.6a2.7 1.9 122 1 0 2.9 -4.6zM108.3 450.9a2 1.4 82 1 0 0.5 4a2 1.4 82 1 0 -0.5 -4zM36.6 448.7a2.5 1.7 57 1 0 2.7 4.2a2.5 1.7 57 1 0 -2.7 -4.2zM117.4 402.4a2.8 1.8 151 1 0 -4.9 2.7a2.8 1.8 151 1 0 4.9 -2.7zM82.9 391.4a2.6 1.8 154 1 0 -4.7 2.2a2.6 1.8 154 1 0 4.7 -2.2zM65.2 401.2a2.3 1.4 7 1 0 4.6 0.6a2.3 1.4 7 1 0 -4.6 -0.6zM36.9 446.5a2.8 2 148 1 0 -4.7 2.9a2.8 2 148 1 0 4.7 -2.9zM150.7 429.6a2.7 2 14 1 0 5.1 1.4a2.7 2 14 1 0 -5.1 -1.4zM127.2 428.3a2.3 1.6 160 1 0 -4.4 1.6a2.3 1.6 160 1 0 4.4 -1.6zM93.5 460.9a2.4 1.6 80 1 0 0.8 4.7a2.4 1.6 80 1 0 -0.8 -4.7zM133.7 414.8a2 1.4 32 1 0 3.4 2.2a2 1.4 32 1 0 -3.4 -2.2zM98.1 421.5a2.1 1.5 67 1 0 1.6 3.9a2.1 1.5 67 1 0 -1.6 -3.9zM48.8 459.8a2.4 1.6 148 1 0 -4 2.4a2.4 1.6 148 1 0 4 -2.4zM59.9 450.5a2.6 1.8 60 1 0 2.5 4.5a2.6 1.8 60 1 0 -2.5 -4.5zM127.4 440.9a2.5 1.8 176 1 0 -4.9 0.3a2.5 1.8 176 1 0 4.9 -0.3zM80 414.3a2.2 1.8 120 1 0 -2.2 3.8a2.2 1.8 120 1 0 2.2 -3.8z"/>
<path fill="#352896" d="M97.2 359.2a3.4 2.4 72 1 0 2 6.5a3.4 2.4 72 1 0 -2 -6.5zM37.8 357.3a3.5 2.6 167 1 0 -6.8 1.5a3.5 2.6 167 1 0 6.8 -1.5zM166 328.2a3.6 2.6 33 1 0 6 3.9a3.6 2.6 33 1 0 -6 -3.9zM107 368.8a3.6 2.4 58 1 0 3.8 6.2a3.6 2.4 58 1 0 -3.8 -6.2zM39.8 347.3a3.8 3.1 15 1 0 7.4 2.1a3.8 3.1 15 1 0 -7.4 -2.1zM86.9 358.4a3.6 2.8 46 1 0 5 5.3a3.6 2.8 46 1 0 -5 -5.3zM98.8 386a2.9 2.1 147 1 0 -5 3.2a2.9 2.1 147 1 0 5 -3.2zM41.4 365.9a3.7 3 3 1 0 7.3 0.5a3.7 3 3 1 0 -7.3 -0.5zM128.1 385.8a2.9 2 144 1 0 -4.7 3.3a2.9 2 144 1 0 4.7 -3.3zM99.9 379.6a3 2.2 137 1 0 -4.4 4.1a3 2.2 137 1 0 4.4 -4.1zM68 367.8a3.9 2.3 163 1 0 -7.6 2.2a3.9 2.3 163 1 0 7.6 -2.2zM154.8 354.1a3.2 2.2 159 1 0 -6 2.2a3.2 2.2 159 1 0 6 -2.2zM50.6 381.1a2.9 2 172 1 0 -5.7 0.7a2.9 2 172 1 0 5.7 -0.7zM102.1 343.9a3.6 2.7 39 1 0 5.6 4.5a3.6 2.7 39 1 0 -5.6 -4.5zM138.4 381.1a3.5 2.4 129 1 0 -4.4 5.4a3.5 2.4 129 1 0 4.4 -5.4zM69.3 353.1a3.4 2.8 53 1 0 4.1 5.5a3.4 2.8 53 1 0 -4.1 -5.5zM79.2 381.7a2.9 2 173 1 0 -5.8 0.6a2.9 2 173 1 0 5.8 -0.6zM39.9 384.3a3.2 1.9 95 1 0 -0.6 6.4a3.2 1.9 95 1 0 0.6 -6.4zM136.8 376.8a3.7 2.5 35 1 0 6 4.3a3.7 2.5 35 1 0 -6 -4.3zM107.7 332.9a3.2 2.4 149 1 0 -5.5 3.3a3.2 2.4 149 1 0 5.5 -3.3zM55 376.5a3.2 2.8 163 1 0 -6.2 1.8a3.2 2.8 163 1 0 6.2 -1.8zM162 342.9a3.4 2.5 0 1 0 6.7 0a3.4 2.5 0 1 0 -6.7 0zM126.6 356.2a3.1 2.4 38 1 0 4.9 3.9a3.1 2.4 38 1 0 -4.9 -3.9zM152.9 377.9a3.2 2.6 149 1 0 -5.6 3.3a3.2 2.6 149 1 0 5.6 -3.3zM171.1 341.7a4.1 2.8 75 1 0 2 8a4.1 2.8 75 1 0 -2 -8zM162.6 381.8a3 2.5 82 1 0 0.8 5.9a3 2.5 82 1 0 -0.8 -5.9zM34.7 341.2a3.6 2.3 126 1 0 -4.2 5.8a3.6 2.3 126 1 0 4.2 -5.8zM172.8 357.3a3.6 2.6 135 1 0 -5 5a3.6 2.6 135 1 0 5 -5zM124.9 381.8a3.2 2.4 14 1 0 6.2 1.7a3.2 2.4 14 1 0 -6.2 -1.7zM118.7 336.1a3.4 3.1 51 1 0 4.2 5.4a3.4 3.1 51 1 0 -4.2 -5.4zM92.3 385.3a2.9 2.1 137 1 0 -4.3 4a2.9 2.1 137 1 0 4.3 -4zM34 375.1a4.1 2.7 12 1 0 8 1.8a4.1 2.7 12 1 0 -8 -1.8zM77.7 383.6a3.4 2.5 28 1 0 5.9 3.2a3.4 2.5 28 1 0 -5.9 -3.2zM83.4 366.2a4 2.8 18 1 0 7.6 2.5a4 2.8 18 1 0 -7.6 -2.5zM34.7 361.2a3.7 3 68 1 0 2.7 6.9a3.7 3 68 1 0 -2.7 -6.9zM29.3 377.5a3.4 2.6 15 1 0 6.6 1.8a3.4 2.6 15 1 0 -6.6 -1.8zM80.8 331.8a3.5 2.4 63 1 0 3.1 6.3a3.5 2.4 63 1 0 -3.1 -6.3zM155.8 337.4a3.7 3 148 1 0 -6.3 3.9a3.7 3 148 1 0 6.3 -3.9zM121.8 432.6a2.3 1.7 150 1 0 -4 2.3a2.3 1.7 150 1 0 4 -2.3zM69.8 457.8a2.2 1.6 30 1 0 3.7 2.2a2.2 1.6 30 1 0 -3.7 -2.2zM168 451.4a2.3 1.6 28 1 0 4.1 2.2a2.3 1.6 28 1 0 -4.1 -2.2zM74.2 463.1a2.6 1.7 117 1 0 -2.4 4.6a2.6 1.7 117 1 0 2.4 -4.6zM107.6 422.6a1.9 1.7 75 1 0 1 3.8a1.9 1.7 75 1 0 -1 -3.8zM73.5 412a2.1 1.5 54 1 0 2.4 3.4a2.1 1.5 54 1 0 -2.4 -3.4zM74.8 394.2a2.8 2.3 44 1 0 4.1 3.9a2.8 2.3 44 1 0 -4.1 -3.9zM34.6 438.1a2.3 1.8 77 1 0 1 4.5a2.3 1.8 77 1 0 -1 -4.5zM45.3 433.4a2.7 1.9 27 1 0 4.8 2.4a2.7 1.9 27 1 0 -4.8 -2.4zM168.3 402.8a2.5 1.6 20 1 0 4.7 1.8a2.5 1.6 20 1 0 -4.7 -1.8zM122 438.4a2.3 1.5 122 1 0 -2.5 3.9a2.3 1.5 122 1 0 2.5 -3.9zM85.3 466.7a2.6 2.1 88 1 0 0.2 5.1a2.6 2.1 88 1 0 -0.2 -5.1zM96.5 442.5a2.2 1.8 65 1 0 1.8 4a2.2 1.8 65 1 0 -1.8 -4zM83.8 447.3a2.4 1.4 157 1 0 -4.5 1.9a2.4 1.4 157 1 0 4.5 -1.9zM156.7 426a2.4 1.7 179 1 0 -4.8 0.1a2.4 1.7 179 1 0 4.8 -0.1zM103.7 401.2a2.4 1.8 54 1 0 2.8 3.9a2.4 1.8 54 1 0 -2.8 -3.9zM165.6 394.4a2.2 1.7 147 1 0 -3.7 2.4a2.2 1.7 147 1 0 3.7 -2.4zM130.8 428.6a2.5 1.7 127 1 0 -3 3.9a2.5 1.7 127 1 0 3 -3.9zM91.9 420.2a2.5 1.8 6 1 0 4.9 0.6a2.5 1.8 6 1 0 -4.9 -0.6zM65.3 455.2a1.9 1.8 72 1 0 1.2 3.6a1.9 1.8 72 1 0 -1.2 -3.6zM144.1 419.2a2.3 1.8 6 1 0 4.5 0.5a2.3 1.8 6 1 0 -4.5 -0.5zM168 397.2a2.1 1.6 33 1 0 3.6 2.3a2.1 1.6 33 1 0 -3.6 -2.3zM98.4 458.3a2.2 1.4 163 1 0 -4.2 1.2a2.2 1.4 163 1 0 4.2 -1.2zM91.1 407.6a2.5 1.7 58 1 0 2.7 4.3a2.5 1.7 58 1 0 -2.7 -4.3zM100.3 403.7a2.4 1.7 108 1 0 -1.5 4.6a2.4 1.7 108 1 0 1.5 -4.6zM168.1 469.2a2.1 1.5 46 1 0 2.9 3a2.1 1.5 46 1 0 -2.9 -3zM38.6 426.2a2.1 1.7 32 1 0 3.6 2.3a2.1 1.7 32 1 0 -3.6 -2.3zM75.6 440.9a2.3 1.5 16 1 0 4.4 1.3a2.3 1.5 16 1 0 -4.4 -1.3zM63.1 395.1a2.7 2.2 25 1 0 4.9 2.4a2.7 2.2 25 1 0 -4.9 -2.4zM135 427.7a2.6 1.7 89 1 0 0 5.3a2.6 1.7 89 1 0 0 -5.3zM41.4 436.8a2.3 1.6 97 1 0 -0.6 4.6a2.3 1.6 97 1 0 0.6 -4.6zM138.1 404.3a2.7 1.7 95 1 0 -0.5 5.3a2.7 1.7 95 1 0 0.5 -5.3zM160.2 420a2.5 1.7 153 1 0 -4.4 2.2a2.5 1.7 153 1 0 4.4 -2.2zM70.8 441.3a2.7 1.7 106 1 0 -1.5 5.2a2.7 1.7 106 1 0 1.5 -5.2zM150.7 463.2a2.2 1.6 9 1 0 4.3 0.7a2.2 1.6 9 1 0 -4.3 -0.7zM167.9 446.3a2.7 1.6 35 1 0 4.4 3.2a2.7 1.6 35 1 0 -4.4 -3.2zM126.1 450.4a2.2 1.8 21 1 0 4.1 1.6a2.2 1.8 21 1 0 -4.1 -1.6zM101.6 427.4a2.5 1.8 160 1 0 -4.8 1.7a2.5 1.8 160 1 0 4.8 -1.7zM129.9 401.9a2.3 1.9 175 1 0 -4.5 0.4a2.3 1.9 175 1 0 4.5 -0.4zM128.9 404.1a2.5 1.6 88 1 0 0.1 5a2.5 1.6 88 1 0 -0.1 -5zM39.3 407a2.5 1.6 34 1 0 4.1 2.9a2.5 1.6 34 1 0 -4.1 -2.9zM148.2 451.2a2.3 1.7 77 1 0 1 4.4a2.3 1.7 77 1 0 -1 -4.4zM77.3 447a2.3 1.6 94 1 0 -0.4 4.6a2.3 1.6 94 1 0 0.4 -4.6zM137.5 444.1a1.9 1.6 168 1 0 -3.8 0.8a1.9 1.6 168 1 0 3.8 -0.8zM101 463.5a2.3 1.5 66 1 0 1.8 4.1a2.3 1.5 66 1 0 -1.8 -4.1zM95.8 392.7a2.5 2 120 1 0 -2.5 4.2a2.5 2 120 1 0 2.5 -4.2zM54.2 391.6a2.4 2.2 30 1 0 4.1 2.4a2.4 2.2 30 1 0 -4.1 -2.4zM84.9 393.2a2.5 2 105 1 0 -1.4 4.9a2.5 2 105 1 0 1.4 -4.9zM93.5 399.2a2.3 1.7 172 1 0 -4.5 0.6a2.3 1.7 172 1 0 4.5 -0.6zM125 458a2.3 1.8 110 1 0 -1.6 4.2a2.3 1.8 110 1 0 1.6 -4.2zM156.2 428.8a2.2 1.8 57 1 0 2.4 3.7a2.2 1.8 57 1 0 -2.4 -3.7zM148 401.5a2.5 1.9 141 1 0 -3.9 3.1a2.5 1.9 141 1 0 3.9 -3.1zM115.6 398.5a2.8 1.9 171 1 0 -5.5 0.8a2.8 1.9 171 1 0 5.5 -0.8zM53.4 426.5a2.3 1.4 26 1 0 4.1 2.1a2.3 1.4 26 1 0 -4.1 -2.1zM122.4 394.7a2.6 1.8 99 1 0 -0.9 5.2a2.6 1.8 99 1 0 0.9 -5.2zM92.6 424.7a2.4 1.9 24 1 0 4.3 2a2.4 1.9 24 1 0 -4.3 -2zM47 412a2.4 1.7 119 1 0 -2.4 4.2a2.4 1.7 119 1 0 2.4 -4.2zM149.6 447.5a2.4 1.5 15 1 0 4.7 1.3a2.4 1.5 15 1 0 -4.7 -1.3zM121.9 404.1a1.9 1.6 14 1 0 3.7 1a1.9 1.6 14 1 0 -3.7 -1zM159 409.4a2 1.5 158 1 0 -3.7 1.4a2 1.5 158 1 0 3.7 -1.4zM65.7 418.5a2.3 1.8 169 1 0 -4.5 0.9a2.3 1.8 169 1 0 4.5 -0.9zM168.5 419.1a2.6 1.8 68 1 0 1.9 4.9a2.6 1.8 68 1 0 -1.9 -4.9zM81.2 433a2.1 1.9 75 1 0 1.1 4.1a2.1 1.9 75 1 0 -1.1 -4.1zM61.9 456.8a2.5 2.1 171 1 0 -5 0.7a2.5 2.1 171 1 0 5 -0.7zM64.2 412.2a2.6 1.8 107 1 0 -1.5 5a2.6 1.8 107 1 0 1.5 -5zM168.6 411.5a2.2 1.4 168 1 0 -4.3 0.9a2.2 1.4 168 1 0 4.3 -0.9zM159.2 462.2a2.6 1.9 130 1 0 -3.4 3.9a2.6 1.9 130 1 0 3.4 -3.9zM94.5 439.8a2.4 1.6 112 1 0 -1.8 4.4a2.4 1.6 112 1 0 1.8 -4.4zM138 437.9a2 1.6 48 1 0 2.7 3a2 1.6 48 1 0 -2.7 -3zM78.4 403a2.2 1.6 91 1 0 -0.1 4.3a2.2 1.6 91 1 0 0.1 -4.3zM88.9 443.6a2.8 1.9 135 1 0 -4 4a2.8 1.9 135 1 0 4 -4zM148.9 446.9a2.3 2 178 1 0 -4.5 0.1a2.3 2 178 1 0 4.5 -0.1zM49.6 457.2a2.4 1.7 13 1 0 4.8 1.1a2.4 1.7 13 1 0 -4.8 -1.1zM165.9 408.2a2.8 1.9 163 1 0 -5.3 1.6a2.8 1.9 163 1 0 5.3 -1.6zM136.8 418.8a2.2 1.9 13 1 0 4.4 1a2.2 1.9 13 1 0 -4.4 -1zM142 403.9a2.7 1.8 78 1 0 1.1 5.2a2.7 1.8 78 1 0 -1.1 -5.2zM155.6 433.8a2.2 1.5 39 1 0 3.3 2.8a2.2 1.5 39 1 0 -3.3 -2.8zM90.5 413a2.3 1.9 166 1 0 -4.4 1.1a2.3 1.9 166 1 0 4.4 -1.1zM72.7 449.5a2.2 1.8 102 1 0 -1 4.4a2.2 1.8 102 1 0 1 -4.4zM64.4 450.5a1.9 1.7 33 1 0 3.2 2.1a1.9 1.7 33 1 0 -3.2 -2.1zM106.3 414.8a2.5 1.6 149 1 0 -4.2 2.5a2.5 1.6 149 1 0 4.2 -2.5zM58.4 451a2.2 1.5 141 1 0 -3.4 2.7a2.2 1.5 141 1 0 3.4 -2.7zM124.3 468.2a2.2 1.8 101 1 0 -0.9 4.4a2.2 1.8 101 1 0 0.9 -4.4zM160.1 415.3a2.1 1.4 69 1 0 1.5 4a2.1 1.4 69 1 0 -1.5 -4zM105.9 450.8a2.4 1.9 132 1 0 -3.2 3.6a2.4 1.9 132 1 0 3.2 -3.6zM50.4 440.4a2.1 1.4 111 1 0 -1.6 4a2.1 1.4 111 1 0 1.6 -4zM122.9 413.2a2.3 1.8 67 1 0 1.7 4.2a2.3 1.8 67 1 0 -1.7 -4.2zM61.1 407a2.5 1.8 168 1 0 -4.8 1a2.5 1.8 168 1 0 4.8 -1zM128.8 459.6a2.3 1.7 88 1 0 0.1 4.7a2.3 1.7 88 1 0 -0.1 -4.7zM145.7 468.2a2.2 1.9 40 1 0 3.3 2.8a2.2 1.9 40 1 0 -3.3 -2.8zM139.4 430.1a2.3 1.6 43 1 0 3.3 3.1a2.3 1.6 43 1 0 -3.3 -3.1zM146.7 439.2a2.4 1.8 73 1 0 1.4 4.7a2.4 1.8 73 1 0 -1.4 -4.7zM142.1 460.9a2.2 1.7 167 1 0 -4.4 1a2.2 1.7 167 1 0 4.4 -1zM61.9 427.1a2.4 1.8 165 1 0 -4.7 1.2a2.4 1.8 165 1 0 4.7 -1.2zM128.8 408.7a2.5 1.7 119 1 0 -2.4 4.3a2.5 1.7 119 1 0 2.4 -4.3zM127.5 434.2a2.1 1.5 15 1 0 4 1.1a2.1 1.5 15 1 0 -4 -1.1zM120.8 404.4a2.2 1.8 119 1 0 -2.1 3.8a2.2 1.8 119 1 0 2.1 -3.8zM86.2 446.9a2.7 1.8 87 1 0 0.3 5.5a2.7 1.8 87 1 0 -0.3 -5.5zM35.7 415.5a2.1 1.6 166 1 0 -4.1 1a2.1 1.6 166 1 0 4.1 -1zM74.4 460.9a2.3 1.7 29 1 0 3.9 2.2a2.3 1.7 29 1 0 -3.9 -2.2zM67.2 446.4a2.5 1.8 46 1 0 3.4 3.6a2.5 1.8 46 1 0 -3.4 -3.6zM35.6 470.3a2.4 2 169 1 0 -4.7 0.9a2.4 2 169 1 0 4.7 -0.9zM95.4 397.7a2.5 1.9 38 1 0 3.9 3.1a2.5 1.9 38 1 0 -3.9 -3.1zM65 400.7a2.3 1.8 144 1 0 -3.7 2.6a2.3 1.8 144 1 0 3.7 -2.6zM143.3 395.9a2.8 2 111 1 0 -2 5.2a2.8 2 111 1 0 2 -5.2zM166.4 404.4a2.2 1.7 63 1 0 2 3.9a2.2 1.7 63 1 0 -2 -3.9zM60.1 446.8a2.5 1.9 157 1 0 -4.7 1.9a2.5 1.9 157 1 0 4.7 -1.9zM133.2 443.7a1.9 1.6 163 1 0 -3.6 1.1a1.9 1.6 163 1 0 3.6 -1.1z"/>
<path fill="#48b848" d="M96.7 334.8a0.8 0.4 100 1 0 -0.3 1.6a0.8 0.4 100 1 0 0.3 -1.6zM102.5 350.7a0.7 0.6 82 1 0 0.2 1.4a0.7 0.6 82 1 0 -0.2 -1.4zM102.4 332.9a0.7 0.7 47 1 0 0.9 1a0.7 0.7 47 1 0 -0.9 -1zM104.5 351.1a0.7 0.7 29 1 0 1.3 0.7a0.7 0.7 29 1 0 -1.3 -0.7zM101.5 331.1a0.7 0.8 32 1 0 1.1 0.7a0.7 0.8 32 1 0 -1.1 -0.7zM96.4 332.4a0.6 0.7 67 1 0 0.4 1.1a0.6 0.7 67 1 0 -0.4 -1.1zM91.9 347.8a0.7 0.8 97 1 0 -0.2 1.4a0.7 0.8 97 1 0 0.2 -1.4zM104.2 339.4a0.9 0.6 125 1 0 -1 1.4a0.9 0.6 125 1 0 1 -1.4zM111.9 355.9a0.6 0.5 19 1 0 1.1 0.4a0.6 0.5 19 1 0 -1.1 -0.4zM102.7 335.7a0.7 0.6 0 1 0 1.3 0a0.7 0.6 0 1 0 -1.3 0zM105.2 334.3a0.9 0.7 104 1 0 -0.4 1.7a0.9 0.7 104 1 0 0.4 -1.7zM96.5 349.8a0.9 0.6 36 1 0 1.4 1a0.9 0.6 36 1 0 -1.4 -1zM112.2 335.6a1.1 0.8 146 1 0 -1.8 1.2a1.1 0.8 146 1 0 1.8 -1.2zM103.9 332a0.6 0.6 20 1 0 1.2 0.5a0.6 0.6 20 1 0 -1.2 -0.5zM101.5 333.4a0.9 0.6 57 1 0 1 1.5a0.9 0.6 57 1 0 -1 -1.5zM100.2 345.1a1 0.7 111 1 0 -0.8 1.9a1 0.7 111 1 0 0.8 -1.9zM93.2 332a1 0.6 36 1 0 1.7 1.2a1 0.6 36 1 0 -1.7 -1.2zM107.6 340.5a1.1 0.7 15 1 0 2.1 0.6a1.1 0.7 15 1 0 -2.1 -0.6zM108.3 331.9a1.1 0.4 100 1 0 -0.4 2.2a1.1 0.4 100 1 0 0.4 -2.2zM98.6 351.4a0.6 0.5 177 1 0 -1.1 0a0.6 0.5 177 1 0 1.1 0zM106.2 342.2a0.6 0.6 110 1 0 -0.4 1.1a0.6 0.6 110 1 0 0.4 -1.1zM106.4 347.1a0.8 0.5 56 1 0 0.8 1.3a0.8 0.5 56 1 0 -0.8 -1.3zM102.8 332.8a0.8 0.7 89 1 0 0 1.5a0.8 0.7 89 1 0 0 -1.5zM104.4 331.5a1 0.7 111 1 0 -0.8 1.9a1 0.7 111 1 0 0.8 -1.9zM109.6 339.3a0.7 0.4 93 1 0 -0.1 1.5a0.7 0.4 93 1 0 0.1 -1.5zM106 345.7a0.7 0.8 159 1 0 -1.3 0.5a0.7 0.8 159 1 0 1.3 -0.5zM99.8 350a1.1 0.5 147 1 0 -1.8 1.2a1.1 0.5 147 1 0 1.8 -1.2zM99.1 361.5a0.7 0.5 155 1 0 -1.3 0.6a0.7 0.5 155 1 0 1.3 -0.6zM104 332.5a0.5 0.7 115 1 0 -0.5 0.9a0.5 0.7 115 1 0 0.5 -0.9zM96.7 331.4a0.7 0.8 62 1 0 0.7 1.3a0.7 0.8 62 1 0 -0.7 -1.3zM102.8 346.9a0.6 0.5 8 1 0 1.2 0.2a0.6 0.5 8 1 0 -1.2 -0.2zM106.5 337.1a0.9 0.6 123 1 0 -1 1.5a0.9 0.6 123 1 0 1 -1.5zM103.2 337.5a1 0.6 86 1 0 0.1 2a1 0.6 86 1 0 -0.1 -2zM104.6 334.4a0.9 0.7 109 1 0 -0.6 1.7a0.9 0.7 109 1 0 0.6 -1.7zM96.9 340.5a0.5 0.6 128 1 0 -0.6 0.8a0.5 0.6 128 1 0 0.6 -0.8zM106.6 341a1.1 0.6 28 1 0 1.9 1a1.1 0.6 28 1 0 -1.9 -1zM112 349.3a0.5 0.6 135 1 0 -0.7 0.7a0.5 0.6 135 1 0 0.7 -0.7zM106.7 347.2a1.1 0.5 152 1 0 -1.9 1a1.1 0.5 152 1 0 1.9 -1zM104.1 333.9a0.9 0.5 157 1 0 -1.7 0.7a0.9 0.5 157 1 0 1.7 -0.7zM108.3 339.2a0.6 0.4 117 1 0 -0.5 1.1a0.6 0.4 117 1 0 0.5 -1.1zM104.2 342.3a1 0.4 140 1 0 -1.6 1.3a1 0.4 140 1 0 1.6 -1.3zM111.4 350.6a0.8 0.6 141 1 0 -1.3 1a0.8 0.6 141 1 0 1.3 -1zM113.3 362.6a1.1 0.7 164 1 0 -2.1 0.6a1.1 0.7 164 1 0 2.1 -0.6zM102.8 343.1a0.6 0.8 134 1 0 -0.8 0.8a0.6 0.8 134 1 0 0.8 -0.8zM95.2 330.1a1 0.5 120 1 0 -1 1.7a1 0.5 120 1 0 1 -1.7zM104.5 331.9a1.1 0.4 131 1 0 -1.4 1.6a1.1 0.4 131 1 0 1.4 -1.6zM106.4 349.6a1 0.5 138 1 0 -1.5 1.3a1 0.5 138 1 0 1.5 -1.3zM96.2 345.2a0.7 0.5 116 1 0 -0.6 1.2a0.7 0.5 116 1 0 0.6 -1.2zM108.1 333.7a0.6 0.6 65 1 0 0.5 1.1a0.6 0.6 65 1 0 -0.5 -1.1zM96.1 338.3a1 0.5 141 1 0 -1.6 1.3a1 0.5 141 1 0 1.6 -1.3zM102.5 346.7a0.5 0.7 131 1 0 -0.7 0.8a0.5 0.7 131 1 0 0.7 -0.8zM106.6 346.5a0.7 0.8 32 1 0 1.1 0.7a0.7 0.8 32 1 0 -1.1 -0.7zM102.8 360.6a0.7 0.6 22 1 0 1.3 0.5a0.7 0.6 22 1 0 -1.3 -0.5zM101.2 356.9a1.1 0.4 95 1 0 -0.2 2.2a1.1 0.4 95 1 0 0.2 -2.2zM103.5 337.7a1 0.7 168 1 0 -1.9 0.4a1 0.7 168 1 0 1.9 -0.4zM98.8 341.6a1 0.4 169 1 0 -1.9 0.3a1 0.4 169 1 0 1.9 -0.3zM106.8 331.5a1.1 0.8 19 1 0 2 0.7a1.1 0.8 19 1 0 -2 -0.7zM104.9 348.4a0.9 0.6 139 1 0 -1.3 1.1a0.9 0.6 139 1 0 1.3 -1.1zM100.9 333.1a1 0.7 91 1 0 0 2.1a1 0.7 91 1 0 0 -2.1zM103.1 335.6a0.9 0.5 62 1 0 0.8 1.5a0.9 0.5 62 1 0 -0.8 -1.5zM101 351.7a0.5 0.7 148 1 0 -0.9 0.5a0.5 0.7 148 1 0 0.9 -0.5zM105.7 333a0.7 0.6 139 1 0 -1 0.9a0.7 0.6 139 1 0 1 -0.9zM107.6 331.7a0.7 0.4 39 1 0 1.1 0.9a0.7 0.4 39 1 0 -1.1 -0.9zM107.4 332.6a1.1 0.7 178 1 0 -2.1 0.1a1.1 0.7 178 1 0 2.1 -0.1zM97.3 337.5a0.6 0.7 28 1 0 1 0.5a0.6 0.7 28 1 0 -1 -0.5zM106.7 333.3a1.1 0.6 58 1 0 1.1 1.8a1.1 0.6 58 1 0 -1.1 -1.8zM94.8 332.3a0.5 0.5 14 1 0 1 0.2a0.5 0.5 14 1 0 -1 -0.2zM97.1 344a0.6 0.6 39 1 0 0.9 0.8a0.6 0.6 39 1 0 -0.9 -0.8zM100.5 338a0.5 0.7 41 1 0 0.8 0.7a0.5 0.7 41 1 0 -0.8 -0.7zM93.7 339.2a1.1 0.5 1 1 0 2.2 0.1a1.1 0.5 1 1 0 -2.2 -0.1zM98.6 333.9a1.1 0.6 88 1 0 0.1 2.1a1.1 0.6 88 1 0 -0.1 -2.1zM108.6 332a0.9 0.7 78 1 0 0.3 1.7a0.9 0.7 78 1 0 -0.3 -1.7zM100.9 345.6a0.5 0.7 44 1 0 0.8 0.8a0.5 0.7 44 1 0 -0.8 -0.8zM94.8 346.9a0.5 0.4 55 1 0 0.6 0.9a0.5 0.4 55 1 0 -0.6 -0.9zM108.6 334.3a1.1 0.5 31 1 0 1.8 1.1a1.1 0.5 31 1 0 -1.8 -1.1zM93 333.2a0.8 0.8 174 1 0 -1.5 0.1a0.8 0.8 174 1 0 1.5 -0.1zM109.6 347.4a1 0.6 123 1 0 -1.1 1.7a1 0.6 123 1 0 1.1 -1.7zM106.3 336.9a1.1 0.5 136 1 0 -1.6 1.5a1.1 0.5 136 1 0 1.6 -1.5zM108.4 334.3a0.9 0.7 42 1 0 1.3 1.3a0.9 0.7 42 1 0 -1.3 -1.3zM113.2 347.2a0.8 0.4 33 1 0 1.3 0.8a0.8 0.4 33 1 0 -1.3 -0.8zM112 346a0.8 0.7 118 1 0 -0.8 1.5a0.8 0.7 118 1 0 0.8 -1.5zM101.7 332.3a0.7 0.5 41 1 0 1.1 0.9a0.7 0.5 41 1 0 -1.1 -0.9zM92.6 336.7a0.9 0.6 118 1 0 -0.8 1.5a0.9 0.6 118 1 0 0.8 -1.5zM100.7 346.4a1 0.4 25 1 0 1.9 0.9a1 0.4 25 1 0 -1.9 -0.9zM94.6 336.7a0.6 0.7 177 1 0 -1.3 0a0.6 0.7 177 1 0 1.3 0zM110.6 333.4a0.9 0.5 149 1 0 -1.5 0.9a0.9 0.5 149 1 0 1.5 -0.9zM102.6 331.1a0.8 0.8 45 1 0 1.1 1.1a0.8 0.8 45 1 0 -1.1 -1.1zM99.4 333.4a0.6 0.6 97 1 0 -0.2 1.3a0.6 0.6 97 1 0 0.2 -1.3zM98.8 332.7a0.8 0.8 154 1 0 -1.5 0.7a0.8 0.8 154 1 0 1.5 -0.7zM106.1 336a0.5 0.6 171 1 0 -1 0.1a0.5 0.6 171 1 0 1 -0.1z"/>
<path fill="#d8ec40" d="M96.7 334.8a0.8 0.4 100 1 0 -0.3 1.6a0.8 0.4 100 1 0 0.3 -1.6zM102.5 350.7a0.7 0.6 82 1 0 0.2 1.4a0.7 0.6 82 1 0 -0.2 -1.4zM102.4 332.9a0.7 0.7 47 1 0 0.9 1a0.7 0.7 47 1 0 -0.9 -1zM104.5 351.1a0.7 0.7 29 1 0 1.3 0.7a0.7 0.7 29 1 0 -1.3 -0.7zM101.5 331.1a0.7 0.8 32 1 0 1.1 0.7a0.7 0.8 32 1 0 -1.1 -0.7zM96.4 332.4a0.6 0.7 67 1 0 0.4 1.1a0.6 0.7 67 1 0 -0.4 -1.1zM91.9 347.8a0.7 0.8 97 1 0 -0.2 1.4a0.7 0.8 97 1 0 0.2 -1.4zM104.2 339.4a0.9 0.6 125 1 0 -1 1.4a0.9 0.6 125 1 0 1 -1.4zM111.9 355.9a0.6 0.5 19 1 0 1.1 0.4a0.6 0.5 19 1 0 -1.1 -0.4zM102.7 335.7a0.7 0.6 0 1 0 1.3 0a0.7 0.6 0 1 0 -1.3 0zM105.2 334.3a0.9 0.7 104 1 0 -0.4 1.7a0.9 0.7 104 1 0 0.4 -1.7zM96.5 349.8a0.9 0.6 36 1 0 1.4 1a0.9 0.6 36 1 0 -1.4 -1z"/>
<path fill="#40c050" d="M137.1 360.4a0.5 0.3 4 1 0 0.9 0.1a0.5 0.3 4 1 0 -0.9 -0.1zM85.1 436.3a0.9 0.6 161 1 0 -1.8 0.6a0.9 0.6 161 1 0 1.8 -0.6zM139.4 370.4a0.7 0.3 32 1 0 1.1 0.7a0.7 0.3 32 1 0 -1.1 -0.7zM79 361.3a0.4 0.4 119 1 0 -0.4 0.8a0.4 0.4 119 1 0 0.4 -0.8zM132.3 438.6a0.7 0.5 143 1 0 -1.2 0.9a0.7 0.5 143 1 0 1.2 -0.9zM83.7 357.2a0.7 0.6 87 1 0 0.1 1.4a0.7 0.6 87 1 0 -0.1 -1.4zM164.3 452.3a0.8 0.5 57 1 0 0.8 1.3a0.8 0.5 57 1 0 -0.8 -1.3zM44.2 386.8a0.8 0.4 25 1 0 1.4 0.7a0.8 0.4 25 1 0 -1.4 -0.7zM88.9 384.1a0.5 0.2 35 1 0 0.8 0.5a0.5 0.2 35 1 0 -0.8 -0.5zM89.1 465.8a0.8 0.4 56 1 0 0.9 1.3a0.8 0.4 56 1 0 -0.9 -1.3zM51.1 363.5a0.6 0.3 55 1 0 0.7 1a0.6 0.3 55 1 0 -0.7 -1zM49.3 376.5a0.8 0.6 50 1 0 1.1 1.3a0.8 0.6 50 1 0 -1.1 -1.3zM167.9 365.6a0.6 0.4 59 1 0 0.6 1.1a0.6 0.4 59 1 0 -0.6 -1.1zM58.9 467.1a0.6 0.5 117 1 0 -0.5 1.1a0.6 0.5 117 1 0 0.5 -1.1zM72.9 410.7a0.6 0.4 46 1 0 0.8 0.9a0.6 0.4 46 1 0 -0.8 -0.9zM73.9 357.3a0.5 0.3 28 1 0 0.8 0.4a0.5 0.3 28 1 0 -0.8 -0.4zM100.7 371.5a0.8 0.5 37 1 0 1.3 1a0.8 0.5 37 1 0 -1.3 -1zM98.1 421.6a0.6 0.4 149 1 0 -1 0.6a0.6 0.4 149 1 0 1 -0.6zM61.3 357.2a0.9 0.5 41 1 0 1.3 1.2a0.9 0.5 41 1 0 -1.3 -1.2zM148.8 400.4a0.4 0.4 90 1 0 0 0.9a0.4 0.4 90 1 0 0 -0.9zM79.2 363.5a0.6 0.4 95 1 0 -0.1 1.2a0.6 0.4 95 1 0 0.1 -1.2zM71.3 396.8a0.7 0.3 29 1 0 1.2 0.7a0.7 0.3 29 1 0 -1.2 -0.7zM142.5 361a0.6 0.4 14 1 0 1.2 0.3a0.6 0.4 14 1 0 -1.2 -0.3zM69.2 427.8a0.4 0.2 34 1 0 0.6 0.4a0.4 0.2 34 1 0 -0.6 -0.4zM74.3 389.6a0.9 0.6 132 1 0 -1.2 1.3a0.9 0.6 132 1 0 1.2 -1.3zM92.8 371.4a1 0.6 123 1 0 -1.1 1.6a1 0.6 123 1 0 1.1 -1.6zM119.7 352.3a0.4 0.3 7 1 0 0.9 0.1a0.4 0.3 7 1 0 -0.9 -0.1zM147.3 379a0.7 0.4 113 1 0 -0.6 1.3a0.7 0.4 113 1 0 0.6 -1.3zM141.3 432.1a0.7 0.4 152 1 0 -1.2 0.6a0.7 0.4 152 1 0 1.2 -0.6zM156.9 379a0.8 0.6 176 1 0 -1.6 0.1a0.8 0.6 176 1 0 1.6 -0.1zM106.4 381.6a0.9 0.6 42 1 0 1.3 1.2a0.9 0.6 42 1 0 -1.3 -1.2zM122.8 423.7a0.5 0.4 165 1 0 -1 0.3a0.5 0.4 165 1 0 1 -0.3zM99.8 356.7a0.5 0.3 48 1 0 0.6 0.7a0.5 0.3 48 1 0 -0.6 -0.7zM113.9 372.6a0.7 0.4 102 1 0 -0.3 1.4a0.7 0.4 102 1 0 0.3 -1.4zM59.6 374a0.8 0.4 105 1 0 -0.4 1.5a0.8 0.4 105 1 0 0.4 -1.5zM139.3 378.4a0.7 0.6 141 1 0 -1.1 0.9a0.7 0.6 141 1 0 1.1 -0.9zM47.5 356.3a0.6 0.4 133 1 0 -0.8 0.8a0.6 0.4 133 1 0 0.8 -0.8zM64.9 349.7a0.9 0.5 65 1 0 0.8 1.7a0.9 0.5 65 1 0 -0.8 -1.7zM81.4 354a0.5 0.4 150 1 0 -0.9 0.5a0.5 0.4 150 1 0 0.9 -0.5zM101.9 392.3a1 0.5 5 1 0 2 0.2a1 0.5 5 1 0 -2 -0.2z"/>
<path fill="#40c0d0" opacity="0.8" d="M125.3 415.3a0.6 0.5 164 1 0 -1.2 0.3a0.6 0.5 164 1 0 1.2 -0.3zM129.7 417.3a0.5 0.3 36 1 0 0.7 0.5a0.5 0.3 36 1 0 -0.7 -0.5zM83.6 391.7a0.7 0.5 168 1 0 -1.3 0.3a0.7 0.5 168 1 0 1.3 -0.3zM75.2 393.6a0.5 0.3 148 1 0 -0.8 0.5a0.5 0.3 148 1 0 0.8 -0.5zM80.1 405.2a0.6 0.4 58 1 0 0.6 1.1a0.6 0.4 58 1 0 -0.6 -1.1zM104.4 395.4a0.6 0.4 128 1 0 -0.8 1a0.6 0.4 128 1 0 0.8 -1zM90 418.6a0.6 0.4 55 1 0 0.7 1a0.6 0.4 55 1 0 -0.7 -1zM103.1 414a0.8 0.4 84 1 0 0.1 1.5a0.8 0.4 84 1 0 -0.1 -1.5zM107.3 403.5a0.8 0.6 13 1 0 1.6 0.4a0.8 0.6 13 1 0 -1.6 -0.4zM111.1 390.1a0.7 0.4 37 1 0 1.1 0.8a0.7 0.4 37 1 0 -1.1 -0.8z"/>
<path fill="#48c848" d="M138.7 388a0.7 0.4 159 1 0 -1.4 0.5a0.7 0.4 159 1 0 1.4 -0.5zM75 447.4a0.9 0.5 114 1 0 -0.7 1.6a0.9 0.5 114 1 0 0.7 -1.6zM109.2 418.4a0.8 0.4 132 1 0 -1.1 1.2a0.8 0.4 132 1 0 1.1 -1.2zM100.3 387.9a0.8 0.5 107 1 0 -0.5 1.5a0.8 0.5 107 1 0 0.5 -1.5zM154.4 423.2a0.7 0.4 58 1 0 0.7 1.2a0.7 0.4 58 1 0 -0.7 -1.2zM160.4 444.8a0.6 0.4 115 1 0 -0.5 1a0.6 0.4 115 1 0 0.5 -1zM106.3 434.6a0.7 0.4 178 1 0 -1.4 0a0.7 0.4 178 1 0 1.4 0zM137.3 437a0.8 0.6 173 1 0 -1.7 0.2a0.8 0.6 173 1 0 1.7 -0.2zM152.7 427.5a0.6 0.3 24 1 0 1.1 0.5a0.6 0.3 24 1 0 -1.1 -0.5zM130.1 447.1a0.6 0.4 177 1 0 -1.2 0.1a0.6 0.4 177 1 0 1.2 -0.1zM128.7 431.9a0.6 0.4 167 1 0 -1.2 0.3a0.6 0.4 167 1 0 1.2 -0.3zM134.7 405.9a0.6 0.3 94 1 0 -0.1 1.1a0.6 0.3 94 1 0 0.1 -1.1zM98 431.9a0.9 0.7 9 1 0 1.8 0.3a0.9 0.7 9 1 0 -1.8 -0.3zM74.8 400.7a0.6 0.3 3 1 0 1.2 0.1a0.6 0.3 3 1 0 -1.2 -0.1zM71.5 405.3a0.6 0.4 67 1 0 0.5 1.2a0.6 0.4 67 1 0 -0.5 -1.2zM151.5 445.3a0.6 0.4 26 1 0 1.1 0.6a0.6 0.4 26 1 0 -1.1 -0.6zM132.4 450.8a1 0.5 59 1 0 1 1.7a1 0.5 59 1 0 -1 -1.7zM114.7 452.5a0.5 0.4 79 1 0 0.2 1a0.5 0.4 79 1 0 -0.2 -1zM96.8 388.5a1 0.5 47 1 0 1.3 1.4a1 0.5 47 1 0 -1.3 -1.4zM111.5 447.5a0.6 0.4 130 1 0 -0.8 0.9a0.6 0.4 130 1 0 0.8 -0.9zM80.8 402.4a0.8 0.5 136 1 0 -1.2 1.1a0.8 0.5 136 1 0 1.2 -1.1zM132.6 405.6a0.6 0.3 90 1 0 0 1.3a0.6 0.3 90 1 0 0 -1.3zM103.5 389a0.7 0.4 97 1 0 -0.2 1.3a0.7 0.4 97 1 0 0.2 -1.3zM142.6 384.2a0.8 0.4 64 1 0 0.7 1.5a0.8 0.4 64 1 0 -0.7 -1.5zM82.9 404.9a1 0.5 100 1 0 -0.3 1.9a1 0.5 100 1 0 0.3 -1.9zM133.7 438.8a0.5 0.3 170 1 0 -1 0.2a0.5 0.3 170 1 0 1 -0.2zM85.4 387.2a0.9 0.4 138 1 0 -1.4 1.2a0.9 0.4 138 1 0 1.4 -1.2zM118.6 390.6a0.6 0.4 159 1 0 -1.2 0.4a0.6 0.4 159 1 0 1.2 -0.4zM117.5 446.8a0.6 0.4 175 1 0 -1.2 0.1a0.6 0.4 175 1 0 1.2 -0.1zM141 388.7a0.7 0.3 75 1 0 0.4 1.4a0.7 0.3 75 1 0 -0.4 -1.4zM71.6 399.7a0.9 0.4 138 1 0 -1.3 1.2a0.9 0.4 138 1 0 1.3 -1.2zM72.1 431.2a0.8 0.5 98 1 0 -0.2 1.6a0.8 0.5 98 1 0 0.2 -1.6zM151.4 404a0.5 0.3 90 1 0 0 0.9a0.5 0.3 90 1 0 0 -0.9zM134.9 432.9a1.1 0.5 134 1 0 -1.5 1.5a1.1 0.5 134 1 0 1.5 -1.5zM110.1 449a0.7 0.4 118 1 0 -0.7 1.2a0.7 0.4 118 1 0 0.7 -1.2zM71.6 402.9a0.8 0.4 98 1 0 -0.2 1.6a0.8 0.4 98 1 0 0.2 -1.6zM151.5 440.3a0.8 0.4 73 1 0 0.5 1.5a0.8 0.4 73 1 0 -0.5 -1.5zM92.9 401.8a1 0.6 116 1 0 -0.9 1.8a1 0.6 116 1 0 0.9 -1.8zM161.5 408.5a0.8 0.7 164 1 0 -1.5 0.4a0.8 0.7 164 1 0 1.5 -0.4zM97 397.7a0.7 0.5 90 1 0 0 1.4a0.7 0.5 90 1 0 0 -1.4zM164.1 426.3a0.7 0.5 179 1 0 -1.4 0a0.7 0.5 179 1 0 1.4 0zM123 380.1a0.8 0.5 29 1 0 1.3 0.7a0.8 0.5 29 1 0 -1.3 -0.7zM116.3 431.7a0.6 0.4 69 1 0 0.4 1.1a0.6 0.4 69 1 0 -0.4 -1.1zM133 406a0.5 0.4 141 1 0 -0.8 0.6a0.5 0.4 141 1 0 0.8 -0.6zM126.5 378.7a0.7 0.5 57 1 0 0.8 1.2a0.7 0.5 57 1 0 -0.8 -1.2z"/>
<path fill="#f0d0e8" d="M34.1 392.9a2 1.6 0 1 0 4 0a2 1.6 0 1 0 -4 0zM35.5 397.9a1.6 1.4 0 1 0 3.2 0a1.6 1.4 0 1 0 -3.2 0zM34.4 401.9a1.2 1 0 1 0 2.4 0a1.2 1 0 1 0 -2.4 0z"/>
<polyline fill="none" stroke="#d03048" stroke-width="2.2" opacity="0.75" points="34.6,347.1 36.87,347.18 39.13,347.25 41.4,347.33 43.66,347.4 45.92,347.48 48.19,347.55 50.45,347.57 52.72,347.5 54.98,347.42 57.25,347.34 59.52,347.27 61.78,347.19 64.05,347.12 66.31,346.19 68.58,344.99 70.84,343.79 73.11,342.59 75.37,341.06 77.63,338.9 79.9,336.73 82.17,334.76 84.43,333.4 86.7,332.08 88.96,331.71 91.22,331.33 93.49,331.1 95.75,331.1 98.02,331.1 100.28,331.1 102.55,331.1 104.81,331.1 107.08,331.1 109.34,331.1 111.61,331.1 113.88,331.1 116.14,332.95 118.41,335.67 120.67,337.6 122.94,338.67 125.2,339.73 127.47,340.8 129.73,341.78 132,341.39 134.26,341.01 136.53,340.62 138.79,340.24 141.06,339.06 143.32,337.44 145.59,335.82 147.85,334.02 150.12,332.3 152.38,331.44 154.65,330.6 156.91,330.53 159.18,330.46 161.44,330.39 163.7,330.32 165.97,330.24 168.24,330.17 170.5,330.1"/>
<polygon fill="#040204" points="34.6,328.9 34.6,345.9 36.87,345.98 39.13,346.05 41.4,346.13 43.66,346.2 45.92,346.28 48.19,346.35 50.45,346.37 52.72,346.3 54.98,346.22 57.25,346.14 59.52,346.07 61.78,345.99 64.05,345.92 66.31,344.99 68.58,343.79 70.84,342.59 73.11,341.39 75.37,339.86 77.63,337.7 79.9,335.53 82.17,333.56 84.43,332.2 86.7,330.88 88.96,330.51 91.22,330.13 93.49,329.9 95.75,329.9 98.02,329.9 100.28,329.9 102.55,329.9 104.81,329.9 107.08,329.9 109.34,329.9 111.61,329.9 113.88,329.9 116.14,331.75 118.41,334.47 120.67,336.4 122.94,337.47 125.2,338.53 127.47,339.6 129.73,340.58 132,340.19 134.26,339.81 136.53,339.42 138.79,339.04 141.06,337.86 143.32,336.24 145.59,334.62 147.85,332.82 150.12,331.1 152.38,330.24 154.65,329.4 156.91,329.33 159.18,329.26 161.44,329.19 163.7,329.12 165.97,329.04 168.24,328.97 170.5,328.9 170.5,328.9"/>
<path fill="none" stroke="#07040a" stroke-width="4.5" d="M90.6 470.9 Q126.6 459.9 172.5 459.4"/>
</g></g>
<g clip-path="url(#cm2)"><g filter="url(#soft)">
<defs><radialGradient id="g3" cx="0.1" cy="0.15" r="0.75"><stop offset="0" stop-color="#3a0c1c"/><stop offset="0.6" stop-color="#220a1a"/><stop offset="1" stop-color="#140814"/></radialGradient></defs>
<rect x="34.6" y="475.1" width="135.9" height="139.6" fill="url(#g3)" />
<path fill="#c83a30" opacity="0.7" d="M96.9 500.8a1.4 0.5 134 1 0 -2 2.1a1.4 0.5 134 1 0 2 -2.1zM44.9 558.4a2 0.4 125 1 0 -2.3 3.2a2 0.4 125 1 0 2.3 -3.2zM110.8 485.4a2.2 0.4 138 1 0 -3.2 2.9a2.2 0.4 138 1 0 3.2 -2.9zM96.4 498.5a2 0.4 126 1 0 -2.4 3.3a2 0.4 126 1 0 2.4 -3.3zM36 489.3a1.4 0.3 133 1 0 -1.9 2a1.4 0.3 133 1 0 1.9 -2zM66 481.6a1.8 0.4 126 1 0 -2.1 2.8a1.8 0.4 126 1 0 2.1 -2.8zM50 536.6a2.7 0.4 127 1 0 -3.2 4.2a2.7 0.4 127 1 0 3.2 -4.2zM92.9 515.1a1.9 0.4 133 1 0 -2.6 2.7a1.9 0.4 133 1 0 2.6 -2.7zM111.1 473.8a2.6 0.4 139 1 0 -3.9 3.3a2.6 0.4 139 1 0 3.9 -3.3zM111.5 495.1a1.9 0.5 132 1 0 -2.5 2.8a1.9 0.5 132 1 0 2.5 -2.8zM76.2 526.1a1.7 0.5 126 1 0 -2 2.7a1.7 0.5 126 1 0 2 -2.7zM41.9 558.7a2 0.3 126 1 0 -2.4 3.3a2 0.3 126 1 0 2.4 -3.3zM93.2 520.6a1.8 0.3 128 1 0 -2.3 2.9a1.8 0.3 128 1 0 2.3 -2.9zM125.4 477.5a2.3 0.5 144 1 0 -3.7 2.7a2.3 0.5 144 1 0 3.7 -2.7zM45.4 550.4a1.3 0.5 132 1 0 -1.8 2a1.3 0.5 132 1 0 1.8 -2zM55.8 492.4a1.8 0.4 144 1 0 -3 2.1a1.8 0.4 144 1 0 3 -2.1zM80.4 490.6a2.4 0.5 137 1 0 -3.5 3.3a2.4 0.5 137 1 0 3.5 -3.3zM107.8 487.3a2.7 0.4 141 1 0 -4.2 3.4a2.7 0.4 141 1 0 4.2 -3.4zM108.6 499.5a1.8 0.4 142 1 0 -2.8 2.2a1.8 0.4 142 1 0 2.8 -2.2zM91.6 495.2a1.6 0.3 131 1 0 -2.1 2.5a1.6 0.3 131 1 0 2.1 -2.5zM106.7 480.4a2.3 0.4 142 1 0 -3.7 2.8a2.3 0.4 142 1 0 3.7 -2.8zM75 539.3a1.3 0.4 132 1 0 -1.7 1.9a1.3 0.4 132 1 0 1.7 -1.9zM63.3 498.6a2.6 0.4 130 1 0 -3.4 4a2.6 0.4 130 1 0 3.4 -4zM66.4 518.2a1.7 0.5 127 1 0 -2 2.6a1.7 0.5 127 1 0 2 -2.6zM41.9 573.6a1.2 0.5 125 1 0 -1.4 2a1.2 0.5 125 1 0 1.4 -2zM72.8 526.4a1.3 0.3 142 1 0 -2 1.5a1.3 0.3 142 1 0 2 -1.5zM83.2 521.8a1.8 0.5 128 1 0 -2.3 2.9a1.8 0.5 128 1 0 2.3 -2.9zM73.3 539.3a1.3 0.5 127 1 0 -1.6 2.1a1.3 0.5 127 1 0 1.6 -2.1zM57.5 480a1.5 0.4 142 1 0 -2.4 1.8a1.5 0.4 142 1 0 2.4 -1.8zM58 529.7a2.7 0.4 133 1 0 -3.7 3.9a2.7 0.4 133 1 0 3.7 -3.9zM41 493.4a1.3 0.4 126 1 0 -1.5 2a1.3 0.4 126 1 0 1.5 -2zM50.6 529.4a1.3 0.5 125 1 0 -1.5 2.1a1.3 0.5 125 1 0 1.5 -2.1zM43.3 534.5a2.6 0.3 141 1 0 -4.1 3.3a2.6 0.3 141 1 0 4.1 -3.3zM42.3 533.3a2.1 0.4 137 1 0 -3 2.8a2.1 0.4 137 1 0 3 -2.8zM36.8 547.8a2.8 0.4 128 1 0 -3.5 4.3a2.8 0.4 128 1 0 3.5 -4.3zM104.3 490.7a2.5 0.3 137 1 0 -3.7 3.4a2.5 0.3 137 1 0 3.7 -3.4zM76.8 481a1.2 0.4 125 1 0 -1.4 2a1.2 0.4 125 1 0 1.4 -2zM124.5 479.2a2.2 0.4 140 1 0 -3.4 2.8a2.2 0.4 140 1 0 3.4 -2.8zM97.3 514.6a2.1 0.4 133 1 0 -2.8 3a2.1 0.4 133 1 0 2.8 -3zM114.5 477.5a2.5 0.5 139 1 0 -3.8 3.3a2.5 0.5 139 1 0 3.8 -3.3z"/>
<path fill="#4232ae" d="M66.8 474.8a2.7 0.8 140 1 0 -4.2 3.4a2.7 0.8 140 1 0 4.2 -3.4zM86.8 473.2a3.2 1.1 123 1 0 -3.6 5.3a3.2 1.1 123 1 0 3.6 -5.3zM94.6 472.2a2.4 0.8 132 1 0 -3.2 3.6a2.4 0.8 132 1 0 3.2 -3.6zM104.3 474.2a2.8 0.9 130 1 0 -3.7 4.2a2.8 0.9 130 1 0 3.7 -4.2zM107.2 473.2a2.4 0.9 145 1 0 -4.1 2.8a2.4 0.9 145 1 0 4.1 -2.8zM47.9 477.1a2.7 1 132 1 0 -3.6 4a2.7 1 132 1 0 3.6 -4zM63 478.8a2.7 0.8 143 1 0 -4.4 3.2a2.7 0.8 143 1 0 4.4 -3.2zM80.1 476a2.6 1 129 1 0 -3.3 4a2.6 1 129 1 0 3.3 -4zM110.2 476.8a3.1 0.9 126 1 0 -3.6 5a3.1 0.9 126 1 0 3.6 -5zM39.5 482.2a2.9 1 134 1 0 -4.1 4.1a2.9 1 134 1 0 4.1 -4.1zM49.8 479.9a2.5 0.9 142 1 0 -4 3.1a2.5 0.9 142 1 0 4 -3.1zM79.8 481.8a2.7 0.9 123 1 0 -3 4.6a2.7 0.9 123 1 0 3 -4.6zM41.9 483.7a2.2 0.9 137 1 0 -3.3 3a2.2 0.9 137 1 0 3.3 -3zM48.2 483.3a2.8 0.9 144 1 0 -4.5 3.2a2.8 0.9 144 1 0 4.5 -3.2zM57.3 482.9a2.5 0.9 124 1 0 -2.8 4.1a2.5 0.9 124 1 0 2.8 -4.1zM61.8 483.6a2.6 0.9 129 1 0 -3.3 4.1a2.6 0.9 129 1 0 3.3 -4.1zM70.6 485a2.5 1 138 1 0 -3.7 3.3a2.5 1 138 1 0 3.7 -3.3zM77.1 483.8a3.1 1.1 139 1 0 -4.8 4a3.1 1.1 139 1 0 4.8 -4zM87.3 484.6a2.3 0.8 146 1 0 -3.8 2.5a2.3 0.8 146 1 0 3.8 -2.5zM36 489a2.8 1.1 131 1 0 -3.7 4.1a2.8 1.1 131 1 0 3.7 -4.1zM39.8 489a2.8 0.8 135 1 0 -4.1 4a2.8 0.8 135 1 0 4.1 -4zM52 488a2.5 1 137 1 0 -3.7 3.4a2.5 1 137 1 0 3.7 -3.4zM76.4 488.2a2.2 0.9 138 1 0 -3.2 2.8a2.2 0.9 138 1 0 3.2 -2.8zM81 488.5a2.7 1 136 1 0 -4 3.8a2.7 1 136 1 0 4 -3.8zM92.3 487.1a2.5 0.8 129 1 0 -3.2 3.9a2.5 0.8 129 1 0 3.2 -3.9zM40.2 491.2a2.9 1 143 1 0 -4.7 3.4a2.9 1 143 1 0 4.7 -3.4zM55.9 491.3a2.6 1 141 1 0 -4.1 3.3a2.6 1 141 1 0 4.1 -3.3zM65.8 492.8a2.9 1 142 1 0 -4.6 3.5a2.9 1 142 1 0 4.6 -3.5zM79.6 492.1a3 1 137 1 0 -4.4 4a3 1 137 1 0 4.4 -4zM40.3 497.6a2.8 0.9 142 1 0 -4.5 3.5a2.8 0.9 142 1 0 4.5 -3.5zM76.5 496.1a2.7 0.8 146 1 0 -4.5 3a2.7 0.8 146 1 0 4.5 -3zM92.6 494.9a2.6 0.8 134 1 0 -3.7 3.7a2.6 0.8 134 1 0 3.7 -3.7zM47.5 499.3a2.7 1.1 125 1 0 -3.1 4.4a2.7 1.1 125 1 0 3.1 -4.4zM54.6 499.9a2.3 0.9 142 1 0 -3.6 2.8a2.3 0.9 142 1 0 3.6 -2.8zM71.4 498.9a2.2 0.9 129 1 0 -2.8 3.3a2.2 0.9 129 1 0 2.8 -3.3zM81.7 499.8a2.6 1 139 1 0 -3.9 3.3a2.6 1 139 1 0 3.9 -3.3zM92.1 500.9a3.2 0.9 141 1 0 -4.9 3.9a3.2 0.9 141 1 0 4.9 -3.9zM41.7 502.9a2.5 1 124 1 0 -2.8 4.1a2.5 1 124 1 0 2.8 -4.1zM52.2 504.5a3.1 1 131 1 0 -4.1 4.7a3.1 1 131 1 0 4.1 -4.7zM78.7 502.2a2.7 0.9 143 1 0 -4.3 3.1a2.7 0.9 143 1 0 4.3 -3.1zM63 506.1a2.5 0.9 141 1 0 -3.9 3.1a2.5 0.9 141 1 0 3.9 -3.1zM60.6 512.4a2.8 1 137 1 0 -4.2 3.8a2.8 1 137 1 0 4.2 -3.8zM82.5 514.9a3.1 1.1 135 1 0 -4.4 4.4a3.1 1.1 135 1 0 4.4 -4.4zM51.9 517.7a3.1 1.1 126 1 0 -3.6 4.9a3.1 1.1 126 1 0 3.6 -4.9zM57.6 517.8a3 0.9 123 1 0 -3.4 5.1a3 0.9 123 1 0 3.4 -5.1zM37.3 522.7a2.7 1 142 1 0 -4.3 3.3a2.7 1 142 1 0 4.3 -3.3zM54.6 522.4a3.2 1.1 135 1 0 -4.5 4.5a3.2 1.1 135 1 0 4.5 -4.5zM53.1 525.6a2.1 0.7 140 1 0 -3.2 2.7a2.1 0.7 140 1 0 3.2 -2.7zM42.8 528.6a2.6 1 130 1 0 -3.4 3.9a2.6 1 130 1 0 3.4 -3.9zM46.7 528.9a2.3 0.8 136 1 0 -3.4 3.1a2.3 0.8 136 1 0 3.4 -3.1zM49.8 533.9a2.9 0.9 145 1 0 -4.7 3.3a2.9 0.9 145 1 0 4.7 -3.3zM51.9 533.3a2.7 1 138 1 0 -4.1 3.6a2.7 1 138 1 0 4.1 -3.6zM69.4 533.2a2.4 1 138 1 0 -3.6 3.3a2.4 1 138 1 0 3.6 -3.3zM57.3 536.1a2.9 0.9 145 1 0 -4.7 3.3a2.9 0.9 145 1 0 4.7 -3.3zM43.4 539.9a3.1 1.1 132 1 0 -4.2 4.5a3.1 1.1 132 1 0 4.2 -4.5zM55.6 546a2.7 0.9 124 1 0 -3.1 4.5a2.7 0.9 124 1 0 3.1 -4.5zM37.1 548.8a2.4 0.9 140 1 0 -3.7 3a2.4 0.9 140 1 0 3.7 -3zM42.6 558.3a2.7 0.9 145 1 0 -4.5 3.1a2.7 0.9 145 1 0 4.5 -3.1zM37.7 558.9a2.7 1 129 1 0 -3.5 4.3a2.7 1 129 1 0 3.5 -4.3zM36.7 562.8a2.5 0.9 133 1 0 -3.5 3.6a2.5 0.9 133 1 0 3.5 -3.6zM37 569.8a2.5 1 123 1 0 -2.7 4.2a2.5 1 123 1 0 2.7 -4.2zM88.7 614.5a2.3 1.6 45 1 0 3.3 3.3a2.3 1.6 45 1 0 -3.3 -3.3zM161.8 530.9a2.3 1.4 2 1 0 4.6 0.2a2.3 1.4 2 1 0 -4.6 -0.2zM112.1 551.1a2.4 1.7 15 1 0 4.7 1.3a2.4 1.7 15 1 0 -4.7 -1.3zM167.9 592.1a2.3 1.8 143 1 0 -3.8 2.8a2.3 1.8 143 1 0 3.8 -2.8zM38.9 576.9a2.6 1.5 139 1 0 -4 3.4a2.6 1.5 139 1 0 4 -3.4zM65.5 585.9a2.8 1.5 144 1 0 -4.6 3.3a2.8 1.5 144 1 0 4.6 -3.3zM136.5 499.4a2.4 1.4 138 1 0 -3.6 3.1a2.4 1.4 138 1 0 3.6 -3.1zM117.8 571.1a2.1 1.7 120 1 0 -2.2 3.7a2.1 1.7 120 1 0 2.2 -3.7zM97.6 490a2.3 1.6 82 1 0 0.6 4.6a2.3 1.6 82 1 0 -0.6 -4.6zM74.1 532.5a2.3 1.4 49 1 0 2.9 3.4a2.3 1.4 49 1 0 -2.9 -3.4zM119.5 594a2.4 1.3 164 1 0 -4.6 1.2a2.4 1.3 164 1 0 4.6 -1.2zM107.3 606.3a2.3 1.5 58 1 0 2.4 3.9a2.3 1.5 58 1 0 -2.4 -3.9zM99.3 614.9a2.6 1.5 37 1 0 4.1 3.2a2.6 1.5 37 1 0 -4.1 -3.2zM93.6 540a2.1 1.4 74 1 0 1.2 4.1a2.1 1.4 74 1 0 -1.2 -4.1zM150.4 480.6a2.4 1.6 14 1 0 4.7 1.2a2.4 1.6 14 1 0 -4.7 -1.2zM93.5 530.5a2.2 1.7 6 1 0 4.4 0.5a2.2 1.7 6 1 0 -4.4 -0.5zM161.2 576.8a2.7 1.6 117 1 0 -2.4 4.7a2.7 1.6 117 1 0 2.4 -4.7zM48.1 586.6a2.6 1.8 148 1 0 -4.5 2.7a2.6 1.8 148 1 0 4.5 -2.7zM106.5 541.7a2.2 1.2 32 1 0 3.8 2.4a2.2 1.2 32 1 0 -3.8 -2.4zM84.2 572a2.3 1.3 170 1 0 -4.6 0.8a2.3 1.3 170 1 0 4.6 -0.8zM114.5 518.1a2.2 1.4 1 1 0 4.4 0.1a2.2 1.4 1 1 0 -4.4 -0.1zM131.3 558.8a2 1.5 84 1 0 0.4 4a2 1.5 84 1 0 -0.4 -4zM110.5 556.3a1.9 1.6 112 1 0 -1.5 3.6a1.9 1.6 112 1 0 1.5 -3.6zM118.4 492.3a2.1 1.5 88 1 0 0.1 4.2a2.1 1.5 88 1 0 -0.1 -4.2zM98.4 499a2.3 1.3 178 1 0 -4.7 0.1a2.3 1.3 178 1 0 4.7 -0.1zM76.4 590.9a2.2 1.6 178 1 0 -4.4 0.1a2.2 1.6 178 1 0 4.4 -0.1zM52.5 611.1a2 1.5 82 1 0 0.5 3.9a2 1.5 82 1 0 -0.5 -3.9zM68 595.3a2.8 1.7 100 1 0 -1 5.5a2.8 1.7 100 1 0 1 -5.5zM115.2 605.1a2.3 1.5 15 1 0 4.4 1.2a2.3 1.5 15 1 0 -4.4 -1.2zM77.4 587.8a2.4 1.9 22 1 0 4.4 1.8a2.4 1.9 22 1 0 -4.4 -1.8zM45.3 600.8a2.3 1.4 43 1 0 3.3 3.1a2.3 1.4 43 1 0 -3.3 -3.1zM119 525.2a2.1 1.8 139 1 0 -3.2 2.7a2.1 1.8 139 1 0 3.2 -2.7zM147.4 570.6a2.6 1.6 104 1 0 -1.3 5.1a2.6 1.6 104 1 0 1.3 -5.1zM68.7 542.5a2.6 1.4 120 1 0 -2.6 4.4a2.6 1.4 120 1 0 2.6 -4.4zM71.1 597.2a1.9 1.3 16 1 0 3.6 1.1a1.9 1.3 16 1 0 -3.6 -1.1zM145.5 551.5a1.9 1.4 87 1 0 0.2 3.7a1.9 1.4 87 1 0 -0.2 -3.7zM82.4 576.3a2.1 1.4 91 1 0 -0.1 4.2a2.1 1.4 91 1 0 0.1 -4.2zM93.6 555.6a2.3 1.7 92 1 0 -0.2 4.6a2.3 1.7 92 1 0 0.2 -4.6zM123.7 523.6a2 1.7 127 1 0 -2.4 3.1a2 1.7 127 1 0 2.4 -3.1zM111.7 593.1a2.5 1.5 109 1 0 -1.7 4.6a2.5 1.5 109 1 0 1.7 -4.6zM85.6 504.6a2.3 1.5 133 1 0 -3.2 3.4a2.3 1.5 133 1 0 3.2 -3.4zM151.2 609.1a2.3 1.4 162 1 0 -4.5 1.4a2.3 1.4 162 1 0 4.5 -1.4zM159 541.7a2.7 1.9 121 1 0 -2.8 4.6a2.7 1.9 121 1 0 2.8 -4.6zM137.9 556.8a2.7 1.6 71 1 0 1.8 5.2a2.7 1.6 71 1 0 -1.8 -5.2zM158.5 606.3a1.9 1.5 101 1 0 -0.8 3.7a1.9 1.5 101 1 0 0.8 -3.7zM83.7 595.3a2.5 1.4 145 1 0 -4.2 2.9a2.5 1.4 145 1 0 4.2 -2.9zM170.6 531.2a2.2 1.4 168 1 0 -4.3 0.9a2.2 1.4 168 1 0 4.3 -0.9zM100.4 599.4a2.6 1.6 155 1 0 -4.8 2.2a2.6 1.6 155 1 0 4.8 -2.2zM165.4 475.8a2.4 1.4 8 1 0 4.8 0.7a2.4 1.4 8 1 0 -4.8 -0.7zM169.2 604.8a2.2 1.7 32 1 0 3.8 2.4a2.2 1.7 32 1 0 -3.8 -2.4zM120.5 610.3a2.2 1.4 143 1 0 -3.5 2.6a2.2 1.4 143 1 0 3.5 -2.6zM111.7 562.4a2.1 1.7 148 1 0 -3.6 2.2a2.1 1.7 148 1 0 3.6 -2.2zM132 586.4a2.1 1.4 127 1 0 -2.6 3.4a2.1 1.4 127 1 0 2.6 -3.4zM90.2 595.6a2.3 1.7 95 1 0 -0.4 4.6a2.3 1.7 95 1 0 0.4 -4.6zM66.5 564.2a2.7 1.7 94 1 0 -0.4 5.3a2.7 1.7 94 1 0 0.4 -5.3zM96.2 603.1a2.7 1.6 153 1 0 -4.8 2.4a2.7 1.6 153 1 0 4.8 -2.4zM92 580.1a2.6 1.5 99 1 0 -0.9 5.2a2.6 1.5 99 1 0 0.9 -5.2zM145.7 541.9a2.4 1.6 66 1 0 1.9 4.4a2.4 1.6 66 1 0 -1.9 -4.4zM109.2 553.5a2 1.7 177 1 0 -4 0.2a2 1.7 177 1 0 4 -0.2zM133.2 563.7a2.1 1.4 35 1 0 3.4 2.4a2.1 1.4 35 1 0 -3.4 -2.4zM165.4 479.2a2.6 1.9 92 1 0 -0.2 5.3a2.6 1.9 92 1 0 0.2 -5.3zM84.1 561.3a2.2 1.7 44 1 0 3.2 3.1a2.2 1.7 44 1 0 -3.2 -3.1zM60.4 564.3a1.9 1.6 117 1 0 -1.8 3.4a1.9 1.6 117 1 0 1.8 -3.4zM167 525.4a2.1 1.5 103 1 0 -1 4.1a2.1 1.5 103 1 0 1 -4.1zM97.1 508a2.5 1.6 148 1 0 -4.3 2.7a2.5 1.6 148 1 0 4.3 -2.7zM154.8 593a2.4 1.5 145 1 0 -3.9 2.7a2.4 1.5 145 1 0 3.9 -2.7zM164.8 516.1a2.6 1.4 146 1 0 -4.3 2.9a2.6 1.4 146 1 0 4.3 -2.9zM121.6 607.4a2.1 1.7 10 1 0 4.2 0.8a2.1 1.7 10 1 0 -4.2 -0.8zM159.5 572a2.7 1.5 36 1 0 4.3 3.2a2.7 1.5 36 1 0 -4.3 -3.2zM157.3 500.5a2.3 1.4 145 1 0 -3.8 2.6a2.3 1.4 145 1 0 3.8 -2.6zM161.2 484.1a2.7 1.6 51 1 0 3.4 4.3a2.7 1.6 51 1 0 -3.4 -4.3zM139.1 596.1a2.4 1.7 2 1 0 4.7 0.2a2.4 1.7 2 1 0 -4.7 -0.2zM103.5 562.7a2.8 1.8 156 1 0 -5.1 2.2a2.8 1.8 156 1 0 5.1 -2.2zM133.2 581.6a2.6 1.5 80 1 0 0.9 5.1a2.6 1.5 80 1 0 -0.9 -5.1zM46.7 536.1a2.3 1.5 7 1 0 4.6 0.6a2.3 1.5 7 1 0 -4.6 -0.6zM117.2 476.8a2.5 1.7 57 1 0 2.7 4.2a2.5 1.7 57 1 0 -2.7 -4.2zM104.6 599.7a2.5 1.9 126 1 0 -3 4.1a2.5 1.9 126 1 0 3 -4.1zM128 524.1a2.9 1.9 26 1 0 5.2 2.6a2.9 1.9 26 1 0 -5.2 -2.6zM101.1 524.8a3 1.6 143 1 0 -4.8 3.5a3 1.6 143 1 0 4.8 -3.5zM85.7 522.7a2.4 1.6 56 1 0 2.7 4a2.4 1.6 56 1 0 -2.7 -4zM42.3 575.9a2.5 1.5 22 1 0 4.6 2a2.5 1.5 22 1 0 -4.6 -2zM161.4 538.8a1.8 1.6 59 1 0 1.9 3.1a1.8 1.6 59 1 0 -1.9 -3.1zM33 594.2a2.2 1.9 30 1 0 3.8 2.2a2.2 1.9 30 1 0 -3.8 -2.2zM162.2 477.3a2.5 1.5 152 1 0 -4.5 2.4a2.5 1.5 152 1 0 4.5 -2.4zM65.1 610.9a2.8 1.5 65 1 0 2.4 5a2.8 1.5 65 1 0 -2.4 -5zM78.3 519.4a2.2 1.5 38 1 0 3.5 2.7a2.2 1.5 38 1 0 -3.5 -2.7zM123 537.3a2.6 1.6 31 1 0 4.4 2.7a2.6 1.6 31 1 0 -4.4 -2.7zM158.4 527.1a2.2 1.6 75 1 0 1.1 4.2a2.2 1.6 75 1 0 -1.1 -4.2zM68.4 561.4a2.8 1.8 163 1 0 -5.4 1.6a2.8 1.8 163 1 0 5.4 -1.6zM114.8 588.6a2.5 1.4 155 1 0 -4.5 2.1a2.5 1.4 155 1 0 4.5 -2.1zM35.1 580.6a2.7 1.9 135 1 0 -3.8 3.7a2.7 1.9 135 1 0 3.8 -3.7zM127.5 530.8a2.4 1.9 112 1 0 -1.8 4.4a2.4 1.9 112 1 0 1.8 -4.4zM134 478.2a2.1 1.5 94 1 0 -0.3 4.2a2.1 1.5 94 1 0 0.3 -4.2zM133.2 614.2a2.1 1.8 102 1 0 -0.9 4.2a2.1 1.8 102 1 0 0.9 -4.2zM76 594.9a2.3 1.6 46 1 0 3.1 3.3a2.3 1.6 46 1 0 -3.1 -3.3zM108.2 487.2a2.5 1.5 123 1 0 -2.7 4.2a2.5 1.5 123 1 0 2.7 -4.2zM96.4 582.2a2 1.4 124 1 0 -2.3 3.3a2 1.4 124 1 0 2.3 -3.3zM144 589.8a2.5 1.8 111 1 0 -1.8 4.7a2.5 1.8 111 1 0 1.8 -4.7zM97.5 516.5a1.9 1.6 102 1 0 -0.8 3.7a1.9 1.6 102 1 0 0.8 -3.7zM92.9 533.2a1.9 1.4 151 1 0 -3.3 1.8a1.9 1.4 151 1 0 3.3 -1.8zM161.9 548.4a2.3 1.6 116 1 0 -2.1 4.2a2.3 1.6 116 1 0 2.1 -4.2zM122.2 519.3a2.2 1.7 137 1 0 -3.3 3a2.2 1.7 137 1 0 3.3 -3zM60.7 523.8a2 1.4 127 1 0 -2.4 3.2a2 1.4 127 1 0 2.4 -3.2zM173.6 480.7a2.3 1.5 172 1 0 -4.5 0.6a2.3 1.5 172 1 0 4.5 -0.6zM116 504.7a2.2 1.4 56 1 0 2.4 3.7a2.2 1.4 56 1 0 -2.4 -3.7zM154.2 568.5a2.2 1.3 51 1 0 2.7 3.5a2.2 1.3 51 1 0 -2.7 -3.5zM131.7 556.3a2.8 1.7 10 1 0 5.6 1a2.8 1.7 10 1 0 -5.6 -1zM141.3 610.1a2.4 1.6 49 1 0 3.1 3.7a2.4 1.6 49 1 0 -3.1 -3.7zM42.1 543.6a2.7 1.7 116 1 0 -2.4 4.8a2.7 1.7 116 1 0 2.4 -4.8zM84.2 550.6a2 1.5 133 1 0 -2.7 2.8a2 1.5 133 1 0 2.7 -2.8zM76.7 517.3a2 1.4 146 1 0 -3.3 2.2a2 1.4 146 1 0 3.3 -2.2zM140.7 561.7a2 1.5 79 1 0 0.7 3.8a2 1.5 79 1 0 -0.7 -3.8zM60.2 598.1a2.3 1.6 104 1 0 -1.1 4.5a2.3 1.6 104 1 0 1.1 -4.5zM109.4 579.8a2.1 1.4 156 1 0 -3.9 1.7a2.1 1.4 156 1 0 3.9 -1.7zM163.4 603.2a2 1.3 52 1 0 2.4 3.1a2 1.3 52 1 0 -2.4 -3.1zM118.4 574.5a2.3 1.5 21 1 0 4.3 1.7a2.3 1.5 21 1 0 -4.3 -1.7zM60.7 553.6a2.5 1.5 37 1 0 4 3a2.5 1.5 37 1 0 -4 -3zM82.7 614.2a2 1.6 83 1 0 0.5 3.9a2 1.6 83 1 0 -0.5 -3.9zM53.3 538.5a2 1.4 64 1 0 1.7 3.6a2 1.4 64 1 0 -1.7 -3.6zM151.1 582.3a2.1 1.4 151 1 0 -3.7 2a2.1 1.4 151 1 0 3.7 -2zM54.8 565.8a2.1 1.5 86 1 0 0.2 4.1a2.1 1.5 86 1 0 -0.2 -4.1zM54.8 535.1a1.9 1.7 136 1 0 -2.8 2.6a1.9 1.7 136 1 0 2.8 -2.6zM33.4 616a2.5 1.7 8 1 0 4.9 0.7a2.5 1.7 8 1 0 -4.9 -0.7zM70.2 562.1a2.1 1.5 43 1 0 3 2.8a2.1 1.5 43 1 0 -3 -2.8zM134.4 514a1.8 1.4 150 1 0 -3.1 1.8a1.8 1.4 150 1 0 3.1 -1.8zM136.9 597.4a2.5 1.9 77 1 0 1.1 4.9a2.5 1.9 77 1 0 -1.1 -4.9zM106.9 480.2a2.1 1.7 30 1 0 3.6 2.1a2.1 1.7 30 1 0 -3.6 -2.1zM119.2 497.2a1.9 1.3 43 1 0 2.8 2.7a1.9 1.3 43 1 0 -2.8 -2.7zM76 550.5a2.2 1.5 1 1 0 4.4 0.1a2.2 1.5 1 1 0 -4.4 -0.1zM165.7 597.7a1.8 1.5 125 1 0 -2.1 2.9a1.8 1.5 125 1 0 2.1 -2.9zM153.8 475.7a2.3 1.7 11 1 0 4.6 0.9a2.3 1.7 11 1 0 -4.6 -0.9zM44.4 603.6a2.6 1.6 103 1 0 -1.2 5a2.6 1.6 103 1 0 1.2 -5zM127.3 594.6a2.2 1.5 130 1 0 -2.8 3.3a2.2 1.5 130 1 0 2.8 -3.3zM131.6 503.9a2.3 1.4 65 1 0 1.9 4.2a2.3 1.4 65 1 0 -1.9 -4.2zM157.9 573.1a2.2 1.3 107 1 0 -1.3 4.1a2.2 1.3 107 1 0 1.3 -4.1zM72.3 569.6a2.6 1.6 158 1 0 -4.9 1.9a2.6 1.6 158 1 0 4.9 -1.9zM148.9 472.2a2 1.5 152 1 0 -3.6 1.9a2 1.5 152 1 0 3.6 -1.9zM63.5 533.8a2.4 1.5 91 1 0 -0.1 4.9a2.4 1.5 91 1 0 0.1 -4.9zM36.6 603.7a2.1 1.4 55 1 0 2.4 3.5a2.1 1.4 55 1 0 -2.4 -3.5zM155.5 472.9a2.2 1.5 167 1 0 -4.4 1a2.2 1.5 167 1 0 4.4 -1zM138.2 580.4a2.3 1.4 63 1 0 2.1 4.2a2.3 1.4 63 1 0 -2.1 -4.2zM44 564.6a2.5 1.6 163 1 0 -4.7 1.4a2.5 1.6 163 1 0 4.7 -1.4zM161.4 614.3a2 1.8 27 1 0 3.6 1.8a2 1.8 27 1 0 -3.6 -1.8zM121.1 528.7a2.4 1.4 38 1 0 3.7 3a2.4 1.4 38 1 0 -3.7 -3zM105.1 611.9a2.1 1.6 147 1 0 -3.6 2.3a2.1 1.6 147 1 0 3.6 -2.3zM127.5 611.1a2.2 1.2 154 1 0 -3.9 1.9a2.2 1.2 154 1 0 3.9 -1.9zM127.4 472.6a2.4 1.4 157 1 0 -4.5 1.9a2.4 1.4 157 1 0 4.5 -1.9zM35.6 560a2.6 1.7 95 1 0 -0.5 5.1a2.6 1.7 95 1 0 0.5 -5.1zM120.7 563.5a2.2 1.5 0 1 0 4.4 0a2.2 1.5 0 1 0 -4.4 0zM96.4 592.9a2.3 1.5 2 1 0 4.5 0.2a2.3 1.5 2 1 0 -4.5 -0.2zM92.2 563.8a2.3 1.6 151 1 0 -4 2.2a2.3 1.6 151 1 0 4 -2.2zM101.9 485.5a2.6 1.7 88 1 0 0.2 5.3a2.6 1.7 88 1 0 -0.2 -5.3zM86 518a2.5 1.7 53 1 0 3 4a2.5 1.7 53 1 0 -3 -4zM173.8 487.7a2.1 1.5 162 1 0 -4.1 1.3a2.1 1.5 162 1 0 4.1 -1.3zM148.6 481.6a2.2 1.4 114 1 0 -1.8 3.9a2.2 1.4 114 1 0 1.8 -3.9zM65.4 538.5a2.3 1.6 22 1 0 4.2 1.7a2.3 1.6 22 1 0 -4.2 -1.7zM52.9 549.6a2 1.5 26 1 0 3.5 1.7a2 1.5 26 1 0 -3.5 -1.7zM133.4 494.4a2.8 1.8 159 1 0 -5.2 2a2.8 1.8 159 1 0 5.2 -2zM50.5 563.9a2.6 1.5 0 1 0 5.3 0a2.6 1.5 0 1 0 -5.3 0zM104.6 527.8a2.1 1.4 64 1 0 1.8 3.7a2.1 1.4 64 1 0 -1.8 -3.7zM152.8 589.3a2.1 1.6 43 1 0 3.1 3a2.1 1.6 43 1 0 -3.1 -3zM95.6 578.6a2.3 1.6 33 1 0 3.8 2.5a2.3 1.6 33 1 0 -3.8 -2.5zM32.5 589.1a2.4 1.4 71 1 0 1.5 4.6a2.4 1.4 71 1 0 -1.5 -4.6zM95.6 503a2.3 1.5 78 1 0 1 4.5a2.3 1.5 78 1 0 -1 -4.5zM137.1 595.4a2.1 1.7 162 1 0 -4.1 1.3a2.1 1.7 162 1 0 4.1 -1.3zM139.8 520.1a2.6 1.5 115 1 0 -2.3 4.6a2.6 1.5 115 1 0 2.3 -4.6zM116.1 479.9a2.7 1.6 174 1 0 -5.4 0.5a2.7 1.6 174 1 0 5.4 -0.5zM92.9 569.9a2.5 1.7 9 1 0 4.9 0.8a2.5 1.7 9 1 0 -4.9 -0.8zM139.1 540.5a2 1.4 174 1 0 -4 0.4a2 1.4 174 1 0 4 -0.4zM134.9 567.1a2.7 1.9 96 1 0 -0.6 5.3a2.7 1.9 96 1 0 0.6 -5.3zM85.3 592.9a2.7 1.8 82 1 0 0.7 5.4a2.7 1.8 82 1 0 -0.7 -5.4zM148.8 499a2.3 1.4 166 1 0 -4.4 1.1a2.3 1.4 166 1 0 4.4 -1.1zM161.1 525.4a1.8 1.6 16 1 0 3.5 1.1a1.8 1.6 16 1 0 -3.5 -1.1zM154.7 507.9a2.1 1.4 129 1 0 -2.6 3.3a2.1 1.4 129 1 0 2.6 -3.3zM81.2 560.9a1.8 1.4 77 1 0 0.8 3.6a1.8 1.4 77 1 0 -0.8 -3.6zM138.1 542.8a1.9 1.5 57 1 0 2 3.1a1.9 1.5 57 1 0 -2 -3.1zM41.9 577.2a1.9 1.5 118 1 0 -1.8 3.4a1.9 1.5 118 1 0 1.8 -3.4zM49.2 563.9a2.6 1.6 152 1 0 -4.7 2.4a2.6 1.6 152 1 0 4.7 -2.4zM88.6 552a2.4 1.5 155 1 0 -4.5 2a2.4 1.5 155 1 0 4.5 -2zM78.1 591.8a2 1.5 25 1 0 3.6 1.7a2 1.5 25 1 0 -3.6 -1.7zM98.7 532.1a2.2 1.7 103 1 0 -1 4.3a2.2 1.7 103 1 0 1 -4.3zM104.6 595.1a2.4 1.2 27 1 0 4.2 2.2a2.4 1.2 27 1 0 -4.2 -2.2zM124 554.1a2.2 1.5 152 1 0 -3.9 2a2.2 1.5 152 1 0 3.9 -2zM71.5 505.1a2.5 1.6 26 1 0 4.4 2.2a2.5 1.6 26 1 0 -4.4 -2.2zM102.7 490.5a2 1.4 104 1 0 -1 3.8a2 1.4 104 1 0 1 -3.8zM109 507.4a2.1 1.4 177 1 0 -4.2 0.2a2.1 1.4 177 1 0 4.2 -0.2zM52.7 530.9a1.8 1.3 107 1 0 -1.1 3.5a1.8 1.3 107 1 0 1.1 -3.5zM132.3 483.9a2.4 1.5 67 1 0 1.8 4.4a2.4 1.5 67 1 0 -1.8 -4.4zM59.1 577.2a2 1.5 166 1 0 -3.9 0.9a2 1.5 166 1 0 3.9 -0.9zM116.7 471.7a2 1.7 68 1 0 1.4 3.7a2 1.7 68 1 0 -1.4 -3.7zM93.2 584.6a2 1.3 113 1 0 -1.6 3.7a2 1.3 113 1 0 1.6 -3.7zM136.3 602a2.3 1.5 52 1 0 2.8 3.7a2.3 1.5 52 1 0 -2.8 -3.7z"/>
<path fill="#3b2da2" d="M40.8 472a2.3 0.9 129 1 0 -3 3.6a2.3 0.9 129 1 0 3 -3.6zM44.8 472.7a3.2 1.1 130 1 0 -4.2 4.9a3.2 1.1 130 1 0 4.2 -4.9zM47.9 473.1a2.9 1 135 1 0 -4.2 4.1a2.9 1 135 1 0 4.2 -4.1zM53.5 472.8a2.7 0.9 134 1 0 -3.8 3.9a2.7 0.9 134 1 0 3.8 -3.9zM89.9 473.8a2.5 1 140 1 0 -3.9 3.3a2.5 1 140 1 0 3.9 -3.3zM98.9 474.6a2.6 0.9 132 1 0 -3.5 3.9a2.6 0.9 132 1 0 3.5 -3.9zM98.7 475.4a2.8 1 136 1 0 -4 3.8a2.8 1 136 1 0 4 -3.8zM100.6 478.2a2.4 0.9 146 1 0 -3.9 2.6a2.4 0.9 146 1 0 3.9 -2.6zM114.3 476.7a2.7 0.8 141 1 0 -4.2 3.4a2.7 0.8 141 1 0 4.2 -3.4zM131 476a2.8 1.1 135 1 0 -3.9 3.9a2.8 1.1 135 1 0 3.9 -3.9zM46.1 479.7a2.6 0.8 131 1 0 -3.4 3.9a2.6 0.8 131 1 0 3.4 -3.9zM58.2 481.9a2.8 1 146 1 0 -4.6 3a2.8 1 146 1 0 4.6 -3zM96.8 481.2a2.6 0.8 128 1 0 -3.2 4a2.6 0.8 128 1 0 3.2 -4zM112.4 481.7a2.7 0.9 127 1 0 -3.3 4.3a2.7 0.9 127 1 0 3.3 -4.3zM116.8 480.4a2.8 1 128 1 0 -3.5 4.4a2.8 1 128 1 0 3.5 -4.4zM47.3 490a2.5 1 132 1 0 -3.5 3.7a2.5 1 132 1 0 3.5 -3.7zM67 488.5a2.9 1 135 1 0 -4.1 4.1a2.9 1 135 1 0 4.1 -4.1zM86.2 488.9a3.2 1.1 135 1 0 -4.6 4.4a3.2 1.1 135 1 0 4.6 -4.4zM94.7 488.5a2.2 0.8 137 1 0 -3.2 3a2.2 0.8 137 1 0 3.2 -3zM98.1 486.9a2.3 0.8 127 1 0 -2.8 3.6a2.3 0.8 127 1 0 2.8 -3.6zM71.5 492.2a2.5 1.1 123 1 0 -2.7 4.2a2.5 1.1 123 1 0 2.7 -4.2zM76.4 493.4a2.4 0.8 134 1 0 -3.4 3.4a2.4 0.8 134 1 0 3.4 -3.4zM98.7 492.6a2.9 1 136 1 0 -4.2 4a2.9 1 136 1 0 4.2 -4zM54.5 496.3a2.3 0.8 135 1 0 -3.3 3.3a2.3 0.8 135 1 0 3.3 -3.3zM56.7 497a2.3 0.8 124 1 0 -2.6 3.7a2.3 0.8 124 1 0 2.6 -3.7zM71.2 494.9a2.6 0.9 143 1 0 -4.2 3.1a2.6 0.9 143 1 0 4.2 -3.1zM86.3 495.8a2.9 1.1 145 1 0 -4.8 3.2a2.9 1.1 145 1 0 4.8 -3.2zM37.7 499.6a2.9 0.9 141 1 0 -4.5 3.6a2.9 0.9 141 1 0 4.5 -3.6zM59.8 500.8a2.9 1.1 142 1 0 -4.5 3.5a2.9 1.1 142 1 0 4.5 -3.5zM68.4 498.6a2.6 0.8 145 1 0 -4.2 2.9a2.6 0.8 145 1 0 4.2 -2.9zM76.8 499.9a2.9 0.9 144 1 0 -4.7 3.3a2.9 0.9 144 1 0 4.7 -3.3zM103.9 498.6a2.3 0.9 130 1 0 -2.9 3.5a2.3 0.9 130 1 0 2.9 -3.5zM35.9 501.7a2.6 1 126 1 0 -3.1 4.2a2.6 1 126 1 0 3.1 -4.2zM70.4 504.3a2.7 1 136 1 0 -4 3.8a2.7 1 136 1 0 4 -3.8zM75 503.6a2.3 0.8 144 1 0 -3.7 2.7a2.3 0.8 144 1 0 3.7 -2.7zM88.8 503a2.7 0.9 146 1 0 -4.5 2.9a2.7 0.9 146 1 0 4.5 -2.9zM100.4 502a2.8 0.9 136 1 0 -4 3.9a2.8 0.9 136 1 0 4 -3.9zM37 508.6a2.3 0.8 145 1 0 -3.8 2.6a2.3 0.8 145 1 0 3.8 -2.6zM61.3 505.8a3 1.1 138 1 0 -4.4 3.9a3 1.1 138 1 0 4.4 -3.9zM41.9 509.6a2.5 0.8 127 1 0 -3 4a2.5 0.8 127 1 0 3 -4zM48.9 509.7a2.8 0.9 145 1 0 -4.6 3.1a2.8 0.9 145 1 0 4.6 -3.1zM59.2 512a2.7 0.8 146 1 0 -4.5 3a2.7 0.8 146 1 0 4.5 -3zM47.1 515.8a2.5 0.9 144 1 0 -4 2.8a2.5 0.9 144 1 0 4 -2.8zM64.7 513.6a3.2 1 136 1 0 -4.7 4.4a3.2 1 136 1 0 4.7 -4.4zM67.2 514.9a2.4 0.9 135 1 0 -3.4 3.3a2.4 0.9 135 1 0 3.4 -3.3zM47.8 517.6a2.7 1 136 1 0 -3.9 3.6a2.7 1 136 1 0 3.9 -3.6zM66 518.7a2.8 0.9 126 1 0 -3.3 4.5a2.8 0.9 126 1 0 3.3 -4.5zM71.8 517.7a3.1 1.1 123 1 0 -3.4 5.2a3.1 1.1 123 1 0 3.4 -5.2zM74.7 519.2a2.7 1 123 1 0 -3 4.5a2.7 1 123 1 0 3 -4.5zM47.2 521.3a2.5 1 140 1 0 -3.9 3.2a2.5 1 140 1 0 3.9 -3.2zM77.9 522a2.7 0.9 128 1 0 -3.4 4.2a2.7 0.9 128 1 0 3.4 -4.2zM37.2 530a2.7 0.9 141 1 0 -4.3 3.4a2.7 0.9 141 1 0 4.3 -3.4zM66.9 529.3a2.7 1.1 130 1 0 -3.5 4.1a2.7 1.1 130 1 0 3.5 -4.1zM37.7 534.1a2.6 0.8 128 1 0 -3.2 4a2.6 0.8 128 1 0 3.2 -4zM42.5 538.7a3.1 1.1 137 1 0 -4.5 4.1a3.1 1.1 137 1 0 4.5 -4.1zM47.4 535.8a2.8 0.9 135 1 0 -4 4a2.8 0.9 135 1 0 4 -4zM51.8 537.7a2.8 0.9 132 1 0 -3.8 4.2a2.8 0.9 132 1 0 3.8 -4.2zM61.9 536.7a3 1.1 146 1 0 -4.9 3.3a3 1.1 146 1 0 4.9 -3.3zM37.8 541.3a2.2 0.8 146 1 0 -3.7 2.5a2.2 0.8 146 1 0 3.7 -2.5zM62.2 542.6a2.6 1 132 1 0 -3.4 3.8a2.6 1 132 1 0 3.4 -3.8zM61.9 547.1a2.4 0.9 141 1 0 -3.7 3a2.4 0.9 141 1 0 3.7 -3zM40.1 563.1a3.2 0.9 128 1 0 -4 5.1a3.2 0.9 128 1 0 4 -5.1zM49.3 564.2a2.4 0.8 137 1 0 -3.5 3.3a2.4 0.8 137 1 0 3.5 -3.3zM54.1 562.2a2.9 0.8 131 1 0 -3.9 4.4a2.9 0.8 131 1 0 3.9 -4.4zM84 608a2.2 1.7 99 1 0 -0.7 4.4a2.2 1.7 99 1 0 0.7 -4.4zM123.5 591a2.3 1.8 101 1 0 -0.9 4.4a2.3 1.8 101 1 0 0.9 -4.4zM119.9 549.1a2.4 1.6 90 1 0 0 4.8a2.4 1.6 90 1 0 0 -4.8zM125.7 484.8a2.1 1.3 54 1 0 2.5 3.5a2.1 1.3 54 1 0 -2.5 -3.5zM158.1 565.6a1.9 1.6 21 1 0 3.6 1.4a1.9 1.6 21 1 0 -3.6 -1.4zM154.2 541.2a2.1 1.9 173 1 0 -4.2 0.5a2.1 1.9 173 1 0 4.2 -0.5zM103.6 584.2a2.5 1.6 122 1 0 -2.7 4.2a2.5 1.6 122 1 0 2.7 -4.2zM117.8 562a2.5 1.7 78 1 0 1 5a2.5 1.7 78 1 0 -1 -5zM142.3 614.1a2.6 1.7 170 1 0 -5.2 0.9a2.6 1.7 170 1 0 5.2 -0.9zM131.6 546.9a2.4 1.6 140 1 0 -3.7 3a2.4 1.6 140 1 0 3.7 -3zM97.8 573.9a2.3 1.6 106 1 0 -1.3 4.3a2.3 1.6 106 1 0 1.3 -4.3zM52.1 584.9a2.3 1.6 164 1 0 -4.4 1.2a2.3 1.6 164 1 0 4.4 -1.2zM138.7 607a2.4 1.6 141 1 0 -3.7 3a2.4 1.6 141 1 0 3.7 -3zM127.5 555a2.2 1.3 40 1 0 3.3 2.8a2.2 1.3 40 1 0 -3.3 -2.8zM86.9 583a2.9 1.7 162 1 0 -5.5 1.7a2.9 1.7 162 1 0 5.5 -1.7zM120.2 539.8a2.2 1.5 94 1 0 -0.4 4.4a2.2 1.5 94 1 0 0.4 -4.4zM101.6 605.4a2.3 1.7 65 1 0 1.9 4.1a2.3 1.7 65 1 0 -1.9 -4.1zM73.9 538.8a2.3 1.7 83 1 0 0.5 4.7a2.3 1.7 83 1 0 -0.5 -4.7zM76.4 602.3a2.6 1.4 134 1 0 -3.6 3.7a2.6 1.4 134 1 0 3.6 -3.7zM136.6 521.1a2.4 1.5 164 1 0 -4.6 1.3a2.4 1.5 164 1 0 4.6 -1.3zM88.9 608.6a2.2 1.5 3 1 0 4.3 0.3a2.2 1.5 3 1 0 -4.3 -0.3zM130.4 593a2.2 1.3 165 1 0 -4.2 1.1a2.2 1.3 165 1 0 4.2 -1.1zM116.5 597.7a2 1.5 166 1 0 -3.9 1a2 1.5 166 1 0 3.9 -1zM153.1 489.2a2.2 1.8 55 1 0 2.6 3.7a2.2 1.8 55 1 0 -2.6 -3.7zM69.5 533.7a2.9 1.8 64 1 0 2.5 5.2a2.9 1.8 64 1 0 -2.5 -5.2zM58.5 580.6a2.3 1.4 159 1 0 -4.4 1.6a2.3 1.4 159 1 0 4.4 -1.6zM153.9 522.7a2 1.2 47 1 0 2.7 3a2 1.2 47 1 0 -2.7 -3zM114.9 520.7a2.1 1.6 76 1 0 1 4.2a2.1 1.6 76 1 0 -1 -4.2zM44.6 600.3a2.7 1.9 140 1 0 -4.1 3.4a2.7 1.9 140 1 0 4.1 -3.4zM103.2 494.7a2.2 1.3 50 1 0 2.7 3.3a2.2 1.3 50 1 0 -2.7 -3.3zM151.1 574a2.1 1.5 10 1 0 4.2 0.8a2.1 1.5 10 1 0 -4.2 -0.8zM161.1 552.8a2 1.5 67 1 0 1.5 3.6a2 1.5 67 1 0 -1.5 -3.6zM53.7 569.9a2.4 1.6 97 1 0 -0.6 4.8a2.4 1.6 97 1 0 0.6 -4.8zM167.1 513.2a2.6 1.7 172 1 0 -5.1 0.6a2.6 1.7 172 1 0 5.1 -0.6zM115.3 510.8a2.3 1.4 49 1 0 2.9 3.4a2.3 1.4 49 1 0 -2.9 -3.4zM128.7 542.2a2.5 1.5 160 1 0 -4.6 1.6a2.5 1.5 160 1 0 4.6 -1.6zM62.7 539.2a1.9 1.6 49 1 0 2.5 2.9a1.9 1.6 49 1 0 -2.5 -2.9zM130.5 505.1a1.9 1.6 163 1 0 -3.7 1.1a1.9 1.6 163 1 0 3.7 -1.1zM143.5 565.7a2.4 1.6 82 1 0 0.6 4.9a2.4 1.6 82 1 0 -0.6 -4.9zM119.9 531.8a2.2 1.4 74 1 0 1.2 4.3a2.2 1.4 74 1 0 -1.2 -4.3zM92.6 552a2.5 1.7 50 1 0 3.2 3.9a2.5 1.7 50 1 0 -3.2 -3.9zM132.5 528a1.9 1.4 53 1 0 2.3 3.1a1.9 1.4 53 1 0 -2.3 -3.1zM148.3 486.8a1.9 1.5 52 1 0 2.3 3a1.9 1.5 52 1 0 -2.3 -3zM101.7 510.1a2.9 1.6 113 1 0 -2.3 5.2a2.9 1.6 113 1 0 2.3 -5.2zM111.7 569.2a2.1 1.6 164 1 0 -4.1 1.1a2.1 1.6 164 1 0 4.1 -1.1zM116.6 499.7a2.5 1.3 92 1 0 -0.2 5a2.5 1.3 92 1 0 0.2 -5zM139.6 565.5a2.2 1.5 123 1 0 -2.4 3.7a2.2 1.5 123 1 0 2.4 -3.7zM123.6 588.1a2.2 1.6 7 1 0 4.4 0.6a2.2 1.6 7 1 0 -4.4 -0.6zM153 558.3a2.3 1.5 93 1 0 -0.3 4.7a2.3 1.5 93 1 0 0.3 -4.7zM46.3 547.9a2.8 1.6 102 1 0 -1.2 5.4a2.8 1.6 102 1 0 1.2 -5.4zM160.5 594.5a2.1 1.4 104 1 0 -1 4.1a2.1 1.4 104 1 0 1 -4.1zM106.5 521.5a2.2 1.6 55 1 0 2.5 3.6a2.2 1.6 55 1 0 -2.5 -3.6zM163.2 490.5a2.7 1.7 63 1 0 2.4 4.8a2.7 1.7 63 1 0 -2.4 -4.8zM134.6 535.3a2.3 1.9 94 1 0 -0.3 4.5a2.3 1.9 94 1 0 0.3 -4.5zM142.3 602.1a2.2 1.5 95 1 0 -0.4 4.3a2.2 1.5 95 1 0 0.4 -4.3zM68.5 589.1a2.2 1.6 151 1 0 -3.8 2.1a2.2 1.6 151 1 0 3.8 -2.1zM83.2 568.1a2.3 1.5 169 1 0 -4.5 0.9a2.3 1.5 169 1 0 4.5 -0.9zM69.8 549.5a2.3 1.7 28 1 0 4.1 2.2a2.3 1.7 28 1 0 -4.1 -2.2zM103.8 542.9a2.4 1.4 153 1 0 -4.2 2.2a2.4 1.4 153 1 0 4.2 -2.2zM139.8 482.2a2.9 1.8 131 1 0 -3.8 4.3a2.9 1.8 131 1 0 3.8 -4.3zM74.3 582.5a2.7 1.5 60 1 0 2.6 4.7a2.7 1.5 60 1 0 -2.6 -4.7zM58.6 544.7a2.5 1.6 39 1 0 3.9 3.3a2.5 1.6 39 1 0 -3.9 -3.3zM60.3 607.9a1.8 1.4 100 1 0 -0.7 3.6a1.8 1.4 100 1 0 0.7 -3.6zM132.5 570.5a2.3 1.5 173 1 0 -4.6 0.5a2.3 1.5 173 1 0 4.6 -0.5zM101.9 498.1a2.6 1.6 127 1 0 -3.2 4.1a2.6 1.6 127 1 0 3.2 -4.1zM146.6 535.1a2.3 1.8 144 1 0 -3.7 2.6a2.3 1.8 144 1 0 3.7 -2.6zM164.6 581.5a2.1 1.7 114 1 0 -1.8 3.9a2.1 1.7 114 1 0 1.8 -3.9zM138.7 586.6a2.5 1.4 105 1 0 -1.3 4.8a2.5 1.4 105 1 0 1.3 -4.8zM104.1 548.1a2.2 1.6 98 1 0 -0.7 4.4a2.2 1.6 98 1 0 0.7 -4.4zM120.1 556.2a1.9 1.4 106 1 0 -1.1 3.7a1.9 1.4 106 1 0 1.1 -3.7zM100.2 481.3a2.7 1.6 55 1 0 3 4.4a2.7 1.6 55 1 0 -3 -4.4zM97.9 551.9a2.6 1.6 30 1 0 4.5 2.6a2.6 1.6 30 1 0 -4.5 -2.6zM69.5 556.1a2.4 1.4 152 1 0 -4.2 2.2a2.4 1.4 152 1 0 4.2 -2.2zM91 543.8a2.1 1.4 159 1 0 -4 1.5a2.1 1.4 159 1 0 4 -1.5zM145.6 558.8a2.3 1.7 103 1 0 -1.1 4.5a2.3 1.7 103 1 0 1.1 -4.5zM114.1 543.9a2.3 1.7 72 1 0 1.4 4.3a2.3 1.7 72 1 0 -1.4 -4.3zM164.8 500.4a2.2 1.7 72 1 0 1.3 4.1a2.2 1.7 72 1 0 -1.3 -4.1zM47 568.5a1.9 1.4 154 1 0 -3.4 1.7a1.9 1.4 154 1 0 3.4 -1.7zM163.3 473.7a2.1 1.5 153 1 0 -3.7 1.9a2.1 1.5 153 1 0 3.7 -1.9zM53.2 600.6a2.6 1.7 143 1 0 -4.1 3.1a2.6 1.7 143 1 0 4.1 -3.1zM123.8 551.6a2 1.3 37 1 0 3.2 2.5a2 1.3 37 1 0 -3.2 -2.5zM159.4 610.2a2.5 1.5 29 1 0 4.4 2.5a2.5 1.5 29 1 0 -4.4 -2.5zM132.2 489.7a2.5 1.4 143 1 0 -4 3a2.5 1.4 143 1 0 4 -3zM52.6 600.6a2.6 1.8 2 1 0 5.2 0.3a2.6 1.8 2 1 0 -5.2 -0.3zM94.3 543.9a2.5 1.3 117 1 0 -2.3 4.4a2.5 1.3 117 1 0 2.3 -4.4zM54.4 608.8a2.1 1.5 171 1 0 -4.2 0.6a2.1 1.5 171 1 0 4.2 -0.6zM133.5 607.5a2.3 1.3 125 1 0 -2.7 3.8a2.3 1.3 125 1 0 2.7 -3.8zM42.2 613.9a1.9 1.3 86 1 0 0.2 3.8a1.9 1.3 86 1 0 -0.2 -3.8zM32.7 574.2a2.3 1.6 69 1 0 1.6 4.3a2.3 1.6 69 1 0 -1.6 -4.3zM104.6 579.5a2.4 1.5 147 1 0 -4 2.5a2.4 1.5 147 1 0 4 -2.5zM79.9 508a2.4 1.6 161 1 0 -4.5 1.5a2.4 1.6 161 1 0 4.5 -1.5zM76.8 602a2.4 1.5 16 1 0 4.7 1.3a2.4 1.5 16 1 0 -4.7 -1.3zM57.5 530a2.2 1.6 29 1 0 3.9 2.2a2.2 1.6 29 1 0 -3.9 -2.2zM99.8 560a2.1 1.4 156 1 0 -3.8 1.6a2.1 1.4 156 1 0 3.8 -1.6zM72.5 573.4a2 1.4 99 1 0 -0.7 3.9a2 1.4 99 1 0 0.7 -3.9zM169.9 526.7a2.3 1.4 39 1 0 3.5 2.9a2.3 1.4 39 1 0 -3.5 -2.9zM101.9 529.7a2.6 1.6 81 1 0 0.8 5.2a2.6 1.6 81 1 0 -0.8 -5.2zM49.2 591.7a2 1.6 84 1 0 0.4 3.9a2 1.6 84 1 0 -0.4 -3.9zM145.7 582.6a2.5 1.6 158 1 0 -4.6 1.8a2.5 1.6 158 1 0 4.6 -1.8zM158.7 489.1a2.1 1.3 77 1 0 0.9 4.2a2.1 1.3 77 1 0 -0.9 -4.2zM69.2 526.2a2.3 1.7 7 1 0 4.6 0.6a2.3 1.7 7 1 0 -4.6 -0.6zM34.3 604.1a2.8 1.5 125 1 0 -3.3 4.6a2.8 1.5 125 1 0 3.3 -4.6zM149.9 494.9a1.8 1.4 144 1 0 -3 2.1a1.8 1.4 144 1 0 3 -2.1zM111.6 572.9a2.3 1.5 125 1 0 -2.7 3.8a2.3 1.5 125 1 0 2.7 -3.8zM77.8 499.4a2.4 1.5 72 1 0 1.4 4.6a2.4 1.5 72 1 0 -1.4 -4.6zM98.7 545.2a2.7 1.8 84 1 0 0.5 5.4a2.7 1.8 84 1 0 -0.5 -5.4zM144.8 544.4a2.2 1.8 153 1 0 -3.9 1.9a2.2 1.8 153 1 0 3.9 -1.9zM160.6 521.9a2.4 1.6 119 1 0 -2.3 4.1a2.4 1.6 119 1 0 2.3 -4.1zM110.8 526.7a2.5 1.4 119 1 0 -2.5 4.3a2.5 1.4 119 1 0 2.5 -4.3zM100.1 536.1a2.6 1.9 15 1 0 5.1 1.4a2.6 1.9 15 1 0 -5.1 -1.4zM105.6 504.7a2.5 1.4 173 1 0 -5 0.6a2.5 1.4 173 1 0 5 -0.6zM73.7 556.6a2.7 2 140 1 0 -4.2 3.4a2.7 2 140 1 0 4.2 -3.4zM147.3 531.6a2.4 1.7 173 1 0 -4.8 0.5a2.4 1.7 173 1 0 4.8 -0.5zM85.7 586.6a2.4 1.3 9 1 0 4.8 0.8a2.4 1.3 9 1 0 -4.8 -0.8zM126.4 578.7a2.1 1.5 140 1 0 -3.2 2.7a2.1 1.5 140 1 0 3.2 -2.7zM151.4 561.5a2.2 1.8 148 1 0 -3.7 2.3a2.2 1.8 148 1 0 3.7 -2.3zM55.5 591.6a2.1 1.5 166 1 0 -4.1 1a2.1 1.5 166 1 0 4.1 -1zM45 553.4a1.8 1.3 88 1 0 0.1 3.7a1.8 1.3 88 1 0 -0.1 -3.7zM168.6 519.5a2.1 1.5 70 1 0 1.4 3.9a2.1 1.5 70 1 0 -1.4 -3.9zM85.2 494.5a2.5 1.7 117 1 0 -2.3 4.4a2.5 1.7 117 1 0 2.3 -4.4zM61.9 606.3a2.6 1.6 5 1 0 5.2 0.5a2.6 1.6 5 1 0 -5.2 -0.5zM172.8 608.8a2.1 1.7 101 1 0 -0.8 4a2.1 1.7 101 1 0 0.8 -4zM142.6 521.3a2.8 1.7 64 1 0 2.4 5.1a2.8 1.7 64 1 0 -2.4 -5.1zM57.7 589.3a2.2 1.7 93 1 0 -0.3 4.3a2.2 1.7 93 1 0 0.3 -4.3zM169.1 472.2a2.5 1.6 23 1 0 4.6 1.9a2.5 1.6 23 1 0 -4.6 -1.9zM85.5 555.5a2.1 1.6 53 1 0 2.5 3.3a2.1 1.6 53 1 0 -2.5 -3.3zM125.3 546.3a2.1 1.7 115 1 0 -1.8 3.8a2.1 1.7 115 1 0 1.8 -3.8zM126.8 615.2a1.9 1.3 46 1 0 2.7 2.8a1.9 1.3 46 1 0 -2.7 -2.8zM92.6 549.5a2.5 1.6 5 1 0 4.9 0.5a2.5 1.6 5 1 0 -4.9 -0.5zM139 578a2 1.4 5 1 0 4 0.4a2 1.4 5 1 0 -4 -0.4zM166 555.6a2.3 1.4 20 1 0 4.3 1.6a2.3 1.4 20 1 0 -4.3 -1.6zM80.2 523.5a1.9 1.5 30 1 0 3.3 1.9a1.9 1.5 30 1 0 -3.3 -1.9zM154.5 605.6a1.9 1.4 131 1 0 -2.5 2.8a1.9 1.4 131 1 0 2.5 -2.8zM90.6 493.3a2.1 1.7 89 1 0 0 4.3a2.1 1.7 89 1 0 0 -4.3zM80.9 538.9a1.9 1.6 57 1 0 2 3.2a1.9 1.6 57 1 0 -2 -3.2zM175 601.9a2.7 1.7 174 1 0 -5.4 0.5a2.7 1.7 174 1 0 5.4 -0.5zM156.8 596.3a2.3 1.5 130 1 0 -2.9 3.5a2.3 1.5 130 1 0 2.9 -3.5zM124.8 495.3a1.8 1.5 172 1 0 -3.7 0.5a1.8 1.5 172 1 0 3.7 -0.5zM78.8 577.7a2.2 1.8 134 1 0 -3.1 3.1a2.2 1.8 134 1 0 3.1 -3.1zM173.9 538.6a2 1.7 143 1 0 -3.3 2.4a2 1.7 143 1 0 3.3 -2.4zM166.4 552a1.7 1.4 156 1 0 -3.2 1.4a1.7 1.4 156 1 0 3.2 -1.4zM131.8 535.2a2.2 1.8 152 1 0 -3.9 2.1a2.2 1.8 152 1 0 3.9 -2.1zM110.2 474a2.5 1.4 156 1 0 -4.5 2a2.5 1.4 156 1 0 4.5 -2zM105.1 516.4a2.6 1.6 138 1 0 -4 3.5a2.6 1.6 138 1 0 4 -3.5zM88.7 500.9a2.6 1.8 114 1 0 -2.2 4.7a2.6 1.8 114 1 0 2.2 -4.7zM109.9 497.3a2.5 1.5 99 1 0 -0.8 4.8a2.5 1.5 99 1 0 0.8 -4.8zM106.5 614.2a2 1.5 33 1 0 3.4 2.2a2 1.5 33 1 0 -3.4 -2.2zM61.5 614.4a2 1.5 92 1 0 -0.2 4a2 1.5 92 1 0 0.2 -4zM48.2 615.2a2.5 1.4 32 1 0 4.2 2.7a2.5 1.4 32 1 0 -4.2 -2.7zM64.5 522.8a2.2 1.7 110 1 0 -1.6 4.2a2.2 1.7 110 1 0 1.6 -4.2zM49.7 553a2.1 1.8 72 1 0 1.3 4.1a2.1 1.8 72 1 0 -1.3 -4.1zM174 553.6a1.8 1.2 171 1 0 -3.5 0.5a1.8 1.2 171 1 0 3.5 -0.5zM70.9 530.2a2.2 1.4 54 1 0 2.5 3.6a2.2 1.4 54 1 0 -2.5 -3.6zM169.4 558.6a1.9 1.6 70 1 0 1.3 3.6a1.9 1.6 70 1 0 -1.3 -3.6zM154.6 546.7a2.3 1.5 141 1 0 -3.6 2.8a2.3 1.5 141 1 0 3.6 -2.8zM36 567a1.9 1.5 67 1 0 1.5 3.5a1.9 1.5 67 1 0 -1.5 -3.5zM123.7 474.8a2.5 1.5 153 1 0 -4.4 2.2a2.5 1.5 153 1 0 4.4 -2.2zM43.3 554.3a1.9 1.4 161 1 0 -3.7 1.2a1.9 1.4 161 1 0 3.7 -1.2zM69.3 575.6a2 1.3 91 1 0 -0.1 4a2 1.3 91 1 0 0.1 -4zM139 511.6a2.4 1.7 172 1 0 -4.8 0.6a2.4 1.7 172 1 0 4.8 -0.6zM80.8 599.6a2.7 1.6 37 1 0 4.3 3.3a2.7 1.6 37 1 0 -4.3 -3.3zM80.4 509.3a2.1 1.5 20 1 0 4 1.5a2.1 1.5 20 1 0 -4 -1.5zM155.9 513.7a2.4 1.4 73 1 0 1.4 4.6a2.4 1.4 73 1 0 -1.4 -4.6zM122.6 477.5a2.7 1.7 31 1 0 4.5 2.8a2.7 1.7 31 1 0 -4.5 -2.8zM87 572.7a2.5 1.4 109 1 0 -1.7 4.7a2.5 1.4 109 1 0 1.7 -4.7zM88.2 546.4a2.2 1.5 157 1 0 -4 1.7a2.2 1.5 157 1 0 4 -1.7zM127.5 603.7a2.2 1.6 86 1 0 0.3 4.5a2.2 1.6 86 1 0 -0.3 -4.5zM72.5 565.5a1.9 1.3 99 1 0 -0.6 3.8a1.9 1.3 99 1 0 0.6 -3.8zM67.7 515.8a2.1 1.3 55 1 0 2.4 3.5a2.1 1.3 55 1 0 -2.4 -3.5zM69.5 543.8a2.2 1.3 38 1 0 3.4 2.7a2.2 1.3 38 1 0 -3.4 -2.7zM131.1 498.5a2.4 1.4 106 1 0 -1.3 4.6a2.4 1.4 106 1 0 1.3 -4.6zM88.5 606.3a2.1 1.3 168 1 0 -4 0.9a2.1 1.3 168 1 0 4 -0.9zM147.1 549.1a2.1 1.6 173 1 0 -4.2 0.4a2.1 1.6 173 1 0 4.2 -0.4zM94.4 610.9a2.4 1.4 125 1 0 -2.8 3.9a2.4 1.4 125 1 0 2.8 -3.9zM109.3 553.3a1.8 1.4 19 1 0 3.3 1.2a1.8 1.4 19 1 0 -3.3 -1.2zM160.3 544.1a2.3 1.4 66 1 0 1.9 4.3a2.3 1.4 66 1 0 -1.9 -4.3zM102.1 538.6a2.4 1.5 151 1 0 -4.2 2.2a2.4 1.5 151 1 0 4.2 -2.2zM106.5 602.7a2.6 1.6 102 1 0 -1.1 5a2.6 1.6 102 1 0 1.1 -5zM105.1 508.3a1.9 1.3 155 1 0 -3.6 1.6a1.9 1.3 155 1 0 3.6 -1.6zM38.1 549.4a2.1 1.4 104 1 0 -1 4a2.1 1.4 104 1 0 1 -4zM158.8 496.3a2.6 1.5 76 1 0 1.2 5a2.6 1.5 76 1 0 -1.2 -5zM40.2 585.8a2.3 1.4 66 1 0 1.8 4.2a2.3 1.4 66 1 0 -1.8 -4.2zM35 566.7a2 1.6 163 1 0 -3.8 1.1a2 1.6 163 1 0 3.8 -1.1zM106.9 499.6a2.1 1.6 155 1 0 -3.9 1.8a2.1 1.6 155 1 0 3.9 -1.8zM101.1 505.7a2.3 1.6 127 1 0 -2.8 3.6a2.3 1.6 127 1 0 2.8 -3.6zM114.7 473.7a2.5 1.5 167 1 0 -4.8 1.1a2.5 1.5 167 1 0 4.8 -1.1zM68.1 510.7a2.4 1.3 84 1 0 0.4 4.9a2.4 1.3 84 1 0 -0.4 -4.9zM129.3 544.2a2 1.5 16 1 0 3.9 1.2a2 1.5 16 1 0 -3.9 -1.2z"/>
<path fill="#4a39b8" d="M73.3 475a2.4 0.8 139 1 0 -3.6 3.1a2.4 0.8 139 1 0 3.6 -3.1zM56.7 477.5a3.2 1 133 1 0 -4.5 4.7a3.2 1 133 1 0 4.5 -4.7zM59.8 475.2a2.9 0.9 135 1 0 -4.1 4.1a2.9 0.9 135 1 0 4.1 -4.1zM70 475.3a2.9 0.9 135 1 0 -4.1 4a2.9 0.9 135 1 0 4.1 -4zM74.6 475.9a2.7 1 124 1 0 -3 4.4a2.7 1 124 1 0 3 -4.4zM85 478.2a3.1 1 138 1 0 -4.7 4.2a3.1 1 138 1 0 4.7 -4.2zM37 480.3a2.3 0.8 141 1 0 -3.6 2.9a2.3 0.8 141 1 0 3.6 -2.9zM51.5 479.6a3.2 1.1 126 1 0 -3.9 5.2a3.2 1.1 126 1 0 3.9 -5.2zM60.9 480.4a2.8 1.1 132 1 0 -3.9 4.2a2.8 1.1 132 1 0 3.9 -4.2zM69.6 478.8a2.9 1 125 1 0 -3.4 4.7a2.9 1 125 1 0 3.4 -4.7zM86.9 479.5a3 1.1 134 1 0 -4.3 4.4a3 1.1 134 1 0 4.3 -4.4zM86.2 483.7a2.5 1 140 1 0 -3.9 3.1a2.5 1 140 1 0 3.9 -3.1zM100.1 486.6a2.3 0.8 142 1 0 -3.6 2.8a2.3 0.8 142 1 0 3.6 -2.8zM63.1 488a2.5 0.9 134 1 0 -3.6 3.6a2.5 0.9 134 1 0 3.6 -3.6zM70.6 489.8a2.3 1 131 1 0 -3.1 3.4a2.3 1 131 1 0 3.1 -3.4zM73.3 489.8a2.7 0.9 128 1 0 -3.4 4.2a2.7 0.9 128 1 0 3.4 -4.2zM44.3 492.5a2.8 0.9 144 1 0 -4.5 3.2a2.8 0.9 144 1 0 4.5 -3.2zM46.8 490.1a3.1 1 126 1 0 -3.7 4.9a3.1 1 126 1 0 3.7 -4.9zM57.9 490.5a2.6 0.9 130 1 0 -3.4 4a2.6 0.9 130 1 0 3.4 -4zM68.5 491.2a2.7 1.1 140 1 0 -4.1 3.4a2.7 1.1 140 1 0 4.1 -3.4zM43.5 497.3a2.9 1 136 1 0 -4.1 4a2.9 1 136 1 0 4.1 -4zM41.2 500.1a2.4 0.9 137 1 0 -3.6 3.3a2.4 0.9 137 1 0 3.6 -3.3zM63 500.5a2.4 0.8 145 1 0 -4 2.7a2.4 0.8 145 1 0 4 -2.7zM90.8 498.2a3.1 0.9 129 1 0 -4 4.8a3.1 0.9 129 1 0 4 -4.8zM49 502.7a3.2 1.1 129 1 0 -4 4.9a3.2 1.1 129 1 0 4 -4.9zM58.8 503.4a2.7 0.8 146 1 0 -4.5 3a2.7 0.8 146 1 0 4.5 -3zM60.7 502.7a2.4 0.8 142 1 0 -3.8 2.9a2.4 0.8 142 1 0 3.8 -2.9zM48.1 507.2a2.3 0.8 129 1 0 -2.9 3.5a2.3 0.8 129 1 0 2.9 -3.5zM50.4 509.1a3 1 146 1 0 -5.1 3.3a3 1 146 1 0 5.1 -3.3zM68.8 506.2a2.5 0.8 139 1 0 -3.8 3.3a2.5 0.8 139 1 0 3.8 -3.3zM71.6 508.8a2.9 0.9 143 1 0 -4.6 3.5a2.9 0.9 143 1 0 4.6 -3.5zM84.7 507.3a2.8 0.9 125 1 0 -3.3 4.6a2.8 0.9 125 1 0 3.3 -4.6zM88.5 508.1a2.2 0.8 124 1 0 -2.6 3.7a2.2 0.8 124 1 0 2.6 -3.7zM37 509.5a3.3 1.2 143 1 0 -5.3 3.9a3.3 1.2 143 1 0 5.3 -3.9zM52.2 511a2.5 0.9 137 1 0 -3.7 3.4a2.5 0.9 137 1 0 3.7 -3.4zM66.3 511.5a3.1 1.1 124 1 0 -3.6 5.1a3.1 1.1 124 1 0 3.6 -5.1zM71 509a2.7 0.9 125 1 0 -3.2 4.5a2.7 0.9 125 1 0 3.2 -4.5zM74.7 511.5a2.9 1.1 127 1 0 -3.5 4.7a2.9 1.1 127 1 0 3.5 -4.7zM53.5 515.6a2.7 0.9 125 1 0 -3.2 4.4a2.7 0.9 125 1 0 3.2 -4.4zM59.3 513.2a2.7 0.8 128 1 0 -3.4 4.2a2.7 0.8 128 1 0 3.4 -4.2zM73.3 513.7a2.8 0.9 135 1 0 -4 3.9a2.8 0.9 135 1 0 4 -3.9zM42.8 520a2.6 1 127 1 0 -3.2 4.2a2.6 1 127 1 0 3.2 -4.2zM59.2 521.5a2.6 1 142 1 0 -4.1 3.1a2.6 1 142 1 0 4.1 -3.1zM37.7 526.6a2.4 1 139 1 0 -3.7 3.2a2.4 1 139 1 0 3.7 -3.2zM42.7 524.6a2.9 0.9 144 1 0 -4.8 3.4a2.9 0.9 144 1 0 4.8 -3.4zM65.3 525.6a2.7 0.9 137 1 0 -4 3.7a2.7 0.9 137 1 0 4 -3.7zM49.9 528.2a2.6 0.9 131 1 0 -3.4 3.9a2.6 0.9 131 1 0 3.4 -3.9zM64.5 529.4a2.7 0.9 139 1 0 -4.1 3.6a2.7 0.9 139 1 0 4.1 -3.6zM38.9 540.7a2.7 0.8 129 1 0 -3.4 4.2a2.7 0.8 129 1 0 3.4 -4.2zM57.3 540.8a2.5 0.9 146 1 0 -4.2 2.8a2.5 0.9 146 1 0 4.2 -2.8zM70.4 543.1a2.9 1 144 1 0 -4.7 3.4a2.9 1 144 1 0 4.7 -3.4zM51.7 548.9a2.5 0.9 134 1 0 -3.5 3.5a2.5 0.9 134 1 0 3.5 -3.5zM50.1 552.5a2.8 0.9 135 1 0 -4 3.9a2.8 0.9 135 1 0 4 -3.9zM37.4 558a2.6 1 140 1 0 -4 3.4a2.6 1 140 1 0 4 -3.4zM67.4 581.9a2.4 1.7 179 1 0 -4.8 0a2.4 1.7 179 1 0 4.8 0zM107.9 535.7a1.8 1.3 101 1 0 -0.7 3.5a1.8 1.3 101 1 0 0.7 -3.5zM124.6 503.5a2.6 1.5 156 1 0 -4.7 2.1a2.6 1.5 156 1 0 4.7 -2.1zM78.4 527.9a2.3 1.6 66 1 0 1.9 4.2a2.3 1.6 66 1 0 -1.9 -4.2zM166.2 611.3a2.2 1.7 67 1 0 1.7 4.1a2.2 1.7 67 1 0 -1.7 -4.1zM171.2 584.5a2.1 1.6 79 1 0 0.7 4a2.1 1.6 79 1 0 -0.7 -4zM57.3 604.3a2.5 1.4 25 1 0 4.6 2.2a2.5 1.4 25 1 0 -4.6 -2.2zM44.4 613.6a2.2 1.7 17 1 0 4.1 1.3a2.2 1.7 17 1 0 -4.1 -1.3zM84.9 511.4a2.2 1.3 84 1 0 0.4 4.5a2.2 1.3 84 1 0 -0.4 -4.5zM38.2 560.1a1.8 1.4 38 1 0 2.9 2.3a1.8 1.4 38 1 0 -2.9 -2.3zM58 536.6a1.9 1.4 79 1 0 0.7 3.6a1.9 1.4 79 1 0 -0.7 -3.6zM104.2 574.9a2.1 1.5 34 1 0 3.5 2.4a2.1 1.5 34 1 0 -3.5 -2.4zM158.3 507.8a2.5 1.6 100 1 0 -0.9 4.9a2.5 1.6 100 1 0 0.9 -4.9zM146 526.1a2.4 1.6 64 1 0 2.1 4.2a2.4 1.6 64 1 0 -2.1 -4.2zM111.5 529.4a2.7 1.8 36 1 0 4.4 3.3a2.7 1.8 36 1 0 -4.4 -3.3zM109.1 517.1a2.1 1.8 113 1 0 -1.7 3.9a2.1 1.8 113 1 0 1.7 -3.9zM154.6 516.3a2.2 1.6 150 1 0 -3.9 2.2a2.2 1.6 150 1 0 3.9 -2.2zM111.3 502.8a2.4 1.8 118 1 0 -2.3 4.2a2.4 1.8 118 1 0 2.3 -4.2zM88.2 589.9a2.3 1.5 38 1 0 3.7 2.9a2.3 1.5 38 1 0 -3.7 -2.9zM64.6 572.9a2.5 1.7 38 1 0 3.9 3.1a2.5 1.7 38 1 0 -3.9 -3.1zM100.5 569.2a2.6 1.5 113 1 0 -2.1 4.7a2.6 1.5 113 1 0 2.1 -4.7zM156.4 591.7a2.2 1.3 4 1 0 4.3 0.3a2.2 1.3 4 1 0 -4.3 -0.3zM111.3 601.8a2.1 1.8 64 1 0 1.8 3.9a2.1 1.8 64 1 0 -1.8 -3.9zM162 533.8a2.2 1.5 160 1 0 -4.2 1.5a2.2 1.5 160 1 0 4.2 -1.5zM107.8 585.1a2.7 1.9 15 1 0 5.1 1.5a2.7 1.9 15 1 0 -5.1 -1.5zM148.9 551.9a2.2 1.6 1 1 0 4.4 0.1a2.2 1.6 1 1 0 -4.4 -0.1zM153.9 599.5a2.3 1.6 165 1 0 -4.5 1.2a2.3 1.6 165 1 0 4.5 -1.2zM169.4 539.4a2.1 1.6 121 1 0 -2.2 3.6a2.1 1.6 121 1 0 2.2 -3.6zM109.8 589.6a2.6 1.6 160 1 0 -4.9 1.8a2.6 1.6 160 1 0 4.9 -1.8zM145.6 519.6a2.8 1.5 38 1 0 4.3 3.5a2.8 1.5 38 1 0 -4.3 -3.5zM151.4 494.4a2.3 1.6 61 1 0 2.2 4a2.3 1.6 61 1 0 -2.2 -4zM151.6 584.2a2.1 1.6 61 1 0 2 3.6a2.1 1.6 61 1 0 -2 -3.6zM148.3 594a2.3 1.3 158 1 0 -4.3 1.7a2.3 1.3 158 1 0 4.3 -1.7zM156 519.3a2.5 1.6 13 1 0 4.9 1.2a2.5 1.6 13 1 0 -4.9 -1.2zM133.4 597.6a2.2 1.5 100 1 0 -0.8 4.3a2.2 1.5 100 1 0 0.8 -4.3zM124.5 486.2a2.2 1.5 116 1 0 -2 3.9a2.2 1.5 116 1 0 2 -3.9zM124 566.2a2.1 1.9 116 1 0 -1.9 3.8a2.1 1.9 116 1 0 1.9 -3.8zM83.3 533.7a2.4 1.7 41 1 0 3.6 3.2a2.4 1.7 41 1 0 -3.6 -3.2zM167 512.5a1.8 1.6 22 1 0 3.3 1.4a1.8 1.6 22 1 0 -3.3 -1.4zM138.7 525.9a2 1.4 83 1 0 0.5 4.1a2 1.4 83 1 0 -0.5 -4.1zM108.8 597.3a2.7 1.7 104 1 0 -1.4 5.3a2.7 1.7 104 1 0 1.4 -5.3zM169.7 544a2.6 1.7 75 1 0 1.3 5a2.6 1.7 75 1 0 -1.3 -5zM120.7 582.3a2.5 1.6 52 1 0 3.1 3.9a2.5 1.6 52 1 0 -3.1 -3.9zM157.6 547.6a1.9 1.3 108 1 0 -1.3 3.7a1.9 1.3 108 1 0 1.3 -3.7zM136.2 486.3a2.7 1.4 78 1 0 1.1 5.3a2.7 1.4 78 1 0 -1.1 -5.3zM83.4 603.9a2.6 1.4 112 1 0 -2 4.7a2.6 1.4 112 1 0 2 -4.7zM122.5 602.1a2.5 1.6 114 1 0 -2.1 4.6a2.5 1.6 114 1 0 2.1 -4.6zM173.2 515a2.1 1.6 130 1 0 -2.8 3.2a2.1 1.6 130 1 0 2.8 -3.2zM129.7 572.3a2.3 1.4 118 1 0 -2.2 4a2.3 1.4 118 1 0 2.2 -4zM168.6 563.4a2 1.3 125 1 0 -2.3 3.2a2 1.3 125 1 0 2.3 -3.2zM167.7 535.8a2 1.6 21 1 0 3.7 1.5a2 1.6 21 1 0 -3.7 -1.5zM136.6 573.6a2 1.5 150 1 0 -3.5 2a2 1.5 150 1 0 3.5 -2zM73.4 614.2a2.2 1.3 77 1 0 0.9 4.2a2.2 1.3 77 1 0 -0.9 -4.2zM173 614.3a2 1.4 113 1 0 -1.6 3.6a2 1.4 113 1 0 1.6 -3.6zM80.2 538.1a2.1 1.5 177 1 0 -4.2 0.2a2.1 1.5 177 1 0 4.2 -0.2zM164.5 543.8a2.2 1.4 67 1 0 1.7 4a2.2 1.4 67 1 0 -1.7 -4zM109.2 581.2a2.1 1.6 11 1 0 4.2 0.8a2.1 1.6 11 1 0 -4.2 -0.8zM138.2 492.4a1.9 1.6 125 1 0 -2.2 3.1a1.9 1.6 125 1 0 2.2 -3.1zM74.6 579.2a2.3 1.3 161 1 0 -4.3 1.5a2.3 1.3 161 1 0 4.3 -1.5zM163.5 575.4a2.3 1.9 19 1 0 4.3 1.5a2.3 1.9 19 1 0 -4.3 -1.5zM76.4 563.2a1.8 1.5 75 1 0 0.9 3.5a1.8 1.5 75 1 0 -0.9 -3.5zM170.7 576a1.9 1.6 28 1 0 3.3 1.8a1.9 1.6 28 1 0 -3.3 -1.8zM166.7 485a2.2 1.4 18 1 0 4.1 1.4a2.2 1.4 18 1 0 -4.1 -1.4zM155.5 610.6a2.5 1.4 103 1 0 -1.2 4.9a2.5 1.4 103 1 0 1.2 -4.9zM65.2 591.2a2.3 1.5 157 1 0 -4.3 1.8a2.3 1.5 157 1 0 4.3 -1.8zM87.1 589.9a2.4 1.8 136 1 0 -3.5 3.3a2.4 1.8 136 1 0 3.5 -3.3zM130.1 604.4a2.1 1.5 2 1 0 4.2 0.2a2.1 1.5 2 1 0 -4.2 -0.2zM76.6 610.6a2.1 1.6 17 1 0 3.9 1.2a2.1 1.6 17 1 0 -3.9 -1.2zM135.8 576.8a1.7 1.3 34 1 0 2.8 2a1.7 1.3 34 1 0 -2.8 -2zM172.6 571.7a2.2 1.6 179 1 0 -4.5 0a2.2 1.6 179 1 0 4.5 0zM146.6 586.3a2.7 1.7 44 1 0 3.9 3.8a2.7 1.7 44 1 0 -3.9 -3.8zM129 561.8a2.4 1.4 127 1 0 -3 3.8a2.4 1.4 127 1 0 3 -3.8zM156.2 583.3a2.2 1.6 14 1 0 4.2 1.1a2.2 1.6 14 1 0 -4.2 -1.1zM112.2 538.8a2.5 1.4 89 1 0 0 5a2.5 1.4 89 1 0 0 -5zM171.5 506.4a2.2 1.9 109 1 0 -1.5 4.2a2.2 1.9 109 1 0 1.5 -4.2zM115.4 589.3a2.3 1.6 24 1 0 4.1 1.9a2.3 1.6 24 1 0 -4.1 -1.9zM156.3 599.9a2.5 1.3 80 1 0 0.9 4.9a2.5 1.3 80 1 0 -0.9 -4.9zM73.3 554.2a1.8 1.6 19 1 0 3.4 1.2a1.8 1.6 19 1 0 -3.4 -1.2zM120.2 543.8a2.3 1.6 77 1 0 1 4.6a2.3 1.6 77 1 0 -1 -4.6zM162.7 503.9a2.5 1.5 171 1 0 -5 0.7a2.5 1.5 171 1 0 5 -0.7zM135.1 506a2.2 1.8 65 1 0 1.8 3.9a2.2 1.8 65 1 0 -1.8 -3.9zM55.6 555.2a2 1.8 11 1 0 3.9 0.8a2 1.8 11 1 0 -3.9 -0.8zM138.3 551.2a2.1 1.4 106 1 0 -1.2 4.1a2.1 1.4 106 1 0 1.2 -4.1zM107.5 584a2.1 1.4 117 1 0 -2 3.7a2.1 1.4 117 1 0 2 -3.7zM118.2 582.9a2.2 1.6 177 1 0 -4.4 0.2a2.2 1.6 177 1 0 4.4 -0.2zM111.8 568.9a2.2 1.6 1 1 0 4.3 0.1a2.2 1.6 1 1 0 -4.3 -0.1zM117.8 483.9a2.2 1.3 64 1 0 1.9 3.9a2.2 1.3 64 1 0 -1.9 -3.9zM106 593.7a2.4 1.4 173 1 0 -4.7 0.6a2.4 1.4 173 1 0 4.7 -0.6zM95.3 611.1a2.5 1.8 47 1 0 3.3 3.6a2.5 1.8 47 1 0 -3.3 -3.6zM94.4 596.4a2.1 1.3 12 1 0 4 0.9a2.1 1.3 12 1 0 -4 -0.9zM52 540.4a2.8 1.4 124 1 0 -3.1 4.5a2.8 1.4 124 1 0 3.1 -4.5zM129.4 477.8a1.8 1.2 3 1 0 3.6 0.3a1.8 1.2 3 1 0 -3.6 -0.3zM113.3 513.3a2.8 1.7 96 1 0 -0.6 5.6a2.8 1.7 96 1 0 0.6 -5.6zM93.7 563.2a2.6 1.8 63 1 0 2.2 4.6a2.6 1.8 63 1 0 -2.2 -4.6zM122.7 516.1a2.6 1.4 62 1 0 2.4 4.5a2.6 1.4 62 1 0 -2.4 -4.5zM150.7 565.3a2.4 1.5 134 1 0 -3.3 3.4a2.4 1.5 134 1 0 3.3 -3.4zM122.4 595.8a1.8 1.3 127 1 0 -2.2 2.9a1.8 1.3 127 1 0 2.2 -2.9zM39.3 581.6a1.9 1.4 44 1 0 2.7 2.6a1.9 1.4 44 1 0 -2.7 -2.6zM67.3 526a2.6 1.6 91 1 0 -0.2 5.2a2.6 1.6 91 1 0 0.2 -5.2zM34.2 553.6a2.3 1.4 83 1 0 0.5 4.5a2.3 1.4 83 1 0 -0.5 -4.5zM120.2 481.6a2 1.6 16 1 0 3.9 1.2a2 1.6 16 1 0 -3.9 -1.2zM141.1 473.9a2.8 1.6 33 1 0 4.7 3.1a2.8 1.6 33 1 0 -4.7 -3.1zM94.5 605.7a2.3 1.6 58 1 0 2.4 4a2.3 1.6 58 1 0 -2.4 -4zM89.8 609.8a2.4 1.6 115 1 0 -2.1 4.3a2.4 1.6 115 1 0 2.1 -4.3zM167 490.5a2.1 1.5 9 1 0 4.2 0.7a2.1 1.5 9 1 0 -4.2 -0.7zM127.5 556.2a2.5 1.6 148 1 0 -4.2 2.6a2.5 1.6 148 1 0 4.2 -2.6zM122.8 614a2.7 1.8 56 1 0 2.9 4.4a2.7 1.8 56 1 0 -2.9 -4.4zM89.8 577.6a2.7 1.9 135 1 0 -3.9 3.8a2.7 1.9 135 1 0 3.9 -3.8zM35.6 582.4a2.3 1.5 59 1 0 2.3 3.9a2.3 1.5 59 1 0 -2.3 -3.9zM114.5 495.6a2.7 1.5 101 1 0 -1.1 5.3a2.7 1.5 101 1 0 1.1 -5.3zM56.1 558.1a2.3 1.5 106 1 0 -1.3 4.5a2.3 1.5 106 1 0 1.3 -4.5zM125 507.1a2.5 1.6 47 1 0 3.4 3.7a2.5 1.6 47 1 0 -3.4 -3.7zM133.2 483a2.6 1.8 172 1 0 -5.2 0.7a2.6 1.8 172 1 0 5.2 -0.7zM122.2 509a2.3 1.5 55 1 0 2.7 3.9a2.3 1.5 55 1 0 -2.7 -3.9zM152.7 505.3a2 1.5 15 1 0 3.9 1.1a2 1.5 15 1 0 -3.9 -1.1zM47.8 576a2.6 1.7 83 1 0 0.6 5.3a2.6 1.7 83 1 0 -0.6 -5.3zM136.1 476a2.5 1.5 9 1 0 4.9 0.8a2.5 1.5 9 1 0 -4.9 -0.8zM91.3 570.5a2.7 1.7 90 1 0 0 5.4a2.7 1.7 90 1 0 0 -5.4zM150 524.6a2 1.6 39 1 0 3.2 2.6a2 1.6 39 1 0 -3.2 -2.6zM140.2 497a2.4 1.3 132 1 0 -3.2 3.5a2.4 1.3 132 1 0 3.2 -3.5zM115.6 612.4a2.4 1.5 85 1 0 0.4 4.9a2.4 1.5 85 1 0 -0.4 -4.9zM101.3 554.4a2.2 1.3 65 1 0 1.8 4.1a2.2 1.3 65 1 0 -1.8 -4.1zM38.9 568a2 1.5 48 1 0 2.6 3a2 1.5 48 1 0 -2.6 -3zM156.6 532.2a2.3 1.8 106 1 0 -1.3 4.3a2.3 1.8 106 1 0 1.3 -4.3zM95.6 519.2a2.5 1.5 124 1 0 -2.8 4.2a2.5 1.5 124 1 0 2.8 -4.2zM96.5 476.6a2.1 1.3 47 1 0 2.9 3.2a2.1 1.3 47 1 0 -2.9 -3.2zM73.8 608.6a2.1 1.8 78 1 0 0.8 4.2a2.1 1.8 78 1 0 -0.8 -4.2zM100.1 596.4a2.3 1.5 39 1 0 3.6 2.9a2.3 1.5 39 1 0 -3.6 -2.9zM160.2 538.9a2.3 1.5 153 1 0 -4.1 2a2.3 1.5 153 1 0 4.1 -2zM141.8 569.6a2.2 1.4 117 1 0 -2 3.8a2.2 1.4 117 1 0 2 -3.8zM115 532.9a2.4 1.6 96 1 0 -0.6 4.7a2.4 1.6 96 1 0 0.6 -4.7zM43.3 596.6a2.3 1.5 25 1 0 4.1 2a2.3 1.5 25 1 0 -4.1 -2zM103.4 524.5a1.9 1.3 56 1 0 2.1 3.1a1.9 1.3 56 1 0 -2.1 -3.1zM125.7 568.7a2.4 1.4 76 1 0 1.1 4.6a2.4 1.4 76 1 0 -1.1 -4.6zM157.7 485.1a1.9 1.4 53 1 0 2.3 3a1.9 1.4 53 1 0 -2.3 -3zM142.9 514.9a1.8 1.4 110 1 0 -1.3 3.4a1.8 1.4 110 1 0 1.3 -3.4zM105.3 548.1a2.3 1.3 10 1 0 4.5 0.8a2.3 1.3 10 1 0 -4.5 -0.8zM47.8 606.1a2.2 1.5 103 1 0 -1 4.2a2.2 1.5 103 1 0 1 -4.2zM131.8 596.2a2 1.4 149 1 0 -3.5 2a2 1.4 149 1 0 3.5 -2zM72.9 586.9a2.4 1.3 133 1 0 -3.3 3.5a2.4 1.3 133 1 0 3.3 -3.5zM114.8 560.7a2.5 1.6 92 1 0 -0.2 4.9a2.5 1.6 92 1 0 0.2 -4.9zM142.1 503.9a2.6 1.9 5 1 0 5.1 0.5a2.6 1.9 5 1 0 -5.1 -0.5zM161.8 567.1a2.8 1.6 57 1 0 3 4.6a2.8 1.6 57 1 0 -3 -4.6zM93.1 510.5a2.2 1.6 175 1 0 -4.3 0.3a2.2 1.6 175 1 0 4.3 -0.3zM60.9 570.4a1.8 1.5 28 1 0 3.1 1.7a1.8 1.5 28 1 0 -3.1 -1.7zM127.8 511.5a2.6 1.5 68 1 0 2 4.9a2.6 1.5 68 1 0 -2 -4.9zM145.7 485.5a2.4 1.6 100 1 0 -0.8 4.7a2.4 1.6 100 1 0 0.8 -4.7zM102.7 538.7a2.4 1.4 59 1 0 2.4 4.2a2.4 1.4 59 1 0 -2.4 -4.2zM160.9 512.3a1.9 1.4 111 1 0 -1.4 3.5a1.9 1.4 111 1 0 1.4 -3.5zM162.9 506.7a2.6 1.6 5 1 0 5.1 0.5a2.6 1.6 5 1 0 -5.1 -0.5zM164.5 475.8a2.1 1.5 107 1 0 -1.2 4a2.1 1.5 107 1 0 1.2 -4zM65.9 531.3a2.3 1.5 34 1 0 3.9 2.7a2.3 1.5 34 1 0 -3.9 -2.7zM106.1 483.3a2.1 1.6 42 1 0 3.1 2.8a2.1 1.6 42 1 0 -3.1 -2.8zM116.5 537.7a2.4 1.4 105 1 0 -1.2 4.6a2.4 1.4 105 1 0 1.2 -4.6zM57 614.1a2.6 1.5 105 1 0 -1.4 5a2.6 1.5 105 1 0 1.4 -5zM89.3 527.5a2.5 1.6 146 1 0 -4.1 2.7a2.5 1.6 146 1 0 4.1 -2.7zM71.8 591.4a2.7 1.7 96 1 0 -0.6 5.3a2.7 1.7 96 1 0 0.6 -5.3zM62.4 576a2.6 1.5 98 1 0 -0.7 5.2a2.6 1.5 98 1 0 0.7 -5.2zM63.2 527.1a2.1 1.4 83 1 0 0.5 4.2a2.1 1.4 83 1 0 -0.5 -4.2zM142.1 507a2.1 1.5 46 1 0 2.9 3.1a2.1 1.5 46 1 0 -2.9 -3.1zM139.3 517.8a2.1 1.3 159 1 0 -3.9 1.5a2.1 1.3 159 1 0 3.9 -1.5zM153.3 577.1a2 1.6 31 1 0 3.4 2.1a2 1.6 31 1 0 -3.4 -2.1zM45.2 582.9a1.8 1.5 132 1 0 -2.4 2.7a1.8 1.5 132 1 0 2.4 -2.7zM91.9 592.7a2 1.6 17 1 0 3.8 1.2a2 1.6 17 1 0 -3.8 -1.2zM172.9 521.7a2.1 1.4 103 1 0 -1 4.1a2.1 1.4 103 1 0 1 -4.1zM120.7 536.3a2 1.3 127 1 0 -2.5 3.2a2 1.3 127 1 0 2.5 -3.2zM149.9 537.1a1.9 1.5 119 1 0 -1.8 3.3a1.9 1.5 119 1 0 1.8 -3.3zM56.8 540.5a2.6 1.7 48 1 0 3.5 4a2.6 1.7 48 1 0 -3.5 -4zM155.7 550.2a2.4 1.4 104 1 0 -1.2 4.7a2.4 1.4 104 1 0 1.2 -4.7zM163.6 507a2.5 1.6 135 1 0 -3.5 3.5a2.5 1.6 135 1 0 3.5 -3.5zM142 478.1a2 1.4 125 1 0 -2.3 3.3a2 1.4 125 1 0 2.3 -3.3zM139.6 553.5a2.5 1.8 52 1 0 3 3.9a2.5 1.8 52 1 0 -3 -3.9zM138 524.7a2.4 1.7 157 1 0 -4.5 1.9a2.4 1.7 157 1 0 4.5 -1.9zM93.5 480.9a2.4 1.7 36 1 0 3.8 2.9a2.4 1.7 36 1 0 -3.8 -2.9zM48.9 559.4a2.5 1.5 41 1 0 3.7 3.3a2.5 1.5 41 1 0 -3.7 -3.3zM61.4 586.8a2.6 1.8 166 1 0 -5.1 1.2a2.6 1.8 166 1 0 5.1 -1.2zM82.5 567a2.2 1.3 3 1 0 4.3 0.3a2.2 1.3 3 1 0 -4.3 -0.3zM159.5 606.9a2.2 1.2 12 1 0 4.2 1a2.2 1.2 12 1 0 -4.2 -1zM102.3 479.2a2.3 1.6 32 1 0 3.8 2.4a2.3 1.6 32 1 0 -3.8 -2.4zM142.5 585.5a2 1.6 113 1 0 -1.6 3.6a2 1.6 113 1 0 1.6 -3.6zM120 529.4a2.4 1.3 143 1 0 -3.8 2.8a2.4 1.3 143 1 0 3.8 -2.8zM39.3 589.7a2.2 1.4 115 1 0 -1.9 3.9a2.2 1.4 115 1 0 1.9 -3.9zM72.3 611.6a2.3 1.7 135 1 0 -3.3 3.2a2.3 1.7 135 1 0 3.3 -3.2zM106.7 562.1a2.3 1.5 137 1 0 -3.4 3.1a2.3 1.5 137 1 0 3.4 -3.1zM101.9 495.5a2 1.4 160 1 0 -3.7 1.3a2 1.4 160 1 0 3.7 -1.3zM152.5 576.3a2.1 1.3 166 1 0 -4.1 1a2.1 1.3 166 1 0 4.1 -1zM48.5 604.5a1.8 1.3 43 1 0 2.6 2.5a1.8 1.3 43 1 0 -2.6 -2.5zM113.3 546.7a2.3 1.4 128 1 0 -2.9 3.6a2.3 1.4 128 1 0 2.9 -3.6zM73.8 512.9a2.2 1.5 77 1 0 1 4.2a2.2 1.5 77 1 0 -1 -4.2zM173 491.2a2.1 1.5 116 1 0 -1.8 3.7a2.1 1.5 116 1 0 1.8 -3.7zM150.3 520.4a2 1.6 46 1 0 2.8 2.9a2 1.6 46 1 0 -2.8 -2.9zM117.7 584.5a2 1.3 66 1 0 1.6 3.8a2 1.3 66 1 0 -1.6 -3.8z"/>
<path fill="#352896" d="M56.6 474.5a2.9 0.9 145 1 0 -4.8 3.3a2.9 0.9 145 1 0 4.8 -3.3zM60.6 471.7a2.7 0.9 140 1 0 -4.2 3.5a2.7 0.9 140 1 0 4.2 -3.5zM68.8 472.1a2.5 1 131 1 0 -3.4 3.8a2.5 1 131 1 0 3.4 -3.8zM81.9 472.3a2.8 1 135 1 0 -3.9 3.9a2.8 1 135 1 0 3.9 -3.9zM36.7 476.8a2.7 1 129 1 0 -3.4 4.2a2.7 1 129 1 0 3.4 -4.2zM41.5 475.3a2.7 0.9 130 1 0 -3.6 4.2a2.7 0.9 130 1 0 3.6 -4.2zM71.3 476.6a2.5 0.8 143 1 0 -4 2.9a2.5 0.8 143 1 0 4 -2.9zM89 476.1a2.5 1 139 1 0 -3.8 3.2a2.5 1 139 1 0 3.8 -3.2zM92.6 476.2a2.7 1.1 128 1 0 -3.4 4.2a2.7 1.1 128 1 0 3.4 -4.2zM74.2 481a2.8 0.9 142 1 0 -4.5 3.4a2.8 0.9 142 1 0 4.5 -3.4zM81.6 482.2a2.9 1 142 1 0 -4.7 3.5a2.9 1 142 1 0 4.7 -3.5zM89.1 479.9a2.4 0.8 125 1 0 -2.8 4a2.4 0.8 125 1 0 2.8 -4zM100.7 482a2.5 0.8 140 1 0 -3.8 3.2a2.5 0.8 140 1 0 3.8 -3.2zM50.1 486.3a2.8 1 144 1 0 -4.5 3.2a2.8 1 144 1 0 4.5 -3.2zM67.7 485.7a2.9 1 129 1 0 -3.7 4.4a2.9 1 129 1 0 3.7 -4.4zM82.2 483.1a3.3 1.1 128 1 0 -4.1 5.1a3.3 1.1 128 1 0 4.1 -5.1zM91.6 485.5a2.9 0.9 123 1 0 -3.2 4.8a2.9 0.9 123 1 0 3.2 -4.8zM44.3 487.2a2.4 0.8 137 1 0 -3.5 3.2a2.4 0.8 137 1 0 3.5 -3.2zM57.4 488.3a3.1 1.1 137 1 0 -4.6 4.2a3.1 1.1 137 1 0 4.6 -4.2zM50.5 491.9a2.2 0.7 138 1 0 -3.3 2.9a2.2 0.7 138 1 0 3.3 -2.9zM85.4 493.7a2.5 1 137 1 0 -3.7 3.4a2.5 1 137 1 0 3.7 -3.4zM90.5 492.2a2.7 0.8 139 1 0 -4.1 3.5a2.7 0.8 139 1 0 4.1 -3.5zM91.5 491.8a2.9 1 124 1 0 -3.4 4.8a2.9 1 124 1 0 3.4 -4.8zM107.8 490.9a2.7 0.8 139 1 0 -4.1 3.5a2.7 0.8 139 1 0 4.1 -3.5zM62.4 493.9a2.9 0.9 125 1 0 -3.4 4.8a2.9 0.9 125 1 0 3.4 -4.8zM76 497.5a2.3 0.9 123 1 0 -2.5 3.7a2.3 0.9 123 1 0 2.5 -3.7zM84.1 494.5a3.4 1.1 145 1 0 -5.5 3.8a3.4 1.1 145 1 0 5.5 -3.8zM85.3 499.3a2.9 1 135 1 0 -4.2 4.1a2.9 1 135 1 0 4.2 -4.1zM45.9 502.6a2.6 0.9 136 1 0 -3.7 3.5a2.6 0.9 136 1 0 3.7 -3.5zM56.5 509a2.3 0.9 144 1 0 -3.7 2.7a2.3 0.9 144 1 0 3.7 -2.7zM74.5 509a2.3 1 136 1 0 -3.3 3.1a2.3 1 136 1 0 3.3 -3.1zM45.2 511a3.1 0.9 139 1 0 -4.8 4.1a3.1 0.9 139 1 0 4.8 -4.1zM79.7 512.5a2.5 0.9 143 1 0 -4 3a2.5 0.9 143 1 0 4 -3zM39 515.5a3.1 0.9 142 1 0 -4.9 3.8a3.1 0.9 142 1 0 4.9 -3.8zM43.3 515.7a2.9 0.9 126 1 0 -3.5 4.6a2.9 0.9 126 1 0 3.5 -4.6zM52.1 516.6a2.5 1.1 141 1 0 -3.9 3.1a2.5 1.1 141 1 0 3.9 -3.1zM41.6 517.8a2.5 0.9 129 1 0 -3.2 3.9a2.5 0.9 129 1 0 3.2 -3.9zM60.1 518.6a2.7 0.9 131 1 0 -3.6 4a2.7 0.9 131 1 0 3.6 -4zM77.1 517.3a2.6 0.9 123 1 0 -2.9 4.3a2.6 0.9 123 1 0 2.9 -4.3zM84.8 518.3a2.7 0.8 124 1 0 -3 4.4a2.7 0.8 124 1 0 3 -4.4zM41.3 521.8a2.8 1.1 141 1 0 -4.5 3.5a2.8 1.1 141 1 0 4.5 -3.5zM50.1 521a2.5 0.9 132 1 0 -3.4 3.7a2.5 0.9 132 1 0 3.4 -3.7zM47.5 525.3a3 1 127 1 0 -3.7 4.7a3 1 127 1 0 3.7 -4.7zM60.1 526.9a2.6 0.9 124 1 0 -2.9 4.4a2.6 0.9 124 1 0 2.9 -4.4zM73.7 526.3a2.5 0.9 136 1 0 -3.7 3.5a2.5 0.9 136 1 0 3.7 -3.5zM39.5 533.7a2.8 0.9 127 1 0 -3.4 4.4a2.8 0.9 127 1 0 3.4 -4.4zM45.6 535a2.8 0.9 134 1 0 -3.9 4a2.8 0.9 134 1 0 3.9 -4zM48.5 541.2a2.8 1 139 1 0 -4.2 3.6a2.8 1 139 1 0 4.2 -3.6zM64.1 540.5a2.7 0.9 123 1 0 -3 4.5a2.7 0.9 123 1 0 3 -4.5zM43 546.2a2.6 0.9 125 1 0 -3 4.2a2.6 0.9 125 1 0 3 -4.2zM46.8 552a2.6 1.1 128 1 0 -3.3 4a2.6 1.1 128 1 0 3.3 -4zM53.9 553.4a2.9 0.9 124 1 0 -3.3 4.7a2.9 0.9 124 1 0 3.3 -4.7zM60 554a2.4 0.9 125 1 0 -2.8 4a2.4 0.9 125 1 0 2.8 -4zM85.8 570.2a2 1.5 32 1 0 3.5 2.2a2 1.5 32 1 0 -3.5 -2.2zM51.6 578.5a1.9 1.5 29 1 0 3.2 1.8a1.9 1.5 29 1 0 -3.2 -1.8zM127.2 492.6a2 1.6 177 1 0 -4 0.1a2 1.6 177 1 0 4 -0.1zM149.2 612.9a2.3 1.5 79 1 0 0.9 4.5a2.3 1.5 79 1 0 -0.9 -4.5zM153 565.1a1.9 1.5 53 1 0 2.2 3a1.9 1.5 53 1 0 -2.2 -3zM170.8 499.3a2.1 1.5 76 1 0 1 4.1a2.1 1.5 76 1 0 -1 -4.1zM94.1 587.7a2.1 1.9 10 1 0 4.2 0.8a2.1 1.9 10 1 0 -4.2 -0.8zM111.7 488a2.1 1.5 104 1 0 -1.1 4a2.1 1.5 104 1 0 1.1 -4zM80.6 573.9a2 1.4 123 1 0 -2.2 3.2a2 1.4 123 1 0 2.2 -3.2zM131.4 611.4a2.3 1.6 142 1 0 -3.7 2.9a2.3 1.6 142 1 0 3.7 -2.9zM139.8 507.6a2.1 1.7 86 1 0 0.3 4.1a2.1 1.7 86 1 0 -0.3 -4.1zM48.4 595.6a2.4 1.4 45 1 0 3.4 3.5a2.4 1.4 45 1 0 -3.4 -3.5zM148.6 514.4a2 1.5 125 1 0 -2.4 3.3a2 1.5 125 1 0 2.4 -3.3zM153.3 528.6a2.2 1.6 100 1 0 -0.8 4.3a2.2 1.6 100 1 0 0.8 -4.3zM55.3 593.2a2.4 1.6 77 1 0 1 4.7a2.4 1.6 77 1 0 -1 -4.7zM133.8 590.5a2.1 1.5 40 1 0 3.2 2.8a2.1 1.5 40 1 0 -3.2 -2.8zM83 528.5a2.3 1.3 76 1 0 1.1 4.5a2.3 1.3 76 1 0 -1.1 -4.5zM41.2 609.3a2.1 1.8 153 1 0 -3.8 1.8a2.1 1.8 153 1 0 3.8 -1.8zM129.8 517.7a2.5 1.9 128 1 0 -3.1 3.8a2.5 1.9 128 1 0 3.1 -3.8zM88.4 549a2 1.6 45 1 0 2.8 2.8a2 1.6 45 1 0 -2.8 -2.8zM92.1 492.4a2.3 1.6 25 1 0 4.2 2a2.3 1.6 25 1 0 -4.2 -2zM38.1 588.4a2.3 1.4 179 1 0 -4.5 0.1a2.3 1.4 179 1 0 4.5 -0.1zM145.6 576.6a2.4 1.5 59 1 0 2.4 4.1a2.4 1.5 59 1 0 -2.4 -4.1zM93.5 517a2.2 1.6 150 1 0 -3.9 2.2a2.2 1.6 150 1 0 3.9 -2.2zM66.6 602.8a2.4 1.9 10 1 0 4.7 0.9a2.4 1.9 10 1 0 -4.7 -0.9zM68.3 583.9a1.9 1.6 37 1 0 3.1 2.4a1.9 1.6 37 1 0 -3.1 -2.4zM141.8 488.5a2.1 1.4 117 1 0 -1.9 3.7a2.1 1.4 117 1 0 1.9 -3.7zM86.9 599.6a2.4 1.8 86 1 0 0.3 4.8a2.4 1.8 86 1 0 -0.3 -4.8zM101.4 566.4a2.2 1.4 59 1 0 2.3 3.8a2.2 1.4 59 1 0 -2.3 -3.8zM132.9 577.5a2 1.6 128 1 0 -2.5 3.2a2 1.6 128 1 0 2.5 -3.2zM124.1 514.4a2.4 1.3 172 1 0 -4.8 0.6a2.4 1.3 172 1 0 4.8 -0.6zM101.4 520.1a2.4 1.5 93 1 0 -0.3 4.7a2.4 1.5 93 1 0 0.3 -4.7zM113.2 612.1a2.3 1.6 123 1 0 -2.5 3.7a2.3 1.6 123 1 0 2.5 -3.7zM140.7 537a2.6 1.7 78 1 0 1 5.2a2.6 1.7 78 1 0 -1 -5.2zM52.2 566.3a2.1 1.3 144 1 0 -3.4 2.4a2.1 1.3 144 1 0 3.4 -2.4zM87.7 538.2a1.8 1.4 67 1 0 1.4 3.4a1.8 1.4 67 1 0 -1.4 -3.4zM129.8 583.7a2.5 1.5 170 1 0 -4.9 0.8a2.5 1.5 170 1 0 4.9 -0.8zM162.9 495.5a2 1.6 85 1 0 0.3 4.1a2 1.6 85 1 0 -0.3 -4.1zM113.3 494.2a1.8 1.6 147 1 0 -3 1.9a1.8 1.6 147 1 0 3 -1.9zM129.4 527.4a2 1.6 93 1 0 -0.3 4a2 1.6 93 1 0 0.3 -4zM114.3 483a1.9 1.6 81 1 0 0.5 3.8a1.9 1.6 81 1 0 -0.5 -3.8zM67.6 520.2a2.2 1.5 79 1 0 0.8 4.4a2.2 1.5 79 1 0 -0.8 -4.4zM79.8 557.3a2.7 1.6 0 1 0 5.4 0a2.7 1.6 0 1 0 -5.4 0zM33.5 598.4a2.1 1.8 34 1 0 3.5 2.4a2.1 1.8 34 1 0 -3.5 -2.4zM141.9 599.3a2.3 1.8 28 1 0 4.1 2.2a2.3 1.8 28 1 0 -4.1 -2.2zM77.9 581.9a1.9 1.4 27 1 0 3.4 1.7a1.9 1.4 27 1 0 -3.4 -1.7zM66.4 607.4a2.7 1.7 35 1 0 4.5 3.1a2.7 1.7 35 1 0 -4.5 -3.1zM44.7 590.5a2.6 1.5 140 1 0 -4 3.2a2.6 1.5 140 1 0 4 -3.2zM129.4 471.5a2.1 1.3 52 1 0 2.6 3.3a2.1 1.3 52 1 0 -2.6 -3.3zM131.2 539.1a2 1.7 89 1 0 0 3.9a2 1.7 89 1 0 0 -3.9zM117.9 577a2.7 1.9 81 1 0 0.8 5.3a2.7 1.9 81 1 0 -0.8 -5.3zM54.4 611.7a2.3 1.5 28 1 0 4.1 2.2a2.3 1.5 28 1 0 -4.1 -2.2zM94.4 576.3a1.9 1.5 99 1 0 -0.6 3.7a1.9 1.5 99 1 0 0.6 -3.7zM132.6 544.4a2.6 1.6 21 1 0 4.9 1.9a2.6 1.6 21 1 0 -4.9 -1.9zM144.2 477.6a2.5 1.6 66 1 0 2 4.6a2.5 1.6 66 1 0 -2 -4.6zM34.6 609.3a2.2 1.8 103 1 0 -1.1 4.3a2.2 1.8 103 1 0 1.1 -4.3zM83.7 546a2.2 1.4 169 1 0 -4.3 0.8a2.2 1.4 169 1 0 4.3 -0.8zM152.3 511.2a2.3 1.6 91 1 0 -0.1 4.5a2.3 1.6 91 1 0 0.1 -4.5zM169.5 601.2a2.3 1.5 149 1 0 -3.9 2.3a2.3 1.5 149 1 0 3.9 -2.3zM72.7 547.1a2.6 1.6 7 1 0 5.2 0.7a2.6 1.6 7 1 0 -5.2 -0.7zM116.9 608.5a2.2 1.5 157 1 0 -4.1 1.7a2.2 1.5 157 1 0 4.1 -1.7zM148.7 555.8a2.4 1.5 102 1 0 -1 4.6a2.4 1.5 102 1 0 1 -4.6zM88.1 558.8a2 1.7 45 1 0 2.8 2.9a2 1.7 45 1 0 -2.8 -2.9zM60.1 571.7a2.7 1.7 129 1 0 -3.4 4.1a2.7 1.7 129 1 0 3.4 -4.1zM149.4 535.3a2.3 1.2 3 1 0 4.7 0.3a2.3 1.2 3 1 0 -4.7 -0.3zM91 525.3a1.7 1.4 74 1 0 0.9 3.3a1.7 1.4 74 1 0 -0.9 -3.3zM38.5 571.2a2 1.7 75 1 0 1 3.9a2 1.7 75 1 0 -1 -3.9zM163.5 585.8a2.2 1.6 32 1 0 3.7 2.3a2.2 1.6 32 1 0 -3.7 -2.3zM48.1 559.5a2.2 1.8 130 1 0 -2.9 3.3a2.2 1.8 130 1 0 2.9 -3.3zM92.5 505.8a2.4 1.7 161 1 0 -4.5 1.5a2.4 1.7 161 1 0 4.5 -1.5zM44.9 570.9a2.5 1.8 128 1 0 -3.1 3.9a2.5 1.8 128 1 0 3.1 -3.9zM172.7 549.7a2.9 1.7 160 1 0 -5.5 1.9a2.9 1.7 160 1 0 5.5 -1.9zM148.9 505.9a2.7 1.8 123 1 0 -2.9 4.4a2.7 1.8 123 1 0 2.9 -4.4zM167.3 519.9a2.5 1.6 134 1 0 -3.6 3.6a2.5 1.6 134 1 0 3.6 -3.6zM144.8 484.4a1.8 1.3 159 1 0 -3.3 1.2a1.8 1.3 159 1 0 3.3 -1.2zM62.6 550.5a2.5 1.3 160 1 0 -4.8 1.7a2.5 1.3 160 1 0 4.8 -1.7zM140.5 514.9a2.3 1.3 175 1 0 -4.5 0.4a2.3 1.3 175 1 0 4.5 -0.4zM58.9 582.7a2.4 1.3 33 1 0 4 2.6a2.4 1.3 33 1 0 -4 -2.6zM130.9 508.9a2.1 1.4 47 1 0 2.8 3.1a2.1 1.4 47 1 0 -2.8 -3.1zM152.1 578.6a2.1 1.5 86 1 0 0.3 4.3a2.1 1.5 86 1 0 -0.3 -4.3zM147.6 502a2.4 1.6 31 1 0 4 2.5a2.4 1.6 31 1 0 -4 -2.5zM171.2 495.8a2.4 1.4 174 1 0 -4.8 0.5a2.4 1.4 174 1 0 4.8 -0.5zM65.1 547.7a2.1 1.7 125 1 0 -2.5 3.5a2.1 1.7 125 1 0 2.5 -3.5zM57.2 530.9a2 1.6 137 1 0 -2.9 2.7a2 1.6 137 1 0 2.9 -2.7zM53.3 549.6a2.3 1.4 173 1 0 -4.5 0.5a2.3 1.4 173 1 0 4.5 -0.5zM35.8 556.9a2.7 1.6 15 1 0 5.1 1.4a2.7 1.6 15 1 0 -5.1 -1.4zM79.8 558.4a2.5 1.4 146 1 0 -4.1 2.8a2.5 1.4 146 1 0 4.1 -2.8zM147.6 475.6a2.4 1.6 64 1 0 2.1 4.4a2.4 1.6 64 1 0 -2.1 -4.4zM166.6 557.8a2.2 1.6 124 1 0 -2.5 3.7a2.2 1.6 124 1 0 2.5 -3.7zM107.2 532.4a1.9 1.3 6 1 0 3.7 0.4a1.9 1.3 6 1 0 -3.7 -0.4zM157.8 492.6a2.3 1.4 86 1 0 0.3 4.7a2.3 1.4 86 1 0 -0.3 -4.7zM155.9 558.8a2.4 1.5 49 1 0 3.1 3.6a2.4 1.5 49 1 0 -3.1 -3.6zM65.9 518.2a1.8 1.3 178 1 0 -3.6 0.1a1.8 1.3 178 1 0 3.6 -0.1zM168.3 582.1a1.7 1.5 25 1 0 3.1 1.5a1.7 1.5 25 1 0 -3.1 -1.5zM54.1 585.4a2.2 1.6 75 1 0 1.1 4.2a2.2 1.6 75 1 0 -1.1 -4.2zM158.1 585.6a2.6 1.4 81 1 0 0.8 5.1a2.6 1.4 81 1 0 -0.8 -5.1zM135 548.1a1.8 1.5 89 1 0 0.1 3.5a1.8 1.5 89 1 0 -0.1 -3.5zM173.2 591a2.3 1.6 159 1 0 -4.3 1.6a2.3 1.6 159 1 0 4.3 -1.6zM76 524.3a2.1 1.7 75 1 0 1.1 4.1a2.1 1.7 75 1 0 -1.1 -4.1zM156.8 555.3a2.4 1.3 128 1 0 -3 3.7a2.4 1.3 128 1 0 3 -3.7zM154.9 482.6a2 1.4 20 1 0 3.7 1.4a2 1.4 20 1 0 -3.7 -1.4zM144.3 510.9a2.2 1.4 110 1 0 -1.6 4.2a2.2 1.4 110 1 0 1.6 -4.2zM105.5 557.9a1.8 1.3 111 1 0 -1.3 3.3a1.8 1.3 111 1 0 1.3 -3.3zM49.2 582a1.9 1.6 170 1 0 -3.8 0.6a1.9 1.6 170 1 0 3.8 -0.6zM138.8 502a2.6 1.5 59 1 0 2.6 4.4a2.6 1.5 59 1 0 -2.6 -4.4zM162.4 601.2a2.2 1.7 124 1 0 -2.5 3.6a2.2 1.7 124 1 0 2.5 -3.6zM62.6 610.6a2 1.5 101 1 0 -0.8 3.9a2 1.5 101 1 0 0.8 -3.9zM96.4 536.5a1.8 1.3 97 1 0 -0.5 3.6a1.8 1.3 97 1 0 0.5 -3.6zM125 599.2a2.9 1.8 22 1 0 5.4 2.3a2.9 1.8 22 1 0 -5.4 -2.3zM68.6 509.3a2 1.5 26 1 0 3.6 1.8a2 1.5 26 1 0 -3.6 -1.8zM161.2 562.2a2.5 1.5 37 1 0 4 3a2.5 1.5 37 1 0 -4 -3zM72.6 569.8a1.8 1.3 48 1 0 2.4 2.7a1.8 1.3 48 1 0 -2.4 -2.7zM73.4 599.7a2.4 1.3 7 1 0 4.7 0.6a2.4 1.3 7 1 0 -4.7 -0.6zM124.8 499.5a2.1 1.3 76 1 0 0.9 4a2.1 1.3 76 1 0 -0.9 -4zM138 546.9a2.3 1.7 52 1 0 2.8 3.7a2.3 1.7 52 1 0 -2.8 -3.7zM66.7 551.9a2 1.3 22 1 0 3.7 1.6a2 1.3 22 1 0 -3.7 -1.6zM147.3 510.4a1.9 1.3 79 1 0 0.7 3.7a1.9 1.3 79 1 0 -0.7 -3.7zM134.4 471.4a2.5 1.7 72 1 0 1.5 4.7a2.5 1.7 72 1 0 -1.5 -4.7zM128.8 496a2.2 1.2 113 1 0 -1.8 4.1a2.2 1.2 113 1 0 1.8 -4.1zM81.1 515.7a2.2 1.9 168 1 0 -4.4 0.9a2.2 1.9 168 1 0 4.4 -0.9zM132.1 551.4a1.8 1.3 70 1 0 1.2 3.3a1.8 1.3 70 1 0 -1.2 -3.3zM103.8 510.8a2 1.4 35 1 0 3.3 2.3a2 1.4 35 1 0 -3.3 -2.3zM120.6 487.8a2 1.5 118 1 0 -1.9 3.4a2 1.5 118 1 0 1.9 -3.4zM65.5 599.6a2.1 1.6 132 1 0 -2.8 3.1a2.1 1.6 132 1 0 2.8 -3.1zM142.3 519.2a1.8 1.5 25 1 0 3.2 1.5a1.8 1.5 25 1 0 -3.2 -1.5zM150.8 491.9a2.3 1.3 171 1 0 -4.6 0.6a2.3 1.3 171 1 0 4.6 -0.6zM167.1 608.9a1.8 1.3 174 1 0 -3.5 0.3a1.8 1.3 174 1 0 3.5 -0.3zM117.2 557.7a2.8 1.8 173 1 0 -5.5 0.6a2.8 1.8 173 1 0 5.5 -0.6zM100 589.3a2.2 1.5 44 1 0 3.1 3.1a2.2 1.5 44 1 0 -3.1 -3.1zM137.4 531a2.2 1.9 112 1 0 -1.7 4.1a2.2 1.9 112 1 0 1.7 -4.1zM122.7 573.8a2.5 1.5 45 1 0 3.5 3.5a2.5 1.5 45 1 0 -3.5 -3.5zM90.4 489a1.9 1.6 52 1 0 2.3 3.1a1.9 1.6 52 1 0 -2.3 -3.1zM153.2 484.8a2.1 1.5 55 1 0 2.4 3.6a2.1 1.5 55 1 0 -2.4 -3.6zM117.5 475.7a2.4 1.3 154 1 0 -4.3 2a2.4 1.3 154 1 0 4.3 -2zM78.5 614.6a2.2 1.7 102 1 0 -0.9 4.2a2.2 1.7 102 1 0 0.9 -4.2zM144.1 604.1a2.1 1.5 56 1 0 2.3 3.5a2.1 1.5 56 1 0 -2.3 -3.5zM143 493.2a2.6 1.7 58 1 0 2.7 4.4a2.6 1.7 58 1 0 -2.7 -4.4zM113.4 508.9a2.5 1.6 124 1 0 -2.8 4.2a2.5 1.6 124 1 0 2.8 -4.2zM143 614a2.2 1.5 46 1 0 3.1 3.3a2.2 1.5 46 1 0 -3.1 -3.3zM85.6 518.7a2 1.4 168 1 0 -3.8 0.8a2 1.4 168 1 0 3.8 -0.8zM173.2 562.5a2.7 1.6 104 1 0 -1.4 5.2a2.7 1.6 104 1 0 1.4 -5.2zM41.8 596a2.8 1.5 169 1 0 -5.5 1a2.8 1.5 169 1 0 5.5 -1zM92.1 512.3a2.2 1.6 61 1 0 2.1 3.8a2.2 1.6 61 1 0 -2.1 -3.8zM147.6 604.5a2.5 1.6 24 1 0 4.5 2a2.5 1.6 24 1 0 -4.5 -2zM127 480.6a2.3 1.4 105 1 0 -1.2 4.5a2.3 1.4 105 1 0 1.2 -4.5zM172.9 598.1a2.6 1.8 168 1 0 -5.2 1.1a2.6 1.8 168 1 0 5.2 -1.1zM149 546.4a2.2 1.7 95 1 0 -0.4 4.3a2.2 1.7 95 1 0 0.4 -4.3zM136.3 611.2a2.5 1.6 147 1 0 -4.2 2.7a2.5 1.6 147 1 0 4.2 -2.7zM143.4 532.8a2.4 1.6 164 1 0 -4.7 1.3a2.4 1.6 164 1 0 4.7 -1.3zM92 497.6a2.2 1.6 79 1 0 0.8 4.4a2.2 1.6 79 1 0 -0.8 -4.4zM108.7 535.8a2.4 1.6 5 1 0 4.7 0.4a2.4 1.6 5 1 0 -4.7 -0.4zM97.4 485.2a2.4 1.4 121 1 0 -2.6 4.1a2.4 1.4 121 1 0 2.6 -4.1zM85.5 490.7a2.2 1.6 31 1 0 3.7 2.3a2.2 1.6 31 1 0 -3.7 -2.3zM119.5 598.6a2.4 1.5 117 1 0 -2.2 4.2a2.4 1.5 117 1 0 2.2 -4.2zM160.9 556.6a2.2 1.5 79 1 0 0.8 4.2a2.2 1.5 79 1 0 -0.8 -4.2zM107.3 569.5a2.3 1.5 108 1 0 -1.5 4.4a2.3 1.5 108 1 0 1.5 -4.4zM120.8 568.9a2.4 1.4 90 1 0 0 4.8a2.4 1.4 90 1 0 0 -4.8zM33.5 550.1a1.9 1.2 116 1 0 -1.7 3.5a1.9 1.2 116 1 0 1.7 -3.5zM60.9 558a2.6 1.6 104 1 0 -1.3 5a2.6 1.6 104 1 0 1.3 -5zM58 592.9a2.7 1.7 40 1 0 4.2 3.5a2.7 1.7 40 1 0 -4.2 -3.5zM134.9 495.5a1.9 1.4 81 1 0 0.6 3.7a1.9 1.4 81 1 0 -0.6 -3.7zM140.9 499.3a2.5 1.4 29 1 0 4.3 2.4a2.5 1.4 29 1 0 -4.3 -2.4zM46.5 571.8a1.7 1.2 53 1 0 2.1 2.8a1.7 1.2 53 1 0 -2.1 -2.8zM109.9 511.7a1.9 1.4 128 1 0 -2.4 3a1.9 1.4 128 1 0 2.4 -3zM32.4 569.3a2.7 1.8 66 1 0 2.1 4.9a2.7 1.8 66 1 0 -2.1 -4.9zM99.3 581.4a1.8 1.5 97 1 0 -0.5 3.5a1.8 1.5 97 1 0 0.5 -3.5zM161.3 615.8a2.6 1.8 178 1 0 -5.3 0.1a2.6 1.8 178 1 0 5.3 -0.1zM129 565a2 1.5 24 1 0 3.7 1.7a2 1.5 24 1 0 -3.7 -1.7zM97.4 603a2.7 1.5 53 1 0 3.2 4.4a2.7 1.5 53 1 0 -3.2 -4.4zM76.8 510.9a2.5 1.7 176 1 0 -5.1 0.3a2.5 1.7 176 1 0 5.1 -0.3zM76.5 521.2a2.7 1.9 158 1 0 -5.1 2a2.7 1.9 158 1 0 5.1 -2zM57.3 543.6a2.8 1.7 146 1 0 -4.7 3.1a2.8 1.7 146 1 0 4.7 -3.1zM146.8 532.6a2.3 1.2 18 1 0 4.3 1.4a2.3 1.2 18 1 0 -4.3 -1.4zM123.1 587.3a2.3 1.4 134 1 0 -3.2 3.2a2.3 1.4 134 1 0 3.2 -3.2zM81.3 532.5a2.1 1.6 108 1 0 -1.3 4a2.1 1.6 108 1 0 1.3 -4zM164.5 587.9a2.7 1.5 129 1 0 -3.5 4.3a2.7 1.5 129 1 0 3.5 -4.3zM163.2 532.6a2.3 1.4 50 1 0 2.9 3.6a2.3 1.4 50 1 0 -2.9 -3.6zM87.2 512.9a1.9 1.3 31 1 0 3.3 2a1.9 1.3 31 1 0 -3.3 -2zM36.6 545.7a2.2 1.4 92 1 0 -0.2 4.4a2.2 1.4 92 1 0 0.2 -4.4zM167.2 567a2.1 1.3 86 1 0 0.3 4.1a2.1 1.3 86 1 0 -0.3 -4.1zM122.3 615a2.5 1.7 159 1 0 -4.7 1.8a2.5 1.7 159 1 0 4.7 -1.8zM90.7 536.3a2.3 1.9 47 1 0 3.1 3.4a2.3 1.9 47 1 0 -3.1 -3.4zM44.9 611.1a2 1.4 155 1 0 -3.6 1.7a2 1.4 155 1 0 3.6 -1.7zM127.2 525.8a2 1.3 127 1 0 -2.4 3.2a2 1.3 127 1 0 2.4 -3.2zM139.7 607.2a2 1.6 31 1 0 3.4 2.1a2 1.6 31 1 0 -3.4 -2.1zM77.7 539.4a2.7 1.7 77 1 0 1.1 5.2a2.7 1.7 77 1 0 -1.1 -5.2zM102.4 574.2a2.2 1.5 108 1 0 -1.4 4.2a2.2 1.5 108 1 0 1.4 -4.2zM53.2 603.8a2.4 1.8 60 1 0 2.4 4.1a2.4 1.8 60 1 0 -2.4 -4.1zM105.6 492a2.8 1.8 34 1 0 4.6 3.2a2.8 1.8 34 1 0 -4.6 -3.2zM96.2 615.2a2.1 1.4 142 1 0 -3.4 2.6a2.1 1.4 142 1 0 3.4 -2.6zM43.5 540.5a2.3 1.7 59 1 0 2.3 3.9a2.3 1.7 59 1 0 -2.3 -3.9zM117.4 489.4a2 1.5 158 1 0 -3.7 1.5a2 1.5 158 1 0 3.7 -1.5zM166.1 579a2 1.3 22 1 0 3.7 1.5a2 1.3 22 1 0 -3.7 -1.5zM86.4 541.4a1.8 1.4 127 1 0 -2.2 2.9a1.8 1.4 127 1 0 2.2 -2.9zM121.4 508.9a2.1 1.5 143 1 0 -3.4 2.5a2.1 1.5 143 1 0 3.4 -2.5zM167.5 516.2a2 1.2 118 1 0 -2 3.6a2 1.2 118 1 0 2 -3.6zM111.4 522.6a2.7 1.8 82 1 0 0.7 5.3a2.7 1.8 82 1 0 -0.7 -5.3zM144.9 526.4a2.4 1.7 134 1 0 -3.4 3.5a2.4 1.7 134 1 0 3.4 -3.5zM61 597.1a2.3 1.5 4 1 0 4.7 0.3a2.3 1.5 4 1 0 -4.7 -0.3zM79.2 569.6a1.9 1.3 149 1 0 -3.2 1.9a1.9 1.3 149 1 0 3.2 -1.9zM107 544.5a2 1.7 154 1 0 -3.6 1.7a2 1.7 154 1 0 3.6 -1.7zM115.8 576.9a2.2 1.4 142 1 0 -3.6 2.8a2.2 1.4 142 1 0 3.6 -2.8zM79.7 606.6a2.2 1.4 162 1 0 -4.2 1.3a2.2 1.4 162 1 0 4.2 -1.3zM172 530.5a2 1.7 77 1 0 0.9 3.9a2 1.7 77 1 0 -0.9 -3.9zM59.8 533a1.9 1.5 95 1 0 -0.3 3.8a1.9 1.5 95 1 0 0.3 -3.8z"/>
<path fill="#c83030" opacity="0.6" d="M164.7 476.8a0.9 0.6 97 1 0 -0.2 1.7a0.9 0.6 97 1 0 0.2 -1.7zM156.6 493.8a0.9 0.4 63 1 0 0.8 1.5a0.9 0.4 63 1 0 -0.8 -1.5zM109.1 579.5a0.6 0.4 148 1 0 -1.1 0.7a0.6 0.4 148 1 0 1.1 -0.7zM98.8 576.2a0.7 0.4 43 1 0 1 1a0.7 0.4 43 1 0 -1 -1zM103.3 495a0.6 0.3 89 1 0 0 1.2a0.6 0.3 89 1 0 0 -1.2zM46.1 496a0.7 0.5 140 1 0 -1.1 0.9a0.7 0.5 140 1 0 1.1 -0.9zM116.4 475.9a0.7 0.5 154 1 0 -1.3 0.6a0.7 0.5 154 1 0 1.3 -0.6zM39.7 584.7a0.9 0.6 86 1 0 0.1 1.8a0.9 0.6 86 1 0 -0.1 -1.8zM59.7 599.1a0.9 0.6 79 1 0 0.3 1.7a0.9 0.6 79 1 0 -0.3 -1.7zM86 531.9a0.9 0.5 118 1 0 -0.9 1.6a0.9 0.5 118 1 0 0.9 -1.6zM152.8 576.9a0.6 0.4 93 1 0 -0.1 1.1a0.6 0.4 93 1 0 0.1 -1.1zM120.6 540.3a0.8 0.5 86 1 0 0.1 1.5a0.8 0.5 86 1 0 -0.1 -1.5zM98 600.3a0.6 0.4 38 1 0 0.9 0.7a0.6 0.4 38 1 0 -0.9 -0.7zM152.5 474.5a0.7 0.5 73 1 0 0.4 1.4a0.7 0.5 73 1 0 -0.4 -1.4zM113.2 542.8a0.6 0.4 22 1 0 1.2 0.5a0.6 0.4 22 1 0 -1.2 -0.5zM140.8 487.3a0.6 0.5 127 1 0 -0.7 1a0.6 0.5 127 1 0 0.7 -1zM95.5 478.2a0.5 0.3 53 1 0 0.6 0.8a0.5 0.3 53 1 0 -0.6 -0.8zM89.1 480.3a0.7 0.4 144 1 0 -1.1 0.8a0.7 0.4 144 1 0 1.1 -0.8zM124.2 504.4a0.5 0.3 71 1 0 0.3 1a0.5 0.3 71 1 0 -0.3 -1zM136 558.1a0.7 0.5 5 1 0 1.3 0.1a0.7 0.5 5 1 0 -1.3 -0.1zM102.1 579.9a0.4 0.3 165 1 0 -0.8 0.2a0.4 0.3 165 1 0 0.8 -0.2zM124.4 489.8a0.6 0.4 41 1 0 0.9 0.8a0.6 0.4 41 1 0 -0.9 -0.8zM133.7 524.9a0.8 0.4 23 1 0 1.4 0.6a0.8 0.4 23 1 0 -1.4 -0.6zM102.7 514.7a0.9 0.4 61 1 0 0.8 1.5a0.9 0.4 61 1 0 -0.8 -1.5zM113.3 545a0.8 0.5 40 1 0 1.2 1.1a0.8 0.5 40 1 0 -1.2 -1.1zM113.2 540.7a1.1 0.7 108 1 0 -0.7 2.1a1.1 0.7 108 1 0 0.7 -2.1zM44.4 509.6a0.8 0.5 47 1 0 1 1.1a0.8 0.5 47 1 0 -1 -1.1zM115.3 578.3a0.6 0.3 136 1 0 -0.9 0.9a0.6 0.3 136 1 0 0.9 -0.9zM58.3 564.5a0.9 0.6 32 1 0 1.5 0.9a0.9 0.6 32 1 0 -1.5 -0.9zM101.5 479.1a0.6 0.3 128 1 0 -0.8 1a0.6 0.3 128 1 0 0.8 -1zM151.5 533.6a0.8 0.5 170 1 0 -1.6 0.3a0.8 0.5 170 1 0 1.6 -0.3zM164.5 486.2a0.9 0.7 62 1 0 0.8 1.6a0.9 0.7 62 1 0 -0.8 -1.6zM69.7 564.4a0.8 0.5 167 1 0 -1.5 0.3a0.8 0.5 167 1 0 1.5 -0.3zM132.9 516.3a0.8 0.5 149 1 0 -1.4 0.8a0.8 0.5 149 1 0 1.4 -0.8zM128.2 504.4a0.6 0.4 118 1 0 -0.6 1.1a0.6 0.4 118 1 0 0.6 -1.1zM120.2 516.8a0.7 0.5 89 1 0 0 1.4a0.7 0.5 89 1 0 0 -1.4zM114.2 482a0.7 0.6 13 1 0 1.3 0.3a0.7 0.6 13 1 0 -1.3 -0.3zM78.6 585.6a0.5 0.4 164 1 0 -1.1 0.3a0.5 0.4 164 1 0 1.1 -0.3zM162.6 581.4a0.7 0.5 115 1 0 -0.6 1.3a0.7 0.5 115 1 0 0.6 -1.3zM135.2 507.6a0.7 0.6 101 1 0 -0.3 1.4a0.7 0.6 101 1 0 0.3 -1.4z"/>
<path fill="#5cc83a" d="M75.7 529.7a1.6 0.9 121 1 0 -1.7 2.8a1.6 0.9 121 1 0 1.7 -2.8zM157 539a1.6 0.9 35 1 0 2.6 1.9a1.6 0.9 35 1 0 -2.6 -1.9zM101.3 496.8a1.5 0.9 170 1 0 -3 0.5a1.5 0.9 170 1 0 3 -0.5zM127.6 485.5a1.5 0.8 0 1 0 3 0a1.5 0.8 0 1 0 -3 0zM97.8 484.7a1 0.5 22 1 0 1.8 0.8a1 0.5 22 1 0 -1.8 -0.8zM99.8 557.2a1.4 0.7 117 1 0 -1.3 2.4a1.4 0.7 117 1 0 1.3 -2.4zM104.9 510.8a1 0.6 134 1 0 -1.4 1.4a1 0.6 134 1 0 1.4 -1.4zM77.1 580.8a1.6 1.1 80 1 0 0.5 3.1a1.6 1.1 80 1 0 -0.5 -3.1zM104.4 547.8a0.9 0.8 14 1 0 1.7 0.4a0.9 0.8 14 1 0 -1.7 -0.4zM76.1 546.7a1.9 1.3 32 1 0 3.1 2a1.9 1.3 32 1 0 -3.1 -2zM111.5 511.9a1.1 0.6 80 1 0 0.4 2.2a1.1 0.6 80 1 0 -0.4 -2.2zM69.9 529.8a1 0.8 150 1 0 -1.8 1a1 0.8 150 1 0 1.8 -1zM101.6 545.4a1.9 1.2 46 1 0 2.5 2.7a1.9 1.2 46 1 0 -2.5 -2.7zM101.5 573.1a1 0.7 169 1 0 -2 0.4a1 0.7 169 1 0 2 -0.4zM91.7 552.6a1.6 0.9 140 1 0 -2.5 2a1.6 0.9 140 1 0 2.5 -2zM69.6 607.3a0.9 0.7 28 1 0 1.6 0.9a0.9 0.7 28 1 0 -1.6 -0.9zM148.7 562.3a1 0.6 118 1 0 -0.9 1.7a1 0.6 118 1 0 0.9 -1.7zM103.4 484.3a1.2 0.7 20 1 0 2.3 0.9a1.2 0.7 20 1 0 -2.3 -0.9zM112.2 571.7a0.9 0.7 53 1 0 1 1.4a0.9 0.7 53 1 0 -1 -1.4zM108.9 520.3a1.8 1 67 1 0 1.3 3.3a1.8 1 67 1 0 -1.3 -3.3zM99.8 581.7a1.7 1 3 1 0 3.3 0.2a1.7 1 3 1 0 -3.3 -0.2zM110.3 503.9a1.9 1.1 157 1 0 -3.5 1.5a1.9 1.1 157 1 0 3.5 -1.5zM134.7 586.4a1.7 1.2 54 1 0 2 2.8a1.7 1.2 54 1 0 -2 -2.8zM115.8 559.3a1.6 1.1 165 1 0 -3.1 0.8a1.6 1.1 165 1 0 3.1 -0.8zM107.8 599.8a1 0.6 114 1 0 -0.8 1.8a1 0.6 114 1 0 0.8 -1.8zM59.3 548.7a1 0.6 177 1 0 -2.1 0.1a1 0.6 177 1 0 2.1 -0.1zM98.9 524.4a1.6 0.9 86 1 0 0.2 3.2a1.6 0.9 86 1 0 -0.2 -3.2zM93.9 515.5a1 0.7 68 1 0 0.7 1.8a1 0.7 68 1 0 -0.7 -1.8zM95.9 539.9a1.6 1.1 155 1 0 -2.9 1.3a1.6 1.1 155 1 0 2.9 -1.3zM111.1 588.3a1.6 1.2 51 1 0 2 2.5a1.6 1.2 51 1 0 -2 -2.5zM86.2 596.6a1.1 0.8 155 1 0 -1.9 0.9a1.1 0.8 155 1 0 1.9 -0.9zM113.4 566.7a0.8 0.6 173 1 0 -1.6 0.2a0.8 0.6 173 1 0 1.6 -0.2zM137.9 532.3a1.8 1 43 1 0 2.6 2.5a1.8 1 43 1 0 -2.6 -2.5zM64.5 610.1a1.5 1 72 1 0 0.9 2.8a1.5 1 72 1 0 -0.9 -2.8zM90.7 585.8a1.5 0.8 163 1 0 -2.8 0.8a1.5 0.8 163 1 0 2.8 -0.8zM115.3 508.1a1.5 0.8 31 1 0 2.5 1.5a1.5 0.8 31 1 0 -2.5 -1.5zM111.8 574a1.1 0.9 100 1 0 -0.4 2.2a1.1 0.9 100 1 0 0.4 -2.2zM108.4 605.2a1.3 0.6 150 1 0 -2.3 1.3a1.3 0.6 150 1 0 2.3 -1.3zM109 536.3a1.5 1 140 1 0 -2.2 1.9a1.5 1 140 1 0 2.2 -1.9zM158.8 516a1.7 1 106 1 0 -0.9 3.2a1.7 1 106 1 0 0.9 -3.2zM149.9 488.2a1.5 0.9 174 1 0 -3 0.3a1.5 0.9 174 1 0 3 -0.3zM119.1 579.6a1.5 0.8 136 1 0 -2.2 2a1.5 0.8 136 1 0 2.2 -2zM76.9 495a1.5 1 13 1 0 2.9 0.7a1.5 1 13 1 0 -2.9 -0.7zM87.7 594.3a1.5 1.2 155 1 0 -2.7 1.2a1.5 1.2 155 1 0 2.7 -1.2zM126.4 574.9a1.3 0.7 103 1 0 -0.6 2.4a1.3 0.7 103 1 0 0.6 -2.4zM133.1 488.1a1.3 0.8 150 1 0 -2.2 1.2a1.3 0.8 150 1 0 2.2 -1.2zM78.9 508.4a1.2 0.6 120 1 0 -1.2 2a1.2 0.6 120 1 0 1.2 -2zM127 550.2a1.1 0.8 119 1 0 -1.1 1.9a1.1 0.8 119 1 0 1.1 -1.9zM166.7 537.4a1.4 0.9 156 1 0 -2.6 1.1a1.4 0.9 156 1 0 2.6 -1.1zM91.6 494.8a1.9 1.1 115 1 0 -1.6 3.5a1.9 1.1 115 1 0 1.6 -3.5zM119 598.9a0.8 0.5 68 1 0 0.6 1.5a0.8 0.5 68 1 0 -0.6 -1.5zM93.1 610.9a2.1 1.1 165 1 0 -4.1 1.1a2.1 1.1 165 1 0 4.1 -1.1zM120.6 518.6a1.3 0.8 152 1 0 -2.3 1.2a1.3 0.8 152 1 0 2.3 -1.2zM118.7 591.9a1.3 0.9 54 1 0 1.5 2.1a1.3 0.9 54 1 0 -1.5 -2.1zM109.6 600.4a1.7 0.9 102 1 0 -0.7 3.4a1.7 0.9 102 1 0 0.7 -3.4zM106 609.9a1.5 0.9 72 1 0 0.9 2.8a1.5 0.9 72 1 0 -0.9 -2.8zM91.8 587.9a1.2 0.8 127 1 0 -1.4 1.9a1.2 0.8 127 1 0 1.4 -1.9zM99.5 515.4a1.2 0.8 154 1 0 -2.2 1.1a1.2 0.8 154 1 0 2.2 -1.1zM80.4 515a2 1.2 38 1 0 3.1 2.4a2 1.2 38 1 0 -3.1 -2.4zM72.6 582.3a1.4 0.7 134 1 0 -1.9 1.9a1.4 0.7 134 1 0 1.9 -1.9zM88.2 561a1 0.8 74 1 0 0.5 1.9a1 0.8 74 1 0 -0.5 -1.9zM100.1 599a1.4 0.7 84 1 0 0.3 2.8a1.4 0.7 84 1 0 -0.3 -2.8zM95.6 598.9a1.8 1.2 154 1 0 -3.2 1.5a1.8 1.2 154 1 0 3.2 -1.5zM89.2 598a2 1.4 111 1 0 -1.5 3.8a2 1.4 111 1 0 1.5 -3.8zM67.1 520.3a2 1 62 1 0 1.9 3.6a2 1 62 1 0 -1.9 -3.6zM118.8 518.8a1.3 0.6 61 1 0 1.3 2.3a1.3 0.6 61 1 0 -1.3 -2.3zM87.5 552.6a1.3 0.8 62 1 0 1.2 2.3a1.3 0.8 62 1 0 -1.2 -2.3zM89.3 594.1a2 1 53 1 0 2.4 3.2a2 1 53 1 0 -2.4 -3.2zM100.3 594.8a1.8 0.9 13 1 0 3.5 0.8a1.8 0.9 13 1 0 -3.5 -0.8zM73.2 571.1a1.2 0.8 114 1 0 -1 2.1a1.2 0.8 114 1 0 1 -2.1zM99.3 483.8a1.2 0.9 3 1 0 2.4 0.1a1.2 0.9 3 1 0 -2.4 -0.1zM106.1 539.3a1.5 1 72 1 0 0.9 2.9a1.5 1 72 1 0 -0.9 -2.9zM104.5 557.7a1.7 1 148 1 0 -2.8 1.7a1.7 1 148 1 0 2.8 -1.7zM130.5 498a1.2 0.8 47 1 0 1.7 1.8a1.2 0.8 47 1 0 -1.7 -1.8zM91.4 594.4a1.2 0.7 109 1 0 -0.8 2.2a1.2 0.7 109 1 0 0.8 -2.2z"/>
<path fill="#e6ee3c" d="M75.5 530.1a1.2 0.7 121 1 0 -1.2 2a1.2 0.7 121 1 0 1.2 -2zM157.4 539.3a1.1 0.7 35 1 0 1.8 1.3a1.1 0.7 35 1 0 -1.8 -1.3zM100.8 496.9a1.1 0.6 170 1 0 -2.1 0.4a1.1 0.6 170 1 0 2.1 -0.4zM128 485.5a1.1 0.6 0 1 0 2.1 0a1.1 0.6 0 1 0 -2.1 0zM98.1 484.8a0.7 0.4 22 1 0 1.3 0.5a0.7 0.4 22 1 0 -1.3 -0.5zM99.6 557.6a1 0.5 117 1 0 -0.9 1.7a1 0.5 117 1 0 0.9 -1.7zM104.7 511.1a0.7 0.4 134 1 0 -1 1a0.7 0.4 134 1 0 1 -1zM77.2 581.2a1.1 0.8 80 1 0 0.4 2.2a1.1 0.8 80 1 0 -0.4 -2.2zM104.7 547.8a0.6 0.6 14 1 0 1.2 0.3a0.6 0.6 14 1 0 -1.2 -0.3zM76.6 547a1.3 0.9 32 1 0 2.2 1.4a1.3 0.9 32 1 0 -2.2 -1.4zM111.5 512.2a0.8 0.5 80 1 0 0.3 1.6a0.8 0.5 80 1 0 -0.3 -1.6zM69.6 529.9a0.7 0.6 150 1 0 -1.3 0.7a0.7 0.6 150 1 0 1.3 -0.7zM101.9 545.8a1.3 0.8 46 1 0 1.8 1.9a1.3 0.8 46 1 0 -1.8 -1.9zM101.2 573.1a0.7 0.5 169 1 0 -1.5 0.3a0.7 0.5 169 1 0 1.5 -0.3zM91.4 552.9a1.1 0.6 140 1 0 -1.8 1.5a1.1 0.6 140 1 0 1.8 -1.5zM69.9 607.5a0.7 0.5 28 1 0 1.2 0.6a0.7 0.5 28 1 0 -1.2 -0.6zM148.6 562.5a0.7 0.4 118 1 0 -0.7 1.2a0.7 0.4 118 1 0 0.7 -1.2zM103.7 484.4a0.9 0.5 20 1 0 1.7 0.6a0.9 0.5 20 1 0 -1.7 -0.6zM112.4 571.9a0.6 0.5 53 1 0 0.7 1a0.6 0.5 53 1 0 -0.7 -1zM109 520.8a1.3 0.7 67 1 0 1 2.3a1.3 0.7 67 1 0 -1 -2.3zM100.3 581.8a1.2 0.7 3 1 0 2.4 0.1a1.2 0.7 3 1 0 -2.4 -0.1zM109.8 504.1a1.4 0.8 157 1 0 -2.5 1.1a1.4 0.8 157 1 0 2.5 -1.1zM134.9 586.8a1.2 0.8 54 1 0 1.4 2a1.2 0.8 54 1 0 -1.4 -2zM115.4 559.4a1.2 0.8 165 1 0 -2.2 0.6a1.2 0.8 165 1 0 2.2 -0.6zM107.7 600.1a0.7 0.4 114 1 0 -0.6 1.3a0.7 0.4 114 1 0 0.6 -1.3zM59 548.7a0.7 0.4 177 1 0 -1.5 0.1a0.7 0.4 177 1 0 1.5 -0.1zM98.9 524.8a1.1 0.6 86 1 0 0.2 2.3a1.1 0.6 86 1 0 -0.2 -2.3zM94 515.8a0.7 0.5 68 1 0 0.5 1.3a0.7 0.5 68 1 0 -0.5 -1.3zM95.5 540.1a1.1 0.8 155 1 0 -2.1 0.9a1.1 0.8 155 1 0 2.1 -0.9zM111.4 588.7a1.2 0.8 51 1 0 1.4 1.8a1.2 0.8 51 1 0 -1.4 -1.8zM85.9 596.8a0.8 0.6 155 1 0 -1.4 0.6a0.8 0.6 155 1 0 1.4 -0.6zM113.2 566.7a0.6 0.4 173 1 0 -1.1 0.1a0.6 0.4 173 1 0 1.1 -0.1zM138.3 532.6a1.3 0.7 43 1 0 1.8 1.8a1.3 0.7 43 1 0 -1.8 -1.8zM64.6 610.5a1.1 0.7 72 1 0 0.6 2a1.1 0.7 72 1 0 -0.6 -2zM90.3 585.9a1 0.6 163 1 0 -2 0.6a1 0.6 163 1 0 2 -0.6zM115.7 508.3a1 0.6 31 1 0 1.8 1.1a1 0.6 31 1 0 -1.8 -1.1zM111.7 574.3a0.8 0.6 100 1 0 -0.3 1.6a0.8 0.6 100 1 0 0.3 -1.6zM108.1 605.3a0.9 0.4 150 1 0 -1.6 0.9a0.9 0.4 150 1 0 1.6 -0.9zM108.6 536.6a1 0.7 140 1 0 -1.6 1.3a1 0.7 140 1 0 1.6 -1.3zM158.7 516.4a1.2 0.7 106 1 0 -0.7 2.3a1.2 0.7 106 1 0 0.7 -2.3zM149.5 488.3a1.1 0.7 174 1 0 -2.1 0.2a1.1 0.7 174 1 0 2.1 -0.2zM118.8 579.9a1.1 0.6 136 1 0 -1.5 1.5a1.1 0.6 136 1 0 1.5 -1.5zM77.3 495.1a1.1 0.7 13 1 0 2.1 0.5a1.1 0.7 13 1 0 -2.1 -0.5zM87.4 594.5a1.1 0.8 155 1 0 -1.9 0.9a1.1 0.8 155 1 0 1.9 -0.9zM126.3 575.2a0.9 0.5 103 1 0 -0.4 1.7a0.9 0.5 103 1 0 0.4 -1.7zM132.8 488.3a0.9 0.6 150 1 0 -1.6 0.9a0.9 0.6 150 1 0 1.6 -0.9zM78.8 508.7a0.8 0.5 120 1 0 -0.8 1.4a0.8 0.5 120 1 0 0.8 -1.4zM126.8 550.4a0.8 0.5 119 1 0 -0.8 1.3a0.8 0.5 119 1 0 0.8 -1.3zM166.3 537.6a1 0.7 156 1 0 -1.9 0.8a1 0.7 156 1 0 1.9 -0.8zM91.4 495.3a1.4 0.8 115 1 0 -1.2 2.5a1.4 0.8 115 1 0 1.2 -2.5zM119.1 599.1a0.6 0.4 68 1 0 0.4 1.1a0.6 0.4 68 1 0 -0.4 -1.1zM92.6 611.1a1.5 0.8 165 1 0 -2.9 0.8a1.5 0.8 165 1 0 2.9 -0.8zM120.3 518.8a0.9 0.5 152 1 0 -1.6 0.8a0.9 0.5 152 1 0 1.6 -0.8zM118.9 592.2a0.9 0.6 54 1 0 1.1 1.5a0.9 0.6 54 1 0 -1.1 -1.5zM109.5 600.9a1.2 0.6 102 1 0 -0.5 2.4a1.2 0.6 102 1 0 0.5 -2.4zM106.1 610.3a1.1 0.6 72 1 0 0.6 2a1.1 0.6 72 1 0 -0.6 -2zM91.6 588.2a0.8 0.6 127 1 0 -1 1.3a0.8 0.6 127 1 0 1 -1.3zM99.1 515.6a0.9 0.5 154 1 0 -1.6 0.8a0.9 0.5 154 1 0 1.6 -0.8zM80.9 515.3a1.4 0.9 38 1 0 2.2 1.7a1.4 0.9 38 1 0 -2.2 -1.7zM72.3 582.6a1 0.5 134 1 0 -1.4 1.4a1 0.5 134 1 0 1.4 -1.4zM88.2 561.3a0.7 0.5 74 1 0 0.4 1.3a0.7 0.5 74 1 0 -0.4 -1.3zM100.1 599.4a1 0.5 84 1 0 0.2 2a1 0.5 84 1 0 -0.2 -2zM95.1 599.2a1.3 0.8 154 1 0 -2.3 1.1a1.3 0.8 154 1 0 2.3 -1.1zM89 598.6a1.4 1 111 1 0 -1.1 2.7a1.4 1 111 1 0 1.1 -2.7zM67.4 520.8a1.4 0.7 62 1 0 1.3 2.5a1.4 0.7 62 1 0 -1.3 -2.5zM119 519.1a0.9 0.4 61 1 0 0.9 1.6a0.9 0.4 61 1 0 -0.9 -1.6zM87.7 553a0.9 0.6 62 1 0 0.8 1.6a0.9 0.6 62 1 0 -0.8 -1.6zM89.7 594.6a1.4 0.7 53 1 0 1.7 2.3a1.4 0.7 53 1 0 -1.7 -2.3zM100.8 594.9a1.3 0.6 13 1 0 2.5 0.6a1.3 0.6 13 1 0 -2.5 -0.6zM73.1 571.4a0.8 0.6 114 1 0 -0.7 1.5a0.8 0.6 114 1 0 0.7 -1.5zM99.7 483.9a0.8 0.6 3 1 0 1.7 0.1a0.8 0.6 3 1 0 -1.7 -0.1zM106.2 539.7a1.1 0.7 72 1 0 0.7 2.1a1.1 0.7 72 1 0 -0.7 -2.1zM104.1 557.9a1.2 0.7 148 1 0 -2 1.2a1.2 0.7 148 1 0 2 -1.2zM130.8 498.3a0.9 0.5 47 1 0 1.2 1.3a0.9 0.5 47 1 0 -1.2 -1.3zM91.3 594.7a0.8 0.5 109 1 0 -0.6 1.6a0.8 0.5 109 1 0 0.6 -1.6z"/>
</g></g>
<g clip-path="url(#ci00)"><g filter="url(#soft2)">
<rect x="172.3" y="183.9" width="45.5" height="45" fill="#0b0710" />
<path fill="#3b2da2" d="M174.8 186.3a6 2.5 0 1 0 12 0a6 2.5 0 1 0 -12 0zM180.8 190.2a5.5 2.3 0 1 0 11 0a5.5 2.3 0 1 0 -11 0zM192.3 186.4a6 2.5 0 1 0 12 0a6 2.5 0 1 0 -12 0zM193.8 191.9a2.5 2.2 0 1 0 5 0a2.5 2.2 0 1 0 -5 0zM209.8 189.9a4 3.8 0 1 0 8 0a4 3.8 0 1 0 -8 0zM171.3 193.9a2.5 3.5 0 1 0 5 0a2.5 3.5 0 1 0 -5 0zM180.6 194.9a2.2 2.2 0 1 0 4.4 0a2.2 2.2 0 1 0 -4.4 0zM194.8 203.2a5 3 0 1 0 10 0a5 3 0 1 0 -10 0zM205.2 200.8a4.5 2.8 10 1 0 8.9 1.6a4.5 2.8 10 1 0 -8.9 -1.6zM170.8 209.9a3.5 4.5 0 1 0 7 0a3.5 4.5 0 1 0 -7 0zM186.2 210.4a3.5 2.2 0 1 0 7 0a3.5 2.2 0 1 0 -7 0zM189.3 215.4a4 3.2 0 1 0 8 0a4 3.2 0 1 0 -8 0zM203.3 212.9a3 4.5 0 1 0 6 0a3 4.5 0 1 0 -6 0zM192.3 221.9a4.5 4 0 1 0 9 0a4.5 4 0 1 0 -9 0zM201.8 225.4a5.5 3 0 1 0 11 0a5.5 3 0 1 0 -11 0zM176.8 224.9a3.5 2.5 0 1 0 7 0a3.5 2.5 0 1 0 -7 0z"/>
<path fill="#48b040" d="M176.7 195.4a2.4 3.1 0 1 0 4.8 0a2.4 3.1 0 1 0 -4.8 0zM185.9 204.7a2.4 2.8 0 1 0 4.8 0a2.4 2.8 0 1 0 -4.8 0zM194.2 203.2a2.1 2.4 0 1 0 4.2 0a2.1 2.4 0 1 0 -4.2 0zM207.9 203.9a3.4 2.1 0 1 0 6.9 0a3.4 2.1 0 1 0 -6.9 0zM175.6 210.4a1.7 2.4 0 1 0 3.3 0a1.7 2.4 0 1 0 -3.3 0zM189.7 216.4a2.4 2.4 0 1 0 4.8 0a2.4 2.4 0 1 0 -4.8 0zM215.1 198.9a1.7 1.5 0 1 0 3.3 0a1.7 1.5 0 1 0 -3.3 0z"/>
<path fill="#e0e040" d="M177.3 195.4a1.8 2.4 0 1 0 3.7 0a1.8 2.4 0 1 0 -3.7 0zM186.5 204.7a1.8 2.2 0 1 0 3.7 0a1.8 2.2 0 1 0 -3.7 0zM194.7 203.2a1.6 1.8 0 1 0 3.2 0a1.6 1.8 0 1 0 -3.2 0zM208.7 203.9a2.6 1.6 0 1 0 5.3 0a2.6 1.6 0 1 0 -5.3 0zM176 210.4a1.3 1.8 0 1 0 2.6 0a1.3 1.8 0 1 0 -2.6 0zM190.3 216.4a1.8 1.8 0 1 0 3.7 0a1.8 1.8 0 1 0 -3.7 0zM215.5 198.9a1.3 1.1 0 1 0 2.6 0a1.3 1.1 0 1 0 -2.6 0z"/>
</g></g>
<rect x="204.6" y="226" width="9" height="1.2" fill="#e0e0e0" />
<g clip-path="url(#ci01)"><g filter="url(#soft2)">
<rect x="172.3" y="231.2" width="45.5" height="45" fill="#0b0710" />
<path fill="#3b2da2" d="M174.8 233.6a6 2.5 0 1 0 12 0a6 2.5 0 1 0 -12 0zM180.8 237.5a5.5 2.3 0 1 0 11 0a5.5 2.3 0 1 0 -11 0zM192.3 233.7a6 2.5 0 1 0 12 0a6 2.5 0 1 0 -12 0zM193.8 239.2a2.5 2.2 0 1 0 5 0a2.5 2.2 0 1 0 -5 0zM209.8 237.2a4 3.8 0 1 0 8 0a4 3.8 0 1 0 -8 0zM171.3 241.2a2.5 3.5 0 1 0 5 0a2.5 3.5 0 1 0 -5 0zM180.6 242.2a2.2 2.2 0 1 0 4.4 0a2.2 2.2 0 1 0 -4.4 0zM194.8 250.5a5 3 0 1 0 10 0a5 3 0 1 0 -10 0zM205.2 248.1a4.5 2.8 10 1 0 8.9 1.6a4.5 2.8 10 1 0 -8.9 -1.6zM170.8 257.2a3.5 4.5 0 1 0 7 0a3.5 4.5 0 1 0 -7 0zM186.2 257.7a3.5 2.2 0 1 0 7 0a3.5 2.2 0 1 0 -7 0zM189.3 262.7a4 3.2 0 1 0 8 0a4 3.2 0 1 0 -8 0zM203.3 260.2a3 4.5 0 1 0 6 0a3 4.5 0 1 0 -6 0zM192.3 269.2a4.5 4 0 1 0 9 0a4.5 4 0 1 0 -9 0zM201.8 272.7a5.5 3 0 1 0 11 0a5.5 3 0 1 0 -11 0zM176.8 272.2a3.5 2.5 0 1 0 7 0a3.5 2.5 0 1 0 -7 0z"/>
<path fill="#901830" d="M176.7 242.7a2.4 3.1 0 1 0 4.8 0a2.4 3.1 0 1 0 -4.8 0zM185.9 252a2.4 2.8 0 1 0 4.8 0a2.4 2.8 0 1 0 -4.8 0zM194.2 250.5a2.1 2.4 0 1 0 4.2 0a2.1 2.4 0 1 0 -4.2 0zM207.9 251.2a3.4 2.1 0 1 0 6.9 0a3.4 2.1 0 1 0 -6.9 0zM175.6 257.7a1.7 2.4 0 1 0 3.3 0a1.7 2.4 0 1 0 -3.3 0zM189.7 263.7a2.4 2.4 0 1 0 4.8 0a2.4 2.4 0 1 0 -4.8 0zM215.1 246.2a1.7 1.5 0 1 0 3.3 0a1.7 1.5 0 1 0 -3.3 0z"/>
<path fill="#d82030" d="M177.3 242.7a1.8 2.4 0 1 0 3.7 0a1.8 2.4 0 1 0 -3.7 0zM186.5 252a1.8 2.2 0 1 0 3.7 0a1.8 2.2 0 1 0 -3.7 0zM194.7 250.5a1.6 1.8 0 1 0 3.2 0a1.6 1.8 0 1 0 -3.2 0zM208.7 251.2a2.6 1.6 0 1 0 5.3 0a2.6 1.6 0 1 0 -5.3 0zM176 257.7a1.3 1.8 0 1 0 2.6 0a1.3 1.8 0 1 0 -2.6 0zM190.3 263.7a1.8 1.8 0 1 0 3.7 0a1.8 1.8 0 1 0 -3.7 0zM215.5 246.2a1.3 1.1 0 1 0 2.6 0a1.3 1.1 0 1 0 -2.6 0z"/>
</g></g>
<rect x="204.6" y="273.3" width="9" height="1.2" fill="#e0e0e0" />
<g clip-path="url(#ci02)"><g filter="url(#soft2)">
<rect x="172.3" y="278.8" width="45.5" height="45" fill="#0b0710" />
<path fill="#3b2da2" d="M174.8 281.2a6 2.5 0 1 0 12 0a6 2.5 0 1 0 -12 0zM180.8 285.1a5.5 2.3 0 1 0 11 0a5.5 2.3 0 1 0 -11 0zM192.3 281.3a6 2.5 0 1 0 12 0a6 2.5 0 1 0 -12 0zM193.8 286.8a2.5 2.2 0 1 0 5 0a2.5 2.2 0 1 0 -5 0zM209.8 284.8a4 3.8 0 1 0 8 0a4 3.8 0 1 0 -8 0zM171.3 288.8a2.5 3.5 0 1 0 5 0a2.5 3.5 0 1 0 -5 0zM180.6 289.8a2.2 2.2 0 1 0 4.4 0a2.2 2.2 0 1 0 -4.4 0zM194.8 298.1a5 3 0 1 0 10 0a5 3 0 1 0 -10 0zM205.2 295.7a4.5 2.8 10 1 0 8.9 1.6a4.5 2.8 10 1 0 -8.9 -1.6zM170.8 304.8a3.5 4.5 0 1 0 7 0a3.5 4.5 0 1 0 -7 0zM186.2 305.3a3.5 2.2 0 1 0 7 0a3.5 2.2 0 1 0 -7 0zM189.3 310.3a4 3.2 0 1 0 8 0a4 3.2 0 1 0 -8 0zM203.3 307.8a3 4.5 0 1 0 6 0a3 4.5 0 1 0 -6 0zM192.3 316.8a4.5 4 0 1 0 9 0a4.5 4 0 1 0 -9 0zM201.8 320.3a5.5 3 0 1 0 11 0a5.5 3 0 1 0 -11 0zM176.8 319.8a3.5 2.5 0 1 0 7 0a3.5 2.5 0 1 0 -7 0z"/>
<path fill="#287a30" d="M176.7 290.3a2.4 3.1 0 1 0 4.8 0a2.4 3.1 0 1 0 -4.8 0zM185.9 299.6a2.4 2.8 0 1 0 4.8 0a2.4 2.8 0 1 0 -4.8 0zM194.2 298.1a2.1 2.4 0 1 0 4.2 0a2.1 2.4 0 1 0 -4.2 0zM207.9 298.8a3.4 2.1 0 1 0 6.9 0a3.4 2.1 0 1 0 -6.9 0zM175.6 305.3a1.7 2.4 0 1 0 3.3 0a1.7 2.4 0 1 0 -3.3 0zM189.7 311.3a2.4 2.4 0 1 0 4.8 0a2.4 2.4 0 1 0 -4.8 0zM215.1 293.8a1.7 1.5 0 1 0 3.3 0a1.7 1.5 0 1 0 -3.3 0z"/>
<path fill="#40c048" d="M177.3 290.3a1.8 2.4 0 1 0 3.7 0a1.8 2.4 0 1 0 -3.7 0zM186.5 299.6a1.8 2.2 0 1 0 3.7 0a1.8 2.2 0 1 0 -3.7 0zM194.7 298.1a1.6 1.8 0 1 0 3.2 0a1.6 1.8 0 1 0 -3.2 0zM208.7 298.8a2.6 1.6 0 1 0 5.3 0a2.6 1.6 0 1 0 -5.3 0zM176 305.3a1.3 1.8 0 1 0 2.6 0a1.3 1.8 0 1 0 -2.6 0zM190.3 311.3a1.8 1.8 0 1 0 3.7 0a1.8 1.8 0 1 0 -3.7 0zM215.5 293.8a1.3 1.1 0 1 0 2.6 0a1.3 1.1 0 1 0 -2.6 0z"/>
</g></g>
<rect x="204.6" y="320.9" width="9" height="1.2" fill="#e0e0e0" />
<g clip-path="url(#ci10)"><g filter="url(#soft2)">
<rect x="172.3" y="329" width="45.5" height="45" fill="#0b0710" />
<path fill="#3b2da2" d="M177.8 332.5a3 2.8 0 1 0 6 0a3 2.8 0 1 0 -6 0zM188.7 333.6a3.6 3 0 1 0 7.2 0a3.6 3 0 1 0 -7.2 0zM194.2 339.5a3.6 2.4 -20 1 0 6.8 -2.5a3.6 2.4 -20 1 0 -6.8 2.5zM202.1 332.3a3.2 2.2 0 1 0 6.4 0a3.2 2.2 0 1 0 -6.4 0zM210.7 334.3a2 1.8 0 1 0 4 0a2 1.8 0 1 0 -4 0zM213.8 338.3a2.5 2.5 0 1 0 5 0a2.5 2.5 0 1 0 -5 0zM208.3 340.5a1.8 1.8 0 1 0 3.6 0a1.8 1.8 0 1 0 -3.6 0zM171.3 333.5a2 3 0 1 0 4 0a2 3 0 1 0 -4 0zM173.8 342.5a5 2 0 1 0 10 0a5 2 0 1 0 -10 0zM200.2 341.8a2.7 1.4 0 1 0 5.4 0a2.7 1.4 0 1 0 -5.4 0zM199.4 346.2a2.7 2.2 0 1 0 5.4 0a2.7 2.2 0 1 0 -5.4 0zM206.5 346.3a3.6 3.1 0 1 0 7.2 0a3.6 3.1 0 1 0 -7.2 0zM176 348.5a2.8 2.6 0 1 0 5.6 0a2.8 2.6 0 1 0 -5.6 0zM180.1 349.8a3.5 2.2 -15 1 0 6.8 -1.8a3.5 2.2 -15 1 0 -6.8 1.8zM198.6 352.5a2.7 2.2 0 1 0 5.4 0a2.7 2.2 0 1 0 -5.4 0zM207.4 352.5a3.1 2.2 0 1 0 6.2 0a3.1 2.2 0 1 0 -6.2 0zM213 355.5a2.8 2.7 0 1 0 5.6 0a2.8 2.7 0 1 0 -5.6 0zM173.9 354.7a4.4 1.8 0 1 0 8.8 0a4.4 1.8 0 1 0 -8.8 0zM186.2 357.3a3.5 2.6 0 1 0 7 0a3.5 2.6 0 1 0 -7 0zM203.8 358.6a2.7 2.2 0 1 0 5.4 0a2.7 2.2 0 1 0 -5.4 0zM193.9 359.5a1.4 1.4 0 1 0 2.8 0a1.4 1.4 0 1 0 -2.8 0zM171.3 360.4a2.5 3.1 0 1 0 5 0a2.5 3.1 0 1 0 -5 0zM178.3 360a3.5 2.6 0 1 0 7 0a3.5 2.6 0 1 0 -7 0zM178.3 364a3.5 2.2 0 1 0 7 0a3.5 2.2 0 1 0 -7 0zM189.6 365.7a2.7 3.1 0 1 0 5.4 0a2.7 3.1 0 1 0 -5.4 0zM197.7 365.7a2.2 3.1 0 1 0 4.4 0a2.2 3.1 0 1 0 -4.4 0zM213 365.3a2.8 2.7 0 1 0 5.6 0a2.8 2.7 0 1 0 -5.6 0zM177.3 368.8a2.2 1.8 0 1 0 4.4 0a2.2 1.8 0 1 0 -4.4 0zM195 371.5a3.1 1.8 0 1 0 6.2 0a3.1 1.8 0 1 0 -6.2 0zM174.6 372.4a2.7 1.8 0 1 0 5.4 0a2.7 1.8 0 1 0 -5.4 0z"/>
<path fill="#38a040" d="M189.2 366a0.9 0.7 163 1 0 -1.8 0.5a0.9 0.7 163 1 0 1.8 -0.5zM197.9 347.7a1.1 0.8 10 1 0 2.1 0.4a1.1 0.8 10 1 0 -2.1 -0.4zM196.2 349.7a1.2 0.9 70 1 0 0.8 2.2a1.2 0.9 70 1 0 -0.8 -2.2zM199.9 335.5a1.2 0.9 78 1 0 0.5 2.3a1.2 0.9 78 1 0 -0.5 -2.3zM201.7 338.8a1.4 1 136 1 0 -2 1.9a1.4 1 136 1 0 2 -1.9zM197 347a1.3 1 149 1 0 -2.2 1.3a1.3 1 149 1 0 2.2 -1.3zM193.2 355.1a1.2 0.9 90 1 0 0 2.4a1.2 0.9 90 1 0 0 -2.4zM189.7 364.6a0.9 0.6 81 1 0 0.2 1.7a0.9 0.6 81 1 0 -0.2 -1.7zM188.8 365.2a1.1 0.9 101 1 0 -0.4 2.3a1.1 0.9 101 1 0 0.4 -2.3zM191.6 360.4a1.4 1 11 1 0 2.7 0.6a1.4 1 11 1 0 -2.7 -0.6zM198.4 341.3a0.7 0.6 67 1 0 0.6 1.4a0.7 0.6 67 1 0 -0.6 -1.4zM199.1 342.8a0.9 0.7 105 1 0 -0.5 1.8a0.9 0.7 105 1 0 0.5 -1.8zM195.1 350.9a0.8 0.6 21 1 0 1.5 0.6a0.8 0.6 21 1 0 -1.5 -0.6zM190 365a0.8 0.6 73 1 0 0.5 1.5a0.8 0.6 73 1 0 -0.5 -1.5zM195.6 354.8a1.3 1 114 1 0 -1.1 2.3a1.3 1 114 1 0 1.1 -2.3zM188.3 366.4a1.4 1 14 1 0 2.6 0.7a1.4 1 14 1 0 -2.6 -0.7zM201.1 341.1a1.2 0.9 151 1 0 -2 1.1a1.2 0.9 151 1 0 2 -1.1zM200.5 334.9a1 0.7 76 1 0 0.5 1.9a1 0.7 76 1 0 -0.5 -1.9zM201.3 334.2a1.1 0.9 125 1 0 -1.3 1.8a1.1 0.9 125 1 0 1.3 -1.8zM197.1 353a1.4 1 171 1 0 -2.7 0.4a1.4 1 171 1 0 2.7 -0.4zM200.4 334.9a1.3 1 114 1 0 -1.1 2.4a1.3 1 114 1 0 1.1 -2.4zM196.6 346.3a1.2 0.9 86 1 0 0.1 2.3a1.2 0.9 86 1 0 -0.1 -2.3zM179.3 344.3a0.9 0.8 0 1 0 1.8 0a0.9 0.8 0 1 0 -1.8 0zM180 345a0.9 0.8 0 1 0 1.8 0a0.9 0.8 0 1 0 -1.8 0zM174.9 345.1a0.9 0.8 0 1 0 1.8 0a0.9 0.8 0 1 0 -1.8 0zM174.5 344.4a0.9 0.8 0 1 0 1.8 0a0.9 0.8 0 1 0 -1.8 0zM178.4 345.9a0.9 0.8 0 1 0 1.8 0a0.9 0.8 0 1 0 -1.8 0zM193.6 352.3a2.3 2 0 1 0 4.7 0a2.3 2 0 1 0 -4.7 0zM193.2 353.5a1.6 1.3 0 1 0 3.1 0a1.6 1.3 0 1 0 -3.1 0z"/>
<path fill="#c8e440" d="M189 366.1a0.7 0.5 163 1 0 -1.4 0.4a0.7 0.5 163 1 0 1.4 -0.4zM198.1 347.7a0.8 0.6 10 1 0 1.7 0.3a0.8 0.6 10 1 0 -1.7 -0.3zM196.3 350a0.9 0.7 70 1 0 0.6 1.7a0.9 0.7 70 1 0 -0.6 -1.7zM200 335.8a0.9 0.7 78 1 0 0.4 1.7a0.9 0.7 78 1 0 -0.4 -1.7zM201.5 339a1.1 0.8 136 1 0 -1.5 1.5a1.1 0.8 136 1 0 1.5 -1.5zM196.8 347.2a1 0.8 149 1 0 -1.7 1a1 0.8 149 1 0 1.7 -1zM193.2 355.3a0.9 0.7 90 1 0 0 1.8a0.9 0.7 90 1 0 0 -1.8zM189.8 364.8a0.7 0.5 81 1 0 0.2 1.3a0.7 0.5 81 1 0 -0.2 -1.3zM188.8 365.5a0.9 0.7 101 1 0 -0.3 1.7a0.9 0.7 101 1 0 0.3 -1.7zM192 360.4a1.1 0.8 11 1 0 2.1 0.4a1.1 0.8 11 1 0 -2.1 -0.4zM198.4 341.4a0.6 0.4 67 1 0 0.4 1a0.6 0.4 67 1 0 -0.4 -1zM199.1 343a0.7 0.5 105 1 0 -0.4 1.4a0.7 0.5 105 1 0 0.4 -1.4zM195.3 350.9a0.6 0.5 21 1 0 1.2 0.4a0.6 0.5 21 1 0 -1.2 -0.4zM190.1 365.2a0.6 0.5 73 1 0 0.4 1.2a0.6 0.5 73 1 0 -0.4 -1.2zM195.4 355a1 0.7 114 1 0 -0.8 1.8a1 0.7 114 1 0 0.8 -1.8zM188.6 366.5a1 0.8 14 1 0 2 0.5a1 0.8 14 1 0 -2 -0.5zM200.9 341.2a0.9 0.7 151 1 0 -1.6 0.8a0.9 0.7 151 1 0 1.6 -0.8zM200.5 335.1a0.8 0.6 76 1 0 0.4 1.5a0.8 0.6 76 1 0 -0.4 -1.5zM201.1 334.4a0.9 0.7 125 1 0 -1 1.4a0.9 0.7 125 1 0 1 -1.4zM196.8 353a1 0.8 171 1 0 -2.1 0.3a1 0.8 171 1 0 2.1 -0.3zM200.3 335.2a1 0.8 114 1 0 -0.8 1.9a1 0.8 114 1 0 0.8 -1.9zM196.6 346.6a0.9 0.7 86 1 0 0.1 1.8a0.9 0.7 86 1 0 -0.1 -1.8zM179.5 344.3a0.7 0.6 0 1 0 1.4 0a0.7 0.6 0 1 0 -1.4 0zM180.3 345a0.7 0.6 0 1 0 1.4 0a0.7 0.6 0 1 0 -1.4 0zM175.1 345.1a0.7 0.6 0 1 0 1.4 0a0.7 0.6 0 1 0 -1.4 0zM174.7 344.4a0.7 0.6 0 1 0 1.4 0a0.7 0.6 0 1 0 -1.4 0zM178.6 345.9a0.7 0.6 0 1 0 1.4 0a0.7 0.6 0 1 0 -1.4 0zM194.1 352.3a1.8 1.5 0 1 0 3.6 0a1.8 1.5 0 1 0 -3.6 0zM193.6 353.5a1.2 1 0 1 0 2.4 0a1.2 1 0 1 0 -2.4 0z"/>
</g></g>
<rect x="204.6" y="371.1" width="9" height="1.2" fill="#e0e0e0" />
<g clip-path="url(#ci11)"><g filter="url(#soft2)">
<rect x="172.3" y="376.6" width="45.5" height="45" fill="#0b0710" />
<path fill="#3b2da2" d="M177.8 380.1a3 2.8 0 1 0 6 0a3 2.8 0 1 0 -6 0zM188.7 381.2a3.6 3 0 1 0 7.2 0a3.6 3 0 1 0 -7.2 0zM194.2 387.1a3.6 2.4 -20 1 0 6.8 -2.5a3.6 2.4 -20 1 0 -6.8 2.5zM202.1 379.9a3.2 2.2 0 1 0 6.4 0a3.2 2.2 0 1 0 -6.4 0zM210.7 381.9a2 1.8 0 1 0 4 0a2 1.8 0 1 0 -4 0zM213.8 385.9a2.5 2.5 0 1 0 5 0a2.5 2.5 0 1 0 -5 0zM208.3 388.1a1.8 1.8 0 1 0 3.6 0a1.8 1.8 0 1 0 -3.6 0zM171.3 381.1a2 3 0 1 0 4 0a2 3 0 1 0 -4 0zM173.8 390.1a5 2 0 1 0 10 0a5 2 0 1 0 -10 0zM200.2 389.4a2.7 1.4 0 1 0 5.4 0a2.7 1.4 0 1 0 -5.4 0zM199.4 393.8a2.7 2.2 0 1 0 5.4 0a2.7 2.2 0 1 0 -5.4 0zM206.5 393.9a3.6 3.1 0 1 0 7.2 0a3.6 3.1 0 1 0 -7.2 0zM176 396.1a2.8 2.6 0 1 0 5.6 0a2.8 2.6 0 1 0 -5.6 0zM180.1 397.4a3.5 2.2 -15 1 0 6.8 -1.8a3.5 2.2 -15 1 0 -6.8 1.8zM198.6 400.1a2.7 2.2 0 1 0 5.4 0a2.7 2.2 0 1 0 -5.4 0zM207.4 400.1a3.1 2.2 0 1 0 6.2 0a3.1 2.2 0 1 0 -6.2 0zM213 403.1a2.8 2.7 0 1 0 5.6 0a2.8 2.7 0 1 0 -5.6 0zM173.9 402.3a4.4 1.8 0 1 0 8.8 0a4.4 1.8 0 1 0 -8.8 0zM186.2 404.9a3.5 2.6 0 1 0 7 0a3.5 2.6 0 1 0 -7 0zM203.8 406.2a2.7 2.2 0 1 0 5.4 0a2.7 2.2 0 1 0 -5.4 0zM193.9 407.1a1.4 1.4 0 1 0 2.8 0a1.4 1.4 0 1 0 -2.8 0zM171.3 408a2.5 3.1 0 1 0 5 0a2.5 3.1 0 1 0 -5 0zM178.3 407.6a3.5 2.6 0 1 0 7 0a3.5 2.6 0 1 0 -7 0zM178.3 411.6a3.5 2.2 0 1 0 7 0a3.5 2.2 0 1 0 -7 0zM189.6 413.3a2.7 3.1 0 1 0 5.4 0a2.7 3.1 0 1 0 -5.4 0zM197.7 413.3a2.2 3.1 0 1 0 4.4 0a2.2 3.1 0 1 0 -4.4 0zM213 412.9a2.8 2.7 0 1 0 5.6 0a2.8 2.7 0 1 0 -5.6 0zM177.3 416.4a2.2 1.8 0 1 0 4.4 0a2.2 1.8 0 1 0 -4.4 0zM195 419.1a3.1 1.8 0 1 0 6.2 0a3.1 1.8 0 1 0 -6.2 0zM174.6 420a2.7 1.8 0 1 0 5.4 0a2.7 1.8 0 1 0 -5.4 0z"/>
<path fill="#d02030" d="M189 413.7a0.7 0.5 163 1 0 -1.4 0.4a0.7 0.5 163 1 0 1.4 -0.4zM198.1 395.3a0.8 0.6 10 1 0 1.7 0.3a0.8 0.6 10 1 0 -1.7 -0.3zM196.3 397.6a0.9 0.7 70 1 0 0.6 1.7a0.9 0.7 70 1 0 -0.6 -1.7zM200 383.4a0.9 0.7 78 1 0 0.4 1.7a0.9 0.7 78 1 0 -0.4 -1.7zM201.5 386.6a1.1 0.8 136 1 0 -1.5 1.5a1.1 0.8 136 1 0 1.5 -1.5zM196.8 394.8a1 0.8 149 1 0 -1.7 1a1 0.8 149 1 0 1.7 -1zM193.2 402.9a0.9 0.7 90 1 0 0 1.8a0.9 0.7 90 1 0 0 -1.8zM189.8 412.4a0.7 0.5 81 1 0 0.2 1.3a0.7 0.5 81 1 0 -0.2 -1.3zM188.8 413.1a0.9 0.7 101 1 0 -0.3 1.7a0.9 0.7 101 1 0 0.3 -1.7zM192 408a1.1 0.8 11 1 0 2.1 0.4a1.1 0.8 11 1 0 -2.1 -0.4zM198.4 389a0.6 0.4 67 1 0 0.4 1a0.6 0.4 67 1 0 -0.4 -1zM199.1 390.6a0.7 0.5 105 1 0 -0.4 1.4a0.7 0.5 105 1 0 0.4 -1.4zM195.3 398.5a0.6 0.5 21 1 0 1.2 0.4a0.6 0.5 21 1 0 -1.2 -0.4zM190.1 412.8a0.6 0.5 73 1 0 0.4 1.2a0.6 0.5 73 1 0 -0.4 -1.2zM195.4 402.6a1 0.7 114 1 0 -0.8 1.8a1 0.7 114 1 0 0.8 -1.8zM188.6 414.1a1 0.8 14 1 0 2 0.5a1 0.8 14 1 0 -2 -0.5zM200.9 388.8a0.9 0.7 151 1 0 -1.6 0.8a0.9 0.7 151 1 0 1.6 -0.8zM200.5 382.7a0.8 0.6 76 1 0 0.4 1.5a0.8 0.6 76 1 0 -0.4 -1.5zM201.1 382a0.9 0.7 125 1 0 -1 1.4a0.9 0.7 125 1 0 1 -1.4zM196.8 400.6a1 0.8 171 1 0 -2.1 0.3a1 0.8 171 1 0 2.1 -0.3zM200.3 382.8a1 0.8 114 1 0 -0.8 1.9a1 0.8 114 1 0 0.8 -1.9zM196.6 394.2a0.9 0.7 86 1 0 0.1 1.8a0.9 0.7 86 1 0 -0.1 -1.8zM179.5 391.9a0.7 0.6 0 1 0 1.4 0a0.7 0.6 0 1 0 -1.4 0zM180.3 392.6a0.7 0.6 0 1 0 1.4 0a0.7 0.6 0 1 0 -1.4 0zM175.1 392.7a0.7 0.6 0 1 0 1.4 0a0.7 0.6 0 1 0 -1.4 0zM174.7 392a0.7 0.6 0 1 0 1.4 0a0.7 0.6 0 1 0 -1.4 0zM178.6 393.5a0.7 0.6 0 1 0 1.4 0a0.7 0.6 0 1 0 -1.4 0zM194.1 399.9a1.8 1.5 0 1 0 3.6 0a1.8 1.5 0 1 0 -3.6 0zM193.6 401.1a1.2 1 0 1 0 2.4 0a1.2 1 0 1 0 -2.4 0z"/>
</g></g>
<rect x="204.6" y="418.7" width="9" height="1.2" fill="#e0e0e0" />
<g clip-path="url(#ci12)"><g filter="url(#soft2)">
<rect x="172.3" y="424.1" width="45.5" height="45" fill="#0b0710" />
<path fill="#3b2da2" d="M177.8 427.6a3 2.8 0 1 0 6 0a3 2.8 0 1 0 -6 0zM188.7 428.7a3.6 3 0 1 0 7.2 0a3.6 3 0 1 0 -7.2 0zM194.2 434.6a3.6 2.4 -20 1 0 6.8 -2.5a3.6 2.4 -20 1 0 -6.8 2.5zM202.1 427.4a3.2 2.2 0 1 0 6.4 0a3.2 2.2 0 1 0 -6.4 0zM210.7 429.4a2 1.8 0 1 0 4 0a2 1.8 0 1 0 -4 0zM213.8 433.4a2.5 2.5 0 1 0 5 0a2.5 2.5 0 1 0 -5 0zM208.3 435.6a1.8 1.8 0 1 0 3.6 0a1.8 1.8 0 1 0 -3.6 0zM171.3 428.6a2 3 0 1 0 4 0a2 3 0 1 0 -4 0zM173.8 437.6a5 2 0 1 0 10 0a5 2 0 1 0 -10 0zM200.2 436.9a2.7 1.4 0 1 0 5.4 0a2.7 1.4 0 1 0 -5.4 0zM199.4 441.3a2.7 2.2 0 1 0 5.4 0a2.7 2.2 0 1 0 -5.4 0zM206.5 441.4a3.6 3.1 0 1 0 7.2 0a3.6 3.1 0 1 0 -7.2 0zM176 443.6a2.8 2.6 0 1 0 5.6 0a2.8 2.6 0 1 0 -5.6 0zM180.1 444.9a3.5 2.2 -15 1 0 6.8 -1.8a3.5 2.2 -15 1 0 -6.8 1.8zM198.6 447.6a2.7 2.2 0 1 0 5.4 0a2.7 2.2 0 1 0 -5.4 0zM207.4 447.6a3.1 2.2 0 1 0 6.2 0a3.1 2.2 0 1 0 -6.2 0zM213 450.6a2.8 2.7 0 1 0 5.6 0a2.8 2.7 0 1 0 -5.6 0zM173.9 449.8a4.4 1.8 0 1 0 8.8 0a4.4 1.8 0 1 0 -8.8 0zM186.2 452.4a3.5 2.6 0 1 0 7 0a3.5 2.6 0 1 0 -7 0zM203.8 453.7a2.7 2.2 0 1 0 5.4 0a2.7 2.2 0 1 0 -5.4 0zM193.9 454.6a1.4 1.4 0 1 0 2.8 0a1.4 1.4 0 1 0 -2.8 0zM171.3 455.5a2.5 3.1 0 1 0 5 0a2.5 3.1 0 1 0 -5 0zM178.3 455.1a3.5 2.6 0 1 0 7 0a3.5 2.6 0 1 0 -7 0zM178.3 459.1a3.5 2.2 0 1 0 7 0a3.5 2.2 0 1 0 -7 0zM189.6 460.8a2.7 3.1 0 1 0 5.4 0a2.7 3.1 0 1 0 -5.4 0zM197.7 460.8a2.2 3.1 0 1 0 4.4 0a2.2 3.1 0 1 0 -4.4 0zM213 460.4a2.8 2.7 0 1 0 5.6 0a2.8 2.7 0 1 0 -5.6 0zM177.3 463.9a2.2 1.8 0 1 0 4.4 0a2.2 1.8 0 1 0 -4.4 0zM195 466.6a3.1 1.8 0 1 0 6.2 0a3.1 1.8 0 1 0 -6.2 0zM174.6 467.5a2.7 1.8 0 1 0 5.4 0a2.7 1.8 0 1 0 -5.4 0z"/>
<path fill="#38b040" d="M189 461.2a0.7 0.5 163 1 0 -1.4 0.4a0.7 0.5 163 1 0 1.4 -0.4zM198.1 442.8a0.8 0.6 10 1 0 1.7 0.3a0.8 0.6 10 1 0 -1.7 -0.3zM196.3 445.1a0.9 0.7 70 1 0 0.6 1.7a0.9 0.7 70 1 0 -0.6 -1.7zM200 430.9a0.9 0.7 78 1 0 0.4 1.7a0.9 0.7 78 1 0 -0.4 -1.7zM201.5 434.1a1.1 0.8 136 1 0 -1.5 1.5a1.1 0.8 136 1 0 1.5 -1.5zM196.8 442.3a1 0.8 149 1 0 -1.7 1a1 0.8 149 1 0 1.7 -1zM193.2 450.4a0.9 0.7 90 1 0 0 1.8a0.9 0.7 90 1 0 0 -1.8zM189.8 459.9a0.7 0.5 81 1 0 0.2 1.3a0.7 0.5 81 1 0 -0.2 -1.3zM188.8 460.6a0.9 0.7 101 1 0 -0.3 1.7a0.9 0.7 101 1 0 0.3 -1.7zM192 455.5a1.1 0.8 11 1 0 2.1 0.4a1.1 0.8 11 1 0 -2.1 -0.4zM198.4 436.5a0.6 0.4 67 1 0 0.4 1a0.6 0.4 67 1 0 -0.4 -1zM199.1 438.1a0.7 0.5 105 1 0 -0.4 1.4a0.7 0.5 105 1 0 0.4 -1.4zM195.3 446a0.6 0.5 21 1 0 1.2 0.4a0.6 0.5 21 1 0 -1.2 -0.4zM190.1 460.3a0.6 0.5 73 1 0 0.4 1.2a0.6 0.5 73 1 0 -0.4 -1.2zM195.4 450.1a1 0.7 114 1 0 -0.8 1.8a1 0.7 114 1 0 0.8 -1.8zM188.6 461.6a1 0.8 14 1 0 2 0.5a1 0.8 14 1 0 -2 -0.5zM200.9 436.3a0.9 0.7 151 1 0 -1.6 0.8a0.9 0.7 151 1 0 1.6 -0.8zM200.5 430.2a0.8 0.6 76 1 0 0.4 1.5a0.8 0.6 76 1 0 -0.4 -1.5zM201.1 429.5a0.9 0.7 125 1 0 -1 1.4a0.9 0.7 125 1 0 1 -1.4zM196.8 448.1a1 0.8 171 1 0 -2.1 0.3a1 0.8 171 1 0 2.1 -0.3zM200.3 430.3a1 0.8 114 1 0 -0.8 1.9a1 0.8 114 1 0 0.8 -1.9zM196.6 441.7a0.9 0.7 86 1 0 0.1 1.8a0.9 0.7 86 1 0 -0.1 -1.8zM179.5 439.4a0.7 0.6 0 1 0 1.4 0a0.7 0.6 0 1 0 -1.4 0zM180.3 440.1a0.7 0.6 0 1 0 1.4 0a0.7 0.6 0 1 0 -1.4 0zM175.1 440.2a0.7 0.6 0 1 0 1.4 0a0.7 0.6 0 1 0 -1.4 0zM174.7 439.5a0.7 0.6 0 1 0 1.4 0a0.7 0.6 0 1 0 -1.4 0zM178.6 441a0.7 0.6 0 1 0 1.4 0a0.7 0.6 0 1 0 -1.4 0zM194.1 447.4a1.8 1.5 0 1 0 3.6 0a1.8 1.5 0 1 0 -3.6 0zM193.6 448.6a1.2 1 0 1 0 2.4 0a1.2 1 0 1 0 -2.4 0z"/>
</g></g>
<rect x="204.6" y="466.2" width="9" height="1.2" fill="#e0e0e0" />
<g clip-path="url(#ci20)"><g filter="url(#soft2)">
<rect x="172.3" y="475.2" width="45.5" height="45" fill="#0b0710" />
<path fill="#3b2da2" d="M185.7 485a6.5 5 20 1 0 12.2 4.4a6.5 5 20 1 0 -12.2 -4.4zM189.8 498.2a6.5 5.5 0 1 0 13 0a6.5 5.5 0 1 0 -13 0zM199.3 498.2a4 3.5 0 1 0 8 0a4 3.5 0 1 0 -8 0zM188.8 504.2a6.5 3.5 0 1 0 13 0a6.5 3.5 0 1 0 -13 0zM194.3 511.7a3.5 3 0 1 0 7 0a3.5 3 0 1 0 -7 0zM179 485.2a2.8 2.2 0 1 0 5.6 0a2.8 2.2 0 1 0 -5.6 0zM175.6 491.7a3 2.6 0 1 0 6 0a3 2.6 0 1 0 -6 0zM179.8 498a3 2 0 1 0 6 0a3 2 0 1 0 -6 0zM205.8 498.2a4 2.5 0 1 0 8 0a4 2.5 0 1 0 -8 0zM210.3 502.2a4 3 0 1 0 8 0a4 3 0 1 0 -8 0zM212.3 480.2a3 4 0 1 0 6 0a3 4 0 1 0 -6 0zM214.8 489.2a2.5 3 0 1 0 5 0a2.5 3 0 1 0 -5 0zM170.8 509.2a2.5 5 0 1 0 5 0a2.5 5 0 1 0 -5 0zM177.5 511.7a2.8 2.2 0 1 0 5.6 0a2.8 2.2 0 1 0 -5.6 0zM182.8 518.2a3.5 2.5 0 1 0 7 0a3.5 2.5 0 1 0 -7 0zM174.8 475.7a5 2 0 1 0 10 0a5 2 0 1 0 -10 0zM204.8 476.2a4.5 2.5 0 1 0 9 0a4.5 2.5 0 1 0 -9 0zM194.8 519.2a4.5 2.5 0 1 0 9 0a4.5 2.5 0 1 0 -9 0zM183.4 480.5a5.5 1.8 -10 1 0 10.8 -1.9a5.5 1.8 -10 1 0 -10.8 1.9zM209.3 515.2a3 2.5 0 1 0 6 0a3 2.5 0 1 0 -6 0zM172.3 479.2a2 3 0 1 0 4 0a2 3 0 1 0 -4 0z"/>
<path fill="#48b040" d="M190.1 485.7a2.7 4.1 0 1 0 5.5 0a2.7 4.1 0 1 0 -5.5 0zM175.7 495.2a3.6 3.2 0 1 0 7.3 0a3.6 3.2 0 1 0 -7.3 0zM182 496.2a2.3 2.3 0 1 0 4.5 0a2.3 2.3 0 1 0 -4.5 0zM188.1 495.4a2 1.8 0 1 0 4 0a2 1.8 0 1 0 -4 0zM193.6 509.7a2.7 2.5 0 1 0 5.5 0a2.7 2.5 0 1 0 -5.5 0zM206.8 500.7a2.5 2.3 0 1 0 5.1 0a2.5 2.3 0 1 0 -5.1 0zM182.7 514.7a1.6 1.5 0 1 0 3.3 0a1.6 1.5 0 1 0 -3.3 0z"/>
<path fill="#e0e040" d="M190.7 485.7a2.1 3.1 0 1 0 4.2 0a2.1 3.1 0 1 0 -4.2 0zM176.5 495.2a2.8 2.4 0 1 0 5.6 0a2.8 2.4 0 1 0 -5.6 0zM182.6 496.2a1.8 1.8 0 1 0 3.5 0a1.8 1.8 0 1 0 -3.5 0zM188.6 495.4a1.5 1.4 0 1 0 3.1 0a1.5 1.4 0 1 0 -3.1 0zM194.2 509.7a2.1 2 0 1 0 4.2 0a2.1 2 0 1 0 -4.2 0zM207.3 500.7a2 1.8 0 1 0 3.9 0a2 1.8 0 1 0 -3.9 0zM183 514.7a1.3 1.1 0 1 0 2.5 0a1.3 1.1 0 1 0 -2.5 0z"/>
</g></g>
<rect x="204.6" y="517.3" width="9" height="1.2" fill="#e0e0e0" />
<g clip-path="url(#ci21)"><g filter="url(#soft2)">
<rect x="172.3" y="522.5" width="45.5" height="45" fill="#0b0710" />
<path fill="#3b2da2" d="M185.7 532.3a6.5 5 20 1 0 12.2 4.4a6.5 5 20 1 0 -12.2 -4.4zM189.8 545.5a6.5 5.5 0 1 0 13 0a6.5 5.5 0 1 0 -13 0zM199.3 545.5a4 3.5 0 1 0 8 0a4 3.5 0 1 0 -8 0zM188.8 551.5a6.5 3.5 0 1 0 13 0a6.5 3.5 0 1 0 -13 0zM194.3 559a3.5 3 0 1 0 7 0a3.5 3 0 1 0 -7 0zM179 532.5a2.8 2.2 0 1 0 5.6 0a2.8 2.2 0 1 0 -5.6 0zM175.6 539a3 2.6 0 1 0 6 0a3 2.6 0 1 0 -6 0zM179.8 545.3a3 2 0 1 0 6 0a3 2 0 1 0 -6 0zM205.8 545.5a4 2.5 0 1 0 8 0a4 2.5 0 1 0 -8 0zM210.3 549.5a4 3 0 1 0 8 0a4 3 0 1 0 -8 0zM212.3 527.5a3 4 0 1 0 6 0a3 4 0 1 0 -6 0zM214.8 536.5a2.5 3 0 1 0 5 0a2.5 3 0 1 0 -5 0zM170.8 556.5a2.5 5 0 1 0 5 0a2.5 5 0 1 0 -5 0zM177.5 559a2.8 2.2 0 1 0 5.6 0a2.8 2.2 0 1 0 -5.6 0zM182.8 565.5a3.5 2.5 0 1 0 7 0a3.5 2.5 0 1 0 -7 0zM174.8 523a5 2 0 1 0 10 0a5 2 0 1 0 -10 0zM204.8 523.5a4.5 2.5 0 1 0 9 0a4.5 2.5 0 1 0 -9 0zM194.8 566.5a4.5 2.5 0 1 0 9 0a4.5 2.5 0 1 0 -9 0zM183.4 527.8a5.5 1.8 -10 1 0 10.8 -1.9a5.5 1.8 -10 1 0 -10.8 1.9zM209.3 562.5a3 2.5 0 1 0 6 0a3 2.5 0 1 0 -6 0zM172.3 526.5a2 3 0 1 0 4 0a2 3 0 1 0 -4 0z"/>
<path fill="#901830" d="M190.1 533a2.7 4.1 0 1 0 5.5 0a2.7 4.1 0 1 0 -5.5 0zM175.7 542.5a3.6 3.2 0 1 0 7.3 0a3.6 3.2 0 1 0 -7.3 0zM182 543.5a2.3 2.3 0 1 0 4.5 0a2.3 2.3 0 1 0 -4.5 0zM188.1 542.7a2 1.8 0 1 0 4 0a2 1.8 0 1 0 -4 0zM193.6 557a2.7 2.5 0 1 0 5.5 0a2.7 2.5 0 1 0 -5.5 0zM206.8 548a2.5 2.3 0 1 0 5.1 0a2.5 2.3 0 1 0 -5.1 0zM182.7 562a1.6 1.5 0 1 0 3.3 0a1.6 1.5 0 1 0 -3.3 0z"/>
<path fill="#d82030" d="M190.7 533a2.1 3.1 0 1 0 4.2 0a2.1 3.1 0 1 0 -4.2 0zM176.5 542.5a2.8 2.4 0 1 0 5.6 0a2.8 2.4 0 1 0 -5.6 0zM182.6 543.5a1.8 1.8 0 1 0 3.5 0a1.8 1.8 0 1 0 -3.5 0zM188.6 542.7a1.5 1.4 0 1 0 3.1 0a1.5 1.4 0 1 0 -3.1 0zM194.2 557a2.1 2 0 1 0 4.2 0a2.1 2 0 1 0 -4.2 0zM207.3 548a2 1.8 0 1 0 3.9 0a2 1.8 0 1 0 -3.9 0zM183 562a1.3 1.1 0 1 0 2.5 0a1.3 1.1 0 1 0 -2.5 0z"/>
</g></g>
<rect x="204.6" y="564.6" width="9" height="1.2" fill="#e0e0e0" />
<g clip-path="url(#ci22)"><g filter="url(#soft2)">
<rect x="172.3" y="570" width="45.5" height="45" fill="#0b0710" />
<path fill="#3b2da2" d="M185.7 579.8a6.5 5 20 1 0 12.2 4.4a6.5 5 20 1 0 -12.2 -4.4zM189.8 593a6.5 5.5 0 1 0 13 0a6.5 5.5 0 1 0 -13 0zM199.3 593a4 3.5 0 1 0 8 0a4 3.5 0 1 0 -8 0zM188.8 599a6.5 3.5 0 1 0 13 0a6.5 3.5 0 1 0 -13 0zM194.3 606.5a3.5 3 0 1 0 7 0a3.5 3 0 1 0 -7 0zM179 580a2.8 2.2 0 1 0 5.6 0a2.8 2.2 0 1 0 -5.6 0zM175.6 586.5a3 2.6 0 1 0 6 0a3 2.6 0 1 0 -6 0zM179.8 592.8a3 2 0 1 0 6 0a3 2 0 1 0 -6 0zM205.8 593a4 2.5 0 1 0 8 0a4 2.5 0 1 0 -8 0zM210.3 597a4 3 0 1 0 8 0a4 3 0 1 0 -8 0zM212.3 575a3 4 0 1 0 6 0a3 4 0 1 0 -6 0zM214.8 584a2.5 3 0 1 0 5 0a2.5 3 0 1 0 -5 0zM170.8 604a2.5 5 0 1 0 5 0a2.5 5 0 1 0 -5 0zM177.5 606.5a2.8 2.2 0 1 0 5.6 0a2.8 2.2 0 1 0 -5.6 0zM182.8 613a3.5 2.5 0 1 0 7 0a3.5 2.5 0 1 0 -7 0zM174.8 570.5a5 2 0 1 0 10 0a5 2 0 1 0 -10 0zM204.8 571a4.5 2.5 0 1 0 9 0a4.5 2.5 0 1 0 -9 0zM194.8 614a4.5 2.5 0 1 0 9 0a4.5 2.5 0 1 0 -9 0zM183.4 575.3a5.5 1.8 -10 1 0 10.8 -1.9a5.5 1.8 -10 1 0 -10.8 1.9zM209.3 610a3 2.5 0 1 0 6 0a3 2.5 0 1 0 -6 0zM172.3 574a2 3 0 1 0 4 0a2 3 0 1 0 -4 0z"/>
<path fill="#287a30" d="M190.1 580.5a2.7 4.1 0 1 0 5.5 0a2.7 4.1 0 1 0 -5.5 0zM175.7 590a3.6 3.2 0 1 0 7.3 0a3.6 3.2 0 1 0 -7.3 0zM182 591a2.3 2.3 0 1 0 4.5 0a2.3 2.3 0 1 0 -4.5 0zM188.1 590.2a2 1.8 0 1 0 4 0a2 1.8 0 1 0 -4 0zM193.6 604.5a2.7 2.5 0 1 0 5.5 0a2.7 2.5 0 1 0 -5.5 0zM206.8 595.5a2.5 2.3 0 1 0 5.1 0a2.5 2.3 0 1 0 -5.1 0zM182.7 609.5a1.6 1.5 0 1 0 3.3 0a1.6 1.5 0 1 0 -3.3 0z"/>
<path fill="#40c048" d="M190.7 580.5a2.1 3.1 0 1 0 4.2 0a2.1 3.1 0 1 0 -4.2 0zM176.5 590a2.8 2.4 0 1 0 5.6 0a2.8 2.4 0 1 0 -5.6 0zM182.6 591a1.8 1.8 0 1 0 3.5 0a1.8 1.8 0 1 0 -3.5 0zM188.6 590.2a1.5 1.4 0 1 0 3.1 0a1.5 1.4 0 1 0 -3.1 0zM194.2 604.5a2.1 2 0 1 0 4.2 0a2.1 2 0 1 0 -4.2 0zM207.3 595.5a2 1.8 0 1 0 3.9 0a2 1.8 0 1 0 -3.9 0zM183 609.5a1.3 1.1 0 1 0 2.5 0a1.3 1.1 0 1 0 -2.5 0z"/>
</g></g>
<rect x="204.6" y="612.1" width="9" height="1.2" fill="#e0e0e0" />
<rect x="153.2" y="316.2" width="4" height="2" fill="#f0f0f0" />
<rect x="154.7" y="606.8" width="4" height="2.2" fill="#f0f0f0" />
<g stroke="#fff" stroke-width="1.5" fill="none" stroke-dasharray="3.4 1.6"><rect x="99.9" y="246.9" width="23.3" height="23.7"/><line x1="123.2" y1="246.9" x2="170.5" y2="183.9"/><line x1="123.2" y1="270.6" x2="170.5" y2="323.9"/></g>
<g stroke="#fff" stroke-width="1.5" fill="none" stroke-dasharray="3.4 1.6"><rect x="73.5" y="402.8" width="23.2" height="23.8"/><line x1="96.7" y1="402.8" x2="170.5" y2="328.9"/><line x1="96.7" y1="426.6" x2="170.5" y2="468.9"/></g>
<g stroke="#fff" stroke-width="1.5" fill="none" stroke-dasharray="3.4 1.6"><rect x="104.6" y="529.8" width="23.6" height="24"/><line x1="128.2" y1="529.8" x2="170.5" y2="475.1"/><line x1="128.2" y1="553.8" x2="170.5" y2="614.7"/></g>
<text x="221.7" y="301.2" font-size="8.1" fill="#d8383a">ATG5</text>
<text x="221.7" y="311.1" font-size="8.1" fill="#3da04e">EPX</text>
<text x="221.7" y="321" font-size="8.1" fill="#4d44a4" textLength="55.5" lengthAdjust="spacingAndGlyphs">Hoechst 33342</text>
<text x="221.7" y="446.2" font-size="8.1" fill="#d8383a">ATG5</text>
<text x="221.7" y="456.1" font-size="8.1" fill="#3da04e">EPX</text>
<text x="221.7" y="466" font-size="8.1" fill="#4d44a4" textLength="55.5" lengthAdjust="spacingAndGlyphs">Hoechst 33342</text>
<text x="221.7" y="592.5" font-size="8.1" fill="#d8383a">ATG5</text>
<text x="221.7" y="602.4" font-size="8.1" fill="#3da04e">EPX</text>
<text x="221.7" y="612.3" font-size="8.1" fill="#4d44a4" textLength="55.5" lengthAdjust="spacingAndGlyphs">Hoechst 33342</text>
<text transform="translate(28.9,252) rotate(-90)" font-size="8.5" text-anchor="middle" textLength="96.6" lengthAdjust="spacingAndGlyphs">Angiolymphoid hyperplasia</text>
<text transform="translate(28.9,397) rotate(-90)" font-size="8.5" text-anchor="middle" textLength="106.1" lengthAdjust="spacingAndGlyphs">Eosinophilic esophagitis (EoE)</text>
<text transform="translate(28.9,542.5) rotate(-90)" font-size="8.5" text-anchor="middle" textLength="97.5" lengthAdjust="spacingAndGlyphs">Sebaceous gland carcinoma</text>
</g>
</svg>
</body></html>
